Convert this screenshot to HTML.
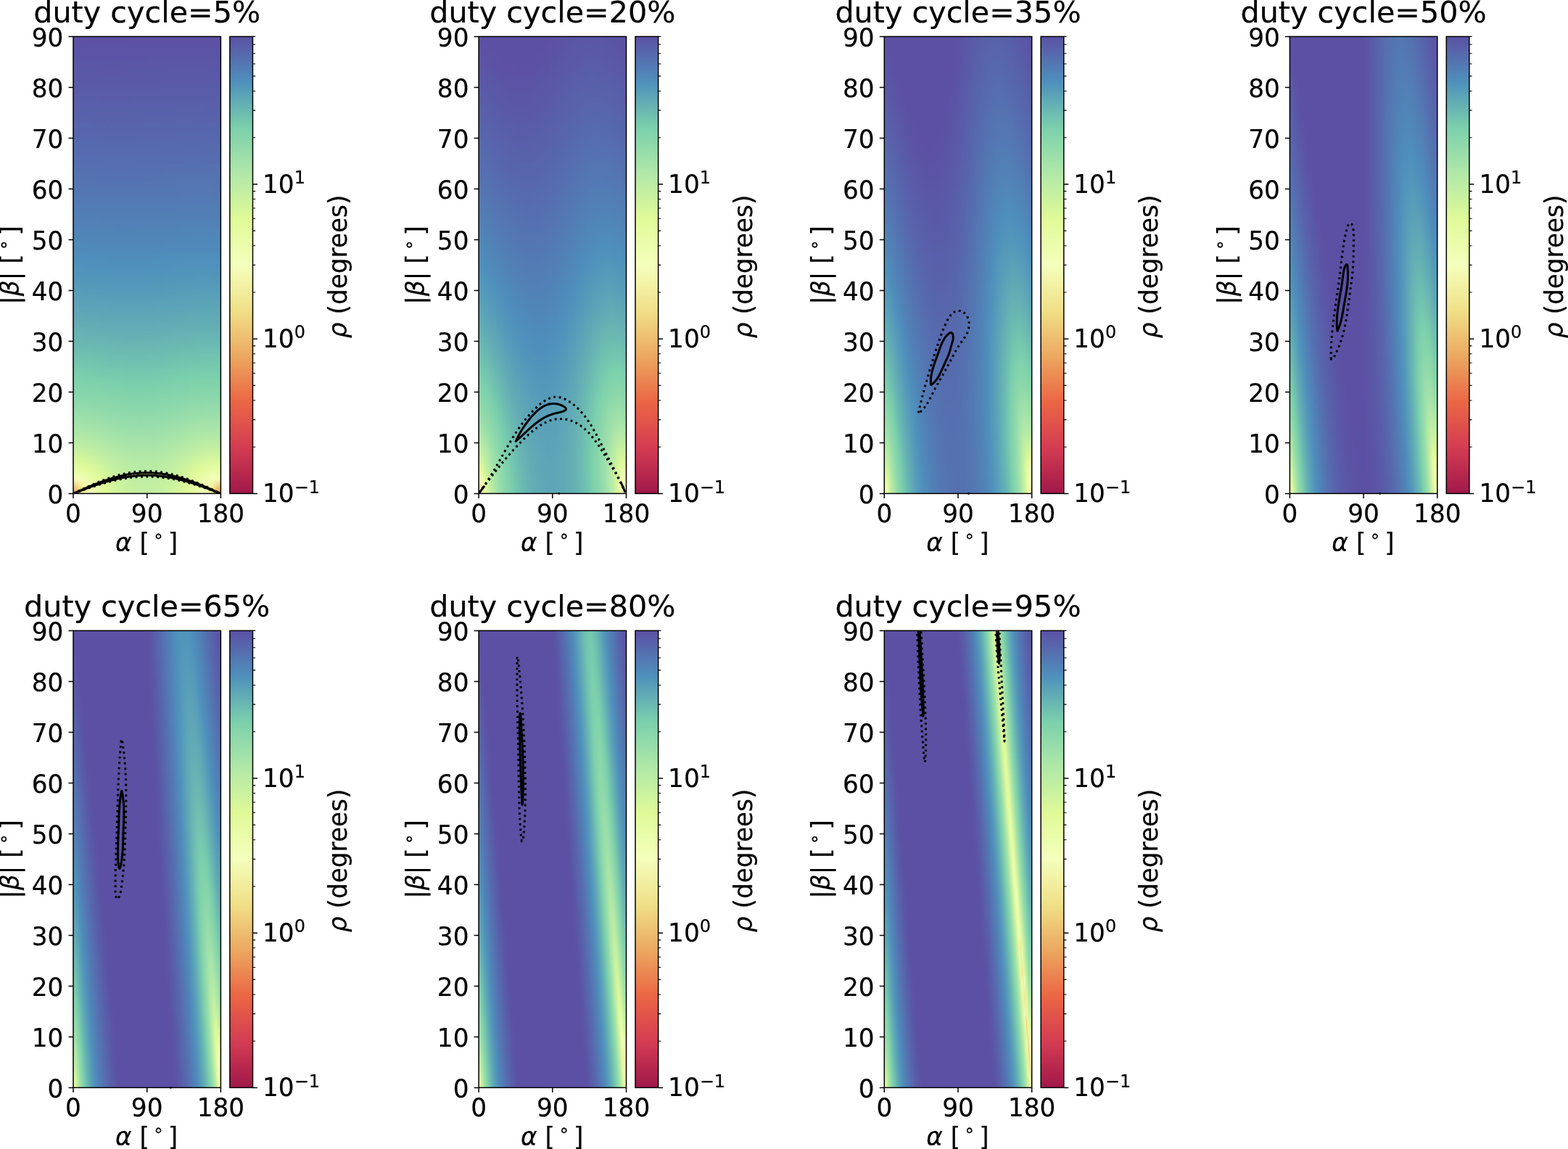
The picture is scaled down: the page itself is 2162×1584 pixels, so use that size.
<!DOCTYPE html>
<html lang="en"><head><meta charset="utf-8"><title>duty cycle</title>
<style>
html,body{margin:0;padding:0;background:#fff}
#fig{position:relative;width:2162px;height:1584px;overflow:hidden;background:#fff}
.hm{position:absolute;width:203.4px;height:630.0px;overflow:hidden}
.hb{position:absolute;left:-6px;top:-8px;width:216px;height:646.0px;display:flex;filter:blur(1.4px)}
.hb i{flex:0 0 3px;height:100%}
.cb{position:absolute;width:31.6px;height:630.0px}
svg{position:absolute;left:0;top:0}
text{font-family:"DejaVu Sans","Liberation Sans",sans-serif;fill:#000;stroke:#000;stroke-width:.2px}
.t{font-size:34.3px}
.ti{font-size:41.3px}
.su{font-size:24.0px}
.it{font-style:italic}
.deg{font-size:24.0px}
.sp{fill:none;stroke:#000;stroke-width:1.50}
.tk{fill:none;stroke:#000;stroke-width:1.50}
.mt{fill:none;stroke:#000;stroke-width:1.10}
.cs{fill:none;stroke:#000;stroke-width:3;stroke-linejoin:round}
.cd{fill:none;stroke:#000;stroke-width:3;stroke-dasharray:2.9 4.5;stroke-linejoin:round}
</style></head><body>
<div id="fig">
<div class="hm" style="left:101.0px;top:50.4px"><div class="hb"><i style="background:linear-gradient(#5c50a4,#5c51a4,#5b53a5,#5b55a6,#5a57a7,#5a59a8,#5a5ba8,#595ea9,#5860aa,#5863ab,#5765ac,#5768ad,#566bae,#566daf,#5571b0,#5473b1,#5476b2,#5379b3,#527cb5,#5180b6,#5183b7,#5087b9,#4f8bba,#4e8fbb,#5093bb,#5397ba,#569cb9,#5aa1b8,#5da6b7,#61abb5,#65b0b4,#69b6b3,#6dbcb1,#72c3af,#77cbad,#7dd1ac,#84d4ab,#8cd8ab,#95dcaa,#9ee0a9,#aae5a8,#b6eaa6,#c5f0a1,#d7f69b,#e6fca3,#f4fcb8,#edb86b,#ec9e5c)"></i><i style="background:linear-gradient(#5c50a4,#5c51a4,#5b53a5,#5b55a6,#5a57a7,#5a59a8,#5a5ba8,#595ea9,#5860aa,#5863ab,#5765ac,#5768ad,#566bae,#566daf,#5571b0,#5473b1,#5476b2,#5379b3,#527cb5,#5180b6,#5183b7,#5087b9,#4f8bba,#4e8fbb,#5093bb,#5397ba,#569cb9,#5aa1b8,#5da6b7,#61abb5,#65b0b4,#69b6b3,#6dbcb1,#72c3af,#77cbad,#7dd1ac,#84d4ab,#8cd8ab,#95dcaa,#9ee0a9,#aae5a8,#b6eaa6,#c5f0a1,#d7f69b,#e6fca3,#f4fcb8,#edb86b,#ec9e5c)"></i><i style="background:linear-gradient(#5c50a4,#5c51a4,#5b53a5,#5b55a6,#5a57a7,#5a59a8,#5a5ba8,#595ea9,#5860aa,#5863ab,#5765ac,#5768ad,#566bae,#566daf,#5571b0,#5473b1,#5476b2,#5379b3,#527cb5,#5180b6,#5183b7,#5087b9,#4f8bba,#4e8fbb,#5093bb,#5397ba,#569cb9,#5aa1b8,#5da6b7,#61abb5,#65b0b4,#69b6b3,#6dbcb1,#72c3af,#77cbad,#7dd1ac,#84d4ab,#8cd8ab,#95dcaa,#9ee0a9,#aae5a8,#b6eaa6,#c5f0a1,#d7f69b,#e6fca3,#f4fcb8,#edb86b,#ec9e5c)"></i><i style="background:linear-gradient(#5c50a4,#5c51a4,#5b53a5,#5b55a6,#5a57a7,#5a59a8,#5a5ba8,#595ea9,#5860aa,#5863ab,#5765ac,#5768ad,#566bae,#566daf,#5571b0,#5473b1,#5476b2,#5379b3,#527cb5,#5180b6,#5183b7,#5087b9,#4f8bba,#4e8fbb,#5093bb,#5397ba,#569cb9,#5aa1b8,#5da6b7,#61abb5,#65b0b4,#69b6b3,#6dbcb1,#72c3af,#77cbad,#7dd1ac,#84d4ab,#8cd8ab,#95dcaa,#9ee0a9,#aae5a8,#b6eaa6,#c4f0a1,#d7f69b,#e6fca3,#f4fdb9,#eec373,#ecae64)"></i><i style="background:linear-gradient(#5c50a4,#5c51a4,#5b53a5,#5b55a6,#5a57a7,#5a59a8,#5a5ba8,#595ea9,#5860aa,#5863ab,#5765ac,#5768ad,#566aae,#566daf,#5570b0,#5473b1,#5476b2,#5379b3,#527cb5,#5180b6,#5183b7,#5087b9,#4f8bba,#4e8fbb,#5093bb,#5397ba,#569cb9,#59a0b8,#5da5b7,#61abb5,#65b0b4,#69b6b3,#6dbcb1,#72c3af,#77caae,#7dd1ac,#84d4ab,#8cd8ab,#95dcaa,#9ee0a9,#a9e5a9,#b6eaa6,#c4efa1,#d6f69b,#e5fba1,#f4ffbb,#efd882,#efcc79)"></i><i style="background:linear-gradient(#5c50a4,#5c51a4,#5b53a5,#5b54a6,#5a57a7,#5a59a8,#5a5ba8,#595ea9,#5860aa,#5863ab,#5765ac,#5768ad,#566aae,#566daf,#5570b0,#5473b1,#5476b2,#5379b3,#527cb5,#5180b6,#5183b7,#5087b9,#4f8bba,#4e8fbb,#5093bb,#5397ba,#569cb9,#59a0b8,#5da5b7,#61abb5,#64b0b4,#69b6b3,#6dbcb1,#72c3af,#77caae,#7dd1ac,#83d4ab,#8bd7ab,#94dbaa,#9ee0a9,#a9e5a9,#b5eaa6,#c3efa2,#d4f69c,#e4fba0,#f2feb8,#f1e692,#f0e18a)"></i><i style="background:linear-gradient(#5c50a4,#5c51a4,#5b53a5,#5b54a6,#5a57a7,#5a59a7,#5a5ba8,#595ea9,#5860aa,#5863ab,#5765ac,#5768ad,#566aae,#566daf,#5570b0,#5473b1,#5476b2,#5379b3,#527cb5,#5280b6,#5183b7,#5087b9,#4f8bba,#4e8fbb,#5093bb,#5397ba,#569cb9,#59a0b8,#5da5b7,#60aab5,#64b0b4,#69b6b3,#6dbcb1,#71c2af,#77caae,#7cd1ac,#83d4ab,#8bd7ab,#94dbaa,#9de0a9,#a8e5a9,#b5eaa6,#c2efa2,#d3f59c,#e4fb9f,#f0feb4,#f2eea0,#f2ec9c)"></i><i style="background:linear-gradient(#5c50a4,#5c51a4,#5b53a5,#5b54a6,#5a57a7,#5a59a7,#5a5ba8,#595ea9,#5860aa,#5863ab,#5765ac,#5768ad,#566aae,#566daf,#5570b0,#5473b1,#5476b2,#5379b3,#527cb5,#5280b6,#5183b7,#5087b9,#4f8bba,#4e8fbb,#5092bb,#5397ba,#569bb9,#59a0b8,#5da5b7,#60aab5,#64b0b4,#68b5b3,#6dbcb1,#71c2af,#76c9ae,#7cd1ac,#83d4ab,#8bd7ab,#94dbaa,#9ddfa9,#a8e4a9,#b4e9a7,#c1efa2,#d2f59d,#e3fb9d,#eefdb1,#f3f6ad,#f3f4a9)"></i><i style="background:linear-gradient(#5c50a4,#5c51a4,#5b53a5,#5b54a6,#5a57a7,#5a59a7,#5a5ba8,#595ea9,#5860aa,#5863ab,#5765ac,#5768ad,#566aae,#566daf,#5570b0,#5473b1,#5476b2,#5379b3,#527cb5,#5280b6,#5183b7,#5087b9,#4f8aba,#4e8fbb,#5092bb,#5397ba,#569bb9,#59a0b8,#5da5b7,#60aab5,#64b0b4,#68b5b3,#6dbcb1,#71c2af,#76c9ae,#7cd0ac,#83d4ab,#8bd7ab,#93dbaa,#9cdfa9,#a7e4a9,#b3e9a7,#c0eea3,#d0f49d,#e2fa9b,#ebfdad,#f4fdb8,#f3fbb5)"></i><i style="background:linear-gradient(#5c50a4,#5c50a4,#5b53a5,#5b54a6,#5a57a7,#5a59a7,#5a5ba8,#595ea9,#5860aa,#5863ab,#5765ac,#5768ad,#566aae,#566daf,#5570b0,#5473b1,#5476b2,#5379b3,#527cb5,#5280b6,#5183b7,#5086b8,#4f8aba,#4e8fbb,#5092bb,#5397ba,#569bb9,#599fb8,#5ca4b7,#60aab5,#64afb4,#68b5b3,#6dbcb1,#71c2b0,#76c9ae,#7cd0ac,#82d3ab,#8ad7ab,#93dbaa,#9cdfaa,#a7e4a9,#b2e9a7,#bfeea3,#cff39e,#e0fa99,#eafca9,#f2feb8,#f3ffba)"></i><i style="background:linear-gradient(#5c50a4,#5c50a4,#5b53a5,#5b54a6,#5a57a7,#5a59a7,#5a5ba8,#595ea9,#5860aa,#5862ab,#5765ac,#5768ad,#566aae,#566daf,#5570b0,#5473b1,#5476b2,#5379b3,#527cb5,#5280b6,#5183b7,#5086b8,#4f8aba,#4e8ebb,#5092bb,#5397ba,#569bb9,#599fb8,#5ca4b7,#60a9b6,#64afb4,#68b5b3,#6cbbb1,#71c2b0,#76c9ae,#7bd0ac,#82d3ab,#8ad7ab,#92daaa,#9bdfaa,#a6e3a9,#b1e9a8,#beeda3,#cdf39e,#def999,#e8fca6,#effeb2,#effeb3)"></i><i style="background:linear-gradient(#5c50a4,#5c50a4,#5b53a5,#5b54a6,#5a57a7,#5a59a7,#5a5ba8,#595ea9,#5960aa,#5862ab,#5765ac,#5768ad,#566aae,#566daf,#5570b0,#5473b1,#5476b2,#5379b3,#527cb4,#5280b6,#5183b7,#5086b8,#4f8aba,#4e8ebb,#5092bb,#5397ba,#569bb9,#599fb8,#5ca4b7,#60a9b6,#64afb4,#68b5b3,#6cbbb1,#71c1b0,#76c9ae,#7bd0ac,#82d3ab,#8ad7ab,#91daaa,#9bdeaa,#a5e3a9,#b1e8a8,#bdeda4,#cbf29f,#dcf899,#e6fba2,#ecfdad,#ecfdae)"></i><i style="background:linear-gradient(#5c50a4,#5c50a4,#5b53a5,#5b54a6,#5a57a7,#5a59a7,#5a5ba8,#595ea9,#5960aa,#5862ab,#5765ac,#5768ad,#566aae,#566daf,#5570b0,#5472b1,#5476b2,#5379b3,#527cb4,#5280b6,#5183b7,#5086b8,#4f8aba,#4e8ebb,#5092bb,#5296ba,#559ab9,#599fb8,#5ca4b7,#60a9b6,#64afb4,#68b5b3,#6cbbb1,#71c1b0,#75c8ae,#7bd0ac,#82d3ab,#89d6ab,#91daaa,#9adeaa,#a5e3a9,#b0e8a8,#bceca4,#c9f2a0,#d9f79a,#e4fb9f,#e9fca8,#eafca9)"></i><i style="background:linear-gradient(#5c50a4,#5c50a4,#5b53a5,#5b54a6,#5a57a7,#5a59a7,#5a5ba8,#595ea9,#5960aa,#5862ab,#5765ac,#5768ad,#566aae,#566daf,#5570b0,#5472b1,#5476b2,#5379b3,#527cb4,#5280b6,#5183b7,#5086b8,#4f8aba,#4e8ebb,#4f92bc,#5296ba,#559ab9,#599fb8,#5ca4b7,#60a9b6,#63aeb4,#67b4b3,#6cbab1,#71c1b0,#75c8ae,#7bd0ac,#81d3ac,#89d6ab,#91daaa,#9adeaa,#a4e2a9,#afe8a8,#baeca5,#c8f1a0,#d6f69b,#e2fb9c,#e7fca4,#e7fca5)"></i><i style="background:linear-gradient(#5c50a4,#5c50a4,#5b53a5,#5b54a6,#5a57a7,#5a59a7,#5a5ba8,#595da9,#5960aa,#5862ab,#5765ac,#5767ad,#566aae,#566daf,#5570b0,#5472b1,#5476b2,#5379b3,#527cb4,#5280b6,#5183b7,#5086b8,#4f8aba,#4e8ebb,#4f92bc,#5296ba,#559ab9,#589fb8,#5ca4b7,#5fa9b6,#63aeb4,#67b4b3,#6cbab1,#70c1b0,#75c7ae,#7acfac,#81d3ac,#88d6ab,#90daaa,#99deaa,#a3e2a9,#aee7a8,#b9eca5,#c6f0a1,#d4f59c,#e1fa99,#e5fba0,#e5fba1)"></i><i style="background:linear-gradient(#5c50a4,#5c50a4,#5b53a5,#5b54a6,#5a57a7,#5a59a7,#5a5ba8,#595da9,#5960aa,#5862ab,#5765ac,#5767ad,#566aae,#566daf,#5570b0,#5472b1,#5476b2,#5379b3,#527cb4,#527fb6,#5183b7,#5086b8,#4f8aba,#4e8ebb,#4f92bc,#5296ba,#559ab9,#589fb8,#5ca4b7,#5fa9b6,#63aeb4,#67b4b3,#6cbab1,#70c1b0,#75c7ae,#7acfac,#81d3ac,#88d6ab,#90d9aa,#9da,#a2e2a9,#ade7a8,#b8eba5,#c4f0a1,#d1f49d,#def999,#e3fb9d,#e3fb9e)"></i><i style="background:linear-gradient(#5c50a4,#5c50a4,#5b53a5,#5b54a6,#5b56a6,#5a59a7,#5a5ba8,#595da9,#5960aa,#5862ab,#5765ac,#5767ad,#566aae,#566daf,#5570b0,#5472b1,#5476b2,#5379b3,#527cb4,#527fb6,#5183b7,#5086b8,#4f8aba,#4e8ebb,#4f92bc,#5296ba,#559ab9,#589fb8,#5ca4b7,#5fa9b6,#63aeb4,#67b4b3,#6bbab2,#70c0b0,#75c7ae,#7aceac,#80d2ac,#88d6ab,#8fd9aa,#98ddaa,#a2e1a9,#ace6a8,#b7eba6,#c2efa2,#cff39e,#daf89a,#e1fa9a,#e1fa9a)"></i><i style="background:linear-gradient(#5c50a4,#5c50a4,#5b53a5,#5b54a6,#5b56a6,#5a59a7,#5a5ba8,#595da9,#5960aa,#5862ab,#5765ac,#5767ad,#566aae,#566daf,#556fb0,#5472b1,#5476b2,#5379b3,#527cb4,#527fb6,#5183b7,#5086b8,#4f8aba,#4e8ebb,#4f92bc,#5296ba,#559ab9,#589fb8,#5ca4b7,#5fa9b6,#63aeb5,#67b3b3,#6bbab2,#70c0b0,#75c7ae,#7aceac,#80d2ac,#87d5ab,#8fd9aa,#97ddaa,#a1e1a9,#abe6a8,#b6eaa6,#c1eea2,#cdf39e,#d7f79b,#dffa98,#dffa98)"></i><i style="background:linear-gradient(#5c50a4,#5c50a4,#5b53a5,#5b54a6,#5b56a6,#5a59a7,#5a5ba8,#595da9,#5960aa,#5862ab,#5765ac,#5767ad,#566aae,#566daf,#556fb0,#5472b1,#5476b2,#5379b3,#527cb4,#527fb6,#5183b7,#5086b8,#4f8aba,#4f8dbb,#4f92bc,#5295bb,#559aba,#589fb8,#5ca3b7,#5fa8b6,#63aeb5,#67b3b3,#6bbab2,#70c0b0,#75c7ae,#79cead,#80d2ac,#87d5ab,#8ed9ab,#97ddaa,#a0e1a9,#aae5a8,#b5eaa6,#c0eea3,#caf29f,#d5f69c,#dbf89a,#dcf899)"></i><i style="background:linear-gradient(#5c50a4,#5c50a4,#5b53a5,#5b54a6,#5b56a6,#5a59a7,#5a5ba8,#595da9,#5960aa,#5862ab,#5765ac,#5767ad,#566aae,#566daf,#556fb0,#5472b1,#5476b2,#5379b3,#527cb4,#527fb6,#5183b7,#5086b8,#4f8aba,#4f8dbb,#4f92bc,#5295bb,#559aba,#589fb8,#5ca3b7,#5fa8b6,#63aeb5,#67b3b3,#6bb9b2,#6fbfb0,#74c6ae,#79cead,#7fd2ac,#87d5ab,#8ed9ab,#96dcaa,#9fe1a9,#a9e5a9,#b3e9a7,#beeda3,#c8f1a0,#d2f59d,#d8f79b,#d9f79a)"></i><i style="background:linear-gradient(#5c50a4,#5c50a4,#5b53a5,#5b54a6,#5b56a6,#5a59a7,#5a5ba8,#595da9,#5960aa,#5862ab,#5765ac,#5767ad,#566aae,#566daf,#556fb0,#5472b1,#5476b2,#5379b3,#527cb4,#527fb6,#5183b7,#5086b8,#4f8aba,#4f8dbb,#4f92bc,#5295bb,#559aba,#589eb8,#5ca3b7,#5fa8b6,#63aeb5,#67b3b3,#6bb9b2,#6fbfb0,#74c6ae,#79cdad,#7fd2ac,#86d5ab,#8dd8ab,#96dcaa,#9ee0a9,#a8e5a9,#b2e9a7,#bdeda4,#c7f0a0,#cff49e,#d5f69c,#d6f69b)"></i><i style="background:linear-gradient(#5c50a4,#5c50a4,#5b53a5,#5b54a6,#5b56a6,#5a59a7,#5a5ba8,#595da9,#5960aa,#5862ab,#5765ac,#5767ad,#566aae,#566daf,#556fb0,#5472b1,#5476b2,#5379b3,#527cb4,#527fb6,#5182b7,#5086b8,#4f8aba,#4f8dbb,#4f91bc,#5295bb,#559aba,#589eb8,#5ca3b7,#5fa8b6,#63adb5,#67b3b3,#6bb9b2,#6fbfb0,#74c6af,#79cdad,#7fd2ac,#86d5ab,#8dd8ab,#95dcaa,#9ee0a9,#a7e4a9,#b1e9a8,#bbeca4,#c5f0a1,#cdf39e,#d3f59c,#d3f59c)"></i><i style="background:linear-gradient(#5c50a4,#5c50a4,#5b53a5,#5b54a6,#5b56a6,#5a59a7,#5a5ba8,#595da9,#5960aa,#5862ab,#5765ac,#5767ad,#566aae,#566daf,#556fb0,#5472b1,#5476b2,#5379b3,#527cb4,#527fb6,#5182b7,#5086b8,#4f8aba,#4f8dbb,#4f91bc,#5295bb,#559aba,#589eb8,#5ca3b7,#5fa8b6,#63adb5,#67b3b3,#6ab8b2,#6fbfb0,#74c6af,#79ccad,#7fd2ac,#86d5ab,#8dd8ab,#95dcaa,#9de0a9,#a7e4a9,#b1e8a8,#baeca5,#c3efa2,#cbf29f,#d0f49d,#d0f49d)"></i><i style="background:linear-gradient(#5c50a4,#5c50a4,#5b53a5,#5b54a6,#5b56a6,#5a59a7,#5a5ba8,#595da9,#5960aa,#5862ab,#5765ac,#5767ad,#566aae,#566daf,#556fb0,#5472b1,#5476b2,#5379b3,#527cb4,#527fb6,#5182b7,#5086b8,#4f8aba,#4f8dbb,#4f91bc,#5295bb,#559aba,#589eb8,#5ca3b7,#5fa8b6,#63adb5,#67b3b3,#6ab8b2,#6fbfb0,#74c6af,#79ccad,#7ed2ac,#85d5ab,#8cd8ab,#94dbaa,#9ddfa9,#a6e4a9,#b0e8a8,#b9eba5,#c2efa2,#c9f2a0,#cef39e,#cff39e)"></i><i style="background:linear-gradient(#5c50a4,#5c50a4,#5b53a5,#5b54a6,#5a57a7,#5a59a7,#5a5ba8,#595da9,#5960aa,#5862ab,#5765ac,#5767ad,#566aae,#566daf,#556fb0,#5472b1,#5476b2,#5379b3,#527cb4,#527fb6,#5182b7,#5086b8,#4f8aba,#4f8dbb,#4f91bc,#5295bb,#559aba,#589eb8,#5ca3b7,#5fa8b6,#63adb5,#67b3b3,#6ab8b2,#6fbfb0,#74c6af,#79ccad,#7ed2ac,#85d5ab,#8cd8ab,#94dbaa,#9cdfa9,#a5e3a9,#afe8a8,#b8eba5,#c0eea3,#c8f1a0,#ccf39f,#cdf39e)"></i><i style="background:linear-gradient(#5c50a4,#5c50a4,#5b53a5,#5b54a6,#5a57a7,#5a59a7,#5a5ba8,#595da9,#5960aa,#5862ab,#5765ac,#5767ad,#566aae,#566daf,#556fb0,#5472b1,#5476b2,#5379b3,#527cb4,#527fb6,#5182b7,#5086b8,#4f8aba,#4f8dbb,#4f91bc,#5295bb,#559aba,#589eb8,#5ca3b7,#5fa8b6,#63adb5,#67b3b3,#6ab8b2,#6fbfb0,#73c5af,#78ccad,#7ed1ac,#85d4ab,#8cd8ab,#94dbaa,#9cdfaa,#a5e3a9,#aee7a8,#b7eba6,#bfeea3,#c6f0a1,#caf29f,#cbf29f)"></i><i style="background:linear-gradient(#5c50a4,#5c50a4,#5b53a5,#5b54a6,#5a57a7,#5a59a7,#5a5ba8,#595da9,#5960aa,#5862ab,#5765ac,#5767ad,#566aae,#566daf,#556fb0,#5472b1,#5476b2,#5379b3,#527cb4,#527fb6,#5182b7,#5086b8,#4f8aba,#4f8dbb,#4f91bc,#5295bb,#559aba,#589eb8,#5ba3b7,#5fa8b6,#63adb5,#66b2b3,#6ab8b2,#6fbfb0,#73c5af,#78ccad,#7ed1ac,#85d4ab,#8cd8ab,#93dbaa,#9bdfaa,#a4e3a9,#ade7a8,#b6eaa6,#beeda3,#c5f0a1,#c9f1a0,#c9f1a0)"></i><i style="background:linear-gradient(#5c50a4,#5c50a4,#5b53a5,#5b54a6,#5a57a7,#5a59a7,#5a5ba8,#595da9,#5960aa,#5862ab,#5765ac,#5767ad,#566aae,#566daf,#556fb0,#5472b1,#5476b2,#5379b3,#527cb4,#527fb6,#5182b7,#5086b8,#4f8aba,#4f8dbb,#4f91bc,#5295bb,#559aba,#589eb8,#5ba3b7,#5fa8b6,#63adb5,#66b2b3,#6ab8b2,#6ebeb0,#73c5af,#78ccad,#7ed1ac,#85d4ab,#8bd7ab,#93dbaa,#9bdfaa,#a4e2a9,#ade7a8,#b5eaa6,#bdeda4,#c4efa1,#c8f1a0,#c8f1a0)"></i><i style="background:linear-gradient(#5c50a4,#5c50a4,#5b53a5,#5b54a6,#5a57a7,#5a59a7,#5a5ba8,#595ea9,#5960aa,#5862ab,#5765ac,#5767ad,#566aae,#566daf,#556fb0,#5472b1,#5476b2,#5379b3,#527cb4,#527fb6,#5182b7,#5086b8,#4f8aba,#4f8dbb,#4f91bc,#5295bb,#559aba,#589eb8,#5ba3b7,#5fa8b6,#63adb5,#66b2b3,#6ab8b2,#6ebeb0,#73c5af,#78ccad,#7ed1ac,#84d4ab,#8bd7ab,#93dbaa,#9bdeaa,#a3e2a9,#ace6a8,#b5eaa6,#bceda4,#c2efa2,#c6f0a1,#c7f0a0)"></i><i style="background:linear-gradient(#5c50a4,#5c51a4,#5b53a5,#5b54a6,#5a57a7,#5a59a7,#5a5ba8,#595ea9,#5960aa,#5862ab,#5765ac,#5767ad,#566aae,#566daf,#556fb0,#5472b1,#5476b2,#5379b3,#527cb4,#527fb6,#5182b7,#5086b8,#4f8aba,#4f8dbb,#4f91bc,#5295bb,#559aba,#589eb8,#5ba3b7,#5fa8b6,#63adb5,#66b2b3,#6ab8b2,#6ebeb0,#73c5af,#78ccad,#7ed1ac,#84d4ab,#8bd7ab,#93dbaa,#9adeaa,#a3e2a9,#ace6a8,#b4eaa7,#bceca4,#c1efa2,#c5f0a1,#c5f0a1)"></i><i style="background:linear-gradient(#5c50a4,#5c51a4,#5b53a5,#5b54a6,#5a57a7,#5a59a7,#5a5ba8,#595ea9,#5960aa,#5862ab,#5765ac,#5767ad,#566aae,#566daf,#556fb0,#5472b1,#5476b2,#5379b3,#527cb4,#527fb6,#5182b7,#5086b8,#4f8aba,#4f8dbb,#4f91bc,#5295bb,#559aba,#589eb8,#5ba3b7,#5fa8b6,#63adb5,#66b2b3,#6ab8b2,#6ebeb0,#73c5af,#78ccad,#7dd1ac,#84d4ab,#8bd7ab,#93dbaa,#9adeaa,#a3e2a9,#abe6a8,#b4e9a7,#bbeca4,#c1eea2,#c4f0a1,#c4f0a1)"></i><i style="background:linear-gradient(#5c50a4,#5c51a4,#5b53a5,#5b54a6,#5a57a7,#5a59a7,#5a5ba8,#595ea9,#5960aa,#5862ab,#5765ac,#5767ad,#566aae,#566daf,#5570b0,#5472b1,#5476b2,#5379b3,#527cb4,#527fb6,#5183b7,#5086b8,#4f8aba,#4f8dbb,#4f91bc,#5295bb,#559aba,#589eb8,#5ba3b7,#5fa8b6,#63adb5,#66b2b3,#6ab8b2,#6ebeb0,#73c5af,#78ccad,#7dd1ac,#84d4ab,#8bd7ab,#93dbaa,#9adeaa,#a3e2a9,#abe6a8,#b3e9a7,#baeca5,#c0eea3,#c3efa2,#c4efa1)"></i><i style="background:linear-gradient(#5c50a4,#5c51a4,#5b53a5,#5b54a6,#5a57a7,#5a59a7,#5a5ba8,#595ea9,#5860aa,#5862ab,#5765ac,#5768ad,#566aae,#566daf,#5570b0,#5472b1,#5476b2,#5379b3,#527cb4,#527fb6,#5183b7,#5086b8,#4f8aba,#4f8dbb,#4f91bc,#5295bb,#559aba,#589eb8,#5ba3b7,#5fa8b6,#63adb5,#66b2b3,#6ab8b2,#6ebeb0,#73c5af,#78ccad,#7dd1ac,#84d4ab,#8bd7ab,#92daaa,#9adeaa,#a3e2a9,#abe6a8,#b3e9a7,#baeca5,#c0eea3,#c3efa2,#c3efa2)"></i><i style="background:linear-gradient(#5c50a4,#5c51a4,#5b53a5,#5b54a6,#5a57a7,#5a59a7,#5a5ba8,#595ea9,#5860aa,#5862ab,#5765ac,#5768ad,#566aae,#566daf,#5570b0,#5472b1,#5476b2,#5379b3,#527cb4,#527fb6,#5183b7,#5086b8,#4f8aba,#4f8dbb,#4f91bc,#5295bb,#559aba,#589eb8,#5ca3b7,#5fa8b6,#63adb5,#66b2b3,#6ab8b2,#6ebeb0,#73c5af,#78ccad,#7dd1ac,#84d4ab,#8bd7ab,#92daaa,#9adeaa,#a2e2a9,#abe6a8,#b3e9a7,#baeca5,#c0eea3,#c2efa2,#c3efa2)"></i><i style="background:linear-gradient(#5c50a4,#5c51a4,#5b53a5,#5b54a6,#5a57a7,#5a59a7,#5a5ba8,#595ea9,#5860aa,#5863ab,#5765ac,#5768ad,#566aae,#566daf,#5570b0,#5472b1,#5476b2,#5379b3,#527cb4,#527fb6,#5183b7,#5086b8,#4f8aba,#4f8dbb,#4f92bc,#5295bb,#559aba,#589eb8,#5ca3b7,#5fa8b6,#63adb5,#67b3b3,#6ab8b2,#6ebeb0,#73c5af,#78ccad,#7dd1ac,#84d4ab,#8bd7ab,#93dbaa,#9adeaa,#a2e2a9,#abe6a8,#b3e9a7,#baeca5,#bfeea3,#c2efa2,#c2efa2)"></i><i style="background:linear-gradient(#5c50a4,#5c51a4,#5b53a5,#5b55a6,#5a57a7,#5a59a8,#5a5ba8,#595ea9,#5860aa,#5863ab,#5765ac,#5768ad,#566aae,#566daf,#5570b0,#5472b1,#5476b2,#5379b3,#527cb4,#527fb6,#5183b7,#5086b8,#4f8aba,#4f8dbb,#4f92bc,#5295bb,#559aba,#589eb8,#5ca3b7,#5fa8b6,#63adb5,#67b3b3,#6ab8b2,#6fbfb0,#73c5af,#78ccad,#7ed1ac,#84d4ab,#8bd7ab,#93dbaa,#9adeaa,#a3e2a9,#abe6a8,#b3e9a7,#baeca5,#bfeea3,#c2efa2,#c2efa2)"></i><i style="background:linear-gradient(#5c50a4,#5c51a4,#5b53a5,#5b55a6,#5a57a7,#5a59a8,#5a5ba8,#595ea9,#5860aa,#5863ab,#5765ac,#5768ad,#566aae,#566daf,#5570b0,#5472b1,#5476b2,#5379b3,#527cb4,#527fb6,#5183b7,#5086b8,#4f8aba,#4f8dbb,#4f92bc,#5295bb,#559aba,#589eb8,#5ca3b7,#5fa8b6,#63adb5,#67b3b3,#6ab8b2,#6fbfb0,#73c5af,#78ccad,#7ed1ac,#84d4ab,#8bd7ab,#93dbaa,#9adeaa,#a3e2a9,#abe6a8,#b3e9a7,#baeca5,#bfeea3,#c2efa2,#c2efa2)"></i><i style="background:linear-gradient(#5c50a4,#5c51a4,#5b53a5,#5b55a6,#5a57a7,#5a59a8,#5a5ba8,#595ea9,#5860aa,#5863ab,#5765ac,#5768ad,#566aae,#566daf,#5570b0,#5473b1,#5476b2,#5379b3,#527cb4,#5280b6,#5183b7,#5086b8,#4f8aba,#4e8ebb,#4f92bc,#5295bb,#559aba,#589fb8,#5ca3b7,#5fa8b6,#63adb5,#67b3b3,#6ab8b2,#6fbfb0,#73c5af,#78ccad,#7ed1ac,#85d4ab,#8bd7ab,#93dbaa,#9adeaa,#a3e2a9,#abe6a8,#b3e9a7,#baeca5,#c0eea3,#c2efa2,#c2efa2)"></i><i style="background:linear-gradient(#5c50a4,#5c51a4,#5b53a5,#5b55a6,#5a57a7,#5a59a8,#5a5ba8,#595ea9,#5860aa,#5863ab,#5765ac,#5768ad,#566aae,#566daf,#5570b0,#5473b1,#5476b2,#5379b3,#527cb4,#5280b6,#5183b7,#5086b8,#4f8aba,#4e8ebb,#4f92bc,#5296ba,#559aba,#589fb8,#5ca3b7,#5fa8b6,#63adb5,#67b3b3,#6ab8b2,#6fbfb0,#74c6af,#79ccad,#7ed1ac,#85d4ab,#8bd7ab,#93dbaa,#9bdeaa,#a3e2a9,#abe6a8,#b3e9a7,#baeca5,#c0eea3,#c3efa2,#c3efa2)"></i><i style="background:linear-gradient(#5c50a4,#5c51a4,#5b53a5,#5b55a6,#5a57a7,#5a59a8,#5a5ba8,#595ea9,#5860aa,#5863ab,#5765ac,#5768ad,#566aae,#566daf,#5570b0,#5473b1,#5476b2,#5379b3,#527cb5,#5280b6,#5183b7,#5086b8,#4f8aba,#4e8ebb,#4f92bc,#5296ba,#559ab9,#589fb8,#5ca3b7,#5fa8b6,#63aeb5,#67b3b3,#6bb9b2,#6fbfb0,#74c6af,#79ccad,#7ed2ac,#85d4ab,#8cd8ab,#93dbaa,#9bdeaa,#a4e2a9,#ace6a8,#b4e9a7,#bbeca4,#c0eea3,#c3efa2,#c3efa2)"></i><i style="background:linear-gradient(#5c50a4,#5c51a4,#5b53a5,#5b55a6,#5a57a7,#5a59a8,#5a5ba8,#595ea9,#5860aa,#5863ab,#5765ac,#5768ad,#566aae,#566daf,#5570b0,#5473b1,#5476b2,#5379b3,#527cb5,#5280b6,#5183b7,#5086b8,#4f8aba,#4e8ebb,#4f92bc,#5296ba,#559ab9,#589fb8,#5ca4b7,#5fa9b6,#63aeb5,#67b3b3,#6bb9b2,#6fbfb0,#74c6af,#79ccad,#7ed2ac,#85d5ab,#8cd8ab,#94dbaa,#9bdfaa,#a4e2a9,#ace6a8,#b4eaa7,#bceca4,#c1eea2,#c4efa1,#c4efa1)"></i><i style="background:linear-gradient(#5c50a4,#5c51a4,#5b53a5,#5b55a6,#5a57a7,#5a59a8,#595ca8,#595ea9,#5860aa,#5863ab,#5765ac,#5768ad,#566aae,#566daf,#5570b0,#5473b1,#5476b2,#5379b3,#527cb5,#5280b6,#5183b7,#5086b8,#4f8aba,#4e8ebb,#4f92bc,#5296ba,#559ab9,#589fb8,#5ca4b7,#5fa9b6,#63aeb5,#67b3b3,#6bb9b2,#6fbfb0,#74c6ae,#79cdad,#7fd2ac,#85d5ab,#8cd8ab,#94dbaa,#9cdfaa,#a4e3a9,#ade7a8,#b5eaa6,#bceda4,#c2efa2,#c5f0a1,#c5f0a1)"></i><i style="background:linear-gradient(#5c50a4,#5c51a4,#5b53a5,#5b55a6,#5a57a7,#5a59a8,#595ca8,#595ea9,#5860aa,#5863ab,#5765ac,#5768ad,#566aae,#566daf,#5570b0,#5473b1,#5476b2,#5379b3,#527cb5,#5280b6,#5183b7,#5086b8,#4f8aba,#4e8ebb,#5092bb,#5296ba,#559ab9,#589fb8,#5ca4b7,#5fa9b6,#63aeb5,#67b3b3,#6bbab2,#6fbfb0,#74c6ae,#79cdad,#7fd2ac,#86d5ab,#8dd8ab,#94dbaa,#9cdfa9,#a5e3a9,#ade7a8,#b6eaa6,#bdeda4,#c3efa2,#c6f0a1,#c6f0a1)"></i><i style="background:linear-gradient(#5c50a4,#5c51a4,#5b53a5,#5b55a6,#5a57a7,#5a59a8,#595ca8,#595ea9,#5860aa,#5863ab,#5765ac,#5768ad,#566bae,#566daf,#5570b0,#5473b1,#5476b2,#5379b3,#527cb5,#5280b6,#5183b7,#5086b8,#4f8aba,#4e8ebb,#5092bb,#5296ba,#559ab9,#599fb8,#5ca4b7,#5fa9b6,#63aeb4,#67b3b3,#6bbab2,#70c0b0,#74c6ae,#79cead,#7fd2ac,#86d5ab,#8dd8ab,#95dcaa,#9ddfa9,#a6e3a9,#aee7a8,#b7eaa6,#beeda3,#c4efa1,#c7f0a0,#c7f1a0)"></i><i style="background:linear-gradient(#5c50a4,#5c51a4,#5b53a5,#5b55a6,#5a57a7,#5a59a8,#595ca8,#595ea9,#5860aa,#5863ab,#5765ac,#5768ad,#566bae,#566daf,#5571b0,#5473b1,#5476b2,#5379b3,#527cb5,#5280b6,#5183b7,#5087b9,#4f8aba,#4e8fbb,#5092bb,#5397ba,#569bb9,#599fb8,#5ca4b7,#5fa9b6,#63aeb4,#67b4b3,#6bbab2,#70c0b0,#75c7ae,#79cead,#7fd2ac,#86d5ab,#8dd8ab,#95dcaa,#9de0a9,#a6e4a9,#afe8a8,#b8eba5,#bfeea3,#c5f0a1,#c8f1a0,#c8f1a0)"></i><i style="background:linear-gradient(#5c50a4,#5c51a4,#5b53a5,#5b55a6,#5a58a7,#5a59a8,#595ca8,#595ea9,#5860aa,#5863ab,#5765ac,#5768ad,#566bae,#566daf,#5571b0,#5473b1,#5476b2,#5379b3,#527cb5,#5280b6,#5183b7,#5087b9,#4f8bba,#4e8fbb,#5092bb,#5397ba,#569bb9,#599fb8,#5ca4b7,#60a9b6,#63aeb4,#67b4b3,#6cbab1,#70c1b0,#75c7ae,#7aceac,#80d2ac,#87d5ab,#8ed9ab,#96dcaa,#9ee0a9,#a7e4a9,#b0e8a8,#b8eba5,#c0eea3,#c7f0a0,#c9f2a0,#caf29f)"></i><i style="background:linear-gradient(#5c50a4,#5c51a4,#5b53a5,#5b55a6,#5a58a7,#5a59a8,#595ca8,#595ea9,#5860aa,#5863ab,#5765ac,#5768ad,#566bae,#566daf,#5571b0,#5473b1,#5476b2,#5379b3,#527cb5,#5180b6,#5183b7,#5087b9,#4f8bba,#4e8fbb,#5092bb,#5397ba,#569bb9,#599fb8,#5ca4b7,#60a9b6,#63aeb4,#67b4b3,#6cbab1,#70c1b0,#75c7ae,#7aceac,#80d2ac,#87d5ab,#8ed9ab,#96dcaa,#9ee0a9,#a8e4a9,#b1e8a8,#b9eca5,#c2efa2,#c8f1a0,#cbf29f,#cbf29f)"></i><i style="background:linear-gradient(#5c50a4,#5c51a4,#5b53a5,#5b55a6,#5a58a7,#5a59a8,#595ca8,#595ea9,#5860aa,#5863ab,#5765ac,#5768ad,#566bae,#566daf,#5571b0,#5473b1,#5476b2,#5379b3,#527cb5,#5180b6,#5183b7,#5087b9,#4f8bba,#4e8fbb,#5092bb,#5397ba,#569bb9,#599fb8,#5ca4b7,#60a9b6,#64afb4,#68b5b3,#6cbab1,#70c1b0,#75c7ae,#7acfac,#80d2ac,#87d5ab,#8ed9ab,#97ddaa,#9fe1a9,#a8e5a9,#b2e9a7,#bbeca4,#c3efa2,#caf29f,#cdf39e,#cdf39e)"></i><i style="background:linear-gradient(#5c50a4,#5c51a4,#5b53a5,#5b55a6,#5a58a7,#5a59a8,#595ca8,#595ea9,#5860aa,#5863ab,#5765ac,#5768ad,#566bae,#566daf,#5571b0,#5474b1,#5476b2,#5379b3,#527cb5,#5180b6,#5183b7,#5087b9,#4f8bba,#4e8fbb,#5093bb,#5397ba,#569bb9,#59a0b8,#5ca4b7,#60a9b6,#64afb4,#68b5b3,#6cbbb1,#71c1b0,#75c8ae,#7acfac,#81d3ac,#88d6ab,#8fd9aa,#97ddaa,#a0e1a9,#a9e5a9,#b3e9a7,#bceda4,#c5f0a1,#ccf29f,#cff49e,#cff49e)"></i><i style="background:linear-gradient(#5c50a4,#5c51a4,#5b53a5,#5b55a6,#5a58a7,#5a59a8,#595ca8,#595ea9,#5861aa,#5863ab,#5766ac,#5768ad,#566bae,#566daf,#5571b0,#5474b1,#5476b2,#5379b3,#527db5,#5180b6,#5183b7,#5087b9,#4f8bba,#4e8fbb,#5093bb,#5397ba,#569bb9,#59a0b8,#5da5b7,#60aab5,#64afb4,#68b5b3,#6cbbb1,#71c1b0,#75c8ae,#7bd0ac,#81d3ac,#88d6ab,#8fd9aa,#98ddaa,#a1e1a9,#aae5a8,#b4e9a7,#beeda3,#c7f0a0,#cef39e,#d1f59d,#d1f59d)"></i><i style="background:linear-gradient(#5c50a4,#5c51a4,#5b53a5,#5b55a6,#5a58a7,#5a59a8,#595ca8,#595ea9,#5861aa,#5863ab,#5766ac,#5768ad,#566bae,#566daf,#5571b0,#5474b1,#5476b2,#5379b3,#527db5,#5180b6,#5183b7,#5087b9,#4f8bba,#4e8fbb,#5093bb,#5397ba,#569cb9,#59a0b8,#5da5b7,#60aab5,#64b0b4,#68b5b3,#6cbbb1,#71c2b0,#75c8ae,#7bd0ac,#81d3ac,#88d6ab,#90d9aa,#98ddaa,#a2e1a9,#abe6a8,#b5eaa6,#bfeea3,#c8f1a0,#d0f49d,#d4f59c,#d4f69c)"></i><i style="background:linear-gradient(#5c50a4,#5c51a4,#5b53a5,#5b55a6,#5a58a7,#5a59a8,#595ca8,#595ea9,#5861aa,#5863ab,#5766ac,#5768ad,#566bae,#566daf,#5571b0,#5474b1,#5477b3,#537ab4,#527db5,#5180b6,#5184b7,#5087b9,#4f8bba,#4e8fbb,#5093bb,#5397ba,#569cb9,#59a0b8,#5da5b7,#60aab5,#64b0b4,#68b5b3,#6dbcb1,#71c2b0,#76c9ae,#7bd0ac,#81d3ac,#89d6ab,#90daaa,#9da,#a2e2a9,#ace6a8,#b6eaa6,#c0eea3,#caf29f,#d3f59c,#d7f69b,#d7f79b)"></i><i style="background:linear-gradient(#5c50a4,#5c51a4,#5b53a5,#5b55a6,#5a58a7,#5a59a8,#595ca8,#595ea9,#5861aa,#5863ab,#5766ac,#5768ad,#566bae,#566daf,#5571b0,#5474b1,#5477b3,#537ab4,#527db5,#5180b6,#5184b7,#5087b9,#4f8bba,#4e8fbc,#5093bb,#5397ba,#569cb9,#59a0b8,#5da5b7,#60aab5,#64b0b4,#68b5b3,#6dbcb1,#71c2b0,#76c9ae,#7bd0ac,#82d3ab,#89d6ab,#91daaa,#9adeaa,#a3e2a9,#ade7a8,#b8eba5,#c2efa2,#cdf39e,#d5f69c,#daf89a,#daf89a)"></i><i style="background:linear-gradient(#5c50a4,#5c51a4,#5b53a5,#5b55a6,#5a58a7,#5a59a8,#595ca8,#595ea9,#5861aa,#5863ab,#5766ac,#5768ad,#566bae,#556eaf,#5571b0,#5474b1,#5477b3,#537ab4,#527db5,#5180b6,#5184b7,#5087b9,#4f8bba,#4e8fbc,#5093bb,#5397ba,#569cb9,#5aa1b8,#5da5b7,#61abb5,#64b0b4,#68b5b3,#6dbcb1,#71c2af,#76c9ae,#7cd0ac,#82d3ab,#8ad7ab,#91daaa,#9adeaa,#a4e2a9,#aee7a8,#b8eba5,#c4efa1,#cff39e,#d8f79b,#ddf999,#ddf999)"></i><i style="background:linear-gradient(#5c50a4,#5c51a4,#5b53a5,#5b55a6,#5a58a7,#5a59a8,#595ca8,#595ea9,#5861aa,#5863ab,#5766ac,#5768ad,#566bae,#556eaf,#5571b0,#5474b1,#5477b3,#537ab4,#527db5,#5180b6,#5184b7,#5088b9,#4f8bba,#4e8fbc,#5093bb,#5397ba,#569cb9,#5aa1b8,#5da5b7,#61abb5,#64b0b4,#69b6b3,#6dbcb1,#71c2af,#76c9ae,#7cd0ac,#82d3ab,#8ad7ab,#92daaa,#9bdeaa,#a4e3a9,#afe8a8,#baeca5,#c5f0a1,#d1f49d,#dbf89a,#e0fa99,#e0fa99)"></i><i style="background:linear-gradient(#5c50a4,#5c51a4,#5b53a5,#5b55a6,#5a58a7,#5a59a8,#595ca8,#595ea9,#5861aa,#5863ab,#5766ac,#5768ad,#566bae,#556eaf,#5571b0,#5474b1,#5477b3,#537ab4,#527db5,#5180b6,#5184b7,#5088b9,#4f8bba,#4e8fbc,#5093bb,#5397ba,#569cb9,#5aa1b8,#5da6b7,#61abb5,#65b0b4,#69b6b3,#6dbcb1,#71c2af,#77caae,#7cd1ac,#83d4ab,#8ad7ab,#93dbaa,#9bdfaa,#a5e3a9,#b0e8a8,#bbeca4,#c7f1a0,#d4f59c,#def999,#e2fa9b,#e2fb9c)"></i><i style="background:linear-gradient(#5c50a4,#5c51a4,#5b53a5,#5b55a6,#5a58a7,#5a59a8,#595ca8,#595ea9,#5861aa,#5863ab,#5766ac,#5768ad,#566bae,#556eaf,#5571b0,#5474b1,#5477b3,#537ab4,#527db5,#5180b6,#5184b7,#5088b9,#4f8bba,#4e8fbc,#5093bb,#5397ba,#569cb9,#5aa1b8,#5da6b7,#61abb5,#65b0b4,#69b6b3,#6dbcb1,#72c3af,#77caae,#7cd1ac,#83d4ab,#8bd7ab,#93dbaa,#9cdfaa,#a6e3a9,#b1e8a8,#bceda4,#c9f1a0,#d6f69b,#e1fa9a,#e4fb9f,#e4fb9f)"></i><i style="background:linear-gradient(#5c50a4,#5c51a4,#5b53a5,#5b55a6,#5a58a7,#5a59a8,#595ca8,#595ea9,#5861aa,#5863ab,#5766ac,#5768ad,#566bae,#556eaf,#5571b0,#5474b1,#5477b3,#537ab4,#527db5,#5180b6,#5184b7,#5088b9,#4f8bba,#4e8fbc,#5194bb,#5397ba,#579cb9,#5aa1b8,#5da6b7,#61abb5,#65b0b4,#69b6b3,#6dbcb1,#72c3af,#77caae,#7dd1ac,#83d4ab,#8bd7ab,#93dbaa,#9cdfa9,#a7e4a9,#b2e9a7,#beeda3,#cbf29f,#d9f79a,#e3fb9d,#e6fba2,#e6fba2)"></i><i style="background:linear-gradient(#5c50a4,#5c51a4,#5b53a5,#5b55a6,#5a58a7,#5a59a8,#595ca8,#595ea9,#5861aa,#5863ab,#5766ac,#5768ad,#566bae,#556eaf,#5571b0,#5474b1,#5477b3,#537ab4,#527db5,#5180b6,#5184b7,#5088b9,#4f8bba,#4e8fbc,#5194bb,#5397ba,#579cb9,#5aa1b8,#5da6b7,#61abb5,#65b0b4,#69b7b2,#6dbcb1,#72c3af,#77cbad,#7dd1ac,#83d4ab,#8bd7ab,#94dbaa,#9ddfa9,#a7e4a9,#b2e9a7,#bfeda3,#ccf39f,#dcf899,#e4fba0,#e8fca6,#e8fca7)"></i><i style="background:linear-gradient(#5c50a4,#5c51a4,#5b53a5,#5b55a6,#5a58a7,#5a59a8,#595ca8,#595ea9,#5861aa,#5863ab,#5766ac,#5768ad,#566bae,#556eaf,#5571b0,#5474b1,#5477b3,#537ab4,#527db5,#5180b6,#5184b7,#5088b9,#4f8bba,#4e8fbc,#5194bb,#5397ba,#579cb9,#5aa1b8,#5da6b7,#61abb5,#65b0b4,#69b7b2,#6ebdb1,#72c3af,#77cbad,#7dd1ac,#84d4ab,#8bd7ab,#94dbaa,#9de0a9,#a8e4a9,#b3e9a7,#c0eea3,#cef39e,#def999,#e6fca3,#eafdab,#ebfdab)"></i><i style="background:linear-gradient(#5c50a4,#5c51a4,#5b53a5,#5b55a6,#5a58a7,#5a59a8,#595ca8,#595ea9,#5861aa,#5863ab,#5766ac,#5768ad,#566bae,#556eaf,#5571b0,#5474b1,#5477b3,#537ab4,#527db5,#5180b6,#5184b7,#5088b9,#4f8bba,#4e8fbc,#5194bb,#5498ba,#579cb9,#5aa1b8,#5da6b7,#61abb5,#65b0b4,#69b7b2,#6ebdb1,#72c4af,#77cbad,#7dd1ac,#84d4ab,#8cd8ab,#94dbaa,#9ee0a9,#a8e5a9,#b4eaa7,#c1eea2,#d0f49d,#e0fa99,#e8fca6,#edfdb0,#edfdb0)"></i><i style="background:linear-gradient(#5c50a4,#5c51a4,#5b53a5,#5b55a6,#5a58a7,#5a59a8,#595ca8,#595ea9,#5861aa,#5863ab,#5766ac,#5768ad,#566bae,#556eaf,#5571b0,#5474b1,#5477b3,#537ab4,#527db5,#5180b6,#5184b7,#5088b9,#4f8bba,#4e8fbc,#5194bb,#5498ba,#579cb9,#5aa1b8,#5da6b7,#61abb5,#65b0b4,#69b7b2,#6ebdb1,#72c4af,#77cbad,#7dd1ac,#84d4ab,#8cd8ab,#95dcaa,#9ee0a9,#a9e5a9,#b5eaa6,#c2efa2,#d1f59d,#e2fa9b,#eafcaa,#f0feb5,#f1feb6)"></i><i style="background:linear-gradient(#5c50a4,#5c51a4,#5b53a5,#5b55a6,#5a58a7,#5a59a8,#595ca8,#595ea9,#5860aa,#5863ab,#5766ac,#5768ad,#566bae,#566daf,#5571b0,#5474b1,#5477b3,#537ab4,#527db5,#5180b6,#5184b7,#5088b9,#4f8bba,#4e8fbc,#5194bb,#5498ba,#579cb9,#5aa1b8,#5da6b7,#61abb5,#65b1b4,#69b7b2,#6ebdb1,#72c4af,#77cbad,#7dd1ac,#85d4ab,#8cd8ab,#95dcaa,#9ee0a9,#a9e5a9,#b5eaa6,#c3efa2,#d3f59c,#e3fb9d,#ecfdae,#f4ffbb,#f4ffbc)"></i><i style="background:linear-gradient(#5c50a4,#5c51a4,#5b53a5,#5b55a6,#5a58a7,#5a59a8,#595ca8,#595ea9,#5860aa,#5863ab,#5765ac,#5768ad,#566bae,#566daf,#5571b0,#5474b1,#5477b3,#537ab4,#527db5,#5180b6,#5184b7,#5088b9,#4f8bba,#4e8fbc,#5194bb,#5397ba,#579cb9,#5aa1b8,#5da6b7,#61abb5,#65b1b4,#69b7b2,#6ebdb1,#72c4af,#77cbad,#7dd1ac,#85d4ab,#8cd8ab,#95dcaa,#9ee0a9,#aae5a8,#b6eaa6,#c3efa2,#d4f69c,#e4fb9f,#eefeb2,#f3f9b3,#f3f8b1)"></i><i style="background:linear-gradient(#5c50a4,#5c51a4,#5b53a5,#5b55a6,#5a57a7,#5a59a8,#595ca8,#595ea9,#5860aa,#5863ab,#5765ac,#5768ad,#566bae,#566daf,#5571b0,#5474b1,#5477b3,#537ab4,#527db5,#5180b6,#5184b7,#5088b9,#4f8bba,#4e8fbc,#5194bb,#5397ba,#579cb9,#5aa1b8,#5da6b7,#61abb5,#65b1b4,#69b7b2,#6ebdb1,#72c4af,#78cbad,#7dd1ac,#85d4ab,#8cd8ab,#95dcaa,#9fe0a9,#aae5a8,#b6eaa6,#c4f0a1,#d5f69c,#e4fba0,#f0feb5,#f2f2a7,#f2f1a4)"></i><i style="background:linear-gradient(#5c50a4,#5c51a4,#5b53a5,#5b55a6,#5a57a7,#5a59a8,#595ca8,#595ea9,#5860aa,#5863ab,#5765ac,#5768ad,#566bae,#566daf,#5571b0,#5474b1,#5477b3,#537ab4,#527db5,#5180b6,#5184b7,#5088b9,#4f8bba,#4e8fbc,#5194bb,#5397ba,#579cb9,#5aa1b8,#5da6b7,#61abb5,#65b0b4,#69b7b2,#6ebdb1,#72c4af,#78cbad,#7dd1ac,#85d4ab,#8cd8ab,#95dcaa,#9fe0a9,#aae5a8,#b7eaa6,#c5f0a1,#d6f69b,#e5fba1,#f2ffb9,#f1ea99,#f1e896)"></i><i style="background:linear-gradient(#5c50a4,#5c51a4,#5b53a5,#5b55a6,#5a57a7,#5a59a8,#595ca8,#595ea9,#5860aa,#5863ab,#5765ac,#5768ad,#566bae,#566daf,#5571b0,#5474b1,#5476b2,#537ab4,#527db5,#5180b6,#5184b7,#5088b9,#4f8bba,#4e8fbc,#5093bb,#5397ba,#579cb9,#5aa1b8,#5da6b7,#61abb5,#65b0b4,#69b7b2,#6ebdb1,#72c4af,#78cbad,#7dd1ac,#85d4ab,#8cd8ab,#95dcaa,#9fe0a9,#aae5a8,#b7eaa6,#c5f0a1,#d7f79b,#e6fca3,#f4ffbc,#f0e189,#f0da84)"></i><i style="background:linear-gradient(#5c50a4,#5c51a4,#5b53a5,#5b55a6,#5a57a7,#5a59a8,#595ca8,#595ea9,#5860aa,#5863ab,#5765ac,#5768ad,#566bae,#566daf,#5571b0,#5474b1,#5476b2,#5379b3,#527db5,#5180b6,#5184b7,#5087b9,#4f8bba,#4e8fbc,#5093bb,#5397ba,#569cb9,#5aa1b8,#5da6b7,#61abb5,#65b0b4,#69b7b2,#6ebdb1,#72c4af,#77cbad,#7dd1ac,#85d4ab,#8cd8ab,#95dcaa,#9fe0a9,#aae5a8,#b7eaa6,#c5f0a1,#d7f79b,#e6fca4,#f4fdb9,#efcd7b,#eec172)"></i><i style="background:linear-gradient(#5c50a4,#5c51a4,#5b53a5,#5b55a6,#5a57a7,#5a59a8,#595ca8,#595ea9,#5860aa,#5863ab,#5765ac,#5768ad,#566bae,#566daf,#5571b0,#5473b1,#5476b2,#5379b3,#527db5,#5180b6,#5184b7,#5087b9,#4f8bba,#4e8fbc,#5093bb,#5397ba,#569cb9,#5aa1b8,#5da6b7,#61abb5,#65b0b4,#69b7b2,#6ebdb1,#72c4af,#77cbad,#7dd1ac,#85d4ab,#8cd8ab,#95dcaa,#9fe0a9,#aae5a8,#b7eaa6,#c5f0a1,#d7f79b,#e7fca4,#f4fcb7,#edb96c,#eca05c)"></i><i style="background:linear-gradient(#5c50a4,#5c51a4,#5b53a5,#5b55a6,#5a57a7,#5a59a8,#5a5ba8,#595ea9,#5860aa,#5863ab,#5765ac,#5768ad,#566bae,#566daf,#5571b0,#5473b1,#5476b2,#5379b3,#527db5,#5180b6,#5184b7,#5087b9,#4f8bba,#4e8fbc,#5093bb,#5397ba,#569cb9,#5aa1b8,#5da6b7,#61abb5,#65b0b4,#69b7b2,#6ebdb1,#72c4af,#77cbad,#7dd1ac,#85d4ab,#8cd8ab,#95dcaa,#9fe0a9,#aae5a8,#b7eaa6,#c5f0a1,#d7f79b,#e7fca4,#f4fcb6,#edb368,#ec9e5c)"></i><i style="background:linear-gradient(#5c50a4,#5c51a4,#5b53a5,#5b55a6,#5a57a7,#5a59a8,#5a5ba8,#595ea9,#5860aa,#5863ab,#5765ac,#5768ad,#566bae,#566daf,#5571b0,#5473b1,#5476b2,#5379b3,#527db5,#5180b6,#5184b7,#5087b9,#4f8bba,#4e8fbc,#5093bb,#5397ba,#569cb9,#5aa1b8,#5da6b7,#61abb5,#65b0b4,#69b7b2,#6ebdb1,#72c4af,#77cbad,#7dd1ac,#85d4ab,#8cd8ab,#95dcaa,#9fe0a9,#aae5a8,#b7eaa6,#c5f0a1,#d7f79b,#e7fca4,#f4fcb6,#edb368,#ec9e5c)"></i><i style="background:linear-gradient(#5c50a4,#5c51a4,#5b53a5,#5b55a6,#5a57a7,#5a59a8,#5a5ba8,#595ea9,#5860aa,#5863ab,#5765ac,#5768ad,#566bae,#566daf,#5571b0,#5473b1,#5476b2,#5379b3,#527db5,#5180b6,#5184b7,#5087b9,#4f8bba,#4e8fbc,#5093bb,#5397ba,#569cb9,#5aa1b8,#5da6b7,#61abb5,#65b0b4,#69b7b2,#6ebdb1,#72c4af,#77cbad,#7dd1ac,#85d4ab,#8cd8ab,#95dcaa,#9fe0a9,#aae5a8,#b7eaa6,#c5f0a1,#d7f79b,#e7fca4,#f4fcb6,#edb368,#ec9e5c)"></i></div></div>
<div class="cb" style="left:316.9px;top:50.4px;background:linear-gradient(#5c50a4,#4e90bc,#7bd0ac,#b0e8a8,#e0fa98,#f4ffbc,#f0e088,#eca860,#eb6644,#d43c52,#a1184a)"></div>
<div class="hm" style="left:660.1px;top:50.4px"><div class="hb"><i style="background:linear-gradient(#5c50a4,#5c50a4,#5c52a5,#5b54a6,#5b56a6,#5a59a7,#5a5ba8,#595da9,#5960aa,#5862ab,#5765ac,#5767ad,#566aae,#566daf,#556fb0,#5472b1,#5476b2,#5379b3,#527cb4,#527fb6,#5183b7,#5086b8,#4f8aba,#4e8ebb,#4f92bc,#5296ba,#559ab9,#599fb8,#5ca4b7,#60a9b6,#64afb4,#68b5b3,#6cbbb1,#71c2b0,#76c9ae,#7bd0ac,#82d3ab,#8ad7ab,#93dbaa,#9cdfaa,#a7e4a9,#b3e9a7,#c0eea3,#d1f49d,#e3fb9d,#effeb3,#f2f1a4,#f2f1a4)"></i><i style="background:linear-gradient(#5c50a4,#5c50a4,#5c52a5,#5b54a6,#5b56a6,#5a59a7,#5a5ba8,#595da9,#5960aa,#5862ab,#5765ac,#5767ad,#566aae,#566daf,#556fb0,#5472b1,#5476b2,#5379b3,#527cb4,#527fb6,#5183b7,#5086b8,#4f8aba,#4e8ebb,#4f92bc,#5296ba,#559ab9,#599fb8,#5ca4b7,#60a9b6,#64afb4,#68b5b3,#6cbbb1,#71c2b0,#76c9ae,#7bd0ac,#82d3ab,#8ad7ab,#93dbaa,#9cdfaa,#a7e4a9,#b3e9a7,#c0eea3,#d1f49d,#e3fb9d,#effeb3,#f2f1a4,#f2f1a4)"></i><i style="background:linear-gradient(#5c50a4,#5c50a4,#5c52a5,#5b54a6,#5b56a6,#5a59a7,#5a5ba8,#595da9,#5960aa,#5862ab,#5765ac,#5767ad,#566aae,#566daf,#556fb0,#5472b1,#5476b2,#5379b3,#527cb4,#527fb6,#5183b7,#5086b8,#4f8aba,#4e8ebb,#4f92bc,#5296ba,#559ab9,#599fb8,#5ca4b7,#60a9b6,#64afb4,#68b5b3,#6cbbb1,#71c2b0,#76c9ae,#7bd0ac,#82d3ab,#8ad7ab,#93dbaa,#9cdfaa,#a7e4a9,#b3e9a7,#c0eea3,#d1f49d,#e3fb9d,#effeb3,#f2f1a4,#f2f1a4)"></i><i style="background:linear-gradient(#5c50a4,#5c50a4,#5c52a5,#5b54a5,#5b56a6,#5a58a7,#5a5ba8,#595da9,#5960aa,#5862ab,#5765ac,#5767ad,#566aae,#566caf,#556fb0,#5572b1,#5475b2,#5378b3,#537bb4,#527fb6,#5182b7,#5086b8,#4f8aba,#4f8dbb,#4f91bc,#5295bb,#559aba,#589fb8,#5ca3b7,#5fa9b6,#63aeb5,#67b3b3,#6bbab2,#70c1b0,#75c7ae,#7acfac,#81d3ac,#89d6ab,#91daaa,#9adeaa,#a4e3a9,#b1e8a8,#bdeda4,#ccf39f,#dffa98,#eafcaa,#f4fcb7,#f3f9b3)"></i><i style="background:linear-gradient(#5c50a4,#5c50a4,#5c51a4,#5b53a5,#5b56a6,#5a58a7,#5a5aa8,#595da9,#595faa,#5861aa,#5863ab,#5767ac,#5769ad,#566cae,#556faf,#5571b0,#5474b2,#5377b3,#537bb4,#527eb5,#5181b7,#5185b8,#5088b9,#4f8cbb,#4e90bc,#5194bb,#5499ba,#579db9,#5ba2b8,#5ea7b6,#62acb5,#66b2b4,#6ab8b2,#6ebeb0,#73c5af,#79ccad,#7ed2ac,#86d5ab,#8dd8ab,#96dcaa,#9fe1a9,#abe6a8,#b7eaa6,#c3efa2,#d3f59c,#e2fa9b,#e9fca7,#eafca9)"></i><i style="background:linear-gradient(#5c50a4,#5c50a4,#5c51a4,#5b53a5,#5b55a6,#5a57a7,#5a59a8,#595ca8,#595ea9,#5860aa,#5863ab,#5765ac,#5768ad,#566bae,#566daf,#5571b0,#5474b1,#5476b2,#5379b3,#527db5,#5180b6,#5183b7,#5087b9,#4f8bba,#4e8fbb,#5093bb,#5397ba,#569cb9,#59a0b8,#5da5b7,#60aab5,#64b0b4,#68b5b3,#6dbcb1,#71c2af,#76c9ae,#7cd0ac,#82d3ab,#8ad7ab,#92daaa,#9bdeaa,#a5e3a9,#b0e8a8,#baeca5,#c7f0a0,#d3f59c,#dffa98,#e0fa98)"></i><i style="background:linear-gradient(#5c50a4,#5c50a4,#5c50a4,#5b53a5,#5b54a6,#5a57a7,#5a59a7,#5a5ba8,#595ea9,#5960aa,#5862ab,#5765ac,#5767ad,#566aae,#566daf,#5570b0,#5472b1,#5476b2,#5379b3,#527cb4,#527fb6,#5183b7,#5086b8,#4f8aba,#4f8dbb,#4f92bc,#5295bb,#559aba,#589fb8,#5ca3b7,#5fa8b6,#63aeb5,#67b3b3,#6bb9b2,#6fbfb0,#74c6ae,#79cdad,#7fd2ac,#86d5ab,#8dd8ab,#96dcaa,#9ee0a9,#a8e5a9,#b2e9a7,#bceca4,#c6f0a1,#cef39e,#cff49e)"></i><i style="background:linear-gradient(#5c50a4,#5c50a4,#5c50a4,#5c52a5,#5b54a5,#5b56a6,#5a58a7,#5a5ba8,#595da9,#595faa,#5862ab,#5864ac,#5767ac,#5769ad,#566caf,#556faf,#5572b1,#5474b2,#5377b3,#537bb4,#527eb5,#5181b7,#5085b8,#5088b9,#4f8cbb,#4e90bc,#5194bb,#5499ba,#579db9,#5aa1b8,#5ea6b6,#61abb5,#65b1b4,#69b7b2,#6ebdb1,#72c3af,#77caae,#7cd0ac,#82d3ab,#89d6ab,#90daaa,#9da,#a1e1a9,#aae5a8,#b2e9a7,#baeca5,#c1eea2,#c1efa2)"></i><i style="background:linear-gradient(#5c50a4,#5c50a4,#5c50a4,#5c51a4,#5b53a5,#5b56a6,#5a58a7,#5a5aa8,#595da9,#595ea9,#5861aa,#5863ab,#5766ac,#5768ad,#566cae,#556eaf,#5571b0,#5474b1,#5477b3,#537ab4,#527db5,#5180b6,#5184b7,#5087b9,#4f8bba,#4e8fbb,#5093bb,#5397ba,#569bb9,#599fb8,#5ca4b7,#60a9b6,#63aeb4,#67b4b3,#6bbab2,#70c0b0,#74c6ae,#79cdad,#7fd2ac,#85d5ab,#8cd8ab,#93dbaa,#9adeaa,#a2e1a9,#a9e5a9,#b0e8a8,#b6eaa6,#b6eaa6)"></i><i style="background:linear-gradient(#5c50a4,#5c50a4,#5c50a4,#5c51a4,#5b53a5,#5b55a6,#5a58a7,#5a59a8,#595ca8,#595ea9,#5860aa,#5863ab,#5765ac,#5768ad,#566aae,#566daf,#5570b0,#5473b1,#5476b2,#5379b3,#527cb4,#527fb6,#5183b7,#5086b8,#4f8aba,#4f8dbb,#4f91bc,#5295bb,#5499ba,#589eb9,#5ba3b7,#5ea7b6,#62acb5,#66b2b4,#6ab7b2,#6ebdb1,#71c2af,#76c9ae,#7bd0ac,#81d3ac,#87d5ab,#8dd8ab,#94dbaa,#9adeaa,#a1e1a9,#a7e4a9,#ace6a8,#ace6a8)"></i><i style="background:linear-gradient(#5c50a4,#5c50a4,#5c50a4,#5c51a4,#5b53a5,#5b54a6,#5a57a7,#5a59a7,#5a5ba8,#595da9,#5960aa,#5862ab,#5765ac,#5767ad,#566aae,#566caf,#556fb0,#5572b1,#5475b2,#5378b3,#537bb4,#527eb5,#5181b7,#5185b8,#5088b9,#4f8cbb,#4e90bc,#5194bb,#5498ba,#569cb9,#5aa1b8,#5da5b7,#60aab5,#64afb4,#67b4b3,#6bbab2,#6fbfb0,#74c6af,#78ccad,#7dd1ac,#82d3ab,#88d6ab,#8ed9ab,#94dbaa,#99deaa,#9ee0a9,#a3e2a9,#a3e2a9)"></i><i style="background:linear-gradient(#5c50a4,#5c50a4,#5c50a4,#5c50a4,#5c52a5,#5b54a6,#5b56a6,#5a58a7,#5a5ba8,#595da9,#595faa,#5862ab,#5864ac,#5767ac,#5769ad,#566cae,#556faf,#5571b0,#5474b2,#5477b3,#537ab4,#527db5,#5180b6,#5184b7,#5087b9,#4f8bba,#4e8fbb,#5092bb,#5296ba,#559ab9,#589eb8,#5ca3b7,#5fa8b6,#62adb5,#66b2b4,#69b7b2,#6dbcb1,#71c2b0,#75c7ae,#79cdad,#7ed1ac,#83d4ab,#88d6ab,#8dd8ab,#93dbaa,#97ddaa,#9adeaa,#9bdeaa)"></i><i style="background:linear-gradient(#5c50a4,#5c50a4,#5c50a4,#5c50a4,#5c52a5,#5b54a5,#5b56a6,#5a58a7,#5a5aa8,#595da9,#595ea9,#5861aa,#5863ab,#5766ac,#5768ad,#566bae,#566daf,#5571b0,#5473b1,#5476b2,#5379b3,#527cb4,#5280b6,#5183b7,#5086b8,#4f8aba,#4f8dbb,#4e90bc,#5194bb,#5499ba,#579cb9,#5aa1b8,#5da5b7,#60aab5,#63aeb4,#67b3b3,#6ab8b2,#6ebeb0,#72c3af,#76c9ae,#7aceac,#7fd2ac,#83d4ab,#88d6ab,#8cd8ab,#90d9aa,#94dbaa,#94dbaa)"></i><i style="background:linear-gradient(#5c50a4,#5c50a4,#5c50a4,#5c50a4,#5c51a4,#5b53a5,#5b56a6,#5a58a7,#5a5aa8,#595ca8,#595ea9,#5860aa,#5863ab,#5765ac,#5768ad,#566aae,#566daf,#5570b0,#5472b1,#5475b2,#5378b3,#537bb4,#527eb5,#5181b7,#5185b8,#5088b9,#4f8bba,#4e8fbc,#5093bb,#5397ba,#559ab9,#589fb8,#5ca3b7,#5fa8b6,#62acb5,#65b1b4,#68b5b3,#6cbab1,#6fbfb0,#73c5af,#77caae,#7acfac,#7fd2ac,#83d4ab,#87d5ab,#8ad7ab,#8dd8ab,#8dd8ab)"></i><i style="background:linear-gradient(#5c50a4,#5c50a4,#5c50a4,#5c50a4,#5c51a4,#5b53a5,#5b55a6,#5a58a7,#5a59a8,#5a5ba8,#595ea9,#5860aa,#5862ab,#5765ac,#5767ad,#566aae,#566caf,#556faf,#5572b1,#5474b2,#5377b3,#537ab4,#527db5,#5180b6,#5183b7,#5087b9,#4f8aba,#4e8ebb,#4f91bc,#5195bb,#5499ba,#579db9,#5aa1b8,#5da5b7,#60a9b6,#63aeb5,#67b3b3,#6ab7b2,#6dbcb1,#70c1b0,#74c6af,#77cbad,#7acfac,#7ed1ac,#81d3ac,#85d4ab,#87d5ab,#88d6ab)"></i><i style="background:linear-gradient(#5c50a4,#5c50a4,#5c50a4,#5c50a4,#5c51a4,#5b53a5,#5b55a6,#5a57a7,#5a59a7,#5a5ba8,#595da9,#5960aa,#5862ab,#5864ac,#5767ac,#5769ad,#566cae,#556eaf,#5571b0,#5474b1,#5476b2,#5379b3,#527cb5,#5280b6,#5183b7,#5086b8,#5089b9,#4f8dbb,#4e90bc,#5194bb,#5397ba,#569bb9,#589fb8,#5ca3b7,#5ea7b6,#61abb5,#64b0b4,#67b4b3,#6ab8b2,#6ebdb1,#71c2b0,#74c6ae,#77cbad,#7aceac,#7dd1ac,#80d2ac,#82d3ab,#82d3ab)"></i><i style="background:linear-gradient(#5c50a4,#5c50a4,#5c50a4,#5c50a4,#5c51a4,#5b53a5,#5b54a6,#5a57a7,#5a59a7,#5a5ba8,#595da9,#595faa,#5862ab,#5864ac,#5766ac,#5768ad,#566bae,#566daf,#5571b0,#5473b1,#5476b2,#5379b3,#537bb4,#527eb5,#5181b7,#5185b8,#5088b9,#4f8bba,#4e8fbb,#5092bb,#5295bb,#5499ba,#579db9,#5aa1b8,#5da5b7,#5fa9b6,#63adb5,#65b1b4,#68b5b3,#6bbab2,#6ebeb0,#71c2b0,#74c6af,#76c9ae,#79cdad,#7bd0ac,#7dd1ac,#7dd1ac)"></i><i style="background:linear-gradient(#5c50a4,#5c50a4,#5c50a4,#5c50a4,#5c51a4,#5b53a5,#5b54a6,#5b56a6,#5a59a7,#5a5ba8,#595da9,#595faa,#5861aa,#5863ab,#5766ac,#5768ad,#566bae,#566daf,#5570b0,#5472b1,#5475b2,#5378b3,#537bb4,#527eb5,#5181b6,#5184b7,#5087b9,#4f8aba,#4f8dbb,#4e90bc,#5194bb,#5498ba,#569bb9,#589fb8,#5ba3b7,#5ea7b6,#61abb5,#63aeb4,#66b2b3,#69b7b2,#6cbab1,#6ebeb0,#71c2b0,#73c5af,#75c8ae,#78cbad,#79cead,#79cead)"></i><i style="background:linear-gradient(#5c50a4,#5c50a4,#5c50a4,#5c50a4,#5c51a4,#5b53a5,#5b54a6,#5b56a6,#5a58a7,#5a5ba8,#595da9,#595ea9,#5861aa,#5863ab,#5765ac,#5768ad,#566aae,#566daf,#556fb0,#5572b1,#5474b2,#5377b3,#537ab4,#527db5,#5280b6,#5183b7,#5086b8,#5089b9,#4f8cbb,#4e8fbc,#5093bb,#5296ba,#559aba,#589eb9,#5aa1b8,#5ca4b7,#5fa8b6,#62acb5,#64b0b4,#67b3b3,#6ab7b2,#6cbab1,#6ebeb0,#71c1b0,#72c4af,#74c6ae,#76c9ae,#76c9ae)"></i><i style="background:linear-gradient(#5c50a4,#5c50a4,#5c50a4,#5c50a4,#5c51a4,#5b53a5,#5b54a6,#5b56a6,#5a58a7,#5a5aa8,#595da9,#595ea9,#5860aa,#5863ab,#5765ac,#5767ad,#566aae,#566caf,#556faf,#5571b0,#5474b1,#5477b3,#5379b3,#527cb4,#527fb6,#5182b7,#5185b8,#5088b9,#4f8bba,#4e8ebb,#4f92bc,#5195bb,#5498ba,#569cb9,#589fb8,#5ba3b7,#5ea6b6,#60a9b6,#63adb5,#65b1b4,#67b4b3,#6ab7b2,#6cbab1,#6ebdb1,#70c0b0,#71c2af,#73c4af,#73c4af)"></i><i style="background:linear-gradient(#5c50a4,#5c50a4,#5c50a4,#5c50a4,#5c50a4,#5c52a5,#5b54a6,#5b56a6,#5a58a7,#5a5aa8,#595ca8,#595ea9,#5860aa,#5863ab,#5765ac,#5767ad,#566aae,#566caf,#556eaf,#5571b0,#5474b1,#5476b2,#5379b3,#537bb4,#527eb5,#5181b6,#5184b7,#5087b9,#4f8aba,#4f8dbb,#4e90bc,#5194bb,#5397ba,#559aba,#589eb9,#5aa1b8,#5ca4b7,#5fa8b6,#61abb5,#63aeb5,#66b2b4,#67b4b3,#6ab7b2,#6bbab2,#6dbcb1,#6fbfb0,#70c1b0,#70c1b0)"></i><i style="background:linear-gradient(#5c50a4,#5c50a4,#5c50a4,#5c50a4,#5c51a4,#5b53a5,#5b54a6,#5b56a6,#5a58a7,#5a5aa8,#595ca8,#595ea9,#5860aa,#5862ab,#5765ac,#5767ad,#5769ad,#566cae,#556eaf,#5571b0,#5473b1,#5476b2,#5378b3,#537bb4,#527eb5,#5180b6,#5183b7,#5086b8,#5089b9,#4f8cbb,#4e8fbc,#5092bb,#5295bb,#5499ba,#569cb9,#589fb8,#5ba3b7,#5da6b7,#5fa9b6,#62acb5,#63aeb4,#66b2b4,#67b4b3,#69b7b2,#6bb9b2,#6cbbb1,#6ebdb1,#6ebdb1)"></i><i style="background:linear-gradient(#5c50a4,#5c50a4,#5c50a4,#5c50a4,#5c51a4,#5b53a5,#5b54a6,#5b56a6,#5a58a7,#5a5aa8,#595ca8,#595ea9,#5860aa,#5862ab,#5765ac,#5767ac,#5769ad,#566cae,#556eaf,#5570b0,#5472b1,#5475b2,#5378b3,#537bb4,#527db5,#5280b6,#5183b7,#5085b8,#5088b9,#4f8bba,#4e8fbb,#4f91bc,#5194bb,#5397ba,#559ab9,#589eb9,#5aa1b8,#5ca4b7,#5ea7b6,#60a9b6,#62adb5,#64afb4,#66b2b4,#67b4b3,#69b6b3,#6ab8b2,#6bbab2,#6bbab2)"></i><i style="background:linear-gradient(#5c50a4,#5c50a4,#5c50a4,#5c50a4,#5c51a4,#5b53a5,#5b54a6,#5b56a6,#5a58a7,#5a5aa8,#595ca8,#595ea9,#5860aa,#5862ab,#5765ac,#5767ac,#5769ad,#566cae,#566daf,#5570b0,#5472b1,#5475b2,#5377b3,#537ab4,#527cb5,#5280b6,#5182b7,#5185b8,#5088b9,#4f8bba,#4f8dbb,#4e90bc,#5194bb,#5296ba,#5499ba,#579cb9,#599fb8,#5ba2b8,#5da5b7,#5fa8b6,#60aab5,#63adb5,#64afb4,#66b2b4,#67b3b3,#68b5b3,#69b7b2,#69b7b2)"></i><i style="background:linear-gradient(#5c50a4,#5c50a4,#5c50a4,#5c50a4,#5c51a4,#5b53a5,#5b54a6,#5b56a6,#5a58a7,#5a5aa8,#595ca8,#595ea9,#5860aa,#5862ab,#5765ac,#5767ac,#5769ad,#566bae,#566daf,#5570b0,#5472b1,#5475b2,#5377b3,#537ab4,#527cb5,#527fb6,#5181b7,#5185b8,#5087b9,#4f8aba,#4f8dbb,#4e90bc,#5092bb,#5295bb,#5498ba,#569bb9,#589eb9,#5aa1b8,#5ca3b7,#5da6b7,#5fa8b6,#61abb5,#63adb5,#64afb4,#65b1b4,#66b2b3,#67b3b3,#67b4b3)"></i><i style="background:linear-gradient(#5c50a4,#5c50a4,#5c50a4,#5c50a4,#5c51a4,#5b53a5,#5b54a6,#5b56a6,#5a58a7,#5a5aa8,#595da9,#595ea9,#5860aa,#5862ab,#5765ac,#5767ac,#5769ad,#566bae,#566daf,#5570b0,#5472b1,#5474b2,#5477b3,#5379b3,#527cb4,#527fb6,#5181b7,#5184b7,#5086b8,#4f8aba,#4f8cbb,#4e8fbc,#4f92bc,#5194bb,#5397ba,#559aba,#579db9,#599fb8,#5ba2b8,#5ca4b7,#5ea7b6,#5fa9b6,#61abb5,#63adb5,#63aeb4,#65b0b4,#66b2b4,#66b2b4)"></i><i style="background:linear-gradient(#5c50a4,#5c50a4,#5c50a4,#5c50a4,#5c51a4,#5b53a5,#5b55a6,#5a57a7,#5a59a7,#5a5ba8,#595da9,#595ea9,#5860aa,#5863ab,#5765ac,#5767ac,#5769ad,#566cae,#566daf,#5570b0,#5472b1,#5474b2,#5477b3,#5379b3,#527cb4,#527eb5,#5181b6,#5184b7,#5086b8,#5089b9,#4f8bba,#4e8fbb,#4f91bc,#5194bb,#5397ba,#5499ba,#569cb9,#589eb8,#5aa1b8,#5ca3b7,#5da6b7,#5fa8b6,#60a9b6,#61abb5,#62adb5,#63aeb5,#64afb4,#64afb4)"></i><i style="background:linear-gradient(#5c50a4,#5c50a4,#5c50a4,#5c50a4,#5c52a5,#5b53a5,#5b55a6,#5a57a7,#5a59a7,#5a5ba8,#595da9,#595faa,#5861aa,#5863ab,#5765ac,#5767ad,#5769ad,#566cae,#566daf,#5570b0,#5472b1,#5474b2,#5477b3,#5379b3,#527cb4,#527eb5,#5181b6,#5183b7,#5086b8,#5089b9,#4f8bba,#4e8ebb,#4e90bc,#5093bb,#5296ba,#5499ba,#569bb9,#589eb9,#599fb8,#5ba2b8,#5ca4b7,#5ea6b6,#5fa8b6,#60a9b6,#61abb5,#62adb5,#63adb5,#63adb5)"></i><i style="background:linear-gradient(#5c50a4,#5c50a4,#5c50a4,#5c50a4,#5c52a5,#5b54a5,#5b56a6,#5a58a7,#5a59a8,#5a5ba8,#595da9,#595faa,#5861aa,#5863ab,#5765ac,#5767ad,#566aae,#566cae,#556eaf,#5570b0,#5472b1,#5475b2,#5477b3,#5379b3,#527cb4,#527eb5,#5181b6,#5183b7,#5086b8,#5088b9,#4f8bba,#4e8ebb,#4e90bc,#5093bb,#5295bb,#5498ba,#559ab9,#579cb9,#589fb8,#5aa1b8,#5ca3b7,#5da5b7,#5ea7b6,#5fa8b6,#60a9b6,#61abb5,#61abb5,#61abb5)"></i><i style="background:linear-gradient(#5c50a4,#5c50a4,#5c50a4,#5c51a4,#5b53a5,#5b54a6,#5b56a6,#5a58a7,#5a59a8,#5a5ba8,#595da9,#5960aa,#5862ab,#5863ab,#5765ac,#5768ad,#566aae,#566caf,#556eaf,#5571b0,#5472b1,#5475b2,#5377b3,#537ab4,#527cb4,#527eb5,#5181b6,#5183b7,#5086b8,#5088b9,#4f8bba,#4f8dbb,#4e90bc,#5092bb,#5195bb,#5397ba,#559aba,#569cb9,#589eb8,#59a0b8,#5ba2b8,#5ca4b7,#5da6b7,#5ea7b6,#5fa8b6,#60a9b6,#60aab5,#60aab5)"></i><i style="background:linear-gradient(#5c50a4,#5c50a4,#5c50a4,#5c51a4,#5b53a5,#5b54a6,#5b56a6,#5a58a7,#5a5aa8,#595ca8,#595ea9,#5960aa,#5862ab,#5864ac,#5766ac,#5768ad,#566aae,#566caf,#556faf,#5571b0,#5473b1,#5475b2,#5377b3,#537ab4,#527cb5,#527fb6,#5181b7,#5183b7,#5086b8,#5088b9,#4f8bba,#4f8dbb,#4e90bc,#5092bb,#5195bb,#5397ba,#5499ba,#569cb9,#589eb9,#599fb8,#5aa1b8,#5ca3b7,#5da5b7,#5ea6b6,#5fa8b6,#5fa8b6,#5fa9b6,#5fa9b6)"></i><i style="background:linear-gradient(#5c50a4,#5c50a4,#5c50a4,#5c51a4,#5b53a5,#5b55a6,#5a57a7,#5a59a7,#5a5ba8,#595da9,#595ea9,#5860aa,#5862ab,#5864ac,#5767ac,#5768ad,#566aae,#566daf,#556faf,#5571b0,#5473b1,#5476b2,#5378b3,#537ab4,#527cb5,#527fb6,#5181b7,#5184b7,#5086b8,#5089b9,#4f8bba,#4f8dbb,#4e90bc,#5092bb,#5195bb,#5397ba,#5499ba,#569bb9,#589eb9,#599fb8,#5aa1b8,#5ba3b7,#5ca4b7,#5da6b7,#5ea6b6,#5fa8b6,#5fa8b6,#5fa8b6)"></i><i style="background:linear-gradient(#5c50a4,#5c50a4,#5c50a4,#5c52a5,#5b54a5,#5b56a6,#5a58a7,#5a59a8,#5a5ba8,#595da9,#595faa,#5861aa,#5863ab,#5765ac,#5767ac,#5769ad,#566bae,#566daf,#556fb0,#5572b1,#5474b1,#5476b2,#5378b3,#537bb4,#527db5,#5280b6,#5182b7,#5184b7,#5086b8,#5089b9,#4f8bba,#4e8ebb,#4e90bc,#5092bb,#5195bb,#5397ba,#5499ba,#569bb9,#579db9,#589fb8,#5aa1b8,#5ba3b7,#5ca4b7,#5da5b7,#5da6b7,#5ea6b6,#5ea7b6,#5ea7b6)"></i><i style="background:linear-gradient(#5c50a4,#5c50a4,#5c51a4,#5b53a5,#5b54a6,#5b56a6,#5a58a7,#5a59a8,#5a5ba8,#595da9,#595faa,#5862ab,#5863ab,#5765ac,#5767ad,#566aae,#566cae,#566daf,#5570b0,#5572b1,#5474b2,#5477b3,#5379b3,#537bb4,#527eb5,#5180b6,#5182b7,#5185b8,#5087b9,#4f8aba,#4f8cbb,#4e8ebb,#4e90bc,#5093bb,#5195bb,#5397ba,#5499ba,#569bb9,#589eb9,#589fb8,#5aa1b8,#5ba2b8,#5ca3b7,#5ca4b7,#5da6b7,#5ea6b6,#5ea6b6,#5ea6b6)"></i><i style="background:linear-gradient(#5c50a4,#5c50a4,#5c51a4,#5b53a5,#5b55a6,#5b56a6,#5a58a7,#5a5aa8,#595ca8,#595ea9,#5960aa,#5862ab,#5864ac,#5766ac,#5768ad,#566aae,#566caf,#556eaf,#5571b0,#5472b1,#5475b2,#5377b3,#5379b3,#527cb4,#527eb5,#5180b6,#5183b7,#5085b8,#5088b9,#4f8aba,#4f8cbb,#4e8fbb,#4f91bc,#5093bb,#5295bb,#5397ba,#559aba,#569cb9,#589eb9,#599fb8,#5aa1b8,#5ba2b8,#5ca3b7,#5ca4b7,#5da5b7,#5da6b7,#5ea6b6,#5ea6b6)"></i><i style="background:linear-gradient(#5c50a4,#5c50a4,#5c52a5,#5b54a5,#5b56a6,#5a57a7,#5a59a7,#5a5ba8,#595da9,#595ea9,#5860aa,#5862ab,#5765ac,#5767ac,#5768ad,#566bae,#566daf,#556faf,#5571b0,#5473b1,#5476b2,#5378b3,#537ab4,#527cb5,#527fb6,#5181b7,#5183b7,#5086b8,#5088b9,#4f8bba,#4f8dbb,#4e8fbc,#4f92bc,#5194bb,#5296ba,#5498ba,#559ab9,#579cb9,#589eb8,#599fb8,#5aa1b8,#5ba3b7,#5ca4b7,#5ca4b7,#5da5b7,#5da6b7,#5da6b7,#5da6b7)"></i><i style="background:linear-gradient(#5c50a4,#5c51a4,#5b53a5,#5b54a6,#5b56a6,#5a58a7,#5a59a8,#5a5ba8,#595da9,#595faa,#5861aa,#5863ab,#5765ac,#5767ad,#5769ad,#566cae,#566daf,#556fb0,#5572b1,#5474b2,#5476b2,#5379b3,#537bb4,#527db5,#5280b6,#5182b7,#5185b8,#5086b8,#5089b9,#4f8bba,#4e8ebb,#4e90bc,#5092bb,#5195bb,#5397ba,#5499ba,#569bb9,#579db9,#589eb8,#59a0b8,#5aa1b8,#5ba3b7,#5ca4b7,#5da5b7,#5da6b7,#5da6b7,#5da6b7,#5ea6b6)"></i><i style="background:linear-gradient(#5c51a4,#5c51a4,#5b53a5,#5b54a6,#5b56a6,#5a58a7,#5a5aa8,#595ca8,#595ea9,#5960aa,#5862ab,#5864ac,#5766ac,#5768ad,#566aae,#566caf,#556eaf,#5571b0,#5472b1,#5475b2,#5477b3,#5379b3,#527cb4,#527eb5,#5180b6,#5183b7,#5085b8,#5088b9,#4f8aba,#4f8cbb,#4e8fbb,#4f91bc,#5093bb,#5295bb,#5397ba,#559aba,#569cb9,#589eb9,#599fb8,#5aa1b8,#5ba2b8,#5ca3b7,#5ca4b7,#5da5b7,#5da6b7,#5ea6b6,#5ea6b6,#5ea6b6)"></i><i style="background:linear-gradient(#5c51a4,#5c52a5,#5b54a5,#5b55a6,#5a57a7,#5a59a7,#5a5ba8,#595da9,#595ea9,#5860aa,#5862ab,#5765ac,#5767ac,#5768ad,#566bae,#566daf,#556faf,#5571b0,#5473b1,#5476b2,#5378b3,#537ab4,#527cb5,#527fb6,#5181b7,#5184b7,#5086b8,#5088b9,#4f8bba,#4f8dbb,#4e90bc,#4f92bc,#5194bb,#5397ba,#5499ba,#559ab9,#579cb9,#589eb8,#59a0b8,#5ba2b8,#5ca3b7,#5ca4b7,#5da5b7,#5da6b7,#5ea6b6,#5ea7b6,#5ea7b6,#5ea7b6)"></i><i style="background:linear-gradient(#5c52a5,#5b53a5,#5b54a5,#5b56a6,#5a58a7,#5a59a8,#5a5ba8,#595da9,#595faa,#5861aa,#5863ab,#5765ac,#5767ad,#5769ad,#566cae,#566daf,#5570b0,#5572b1,#5474b2,#5476b2,#5379b3,#537bb4,#527eb5,#5180b6,#5182b7,#5185b8,#5087b9,#4f8aba,#4f8cbb,#4e8fbb,#4e90bc,#5093bb,#5295bb,#5397ba,#559aba,#569cb9,#589eb9,#599fb8,#5aa1b8,#5ba3b7,#5ca4b7,#5da5b7,#5ea6b6,#5ea7b6,#5fa8b6,#5fa8b6,#5fa8b6,#5fa8b6)"></i><i style="background:linear-gradient(#5c52a5,#5b53a5,#5b54a6,#5b56a6,#5a58a7,#5a5aa8,#595ca8,#595ea9,#5960aa,#5862ab,#5864ac,#5766ac,#5768ad,#566aae,#566caf,#556eaf,#5571b0,#5473b1,#5475b2,#5377b3,#537ab4,#527cb4,#527eb5,#5181b6,#5183b7,#5086b8,#5088b9,#4f8bba,#4f8dbb,#4e90bc,#4f92bc,#5194bb,#5397ba,#5499ba,#569bb9,#579db9,#589fb8,#5aa1b8,#5ba3b7,#5ca4b7,#5da5b7,#5ea6b6,#5fa8b6,#5fa8b6,#5fa8b6,#5fa8b6,#5fa8b6,#5fa8b6)"></i><i style="background:linear-gradient(#5b53a5,#5b53a5,#5b55a6,#5a57a7,#5a59a7,#5a5ba8,#595da9,#595ea9,#5860aa,#5862ab,#5765ac,#5767ac,#5768ad,#566bae,#566daf,#556fb0,#5571b0,#5474b1,#5476b2,#5378b3,#537bb4,#527db5,#5280b6,#5182b7,#5185b8,#5087b9,#4f8aba,#4f8cbb,#4e8fbb,#4f91bc,#5093bb,#5295bb,#5498ba,#559ab9,#579cb9,#589fb8,#5aa1b8,#5ba3b7,#5ca4b7,#5da6b7,#5ea7b6,#5fa8b6,#5fa9b6,#60a9b6,#60a9b6,#60a9b6,#60a9b6,#60a9b6)"></i><i style="background:linear-gradient(#5b53a5,#5b54a5,#5b56a6,#5a58a7,#5a59a8,#5a5ba8,#595da9,#595faa,#5861aa,#5863ab,#5765ac,#5767ad,#566aae,#566cae,#556eaf,#5570b0,#5472b1,#5474b2,#5477b3,#5379b3,#527cb4,#527eb5,#5181b6,#5183b7,#5086b8,#5088b9,#4f8bba,#4f8dbb,#4e90bc,#5092bb,#5195bb,#5397ba,#5499ba,#569cb9,#589eb8,#59a0b8,#5ba2b8,#5ca4b7,#5da6b7,#5ea7b6,#5fa8b6,#60a9b6,#60aab5,#61abb5,#61abb5,#61abb5,#61abb5,#61abb5)"></i><i style="background:linear-gradient(#5b54a5,#5b54a6,#5b56a6,#5a58a7,#5a5aa8,#595ca8,#595ea9,#5960aa,#5862ab,#5863ab,#5766ac,#5768ad,#566aae,#566caf,#556faf,#5571b0,#5473b1,#5476b2,#5378b3,#537bb4,#527cb5,#527fb6,#5181b7,#5185b8,#5087b9,#4f8aba,#4f8cbb,#4e8fbb,#4f91bc,#5194bb,#5296ba,#5499ba,#569bb9,#589eb9,#599fb8,#5ba2b8,#5ca4b7,#5da6b7,#5fa8b6,#5fa9b6,#60aab5,#61abb5,#62acb5,#62adb5,#62adb5,#62adb5,#62adb5,#62adb5)"></i><i style="background:linear-gradient(#5b54a5,#5b54a6,#5b56a6,#5a58a7,#5a5aa8,#595ca8,#595ea9,#5860aa,#5862ab,#5864ac,#5767ac,#5768ad,#566bae,#566daf,#556fb0,#5572b1,#5474b1,#5476b2,#5379b3,#537bb4,#527eb5,#5180b6,#5183b7,#5085b8,#5088b9,#4f8bba,#4f8dbb,#4e90bc,#5092bb,#5295bb,#5498ba,#559ab9,#579db9,#599fb8,#5aa1b8,#5ca4b7,#5da6b7,#5fa8b6,#60a9b6,#61abb5,#62adb5,#63adb5,#63aeb5,#63aeb4,#63aeb4,#63aeb4,#63aeb4,#63aeb5)"></i><i style="background:linear-gradient(#5b54a6,#5b55a6,#5a57a7,#5a59a7,#5a5ba8,#595da9,#595ea9,#5861aa,#5863ab,#5765ac,#5767ad,#5769ad,#566cae,#556eaf,#5570b0,#5472b1,#5475b2,#5377b3,#537ab4,#527cb5,#527fb6,#5181b7,#5184b7,#5086b8,#4f8aba,#4f8cbb,#4e8fbb,#4f92bc,#5194bb,#5397ba,#559aba,#579cb9,#589fb8,#5aa1b8,#5ca4b7,#5da6b7,#5fa8b6,#60aab5,#62acb5,#63adb5,#63aeb4,#64b0b4,#65b0b4,#65b1b4,#65b1b4,#65b1b4,#65b0b4,#65b0b4)"></i><i style="background:linear-gradient(#5b54a6,#5b56a6,#5a58a7,#5a59a8,#5a5ba8,#595da9,#595faa,#5861aa,#5863ab,#5765ac,#5768ad,#566aae,#566caf,#556faf,#5571b0,#5473b1,#5476b2,#5378b3,#537bb4,#527db5,#5280b6,#5183b7,#5085b8,#5088b9,#4f8bba,#4f8dbb,#4e90bc,#5093bb,#5296ba,#5499ba,#569bb9,#589eb8,#5aa1b8,#5ca3b7,#5da6b7,#5fa8b6,#60aab5,#62adb5,#63aeb4,#64b0b4,#65b1b4,#66b2b3,#67b3b3,#67b3b3,#67b3b3,#67b3b3,#66b2b3,#66b2b3)"></i><i style="background:linear-gradient(#5b55a6,#5b56a6,#5a58a7,#5a59a8,#5a5ba8,#595ea9,#5960aa,#5862ab,#5864ac,#5766ac,#5768ad,#566aae,#566daf,#556fb0,#5572b1,#5474b1,#5476b2,#5379b3,#527cb4,#527eb5,#5181b6,#5183b7,#5086b8,#5089b9,#4f8cbb,#4e8fbb,#4f92bc,#5195bb,#5397ba,#559ab9,#579db9,#59a0b8,#5ba3b7,#5da6b7,#5fa8b6,#61abb5,#62adb5,#64afb4,#65b1b4,#67b3b3,#67b4b3,#68b5b3,#69b6b3,#69b6b3,#69b6b3,#69b6b3,#68b5b3,#68b5b3)"></i><i style="background:linear-gradient(#5b55a6,#5b56a6,#5a58a7,#5a5aa8,#595ca8,#595ea9,#5960aa,#5862ab,#5864ac,#5767ac,#5768ad,#566bae,#566daf,#5570b0,#5472b1,#5475b2,#5377b3,#537ab4,#527cb5,#527fb6,#5182b7,#5185b8,#5088b9,#4f8aba,#4f8dbb,#4e90bc,#5093bb,#5296ba,#5499ba,#579cb9,#589fb8,#5ba2b8,#5da5b7,#5fa8b6,#61abb5,#63adb5,#64b0b4,#66b2b4,#67b3b3,#68b5b3,#69b7b2,#6ab8b2,#6ab8b2,#6bb9b2,#6bb9b2,#6ab8b2,#6ab8b2,#6ab8b2)"></i><i style="background:linear-gradient(#5b55a6,#5b56a6,#5a58a7,#5a5aa8,#595ca8,#595ea9,#5860aa,#5862ab,#5765ac,#5767ad,#5769ad,#566cae,#556eaf,#5571b0,#5473b1,#5476b2,#5378b3,#537bb4,#527db5,#5180b6,#5183b7,#5086b8,#5089b9,#4f8bba,#4e8fbb,#4f92bc,#5195bb,#5498ba,#569bb9,#589eb8,#5aa1b8,#5ca4b7,#5ea7b6,#60aab5,#63adb5,#64b0b4,#66b2b3,#68b5b3,#69b7b2,#6ab8b2,#6cbab1,#6dbcb1,#6dbcb1,#6dbcb1,#6dbcb1,#6dbcb1,#6cbbb1,#6cbbb1)"></i><i style="background:linear-gradient(#5b56a6,#5b56a6,#5a58a7,#5a5aa8,#595da9,#595ea9,#5860aa,#5863ab,#5765ac,#5767ad,#566aae,#566caf,#556faf,#5571b0,#5474b1,#5476b2,#5379b3,#537bb4,#527eb5,#5181b6,#5184b7,#5086b8,#4f8aba,#4f8dbb,#4e90bc,#5093bb,#5296ba,#5499ba,#579cb9,#59a0b8,#5ca3b7,#5ea6b6,#60a9b6,#62adb5,#64b0b4,#67b3b3,#68b5b3,#6ab8b2,#6cbab1,#6dbcb1,#6ebdb1,#6fbfb0,#70c0b0,#70c0b0,#70c0b0,#6fbfb0,#6fbfb0,#6ebeb0)"></i><i style="background:linear-gradient(#5b56a6,#5b56a6,#5a58a7,#5a5ba8,#595da9,#595ea9,#5861aa,#5863ab,#5765ac,#5768ad,#566aae,#566caf,#556faf,#5571b0,#5474b1,#5477b3,#5379b3,#527cb4,#527fb6,#5181b7,#5185b8,#5088b9,#4f8bba,#4e8ebb,#4f91bc,#5194bb,#5397ba,#569bb9,#589eb8,#5ba2b8,#5da5b7,#5fa8b6,#62acb5,#64afb4,#66b2b3,#68b5b3,#6ab8b2,#6cbbb1,#6ebdb1,#6fbfb0,#71c1b0,#71c2af,#72c4af,#72c4af,#72c4af,#72c3af,#71c2af,#71c2b0)"></i><i style="background:linear-gradient(#5b56a6,#5b56a6,#5a59a7,#5a5ba8,#595da9,#595faa,#5861aa,#5863ab,#5765ac,#5768ad,#566aae,#566daf,#556fb0,#5572b1,#5474b2,#5477b3,#537ab4,#527cb5,#5280b6,#5183b7,#5086b8,#5088b9,#4f8bba,#4e8fbc,#5092bb,#5295bb,#5499ba,#579cb9,#59a0b8,#5ca4b7,#5ea7b6,#61abb5,#63aeb4,#66b2b4,#68b5b3,#6ab8b2,#6dbcb1,#6fbfb0,#71c1b0,#72c4af,#74c6af,#75c7ae,#75c8ae,#75c8ae,#75c8ae,#75c7ae,#74c6ae,#74c6ae)"></i><i style="background:linear-gradient(#5b56a6,#5b56a6,#5a59a7,#5a5ba8,#595da9,#595faa,#5861aa,#5863ab,#5766ac,#5768ad,#566aae,#566daf,#556fb0,#5472b1,#5475b2,#5377b3,#537bb4,#527db5,#5180b6,#5183b7,#5086b8,#4f8aba,#4f8dbb,#4e90bc,#5194bb,#5397ba,#559ab9,#589eb8,#5aa1b8,#5da5b7,#5fa9b6,#62adb5,#65b0b4,#67b4b3,#6ab8b2,#6dbcb1,#6fbfb0,#71c2af,#73c5af,#75c7ae,#77caae,#78cbad,#79ccad,#79cdad,#79cdad,#79ccad,#78cbad,#77cbad)"></i><i style="background:linear-gradient(#5b56a6,#5b56a6,#5a58a7,#5a5ba8,#595da9,#595faa,#5861aa,#5863ab,#5766ac,#5768ad,#566bae,#566daf,#5570b0,#5472b1,#5475b2,#5378b3,#537bb4,#527eb5,#5181b6,#5184b7,#5087b9,#4f8aba,#4f8dbb,#4f91bc,#5194bb,#5498ba,#569cb9,#599fb8,#5ca3b7,#5ea7b6,#61abb5,#64afb4,#67b3b3,#6ab7b2,#6cbbb1,#6fbfb0,#71c2af,#74c6ae,#76c9ae,#78ccad,#7aceac,#7bd0ac,#7cd1ac,#7dd1ac,#7dd1ac,#7cd1ac,#7bd0ac,#7bd0ac)"></i><i style="background:linear-gradient(#5b56a6,#5b56a6,#5a58a7,#5a5ba8,#595da9,#595faa,#5861aa,#5863ab,#5766ac,#5768ad,#566bae,#566daf,#5570b0,#5472b1,#5476b2,#5378b3,#537bb4,#527eb5,#5181b6,#5184b7,#5088b9,#4f8bba,#4e8ebb,#4f92bc,#5295bb,#5499ba,#579db9,#5aa1b8,#5ca4b7,#5fa9b6,#62adb5,#65b1b4,#68b5b3,#6bbab2,#6ebdb1,#71c2b0,#74c6ae,#77caae,#79cdad,#7cd0ac,#7ed1ac,#7fd2ac,#81d3ac,#81d3ac,#81d3ac,#81d3ac,#7fd2ac,#7fd2ac)"></i><i style="background:linear-gradient(#5b55a6,#5b56a6,#5a58a7,#5a5ba8,#595da9,#595faa,#5861aa,#5863ab,#5766ac,#5768ad,#566bae,#566daf,#5570b0,#5472b1,#5476b2,#5378b3,#537bb4,#527eb5,#5181b7,#5185b8,#5088b9,#4f8bba,#4e8fbb,#5092bb,#5296ba,#559aba,#589eb9,#5ba2b8,#5da6b7,#60aab5,#63aeb4,#67b3b3,#6ab7b2,#6dbcb1,#70c1b0,#73c5af,#76c9ae,#79cead,#7cd1ac,#7fd2ac,#82d3ab,#84d4ab,#86d5ab,#87d5ab,#87d5ab,#86d5ab,#85d4ab,#85d4ab)"></i><i style="background:linear-gradient(#5b55a6,#5b56a6,#5a58a7,#5a5aa8,#595da9,#595ea9,#5861aa,#5863ab,#5766ac,#5768ad,#566bae,#566daf,#5570b0,#5473b1,#5476b2,#5379b3,#537bb4,#527eb5,#5181b7,#5085b8,#5088b9,#4f8bba,#4e8fbc,#5093bb,#5397ba,#559ab9,#589fb8,#5ba3b7,#5ea7b6,#61abb5,#65b0b4,#68b5b3,#6bbab2,#6ebeb0,#72c3af,#75c8ae,#79cdad,#7cd1ac,#80d2ac,#83d4ab,#87d5ab,#89d6ab,#8bd7ab,#8cd8ab,#8cd8ab,#8bd7ab,#8ad7ab,#8ad7ab)"></i><i style="background:linear-gradient(#5b55a6,#5b56a6,#5a58a7,#5a5aa8,#595ca8,#595ea9,#5861aa,#5863ab,#5765ac,#5768ad,#566aae,#566daf,#5570b0,#5472b1,#5476b2,#5379b3,#527cb4,#527eb5,#5182b7,#5085b8,#5088b9,#4f8cbb,#4e90bc,#5194bb,#5397ba,#569bb9,#599fb8,#5ca4b7,#5fa8b6,#62adb5,#66b2b4,#69b7b2,#6dbcb1,#70c1b0,#74c6af,#78cbad,#7bd0ac,#80d2ac,#84d4ab,#88d6ab,#8bd7ab,#8ed9ab,#90daaa,#92daaa,#93dbaa,#91daaa,#90d9aa,#90d9aa)"></i><i style="background:linear-gradient(#5b54a6,#5b56a6,#5a58a7,#5a59a8,#595ca8,#595ea9,#5860aa,#5863ab,#5765ac,#5768ad,#566aae,#566daf,#5570b0,#5472b1,#5476b2,#5379b3,#537bb4,#527eb5,#5182b7,#5085b8,#5089b9,#4f8cbb,#4e90bc,#5194bb,#5498ba,#569cb9,#59a0b8,#5ca4b7,#5fa9b6,#63aeb5,#67b3b3,#6ab8b2,#6ebdb1,#71c2af,#75c8ae,#79cead,#7ed2ac,#83d4ab,#88d6ab,#8cd8ab,#90daaa,#94dbaa,#97ddaa,#98ddaa,#99deaa,#9da,#97ddaa,#97ddaa)"></i><i style="background:linear-gradient(#5b54a6,#5b55a6,#5a57a7,#5a59a8,#5a5ba8,#595ea9,#5860aa,#5863ab,#5765ac,#5768ad,#566aae,#566daf,#556fb0,#5472b1,#5476b2,#5378b3,#537bb4,#527eb5,#5182b7,#5085b8,#5089b9,#4f8cbb,#4e90bc,#5194bb,#5498ba,#579cb9,#5aa1b8,#5da5b7,#60a9b6,#63aeb4,#67b3b3,#6bb9b2,#6fbfb0,#73c4af,#77cbad,#7cd0ac,#81d3ac,#86d5ab,#8bd7ab,#90daaa,#96dcaa,#9adeaa,#9de0a9,#9fe1a9,#a1e1a9,#a1e1a9,#9ee0a9,#9ee0a9)"></i><i style="background:linear-gradient(#5b54a5,#5b54a6,#5a57a7,#5a59a7,#5a5ba8,#595ea9,#5960aa,#5862ab,#5765ac,#5767ad,#566aae,#566daf,#556fb0,#5572b1,#5475b2,#5378b3,#537bb4,#527eb5,#5181b7,#5085b8,#5088b9,#4f8cbb,#4e90bc,#5194bb,#5498ba,#579cb9,#5aa1b8,#5da5b7,#60aab5,#64afb4,#68b5b3,#6cbab1,#70c0b0,#74c6ae,#79ccad,#7dd1ac,#83d4ab,#89d6ab,#8fd9aa,#95dcaa,#9adeaa,#a0e1a9,#a4e3a9,#a7e4a9,#a9e5a9,#a9e5a9,#a7e4a9,#a7e4a9)"></i><i style="background:linear-gradient(#5b53a5,#5b54a6,#5b56a6,#5a59a7,#5a5ba8,#595da9,#5960aa,#5862ab,#5864ac,#5767ad,#566aae,#566caf,#556faf,#5572b1,#5475b2,#5377b3,#537bb4,#527eb5,#5181b7,#5185b8,#5088b9,#4f8cbb,#4e90bc,#5194bb,#5498ba,#579cb9,#5aa1b8,#5da6b7,#61abb5,#64b0b4,#68b5b3,#6cbbb1,#70c1b0,#75c7ae,#79cead,#7fd2ac,#85d5ab,#8bd7ab,#92daaa,#9da,#9fe1a9,#a6e3a9,#abe6a8,#b0e8a8,#b2e9a7,#b2e9a7,#b1e8a8,#b0e8a8)"></i><i style="background:linear-gradient(#5b53a5,#5b54a5,#5b56a6,#5a58a7,#5a5ba8,#595da9,#595faa,#5862ab,#5864ac,#5767ac,#5769ad,#566cae,#556faf,#5571b0,#5474b2,#5377b3,#537bb4,#527eb5,#5181b6,#5185b8,#5088b9,#4f8bba,#4e8fbc,#5194bb,#5498ba,#579cb9,#5aa1b8,#5da5b7,#61abb5,#64b0b4,#68b5b3,#6cbbb1,#71c1b0,#75c8ae,#7acfac,#80d2ac,#87d5ab,#8dd8ab,#95dcaa,#9cdfa9,#a4e3a9,#ace6a8,#b3e9a7,#b8eba5,#bceca4,#bdeda4,#bbeca4,#baeca5)"></i><i style="background:linear-gradient(#5b53a5,#5b53a5,#5b56a6,#5a58a7,#5a5aa8,#595ca8,#595ea9,#5861aa,#5863ab,#5766ac,#5768ad,#566cae,#556eaf,#5571b0,#5474b1,#5477b3,#537ab4,#527db5,#5180b6,#5184b7,#5088b9,#4f8bba,#4e8fbc,#5093bb,#5397ba,#569cb9,#59a0b8,#5da5b7,#60aab5,#64b0b4,#68b5b3,#6cbbb1,#71c1b0,#75c8ae,#7bd0ac,#81d3ac,#88d6ab,#8fd9aa,#97ddaa,#9fe1a9,#a8e5a9,#b1e9a8,#b9eca5,#c1eea2,#c7f0a0,#c9f1a0,#c7f1a0,#c7f0a0)"></i><i style="background:linear-gradient(#5c52a5,#5b53a5,#5b55a6,#5a57a7,#5a59a8,#595ca8,#595ea9,#5860aa,#5863ab,#5765ac,#5768ad,#566bae,#566daf,#5571b0,#5473b1,#5476b2,#5379b3,#527cb5,#5180b6,#5183b7,#5087b9,#4f8bba,#4e8fbb,#5092bb,#5397ba,#569bb9,#59a0b8,#5ca4b7,#60a9b6,#64afb4,#68b5b3,#6cbbb1,#71c1b0,#75c8ae,#7bd0ac,#81d3ac,#88d6ab,#90d9aa,#98ddaa,#a2e1a9,#abe6a8,#b6eaa6,#c0eea3,#caf29f,#d2f59d,#d7f79b,#d6f69b,#d6f69b)"></i><i style="background:linear-gradient(#5c51a4,#5b53a5,#5b54a6,#5a57a7,#5a59a7,#5a5ba8,#595ea9,#5960aa,#5862ab,#5765ac,#5767ad,#566aae,#566daf,#5570b0,#5472b1,#5476b2,#5379b3,#527cb4,#5280b6,#5183b7,#5086b8,#4f8aba,#4e8ebb,#4f92bc,#5296ba,#559ab9,#589fb8,#5ca4b7,#5fa9b6,#63aeb4,#67b4b3,#6cbab1,#70c1b0,#75c7ae,#7acfac,#81d3ac,#88d6ab,#90d9aa,#9da,#a3e2a9,#ade7a8,#b8eba5,#c5f0a1,#d2f59d,#dffa98,#e3fb9e,#e4fb9f,#e3fb9e)"></i><i style="background:linear-gradient(#5c51a4,#5c52a5,#5b54a5,#5b56a6,#5a58a7,#5a5ba8,#595da9,#595faa,#5862ab,#5864ac,#5767ac,#566aae,#566caf,#556fb0,#5572b1,#5475b2,#5378b3,#537bb4,#527eb5,#5182b7,#5086b8,#5089b9,#4f8dbb,#4f91bc,#5295bb,#559aba,#589eb8,#5ca3b7,#5fa8b6,#63aeb5,#67b3b3,#6bb9b2,#70c0b0,#75c7ae,#7aceac,#80d2ac,#88d6ab,#8fd9aa,#9da,#a3e2a9,#aee7a8,#baeca5,#c8f1a0,#d8f79b,#e5fba0,#ecfdae,#effeb2,#eefeb2)"></i><i style="background:linear-gradient(#5c51a4,#5c51a4,#5b53a5,#5b56a6,#5a58a7,#5a5aa8,#595da9,#595ea9,#5861aa,#5863ab,#5766ac,#5769ad,#566cae,#556faf,#5571b0,#5474b2,#5377b3,#537bb4,#527eb5,#5181b7,#5185b8,#5088b9,#4f8cbb,#4e90bc,#5194bb,#5499ba,#589eb9,#5ba2b8,#5ea7b6,#62adb5,#66b2b3,#6ab8b2,#6fbfb0,#74c6af,#79cdad,#7fd2ac,#87d5ab,#8ed9ab,#98ddaa,#a2e1a9,#ade7a8,#baeca5,#c8f1a0,#dbf89a,#e8fca6,#f4feba,#f2f1a4,#f2f1a4)"></i><i style="background:linear-gradient(#5c50a4,#5c51a4,#5b53a5,#5b55a6,#5a58a7,#5a5aa8,#595ca8,#595ea9,#5861aa,#5863ab,#5766ac,#5768ad,#566cae,#556eaf,#5571b0,#5474b1,#5477b3,#537ab4,#527eb5,#5181b6,#5185b8,#5088b9,#4f8cbb,#4e90bc,#5194bb,#5499ba,#579db9,#5ba2b8,#5ea7b6,#62acb5,#66b2b4,#6ab8b2,#6ebeb0,#73c5af,#79ccad,#7fd2ac,#86d5ab,#8ed9ab,#97ddaa,#a1e1a9,#ace6a8,#b9eba5,#c8f1a0,#daf89a,#e8fca6,#f3fbb5,#f2f1a4,#f2f1a4)"></i><i style="background:linear-gradient(#5c50a4,#5c51a4,#5b53a5,#5b55a6,#5a58a7,#5a5aa8,#595ca8,#595ea9,#5861aa,#5863ab,#5766ac,#5768ad,#566cae,#556eaf,#5571b0,#5474b1,#5477b3,#537ab4,#527eb5,#5181b6,#5185b8,#5088b9,#4f8cbb,#4e90bc,#5194bb,#5499ba,#579db9,#5ba2b8,#5ea7b6,#62acb5,#66b2b4,#6ab8b2,#6ebeb0,#73c5af,#79ccad,#7fd2ac,#86d5ab,#8ed9ab,#97ddaa,#a1e1a9,#ace6a8,#b9eba5,#c8f1a0,#daf89a,#e8fca6,#f3fbb5,#f2f1a4,#f2f1a4)"></i><i style="background:linear-gradient(#5c50a4,#5c51a4,#5b53a5,#5b55a6,#5a58a7,#5a5aa8,#595ca8,#595ea9,#5861aa,#5863ab,#5766ac,#5768ad,#566cae,#556eaf,#5571b0,#5474b1,#5477b3,#537ab4,#527eb5,#5181b6,#5185b8,#5088b9,#4f8cbb,#4e90bc,#5194bb,#5499ba,#579db9,#5ba2b8,#5ea7b6,#62acb5,#66b2b4,#6ab8b2,#6ebeb0,#73c5af,#79ccad,#7fd2ac,#86d5ab,#8ed9ab,#97ddaa,#a1e1a9,#ace6a8,#b9eba5,#c8f1a0,#daf89a,#e8fca6,#f3fbb5,#f2f1a4,#f2f1a4)"></i></div></div>
<div class="cb" style="left:876.0px;top:50.4px;background:linear-gradient(#5c50a4,#4e90bc,#7bd0ac,#b0e8a8,#e0fa98,#f4ffbc,#f0e088,#eca860,#eb6644,#d43c52,#a1184a)"></div>
<div class="hm" style="left:1219.3px;top:50.4px"><div class="hb"><i style="background:linear-gradient(#5c50a4,#5c50a4,#5c51a4,#5b53a5,#5b56a6,#5a58a7,#5a5aa8,#595da9,#595ea9,#5861aa,#5863ab,#5766ac,#5769ad,#566cae,#556eaf,#5571b0,#5474b2,#5377b3,#537bb4,#527eb5,#5181b6,#5185b8,#5088b9,#4f8cbb,#4e90bc,#5194bb,#5499ba,#579db9,#5ba2b8,#5ea7b6,#62adb5,#66b2b3,#6ab8b2,#6ebeb0,#73c5af,#79ccad,#7fd2ac,#86d5ab,#8ed9ab,#97ddaa,#a1e1a9,#ace6a8,#b9eba5,#c8f1a0,#d9f89a,#e7fca4,#f3ffba,#f4feba)"></i><i style="background:linear-gradient(#5c50a4,#5c50a4,#5c51a4,#5b53a5,#5b56a6,#5a58a7,#5a5aa8,#595da9,#595ea9,#5861aa,#5863ab,#5766ac,#5769ad,#566cae,#556eaf,#5571b0,#5474b2,#5377b3,#537bb4,#527eb5,#5181b6,#5185b8,#5088b9,#4f8cbb,#4e90bc,#5194bb,#5499ba,#579db9,#5ba2b8,#5ea7b6,#62adb5,#66b2b3,#6ab8b2,#6ebeb0,#73c5af,#79ccad,#7fd2ac,#86d5ab,#8ed9ab,#97ddaa,#a1e1a9,#ace6a8,#b9eba5,#c8f1a0,#d9f89a,#e7fca4,#f3ffba,#f4feba)"></i><i style="background:linear-gradient(#5c50a4,#5c50a4,#5c51a4,#5b53a5,#5b56a6,#5a58a7,#5a5aa8,#595da9,#595ea9,#5861aa,#5863ab,#5766ac,#5769ad,#566cae,#556eaf,#5571b0,#5474b2,#5377b3,#537bb4,#527eb5,#5181b6,#5185b8,#5088b9,#4f8cbb,#4e90bc,#5194bb,#5499ba,#579db9,#5ba2b8,#5ea7b6,#62adb5,#66b2b3,#6ab8b2,#6ebeb0,#73c5af,#79ccad,#7fd2ac,#86d5ab,#8ed9ab,#97ddaa,#a1e1a9,#ace6a8,#b9eba5,#c8f1a0,#d9f89a,#e7fca4,#f3ffba,#f4feba)"></i><i style="background:linear-gradient(#5c50a4,#5c50a4,#5c51a4,#5b53a5,#5b54a6,#5a57a7,#5a59a7,#5a5ba8,#595ea9,#5860aa,#5863ab,#5765ac,#5768ad,#566aae,#566daf,#5570b0,#5473b1,#5476b2,#5379b3,#527cb5,#5280b6,#5183b7,#5086b8,#4f8aba,#4e8fbb,#5092bb,#5397ba,#569bb9,#599fb8,#5ca4b7,#60aab5,#64afb4,#68b5b3,#6cbbb1,#71c2b0,#76c9ae,#7cd0ac,#82d3ab,#8ad7ab,#93dbaa,#9bdfaa,#a6e4a9,#b1e9a8,#beeda3,#cdf39e,#def999,#e7fca5,#e8fca7)"></i><i style="background:linear-gradient(#5c50a4,#5c50a4,#5c50a4,#5c51a4,#5b53a5,#5b55a6,#5a58a7,#5a59a8,#595ca8,#595ea9,#5861aa,#5863ab,#5766ac,#5768ad,#566bae,#566daf,#5571b0,#5474b1,#5477b3,#537ab4,#527db5,#5180b6,#5184b7,#5087b9,#4f8bba,#4e8fbc,#5093bb,#5397ba,#569cb9,#59a0b8,#5da5b7,#61abb5,#64b0b4,#68b5b3,#6dbcb1,#71c2af,#76c9ae,#7cd0ac,#82d3ab,#8ad7ab,#91daaa,#9adeaa,#a4e3a9,#aee7a8,#b9eca5,#c5f0a1,#d0f49d,#d2f59d)"></i><i style="background:linear-gradient(#5c50a4,#5c50a4,#5c50a4,#5c50a4,#5c51a4,#5b54a5,#5b56a6,#5a58a7,#5a5aa8,#595da9,#595faa,#5861aa,#5863ab,#5766ac,#5769ad,#566cae,#556eaf,#5571b0,#5474b2,#5477b3,#537ab4,#527eb5,#5181b6,#5185b8,#5088b9,#4f8bba,#4e8fbc,#5194bb,#5498ba,#579cb9,#5aa1b8,#5da6b7,#61abb5,#65b0b4,#69b6b3,#6dbcb1,#71c2b0,#76c9ae,#7bd0ac,#81d3ac,#88d6ab,#8fd9aa,#98ddaa,#a0e1a9,#a9e5a9,#b2e9a7,#baeca5,#bbeca4)"></i><i style="background:linear-gradient(#5c50a4,#5c50a4,#5c50a4,#5c50a4,#5c50a4,#5c52a5,#5b54a6,#5b56a6,#5a58a7,#5a5ba8,#595da9,#595faa,#5862ab,#5864ac,#5767ac,#5769ad,#566caf,#556faf,#5572b1,#5474b2,#5377b3,#537bb4,#527eb5,#5181b7,#5185b8,#5088b9,#4f8cbb,#4e90bc,#5194bb,#5498ba,#579cb9,#5aa1b8,#5da6b7,#61abb5,#64b0b4,#68b5b3,#6cbbb1,#71c1b0,#75c7ae,#7aceac,#7fd2ac,#86d5ab,#8cd8ab,#94dbaa,#9adeaa,#a2e1a9,#a8e5a9,#a9e5a9)"></i><i style="background:linear-gradient(#5c50a4,#5c50a4,#5c50a4,#5c50a4,#5c50a4,#5c51a4,#5b53a5,#5b54a6,#5a57a7,#5a59a7,#5a5ba8,#595ea9,#5960aa,#5862ab,#5765ac,#5767ad,#566aae,#566daf,#556fb0,#5572b1,#5475b2,#5378b3,#537bb4,#527eb5,#5181b7,#5085b8,#5088b9,#4f8cbb,#4e90bc,#5194bb,#5498ba,#579cb9,#5aa1b8,#5da5b7,#60aab5,#64afb4,#67b4b3,#6bbab2,#6fbfb0,#74c6af,#78ccad,#7dd1ac,#82d3ab,#88d6ab,#8ed9ab,#94dbaa,#9adeaa,#9adeaa)"></i><i style="background:linear-gradient(#5c50a4,#5c50a4,#5c50a4,#5c50a4,#5c50a4,#5c50a4,#5c51a4,#5b53a5,#5b55a6,#5a58a7,#5a59a8,#595ca8,#595ea9,#5860aa,#5863ab,#5765ac,#5768ad,#566aae,#566daf,#5570b0,#5472b1,#5476b2,#5378b3,#537bb4,#527eb5,#5181b7,#5085b8,#5088b9,#4f8cbb,#4e90bc,#5194bb,#5498ba,#569cb9,#59a0b8,#5ca4b7,#5fa9b6,#63aeb5,#67b3b3,#6ab8b2,#6ebdb1,#72c3af,#76c9ae,#7aceac,#7fd2ac,#83d4ab,#89d6ab,#8dd8ab,#8ed9ab)"></i><i style="background:linear-gradient(#5c50a4,#5c50a4,#5c50a4,#5c50a4,#5c50a4,#5c50a4,#5c50a4,#5c52a5,#5b54a5,#5b56a6,#5a58a7,#5a5aa8,#595da9,#595ea9,#5861aa,#5863ab,#5766ac,#5768ad,#566bae,#566daf,#5570b0,#5473b1,#5476b2,#5379b3,#527cb4,#527fb6,#5182b7,#5085b8,#5088b9,#4f8cbb,#4e90bc,#5194bb,#5397ba,#569bb9,#599fb8,#5ca4b7,#5fa8b6,#62adb5,#65b1b4,#69b6b3,#6cbbb1,#70c0b0,#73c5af,#77caae,#7acfac,#7ed2ac,#82d3ab,#83d4ab)"></i><i style="background:linear-gradient(#5c50a4,#5c50a4,#5c50a4,#5c50a4,#5c50a4,#5c50a4,#5c50a4,#5c51a4,#5b53a5,#5b54a6,#5b56a6,#5a59a7,#5a5ba8,#595da9,#595faa,#5862ab,#5864ac,#5766ac,#5768ad,#566bae,#566daf,#5571b0,#5473b1,#5476b2,#5379b3,#527cb4,#527fb6,#5182b7,#5085b8,#5088b9,#4f8bba,#4e8fbc,#5093bb,#5397ba,#559ab9,#589eb8,#5ba3b7,#5ea6b6,#61abb5,#64afb4,#67b3b3,#6ab8b2,#6dbcb1,#71c1b0,#74c6af,#77caae,#79cead,#7aceac)"></i><i style="background:linear-gradient(#5c50a4,#5c50a4,#5c50a4,#5c50a4,#5c50a4,#5c50a4,#5c50a4,#5c50a4,#5c51a4,#5b53a5,#5b55a6,#5a57a7,#5a59a8,#5a5ba8,#595da9,#5960aa,#5862ab,#5864ac,#5767ac,#5769ad,#566cae,#556eaf,#5571b0,#5473b1,#5476b2,#5379b3,#527cb4,#527fb6,#5181b7,#5185b8,#5088b9,#4f8bba,#4e8fbb,#5092bb,#5295bb,#5499ba,#579db9,#5aa1b8,#5ca4b7,#5fa9b6,#62adb5,#65b0b4,#68b5b3,#6ab8b2,#6ebdb1,#70c1b0,#73c4af,#73c5af)"></i><i style="background:linear-gradient(#5c50a4,#5c50a4,#5c50a4,#5c50a4,#5c50a4,#5c50a4,#5c50a4,#5c50a4,#5c50a4,#5c52a5,#5b54a5,#5b56a6,#5a58a7,#5a5aa8,#595ca8,#595ea9,#5860aa,#5862ab,#5765ac,#5767ad,#566aae,#566cae,#556eaf,#5571b0,#5474b1,#5476b2,#5379b3,#527cb4,#527eb5,#5181b7,#5185b8,#5088b9,#4f8bba,#4e8ebb,#4f91bc,#5195bb,#5498ba,#569cb9,#589fb8,#5ba3b7,#5ea6b6,#60aab5,#63aeb5,#65b1b4,#68b5b3,#6ab8b2,#6dbcb1,#6dbcb1)"></i><i style="background:linear-gradient(#5c50a4,#5c50a4,#5c50a4,#5c50a4,#5c50a4,#5c50a4,#5c50a4,#5c50a4,#5c50a4,#5c51a4,#5b53a5,#5b54a6,#5b56a6,#5a58a7,#5a5ba8,#595da9,#595ea9,#5861aa,#5863ab,#5765ac,#5767ad,#566aae,#566caf,#556faf,#5571b0,#5474b1,#5476b2,#5379b3,#527cb4,#527eb5,#5181b7,#5184b7,#5087b9,#4f8aba,#4f8dbb,#4e90bc,#5194bb,#5397ba,#559aba,#579db9,#5aa1b8,#5ca4b7,#5ea7b6,#60aab5,#63adb5,#65b0b4,#67b3b3,#67b4b3)"></i><i style="background:linear-gradient(#5c50a4,#5c50a4,#5c50a4,#5c50a4,#5c50a4,#5c50a4,#5c50a4,#5c50a4,#5c50a4,#5c50a4,#5c51a4,#5b53a5,#5b55a6,#5a57a7,#5a59a7,#5a5ba8,#595da9,#595faa,#5861aa,#5863ab,#5765ac,#5768ad,#566aae,#566caf,#556faf,#5571b0,#5474b1,#5476b2,#5379b3,#537bb4,#527eb5,#5181b6,#5184b7,#5086b8,#4f8aba,#4f8cbb,#4e8fbc,#5092bb,#5195bb,#5498ba,#569bb9,#589eb8,#5aa1b8,#5ca4b7,#5ea7b6,#60a9b6,#62adb5,#62adb5)"></i><i style="background:linear-gradient(#5c50a4,#5c50a4,#5c50a4,#5c50a4,#5c50a4,#5c50a4,#5c50a4,#5c50a4,#5c50a4,#5c50a4,#5c51a4,#5b53a5,#5b54a5,#5b56a6,#5a58a7,#5a59a8,#595ca8,#595ea9,#5960aa,#5862ab,#5864ac,#5766ac,#5768ad,#566aae,#566daf,#556fb0,#5571b0,#5474b1,#5476b2,#5379b3,#537bb4,#527eb5,#5180b6,#5183b7,#5086b8,#5088b9,#4f8bba,#4e8ebb,#4e90bc,#5194bb,#5296ba,#5499ba,#569cb9,#589eb8,#5aa1b8,#5ca4b7,#5da6b7,#5ea6b6)"></i><i style="background:linear-gradient(#5c50a4,#5c50a4,#5c50a4,#5c50a4,#5c50a4,#5c50a4,#5c50a4,#5c50a4,#5c50a4,#5c50a4,#5c50a4,#5c51a4,#5b53a5,#5b55a6,#5a57a7,#5a59a7,#5a5ba8,#595da9,#595ea9,#5860aa,#5862ab,#5864ac,#5767ac,#5768ad,#566bae,#566daf,#556fb0,#5572b1,#5474b1,#5476b2,#5379b3,#537bb4,#527eb5,#5180b6,#5183b7,#5085b8,#5088b9,#4f8aba,#4f8dbb,#4e8fbc,#4f92bc,#5194bb,#5397ba,#5499ba,#569cb9,#589eb9,#59a0b8,#5aa1b8)"></i><i style="background:linear-gradient(#5c50a4,#5c50a4,#5c50a4,#5c50a4,#5c50a4,#5c50a4,#5c50a4,#5c50a4,#5c50a4,#5c50a4,#5c50a4,#5c51a4,#5c52a5,#5b54a5,#5b56a6,#5a58a7,#5a59a8,#5a5ba8,#595da9,#595faa,#5861aa,#5863ab,#5765ac,#5767ad,#5769ad,#566bae,#566daf,#556fb0,#5572b1,#5474b1,#5476b2,#5378b3,#537bb4,#527db5,#5280b6,#5181b7,#5184b7,#5086b8,#5089b9,#4f8bba,#4f8dbb,#4e90bc,#5092bb,#5194bb,#5397ba,#5499ba,#559ab9,#569bb9)"></i><i style="background:linear-gradient(#5c50a4,#5c50a4,#5c50a4,#5c50a4,#5c50a4,#5c50a4,#5c50a4,#5c50a4,#5c50a4,#5c50a4,#5c50a4,#5c50a4,#5c51a4,#5b53a5,#5b55a6,#5b56a6,#5a58a7,#5a5aa8,#595ca8,#595ea9,#5960aa,#5862ab,#5863ab,#5765ac,#5767ad,#5769ad,#566cae,#566daf,#556fb0,#5572b1,#5474b1,#5476b2,#5378b3,#537bb4,#527cb5,#527fb6,#5181b6,#5183b7,#5085b8,#5088b9,#4f8aba,#4f8cbb,#4e8ebb,#4e90bc,#5092bb,#5194bb,#5296ba,#5296ba)"></i><i style="background:linear-gradient(#5c50a4,#5c50a4,#5c50a4,#5c50a4,#5c50a4,#5c50a4,#5c50a4,#5c50a4,#5c50a4,#5c50a4,#5c50a4,#5c50a4,#5c51a4,#5b53a5,#5b54a6,#5b56a6,#5a58a7,#5a59a8,#5a5ba8,#595da9,#595ea9,#5860aa,#5862ab,#5864ac,#5766ac,#5768ad,#566aae,#566cae,#566daf,#5570b0,#5572b1,#5474b1,#5476b2,#5378b3,#537ab4,#527cb4,#527eb5,#5180b6,#5182b7,#5184b7,#5086b8,#5088b9,#4f8aba,#4f8cbb,#4e8ebb,#4e90bc,#4f91bc,#4f92bc)"></i><i style="background:linear-gradient(#5c50a4,#5c50a4,#5c50a4,#5c50a4,#5c50a4,#5c50a4,#5c50a4,#5c50a4,#5c50a4,#5c50a4,#5c50a4,#5c50a4,#5c51a4,#5c52a5,#5b54a5,#5b55a6,#5a57a7,#5a58a7,#5a5aa8,#595ca8,#595ea9,#595faa,#5861aa,#5863ab,#5765ac,#5767ac,#5768ad,#566aae,#566caf,#556eaf,#5570b0,#5572b1,#5474b1,#5476b2,#5377b3,#5379b3,#537bb4,#527db5,#527fb6,#5181b6,#5183b7,#5185b8,#5086b8,#5088b9,#4f8aba,#4f8bba,#4f8dbb,#4f8dbb)"></i><i style="background:linear-gradient(#5c50a4,#5c50a4,#5c50a4,#5c50a4,#5c50a4,#5c50a4,#5c50a4,#5c50a4,#5c50a4,#5c50a4,#5c50a4,#5c50a4,#5c50a4,#5c52a5,#5b53a5,#5b54a6,#5b56a6,#5a58a7,#5a59a8,#5a5ba8,#595da9,#595ea9,#5860aa,#5862ab,#5863ab,#5765ac,#5767ad,#5768ad,#566aae,#566caf,#556eaf,#5570b0,#5572b1,#5474b1,#5476b2,#5377b3,#5379b3,#537bb4,#527cb5,#527eb5,#5180b6,#5181b7,#5183b7,#5085b8,#5086b8,#5088b9,#4f8aba,#4f8aba)"></i><i style="background:linear-gradient(#5c50a4,#5c50a4,#5c50a4,#5c50a4,#5c50a4,#5c50a4,#5c50a4,#5c50a4,#5c50a4,#5c50a4,#5c50a4,#5c50a4,#5c50a4,#5c51a4,#5b53a5,#5b54a6,#5b56a6,#5a58a7,#5a59a7,#5a5ba8,#595ca8,#595ea9,#595faa,#5861aa,#5862ab,#5864ac,#5766ac,#5767ad,#5769ad,#566bae,#566daf,#556eaf,#5570b0,#5572b1,#5474b1,#5475b2,#5477b3,#5379b3,#537ab4,#527cb4,#527db5,#527fb6,#5180b6,#5182b7,#5183b7,#5185b8,#5086b8,#5086b8)"></i><i style="background:linear-gradient(#5c50a4,#5c50a4,#5c50a4,#5c50a4,#5c50a4,#5c50a4,#5c50a4,#5c50a4,#5c50a4,#5c50a4,#5c50a4,#5c50a4,#5c50a4,#5c51a4,#5b53a5,#5b54a6,#5b56a6,#5a57a7,#5a59a7,#5a5aa8,#5a5ba8,#595da9,#595ea9,#5860aa,#5862ab,#5863ab,#5765ac,#5767ac,#5768ad,#566aae,#566bae,#566daf,#556faf,#5570b0,#5572b1,#5473b1,#5475b2,#5476b2,#5378b3,#5379b3,#537bb4,#527cb5,#527eb5,#527fb6,#5180b6,#5181b7,#5183b7,#5183b7)"></i><i style="background:linear-gradient(#5c50a4,#5c50a4,#5c50a4,#5c50a4,#5c50a4,#5c50a4,#5c50a4,#5c50a4,#5c50a4,#5c50a4,#5c50a4,#5c50a4,#5c50a4,#5c51a4,#5b53a5,#5b54a6,#5b56a6,#5a57a7,#5a58a7,#5a5aa8,#5a5ba8,#595da9,#595ea9,#5960aa,#5861aa,#5863ab,#5864ac,#5765ac,#5767ad,#5768ad,#566aae,#566cae,#566daf,#556faf,#5570b0,#5572b1,#5473b1,#5474b2,#5476b2,#5377b3,#5379b3,#537ab4,#537bb4,#527cb5,#527eb5,#527fb6,#5180b6,#5180b6)"></i><i style="background:linear-gradient(#5c50a4,#5c50a4,#5c50a4,#5c50a4,#5c50a4,#5c50a4,#5c50a4,#5c50a4,#5c50a4,#5c50a4,#5c50a4,#5c50a4,#5c51a4,#5c52a5,#5b53a5,#5b54a6,#5b56a6,#5a57a7,#5a58a7,#5a59a8,#5a5ba8,#595da9,#595ea9,#595faa,#5860aa,#5862ab,#5863ab,#5765ac,#5767ac,#5768ad,#5769ad,#566aae,#566caf,#566daf,#556faf,#5570b0,#5572b1,#5473b1,#5474b2,#5476b2,#5477b3,#5378b3,#5379b3,#537bb4,#537bb4,#527cb5,#527eb5,#527eb5)"></i><i style="background:linear-gradient(#5c50a4,#5c50a4,#5c50a4,#5c50a4,#5c50a4,#5c50a4,#5c50a4,#5c50a4,#5c50a4,#5c50a4,#5c50a4,#5c50a4,#5c51a4,#5c52a5,#5b53a5,#5b54a6,#5b56a6,#5a57a7,#5a58a7,#5a59a8,#5a5ba8,#595da9,#595ea9,#595faa,#5860aa,#5862ab,#5863ab,#5765ac,#5766ac,#5767ad,#5768ad,#566aae,#566bae,#566caf,#566daf,#556fb0,#5571b0,#5572b1,#5473b1,#5474b1,#5475b2,#5476b2,#5377b3,#5378b3,#5379b3,#537ab4,#537bb4,#537bb4)"></i><i style="background:linear-gradient(#5c50a4,#5c50a4,#5c50a4,#5c50a4,#5c50a4,#5c50a4,#5c50a4,#5c50a4,#5c50a4,#5c50a4,#5c50a4,#5c50a4,#5c51a4,#5b53a5,#5b54a5,#5b55a6,#5b56a6,#5a58a7,#5a59a7,#5a5aa8,#5a5ba8,#595da9,#595ea9,#595faa,#5860aa,#5862ab,#5863ab,#5864ac,#5765ac,#5767ac,#5768ad,#5769ad,#566aae,#566cae,#566daf,#556eaf,#556fb0,#5571b0,#5572b1,#5472b1,#5474b1,#5475b2,#5476b2,#5477b3,#5377b3,#5378b3,#5379b3,#5379b3)"></i><i style="background:linear-gradient(#5c50a4,#5c50a4,#5c50a4,#5c50a4,#5c50a4,#5c50a4,#5c50a4,#5c50a4,#5c50a4,#5c50a4,#5c50a4,#5c51a4,#5c52a5,#5b53a5,#5b54a6,#5b56a6,#5a57a7,#5a58a7,#5a59a7,#5a5aa8,#5a5ba8,#595da9,#595ea9,#595faa,#5860aa,#5862ab,#5863ab,#5864ac,#5765ac,#5767ac,#5768ad,#5768ad,#566aae,#566bae,#566caf,#566daf,#556faf,#556fb0,#5571b0,#5571b0,#5472b1,#5473b1,#5474b2,#5475b2,#5476b2,#5477b3,#5377b3,#5377b3)"></i><i style="background:linear-gradient(#5c50a4,#5c50a4,#5c50a4,#5c50a4,#5c50a4,#5c50a4,#5c50a4,#5c50a4,#5c50a4,#5c50a4,#5c51a4,#5c52a5,#5b53a5,#5b54a5,#5b55a6,#5b56a6,#5a58a7,#5a58a7,#5a59a8,#5a5ba8,#595ca8,#595da9,#595ea9,#5960aa,#5860aa,#5862ab,#5863ab,#5864ac,#5765ac,#5767ac,#5767ad,#5768ad,#566aae,#566bae,#566cae,#566daf,#566daf,#556faf,#5570b0,#5571b0,#5571b0,#5472b1,#5473b1,#5474b1,#5474b2,#5475b2,#5476b2,#5476b2)"></i><i style="background:linear-gradient(#5c50a4,#5c50a4,#5c50a4,#5c50a4,#5c50a4,#5c50a4,#5c50a4,#5c50a4,#5c50a4,#5c51a4,#5c51a4,#5b53a5,#5b54a5,#5b55a6,#5b56a6,#5a57a7,#5a58a7,#5a59a8,#5a5aa8,#5a5ba8,#595da9,#595ea9,#595ea9,#5960aa,#5861aa,#5862ab,#5863ab,#5864ac,#5765ac,#5767ac,#5767ad,#5768ad,#566aae,#566aae,#566cae,#566caf,#566daf,#556eaf,#556fb0,#5570b0,#5571b0,#5571b0,#5572b1,#5472b1,#5473b1,#5474b1,#5474b2,#5474b2)"></i><i style="background:linear-gradient(#5c50a4,#5c50a4,#5c50a4,#5c50a4,#5c50a4,#5c50a4,#5c50a4,#5c50a4,#5c51a4,#5c52a5,#5b53a5,#5b54a5,#5b55a6,#5b56a6,#5a57a7,#5a58a7,#5a59a7,#5a5aa8,#5a5ba8,#595ca8,#595da9,#595ea9,#5960aa,#5860aa,#5862ab,#5863ab,#5863ab,#5765ac,#5766ac,#5767ac,#5768ad,#5768ad,#566aae,#566aae,#566cae,#566caf,#566daf,#556eaf,#556faf,#556fb0,#5570b0,#5571b0,#5571b0,#5572b1,#5472b1,#5473b1,#5473b1,#5474b1)"></i><i style="background:linear-gradient(#5c50a4,#5c50a4,#5c50a4,#5c50a4,#5c50a4,#5c50a4,#5c50a4,#5c51a4,#5c52a5,#5b53a5,#5b54a5,#5b55a6,#5b56a6,#5a57a7,#5a58a7,#5a59a7,#5a5aa8,#5a5ba8,#595ca8,#595da9,#595ea9,#595faa,#5860aa,#5862ab,#5862ab,#5863ab,#5864ac,#5765ac,#5766ac,#5767ad,#5768ad,#5769ad,#566aae,#566bae,#566cae,#566caf,#566daf,#556eaf,#556faf,#556fb0,#5570b0,#5571b0,#5571b0,#5571b0,#5572b1,#5472b1,#5472b1,#5472b1)"></i><i style="background:linear-gradient(#5c50a4,#5c50a4,#5c50a4,#5c50a4,#5c50a4,#5c50a4,#5c51a4,#5b53a5,#5b53a5,#5b54a6,#5b55a6,#5b56a6,#5a57a7,#5a58a7,#5a59a8,#5a5aa8,#5a5ba8,#595da9,#595da9,#595ea9,#595faa,#5860aa,#5862ab,#5862ab,#5863ab,#5864ac,#5765ac,#5766ac,#5767ad,#5768ad,#5768ad,#566aae,#566aae,#566bae,#566cae,#566daf,#566daf,#556eaf,#556faf,#556fb0,#5570b0,#5570b0,#5571b0,#5571b0,#5571b0,#5572b1,#5572b1,#5572b1)"></i><i style="background:linear-gradient(#5c50a4,#5c50a4,#5c50a4,#5c50a4,#5c51a4,#5c52a5,#5b53a5,#5b54a5,#5b54a6,#5b56a6,#5a57a7,#5a58a7,#5a59a7,#5a59a8,#5a5ba8,#595ca8,#595da9,#595ea9,#595ea9,#5960aa,#5860aa,#5862ab,#5862ab,#5863ab,#5864ac,#5765ac,#5766ac,#5767ad,#5768ad,#5768ad,#566aae,#566aae,#566bae,#566cae,#566caf,#566daf,#566daf,#556eaf,#556faf,#556fb0,#5570b0,#5570b0,#5571b0,#5571b0,#5571b0,#5571b0,#5571b0,#5571b0)"></i><i style="background:linear-gradient(#5c50a4,#5c50a4,#5c51a4,#5c51a4,#5b53a5,#5b53a5,#5b54a6,#5b55a6,#5b56a6,#5a57a7,#5a58a7,#5a59a8,#5a5aa8,#5a5ba8,#595ca8,#595da9,#595ea9,#595faa,#5860aa,#5861aa,#5862ab,#5863ab,#5864ac,#5765ac,#5765ac,#5767ac,#5767ad,#5768ad,#5769ad,#566aae,#566aae,#566bae,#566caf,#566daf,#566daf,#556eaf,#556eaf,#556faf,#556fb0,#5570b0,#5570b0,#5571b0,#5571b0,#5571b0,#5571b0,#5571b0,#5571b0,#5571b0)"></i><i style="background:linear-gradient(#5c51a4,#5c51a4,#5c52a5,#5b53a5,#5b54a5,#5b55a6,#5b56a6,#5a57a7,#5a58a7,#5a59a7,#5a5aa8,#5a5ba8,#595ca8,#595da9,#595ea9,#595ea9,#5960aa,#5861aa,#5862ab,#5863ab,#5863ab,#5864ac,#5765ac,#5766ac,#5767ad,#5768ad,#5768ad,#566aae,#566aae,#566bae,#566cae,#566caf,#566daf,#566daf,#556eaf,#556faf,#556fb0,#556fb0,#5570b0,#5571b0,#5571b0,#5571b0,#5571b0,#5571b0,#5571b0,#5571b0,#5571b0,#5571b0)"></i><i style="background:linear-gradient(#5c52a5,#5b53a5,#5b54a5,#5b54a6,#5b56a6,#5b56a6,#5a58a7,#5a59a7,#5a59a8,#5a5ba8,#5a5ba8,#595da9,#595da9,#595ea9,#5960aa,#5860aa,#5862ab,#5862ab,#5863ab,#5864ac,#5765ac,#5766ac,#5767ad,#5768ad,#5768ad,#566aae,#566aae,#566bae,#566cae,#566caf,#566daf,#566daf,#556eaf,#556faf,#556fb0,#5570b0,#5570b0,#5571b0,#5571b0,#5571b0,#5571b0,#5572b1,#5572b1,#5572b1,#5572b1,#5572b1,#5572b1,#5572b1)"></i><i style="background:linear-gradient(#5b54a5,#5b54a6,#5b55a6,#5b56a6,#5a57a7,#5a58a7,#5a59a8,#5a5aa8,#5a5ba8,#595ca8,#595da9,#595ea9,#595faa,#5860aa,#5861aa,#5862ab,#5863ab,#5864ac,#5765ac,#5766ac,#5767ad,#5768ad,#5768ad,#566aae,#566aae,#566bae,#566caf,#566daf,#566daf,#556eaf,#556faf,#556fb0,#5570b0,#5570b0,#5571b0,#5571b0,#5571b0,#5572b1,#5572b1,#5472b1,#5472b1,#5472b1,#5472b1,#5472b1,#5472b1,#5472b1,#5472b1,#5572b1)"></i><i style="background:linear-gradient(#5b55a6,#5b56a6,#5a57a7,#5a58a7,#5a59a7,#5a5aa8,#5a5ba8,#595ca8,#595da9,#595ea9,#595faa,#5860aa,#5861aa,#5862ab,#5863ab,#5864ac,#5765ac,#5766ac,#5767ad,#5768ad,#5769ad,#566aae,#566bae,#566cae,#566caf,#566daf,#556eaf,#556faf,#556fb0,#5570b0,#5571b0,#5571b0,#5571b0,#5572b1,#5472b1,#5472b1,#5473b1,#5473b1,#5473b1,#5474b1,#5474b1,#5474b1,#5474b1,#5474b1,#5473b1,#5473b1,#5473b1,#5473b1)"></i><i style="background:linear-gradient(#5a57a7,#5a57a7,#5a58a7,#5a59a8,#5a5ba8,#5a5ba8,#595da9,#595ea9,#595faa,#5960aa,#5861aa,#5862ab,#5863ab,#5864ac,#5765ac,#5766ac,#5767ad,#5768ad,#5769ad,#566aae,#566bae,#566cae,#566daf,#566daf,#556eaf,#556fb0,#5570b0,#5571b0,#5571b0,#5572b1,#5472b1,#5473b1,#5473b1,#5474b1,#5474b2,#5474b2,#5475b2,#5475b2,#5475b2,#5475b2,#5475b2,#5475b2,#5475b2,#5475b2,#5474b2,#5474b2,#5474b1,#5474b1)"></i><i style="background:linear-gradient(#5a58a7,#5a59a7,#5a5aa8,#5a5ba8,#595ca8,#595da9,#595ea9,#5960aa,#5860aa,#5862ab,#5863ab,#5864ac,#5765ac,#5766ac,#5767ad,#5768ad,#5769ad,#566aae,#566bae,#566caf,#566daf,#556eaf,#556faf,#5570b0,#5571b0,#5571b0,#5572b1,#5473b1,#5474b1,#5474b1,#5474b2,#5475b2,#5476b2,#5476b2,#5476b2,#5476b2,#5477b3,#5477b3,#5477b3,#5477b3,#5477b3,#5477b3,#5476b2,#5476b2,#5476b2,#5476b2,#5475b2,#5475b2)"></i><i style="background:linear-gradient(#5a59a8,#5a5aa8,#5a5ba8,#595da9,#595ea9,#595faa,#5860aa,#5861aa,#5862ab,#5863ab,#5765ac,#5766ac,#5767ad,#5768ad,#5769ad,#566aae,#566cae,#566caf,#566daf,#556faf,#556fb0,#5571b0,#5571b0,#5472b1,#5473b1,#5474b1,#5474b2,#5475b2,#5476b2,#5476b2,#5477b3,#5377b3,#5378b3,#5378b3,#5378b3,#5379b3,#5379b3,#5379b3,#5379b3,#5379b3,#5379b3,#5379b3,#5378b3,#5378b3,#5377b3,#5477b3,#5476b2,#5476b2)"></i><i style="background:linear-gradient(#5a5ba8,#5a5ba8,#595da9,#595ea9,#595faa,#5860aa,#5862ab,#5863ab,#5864ac,#5765ac,#5767ac,#5768ad,#5769ad,#566aae,#566cae,#566caf,#566daf,#556faf,#5570b0,#5571b0,#5572b1,#5473b1,#5474b1,#5475b2,#5476b2,#5476b2,#5477b3,#5377b3,#5378b3,#5379b3,#5379b3,#537ab4,#537bb4,#537bb4,#537bb4,#537bb4,#537bb4,#537bb4,#537bb4,#537bb4,#537bb4,#537bb4,#537ab4,#537ab4,#5379b3,#5379b3,#5378b3,#5378b3)"></i><i style="background:linear-gradient(#595da9,#595da9,#595ea9,#5960aa,#5861aa,#5862ab,#5863ab,#5765ac,#5766ac,#5767ad,#5768ad,#566aae,#566bae,#566caf,#566daf,#556faf,#5570b0,#5571b0,#5472b1,#5473b1,#5474b2,#5476b2,#5476b2,#5377b3,#5378b3,#5379b3,#537ab4,#537bb4,#537bb4,#527cb4,#527cb5,#527cb5,#527db5,#527db5,#527eb5,#527eb5,#527eb5,#527eb5,#527eb5,#527eb5,#527db5,#527db5,#527cb5,#527cb4,#537bb4,#537bb4,#537ab4,#537ab4)"></i><i style="background:linear-gradient(#595ea9,#595ea9,#5960aa,#5861aa,#5862ab,#5863ab,#5765ac,#5767ac,#5768ad,#5769ad,#566aae,#566cae,#566daf,#556eaf,#5570b0,#5571b0,#5472b1,#5474b1,#5474b2,#5476b2,#5477b3,#5378b3,#5379b3,#537ab4,#537bb4,#527cb4,#527cb5,#527db5,#527eb5,#527fb6,#527fb6,#5280b6,#5180b6,#5180b6,#5180b6,#5181b6,#5181b6,#5181b6,#5180b6,#5180b6,#5280b6,#5280b6,#527fb6,#527eb5,#527eb5,#527db5,#527cb5,#527cb5)"></i><i style="background:linear-gradient(#595ea9,#595faa,#5860aa,#5862ab,#5863ab,#5765ac,#5767ac,#5768ad,#5769ad,#566bae,#566caf,#566daf,#556faf,#5571b0,#5572b1,#5473b1,#5474b2,#5476b2,#5477b3,#5378b3,#5379b3,#537bb4,#527cb4,#527db5,#527eb5,#527fb6,#5280b6,#5180b6,#5181b7,#5182b7,#5182b7,#5183b7,#5183b7,#5183b7,#5184b7,#5184b7,#5184b7,#5184b7,#5183b7,#5183b7,#5183b7,#5182b7,#5181b7,#5181b6,#5180b6,#5280b6,#527fb6,#527eb5)"></i><i style="background:linear-gradient(#5960aa,#5860aa,#5862ab,#5863ab,#5765ac,#5766ac,#5768ad,#5769ad,#566bae,#566caf,#556eaf,#556fb0,#5571b0,#5472b1,#5474b1,#5476b2,#5477b3,#5378b3,#5379b3,#537bb4,#527cb5,#527eb5,#527fb6,#5280b6,#5181b6,#5182b7,#5183b7,#5184b7,#5185b8,#5085b8,#5086b8,#5086b8,#5086b8,#5087b9,#5087b9,#5087b9,#5087b9,#5087b9,#5087b9,#5086b8,#5086b8,#5085b8,#5185b8,#5184b7,#5183b7,#5182b7,#5181b7,#5181b7)"></i><i style="background:linear-gradient(#5860aa,#5861aa,#5863ab,#5864ac,#5766ac,#5767ad,#5769ad,#566aae,#566caf,#556eaf,#556fb0,#5571b0,#5472b1,#5474b2,#5476b2,#5377b3,#5379b3,#537bb4,#527cb4,#527eb5,#527fb6,#5180b6,#5181b7,#5183b7,#5184b7,#5085b8,#5086b8,#5087b9,#5088b9,#5089b9,#4f8aba,#4f8aba,#4f8aba,#4f8bba,#4f8bba,#4f8bba,#4f8bba,#4f8bba,#4f8aba,#4f8aba,#4f8aba,#5089b9,#5088b9,#5087b9,#5086b8,#5085b8,#5185b8,#5184b7)"></i><i style="background:linear-gradient(#5861aa,#5862ab,#5863ab,#5765ac,#5767ac,#5768ad,#566aae,#566cae,#566daf,#556fb0,#5571b0,#5472b1,#5474b2,#5476b2,#5378b3,#5379b3,#537bb4,#527db5,#527eb5,#5180b6,#5181b7,#5183b7,#5185b8,#5086b8,#5087b9,#5088b9,#4f8aba,#4f8bba,#4f8bba,#4f8cbb,#4f8dbb,#4e8ebb,#4e8ebb,#4e8fbb,#4e8fbb,#4e8fbb,#4e8fbb,#4e8fbb,#4e8fbb,#4e8ebb,#4f8dbb,#4f8dbb,#4f8cbb,#4f8bba,#4f8aba,#5089b9,#5088b9,#5088b9)"></i><i style="background:linear-gradient(#5862ab,#5862ab,#5864ac,#5766ac,#5767ad,#5769ad,#566bae,#566daf,#556faf,#5571b0,#5472b1,#5474b2,#5476b2,#5378b3,#537ab4,#537bb4,#527db5,#527fb6,#5181b6,#5183b7,#5184b7,#5086b8,#5088b9,#5089b9,#4f8aba,#4f8bba,#4f8dbb,#4e8ebb,#4e8fbc,#4e90bc,#4f91bc,#4f92bc,#5092bb,#5093bb,#5093bb,#5093bb,#5093bb,#5093bb,#5092bb,#5092bb,#4f92bc,#4e90bc,#4e90bc,#4e8fbc,#4e8ebb,#4f8dbb,#4f8bba,#4f8bba)"></i><i style="background:linear-gradient(#5862ab,#5863ab,#5864ac,#5766ac,#5768ad,#566aae,#566cae,#566daf,#5570b0,#5572b1,#5474b1,#5476b2,#5377b3,#5379b3,#537bb4,#527db5,#5280b6,#5181b7,#5183b7,#5085b8,#5087b9,#5088b9,#4f8aba,#4f8cbb,#4f8dbb,#4e8fbc,#4e90bc,#4f92bc,#5093bb,#5194bb,#5195bb,#5296ba,#5397ba,#5397ba,#5397ba,#5397ba,#5397ba,#5397ba,#5397ba,#5397ba,#5296ba,#5295bb,#5194bb,#5093bb,#4f92bc,#4e90bc,#4e8fbc,#4e8fbc)"></i><i style="background:linear-gradient(#5862ab,#5863ab,#5765ac,#5767ac,#5768ad,#566aae,#566caf,#556faf,#5571b0,#5472b1,#5474b2,#5477b3,#5379b3,#537bb4,#527db5,#527fb6,#5181b6,#5183b7,#5085b8,#5087b9,#5089b9,#4f8bba,#4f8dbb,#4e8fbc,#4f91bc,#5092bb,#5194bb,#5295bb,#5397ba,#5499ba,#5499ba,#559ab9,#569bb9,#569cb9,#579cb9,#579cb9,#579cb9,#579cb9,#579cb9,#569cb9,#569bb9,#559aba,#5499ba,#5498ba,#5397ba,#5195bb,#5194bb,#5194bb)"></i><i style="background:linear-gradient(#5862ab,#5863ab,#5765ac,#5767ac,#5768ad,#566bae,#566daf,#556faf,#5571b0,#5473b1,#5476b2,#5377b3,#537ab4,#527cb4,#527eb5,#5180b6,#5183b7,#5085b8,#5087b9,#4f8aba,#4f8bba,#4e8ebb,#4e90bc,#4f92bc,#5194bb,#5296ba,#5498ba,#5499ba,#569bb9,#579cb9,#589eb9,#589fb8,#59a0b8,#5aa1b8,#5aa1b8,#5aa1b8,#5ba2b8,#5ba2b8,#5aa1b8,#5aa1b8,#59a0b8,#599fb8,#589eb8,#579db9,#569cb9,#559aba,#5499ba,#5498ba)"></i><i style="background:linear-gradient(#5862ab,#5863ab,#5765ac,#5767ac,#5768ad,#566bae,#566daf,#556fb0,#5571b0,#5474b1,#5476b2,#5378b3,#537bb4,#527db5,#527fb6,#5181b7,#5184b7,#5086b8,#5089b9,#4f8bba,#4e8ebb,#4e90bc,#5092bb,#5195bb,#5397ba,#5499ba,#569bb9,#579db9,#589fb8,#5aa1b8,#5ba3b7,#5ca4b7,#5da5b7,#5da6b7,#5ea6b6,#5ea7b6,#5fa8b6,#5fa8b6,#5ea7b6,#5ea7b6,#5da6b7,#5da5b7,#5ca4b7,#5ba3b7,#5aa1b8,#599fb8,#589eb9,#579db9)"></i><i style="background:linear-gradient(#5862ab,#5862ab,#5864ac,#5767ac,#5768ad,#566bae,#566daf,#556fb0,#5571b0,#5474b1,#5476b2,#5379b3,#537bb4,#527eb5,#5180b6,#5183b7,#5085b8,#5088b9,#4f8aba,#4f8dbb,#4e8fbc,#5092bb,#5195bb,#5397ba,#559aba,#579cb9,#589fb8,#5aa1b8,#5ca3b7,#5da5b7,#5ea7b6,#5fa8b6,#60aab5,#61abb5,#62acb5,#63adb5,#63adb5,#63adb5,#63adb5,#63adb5,#62acb5,#61abb5,#60aab5,#5fa9b6,#5ea7b6,#5da5b7,#5ca3b7,#5ba3b7)"></i><i style="background:linear-gradient(#5861aa,#5862ab,#5864ac,#5766ac,#5768ad,#566aae,#566daf,#556fb0,#5571b0,#5474b1,#5476b2,#5379b3,#537bb4,#527eb5,#5181b6,#5183b7,#5086b8,#5089b9,#4f8bba,#4e8ebb,#4f91bc,#5194bb,#5397ba,#5499ba,#579cb9,#589fb8,#5ba2b8,#5ca4b7,#5ea7b6,#5fa9b6,#61abb5,#63adb5,#64afb4,#65b1b4,#66b2b3,#67b3b3,#67b3b3,#67b4b3,#67b4b3,#67b3b3,#67b3b3,#66b2b3,#65b1b4,#64afb4,#63adb5,#61abb5,#60a9b6,#5fa9b6)"></i><i style="background:linear-gradient(#5860aa,#5861aa,#5863ab,#5765ac,#5768ad,#566aae,#566caf,#556faf,#5571b0,#5474b1,#5476b2,#5379b3,#537bb4,#527eb5,#5181b6,#5183b7,#5086b8,#4f8aba,#4f8cbb,#4e8fbc,#5092bb,#5295bb,#5499ba,#569bb9,#589eb8,#5aa1b8,#5ca4b7,#5fa8b6,#60aab5,#63adb5,#64b0b4,#66b2b3,#67b4b3,#69b7b2,#6ab8b2,#6bb9b2,#6cbab1,#6cbbb1,#6cbbb1,#6cbbb1,#6cbab1,#6bbab2,#6ab8b2,#69b7b2,#68b5b3,#66b2b3,#64b0b4,#64b0b4)"></i><i style="background:linear-gradient(#595faa,#5860aa,#5862ab,#5765ac,#5767ad,#5769ad,#566cae,#556eaf,#5571b0,#5473b1,#5476b2,#5378b3,#537bb4,#527eb5,#5181b6,#5183b7,#5086b8,#4f8aba,#4f8dbb,#4e90bc,#5093bb,#5296ba,#559aba,#579db9,#59a0b8,#5ca4b7,#5ea7b6,#60aab5,#63aeb5,#65b1b4,#67b4b3,#69b7b2,#6bbab2,#6dbcb1,#6ebeb0,#70c0b0,#71c1b0,#71c2af,#72c3af,#72c3af,#71c2af,#71c2b0,#70c1b0,#6fbfb0,#6dbcb1,#6cbab1,#6ab7b2,#6ab7b2)"></i><i style="background:linear-gradient(#595ea9,#595faa,#5862ab,#5863ab,#5766ac,#5768ad,#566bae,#566daf,#5570b0,#5472b1,#5475b2,#5378b3,#537bb4,#527eb5,#5180b6,#5183b7,#5086b8,#4f8aba,#4f8dbb,#4e90bc,#5194bb,#5397ba,#559ab9,#589eb8,#5aa1b8,#5da5b7,#5fa9b6,#62adb5,#65b0b4,#67b4b3,#6ab8b2,#6cbbb1,#6ebeb0,#71c1b0,#73c4af,#75c7ae,#76c9ae,#77caae,#78cbad,#78cbad,#78cbad,#77cbad,#76c9ae,#75c7ae,#73c5af,#71c2af,#70c0b0,#6fbfb0)"></i><i style="background:linear-gradient(#595da9,#595ea9,#5860aa,#5863ab,#5765ac,#5767ad,#566aae,#566caf,#556faf,#5572b1,#5474b2,#5477b3,#537ab4,#527cb5,#5280b6,#5183b7,#5086b8,#5089b9,#4f8dbb,#4e90bc,#5194bb,#5397ba,#569bb9,#589fb8,#5ba3b7,#5ea6b6,#60aab5,#63aeb4,#67b3b3,#69b7b2,#6cbbb1,#6fbfb0,#71c2af,#74c6ae,#77caae,#79cdad,#7bd0ac,#7dd1ac,#7ed2ac,#7fd2ac,#7fd2ac,#7fd2ac,#7ed1ac,#7cd1ac,#7acfac,#79ccad,#76c9ae,#75c8ae)"></i><i style="background:linear-gradient(#595ca8,#595da9,#595faa,#5862ab,#5864ac,#5766ac,#5768ad,#566bae,#556eaf,#5571b0,#5473b1,#5476b2,#5379b3,#527cb4,#527fb6,#5182b7,#5085b8,#5088b9,#4f8cbb,#4e8fbc,#5093bb,#5397ba,#559ab9,#589fb8,#5ba3b7,#5ea7b6,#61abb5,#64b0b4,#67b4b3,#6ab8b2,#6ebdb1,#71c2b0,#75c7ae,#78cbad,#7bd0ac,#7ed1ac,#81d3ac,#83d4ab,#86d5ab,#87d5ab,#88d6ab,#88d6ab,#87d5ab,#86d5ab,#83d4ab,#81d3ac,#7ed1ac,#7dd1ac)"></i><i style="background:linear-gradient(#5a5ba8,#5a5ba8,#595ea9,#5860aa,#5862ab,#5765ac,#5767ad,#566aae,#566caf,#556fb0,#5572b1,#5475b2,#5377b3,#537bb4,#527eb5,#5181b6,#5184b7,#5088b9,#4f8bba,#4e8fbb,#5092bb,#5296ba,#559aba,#589eb8,#5ba3b7,#5ea7b6,#61abb5,#65b0b4,#68b5b3,#6bbab2,#6fbfb0,#73c4af,#76c9ae,#7acfac,#7ed2ac,#82d3ab,#87d5ab,#8ad7ab,#8dd8ab,#8fd9aa,#91daaa,#92daaa,#91daaa,#90daaa,#8ed9ab,#8bd7ab,#88d6ab,#87d5ab)"></i><i style="background:linear-gradient(#5a59a8,#5a5aa8,#595da9,#595ea9,#5861aa,#5863ab,#5766ac,#5768ad,#566bae,#556eaf,#5571b0,#5473b1,#5476b2,#5379b3,#527cb5,#5280b6,#5183b7,#5086b8,#4f8aba,#4f8dbb,#4f91bc,#5195bb,#5499ba,#579db9,#5aa1b8,#5ea6b6,#61abb5,#64b0b4,#68b5b3,#6cbab1,#70c0b0,#74c6af,#78cbad,#7cd1ac,#81d3ac,#86d5ab,#8bd7ab,#90d9aa,#95dcaa,#98ddaa,#9bdeaa,#9ddfa9,#9de0a9,#9cdfa9,#9adeaa,#97ddaa,#93dbaa,#93dbaa)"></i><i style="background:linear-gradient(#5a58a7,#5a59a7,#5a5ba8,#595da9,#5960aa,#5862ab,#5765ac,#5767ad,#566aae,#566caf,#556faf,#5572b1,#5475b2,#5377b3,#537bb4,#527eb5,#5181b7,#5185b8,#5088b9,#4f8cbb,#4e90bc,#5194bb,#5397ba,#569cb9,#59a0b8,#5da5b7,#60a9b6,#64afb4,#67b4b3,#6bbab2,#6fbfb0,#74c6af,#78ccad,#7dd1ac,#83d4ab,#89d6ab,#8fd9aa,#95dcaa,#9bdeaa,#a0e1a9,#a5e3a9,#a8e5a9,#aae5a8,#aae5a8,#a9e5a9,#a5e3a9,#a1e1a9,#a0e1a9)"></i><i style="background:linear-gradient(#5b56a6,#5a57a7,#5a59a8,#595ca8,#595ea9,#5860aa,#5863ab,#5765ac,#5768ad,#566aae,#566daf,#5570b0,#5473b1,#5476b2,#5379b3,#527cb5,#5280b6,#5183b7,#5086b8,#4f8aba,#4e8ebb,#4f92bc,#5296ba,#559aba,#589eb8,#5ca3b7,#5fa8b6,#63adb5,#66b2b3,#6ab8b2,#6ebeb0,#73c4af,#78cbad,#7dd1ac,#83d4ab,#8ad7ab,#90daaa,#98ddaa,#9fe1a9,#a7e4a9,#aee7a8,#b4e9a7,#b8eba5,#baeca5,#b9eba5,#b6eaa6,#b1e9a8,#b1e8a8)"></i><i style="background:linear-gradient(#5b55a6,#5b56a6,#5a58a7,#5a5aa8,#595da9,#595faa,#5861aa,#5863ab,#5766ac,#5769ad,#566cae,#556eaf,#5571b0,#5474b2,#5377b3,#537bb4,#527eb5,#5181b6,#5185b8,#5088b9,#4f8bba,#4e90bc,#5194bb,#5498ba,#579cb9,#5aa1b8,#5da6b7,#61abb5,#65b0b4,#69b6b3,#6dbcb1,#71c2af,#76c9ae,#7cd0ac,#82d3ab,#89d6ab,#90daaa,#9da,#a2e1a9,#abe6a8,#b4e9a7,#bdeda4,#c5f0a1,#caf29f,#cdf39e,#caf29f,#c5f0a1,#c3efa2)"></i><i style="background:linear-gradient(#5b53a5,#5b54a6,#5b56a6,#5a59a7,#5a5ba8,#595da9,#5960aa,#5862ab,#5765ac,#5767ad,#566aae,#566caf,#556fb0,#5472b1,#5475b2,#5378b3,#537bb4,#527fb6,#5182b7,#5086b8,#4f8aba,#4f8dbb,#4f91bc,#5295bb,#559aba,#589eb8,#5ca3b7,#5fa8b6,#63adb5,#67b3b3,#6bb9b2,#6fbfb0,#74c6ae,#79cead,#80d2ac,#87d5ab,#8ed9ab,#97ddaa,#a1e1a9,#abe6a8,#b6eaa6,#c1efa2,#cef39e,#daf89a,#e2fa9b,#e2fb9c,#dffa98,#def999)"></i><i style="background:linear-gradient(#5c52a5,#5b53a5,#5b55a6,#5a57a7,#5a59a8,#5a5ba8,#595ea9,#5860aa,#5863ab,#5765ac,#5768ad,#566aae,#566daf,#5570b0,#5473b1,#5476b2,#5379b3,#527cb5,#5280b6,#5183b7,#5087b9,#4f8bba,#4e8fbb,#5093bb,#5397ba,#569cb9,#59a0b8,#5da5b7,#60aab5,#64b0b4,#68b5b3,#6dbcb1,#71c2af,#76c9ae,#7cd1ac,#83d4ab,#8bd7ab,#93dbaa,#9ddfa9,#a7e4a9,#b3e9a7,#c0eea3,#d0f49d,#e1fa9a,#eafdaa,#f2ffb9,#f2feb8,#f1feb6)"></i><i style="background:linear-gradient(#5c51a4,#5c52a5,#5b54a6,#5b56a6,#5a59a7,#5a5ba8,#595da9,#5960aa,#5862ab,#5765ac,#5767ad,#566aae,#566daf,#556fb0,#5472b1,#5476b2,#5379b3,#527cb4,#527fb6,#5183b7,#5086b8,#4f8aba,#4e8ebb,#4f92bc,#5296ba,#559ab9,#589fb8,#5ca4b7,#5fa9b6,#63aeb4,#67b4b3,#6cbab1,#71c1b0,#75c8ae,#7bd0ac,#81d3ac,#89d6ab,#91daaa,#9bdeaa,#a5e3a9,#b1e9a8,#beeda3,#cef39e,#e1fa99,#ebfdac,#f3f9b2,#f2f3a7,#f3f5aa)"></i><i style="background:linear-gradient(#5c51a4,#5c52a5,#5b54a6,#5b56a6,#5a59a7,#5a5ba8,#595da9,#5960aa,#5862ab,#5765ac,#5767ad,#566aae,#566daf,#556fb0,#5472b1,#5476b2,#5379b3,#527cb4,#527fb6,#5183b7,#5086b8,#4f8aba,#4e8ebb,#4f92bc,#5296ba,#559ab9,#589fb8,#5ca4b7,#5fa9b6,#63aeb4,#67b4b3,#6cbab1,#71c1b0,#75c8ae,#7bd0ac,#81d3ac,#89d6ab,#91daaa,#9bdeaa,#a5e3a9,#b1e9a8,#beeda3,#cef39e,#e1fa99,#ebfdac,#f3f9b2,#f2f3a7,#f3f5aa)"></i><i style="background:linear-gradient(#5c51a4,#5c52a5,#5b54a6,#5b56a6,#5a59a7,#5a5ba8,#595da9,#5960aa,#5862ab,#5765ac,#5767ad,#566aae,#566daf,#556fb0,#5472b1,#5476b2,#5379b3,#527cb4,#527fb6,#5183b7,#5086b8,#4f8aba,#4e8ebb,#4f92bc,#5296ba,#559ab9,#589fb8,#5ca4b7,#5fa9b6,#63aeb4,#67b4b3,#6cbab1,#71c1b0,#75c8ae,#7bd0ac,#81d3ac,#89d6ab,#91daaa,#9bdeaa,#a5e3a9,#b1e9a8,#beeda3,#cef39e,#e1fa99,#ebfdac,#f3f9b2,#f2f3a7,#f3f5aa)"></i></div></div>
<div class="cb" style="left:1435.2px;top:50.4px;background:linear-gradient(#5c50a4,#4e90bc,#7bd0ac,#b0e8a8,#e0fa98,#f4ffbc,#f0e088,#eca860,#eb6644,#d43c52,#a1184a)"></div>
<div class="hm" style="left:1778.4px;top:50.4px"><div class="hb"><i style="background:linear-gradient(#5c50a4,#5c50a4,#5c50a4,#5c52a5,#5b54a6,#5b56a6,#5a59a7,#5a5ba8,#595da9,#5960aa,#5862ab,#5765ac,#5767ad,#566aae,#566daf,#556fb0,#5472b1,#5476b2,#5379b3,#527cb4,#527fb6,#5183b7,#5086b8,#4f8aba,#4e8ebb,#4f92bc,#5296ba,#559ab9,#589fb8,#5ca4b7,#5fa9b6,#63aeb4,#67b4b3,#6cbab1,#71c1b0,#75c8ae,#7bd0ac,#82d3ab,#89d6ab,#91daaa,#9bdeaa,#a6e3a9,#b1e9a8,#beeda3,#cef39e,#e0fa99,#eafdab,#ecfdae)"></i><i style="background:linear-gradient(#5c50a4,#5c50a4,#5c50a4,#5c52a5,#5b54a6,#5b56a6,#5a59a7,#5a5ba8,#595da9,#5960aa,#5862ab,#5765ac,#5767ad,#566aae,#566daf,#556fb0,#5472b1,#5476b2,#5379b3,#527cb4,#527fb6,#5183b7,#5086b8,#4f8aba,#4e8ebb,#4f92bc,#5296ba,#559ab9,#589fb8,#5ca4b7,#5fa9b6,#63aeb4,#67b4b3,#6cbab1,#71c1b0,#75c8ae,#7bd0ac,#82d3ab,#89d6ab,#91daaa,#9bdeaa,#a6e3a9,#b1e9a8,#beeda3,#cef39e,#e0fa99,#eafdab,#ecfdae)"></i><i style="background:linear-gradient(#5c50a4,#5c50a4,#5c50a4,#5c52a5,#5b54a6,#5b56a6,#5a59a7,#5a5ba8,#595da9,#5960aa,#5862ab,#5765ac,#5767ad,#566aae,#566daf,#556fb0,#5472b1,#5476b2,#5379b3,#527cb4,#527fb6,#5183b7,#5086b8,#4f8aba,#4e8ebb,#4f92bc,#5296ba,#559ab9,#589fb8,#5ca4b7,#5fa9b6,#63aeb4,#67b4b3,#6cbab1,#71c1b0,#75c8ae,#7bd0ac,#82d3ab,#89d6ab,#91daaa,#9bdeaa,#a6e3a9,#b1e9a8,#beeda3,#cef39e,#e0fa99,#eafdab,#ecfdae)"></i><i style="background:linear-gradient(#5c50a4,#5c50a4,#5c50a4,#5c51a4,#5b53a5,#5b55a6,#5a57a7,#5a59a8,#5a5ba8,#595ea9,#5860aa,#5863ab,#5765ac,#5768ad,#566aae,#566daf,#5570b0,#5473b1,#5476b2,#5379b3,#527cb5,#5280b6,#5183b7,#5087b9,#4f8bba,#4e8fbb,#5092bb,#5397ba,#569bb9,#59a0b8,#5da5b7,#60aab5,#64b0b4,#68b5b3,#6dbcb1,#71c2af,#76c9ae,#7cd0ac,#82d3ab,#8ad7ab,#93dbaa,#9cdfaa,#a6e4a9,#b1e9a8,#beeda3,#ccf39f,#dcf999,#dffa98)"></i><i style="background:linear-gradient(#5c50a4,#5c50a4,#5c50a4,#5c50a4,#5c50a4,#5c52a5,#5b54a5,#5b56a6,#5a58a7,#5a5ba8,#595da9,#595faa,#5862ab,#5864ac,#5767ac,#566aae,#566caf,#556faf,#5572b1,#5475b2,#5378b3,#537bb4,#527eb5,#5181b7,#5085b8,#5089b9,#4f8dbb,#4e90bc,#5195bb,#5499ba,#589eb9,#5ba3b7,#5fa8b6,#62adb5,#66b2b3,#6ab8b2,#6ebeb0,#73c5af,#78ccad,#7ed1ac,#85d5ab,#8cd8ab,#94dbaa,#9ddfa9,#a7e4a9,#b1e8a8,#bbeca4,#bdeda4)"></i><i style="background:linear-gradient(#5c50a4,#5c50a4,#5c50a4,#5c50a4,#5c50a4,#5c50a4,#5c51a4,#5b53a5,#5b55a6,#5a58a7,#5a5aa8,#595ca8,#595ea9,#5861aa,#5863ab,#5766ac,#5768ad,#566bae,#566daf,#5571b0,#5474b1,#5476b2,#5379b3,#527cb5,#5180b6,#5183b7,#5087b9,#4f8bba,#4e8fbb,#5092bb,#5397ba,#569bb9,#599fb8,#5ca4b7,#60a9b6,#63aeb4,#67b4b3,#6bbab2,#70c0b0,#74c6ae,#79cdad,#7fd2ac,#86d5ab,#8cd8ab,#94dbaa,#9bdfaa,#a4e2a9,#a5e3a9)"></i><i style="background:linear-gradient(#5c50a4,#5c50a4,#5c50a4,#5c50a4,#5c50a4,#5c50a4,#5c50a4,#5c51a4,#5b53a5,#5b54a6,#5a57a7,#5a59a7,#5a5ba8,#595da9,#5960aa,#5862ab,#5765ac,#5767ad,#566aae,#566caf,#556fb0,#5572b1,#5475b2,#5378b3,#537bb4,#527eb5,#5181b7,#5085b8,#5088b9,#4f8cbb,#4e90bc,#5194bb,#5498ba,#579cb9,#5aa1b8,#5da6b7,#61abb5,#64b0b4,#68b5b3,#6cbab1,#70c1b0,#75c7ae,#79cdad,#7ed2ac,#85d4ab,#8bd7ab,#91daaa,#92daaa)"></i><i style="background:linear-gradient(#5c50a4,#5c50a4,#5c50a4,#5c50a4,#5c50a4,#5c50a4,#5c50a4,#5c50a4,#5c50a4,#5c52a5,#5b54a5,#5b56a6,#5a58a7,#5a5aa8,#595da9,#595ea9,#5861aa,#5863ab,#5766ac,#5768ad,#566bae,#556eaf,#5571b0,#5474b1,#5476b2,#5379b3,#527cb5,#5280b6,#5183b7,#5086b8,#4f8aba,#4f8dbb,#4f91bc,#5295bb,#5499ba,#589eb9,#5ba2b8,#5ea6b6,#61abb5,#65b0b4,#68b5b3,#6cbab1,#70c0b0,#74c6ae,#78ccad,#7dd1ac,#82d3ab,#82d3ab)"></i><i style="background:linear-gradient(#5c50a4,#5c50a4,#5c50a4,#5c50a4,#5c50a4,#5c50a4,#5c50a4,#5c50a4,#5c50a4,#5c50a4,#5c51a4,#5b53a5,#5b55a6,#5a57a7,#5a59a8,#5a5ba8,#595ea9,#5860aa,#5862ab,#5765ac,#5767ad,#566aae,#566caf,#556fb0,#5572b1,#5474b2,#5377b3,#537bb4,#527eb5,#5181b6,#5184b7,#5087b9,#4f8bba,#4e8fbb,#5092bb,#5296ba,#559aba,#589eb8,#5ba2b8,#5ea6b6,#61abb5,#64b0b4,#68b5b3,#6bbab2,#6fbfb0,#72c4af,#76c9ae,#77caae)"></i><i style="background:linear-gradient(#5c50a4,#5c50a4,#5c50a4,#5c50a4,#5c50a4,#5c50a4,#5c50a4,#5c50a4,#5c50a4,#5c50a4,#5c50a4,#5c50a4,#5c52a5,#5b54a6,#5b56a6,#5a58a7,#5a5ba8,#595da9,#595faa,#5861aa,#5863ab,#5766ac,#5768ad,#566bae,#566daf,#5570b0,#5473b1,#5476b2,#5379b3,#537bb4,#527eb5,#5181b7,#5185b8,#5088b9,#4f8bba,#4e8fbc,#5092bb,#5296ba,#559aba,#589eb8,#5ba2b8,#5ea6b6,#60aab5,#63aeb4,#67b3b3,#6ab8b2,#6dbcb1,#6ebdb1)"></i><i style="background:linear-gradient(#5c50a4,#5c50a4,#5c50a4,#5c50a4,#5c50a4,#5c50a4,#5c50a4,#5c50a4,#5c50a4,#5c50a4,#5c50a4,#5c50a4,#5c50a4,#5c51a4,#5b53a5,#5b56a6,#5a58a7,#5a59a8,#595ca8,#595ea9,#5860aa,#5862ab,#5765ac,#5767ad,#566aae,#566caf,#556faf,#5571b0,#5474b1,#5477b3,#5379b3,#527cb5,#527fb6,#5182b7,#5085b8,#5088b9,#4f8cbb,#4e8fbc,#5092bb,#5296ba,#559aba,#589eb9,#5aa1b8,#5da5b7,#5fa9b6,#63adb5,#65b1b4,#66b2b4)"></i><i style="background:linear-gradient(#5c50a4,#5c50a4,#5c50a4,#5c50a4,#5c50a4,#5c50a4,#5c50a4,#5c50a4,#5c50a4,#5c50a4,#5c50a4,#5c50a4,#5c50a4,#5c50a4,#5c51a4,#5b53a5,#5b54a6,#5a57a7,#5a59a7,#5a5ba8,#595da9,#595faa,#5861aa,#5863ab,#5766ac,#5768ad,#566aae,#566daf,#556fb0,#5572b1,#5474b2,#5377b3,#537ab4,#527db5,#5280b6,#5183b7,#5086b8,#5089b9,#4f8cbb,#4e8fbc,#5092bb,#5295bb,#5499ba,#579cb9,#59a0b8,#5ca3b7,#5ea7b6,#5fa8b6)"></i><i style="background:linear-gradient(#5c50a4,#5c50a4,#5c50a4,#5c50a4,#5c50a4,#5c50a4,#5c50a4,#5c50a4,#5c50a4,#5c50a4,#5c50a4,#5c50a4,#5c50a4,#5c50a4,#5c50a4,#5c50a4,#5c52a5,#5b54a5,#5b56a6,#5a58a7,#5a59a8,#595ca8,#595ea9,#5960aa,#5862ab,#5864ac,#5767ac,#5769ad,#566bae,#566daf,#5570b0,#5472b1,#5475b2,#5377b3,#537bb4,#527db5,#5280b6,#5183b7,#5085b8,#5088b9,#4f8bba,#4e8fbb,#4f92bc,#5195bb,#5498ba,#569bb9,#589eb8,#589fb8)"></i><i style="background:linear-gradient(#5c50a4,#5c50a4,#5c50a4,#5c50a4,#5c50a4,#5c50a4,#5c50a4,#5c50a4,#5c50a4,#5c50a4,#5c50a4,#5c50a4,#5c50a4,#5c50a4,#5c50a4,#5c50a4,#5c50a4,#5c51a4,#5b53a5,#5b55a6,#5a57a7,#5a59a7,#5a5ba8,#595da9,#595faa,#5861aa,#5863ab,#5765ac,#5767ad,#566aae,#566cae,#556eaf,#5571b0,#5473b1,#5476b2,#5378b3,#537bb4,#527db5,#5280b6,#5182b7,#5085b8,#5088b9,#4f8bba,#4f8dbb,#4e90bc,#5093bb,#5296ba,#5397ba)"></i><i style="background:linear-gradient(#5c50a4,#5c50a4,#5c50a4,#5c50a4,#5c50a4,#5c50a4,#5c50a4,#5c50a4,#5c50a4,#5c50a4,#5c50a4,#5c50a4,#5c50a4,#5c50a4,#5c50a4,#5c50a4,#5c50a4,#5c50a4,#5c51a4,#5b53a5,#5b54a6,#5b56a6,#5a58a7,#5a59a8,#595ca8,#595ea9,#5960aa,#5862ab,#5863ab,#5766ac,#5768ad,#566aae,#566caf,#556faf,#5571b0,#5473b1,#5476b2,#5378b3,#537bb4,#527db5,#5280b6,#5182b7,#5185b8,#5087b9,#4f8aba,#4f8cbb,#4e8fbb,#4e8fbc)"></i><i style="background:linear-gradient(#5c50a4,#5c50a4,#5c50a4,#5c50a4,#5c50a4,#5c50a4,#5c50a4,#5c50a4,#5c50a4,#5c50a4,#5c50a4,#5c50a4,#5c50a4,#5c50a4,#5c50a4,#5c50a4,#5c50a4,#5c50a4,#5c50a4,#5c50a4,#5c52a5,#5b53a5,#5b55a6,#5a57a7,#5a59a7,#5a5ba8,#595da9,#595ea9,#5860aa,#5862ab,#5864ac,#5767ac,#5768ad,#566aae,#566daf,#556faf,#5571b0,#5473b1,#5476b2,#5377b3,#537ab4,#527cb5,#527eb5,#5181b6,#5183b7,#5086b8,#5088b9,#5088b9)"></i><i style="background:linear-gradient(#5c50a4,#5c50a4,#5c50a4,#5c50a4,#5c50a4,#5c50a4,#5c50a4,#5c50a4,#5c50a4,#5c50a4,#5c50a4,#5c50a4,#5c50a4,#5c50a4,#5c50a4,#5c50a4,#5c50a4,#5c50a4,#5c50a4,#5c50a4,#5c50a4,#5c51a4,#5b53a5,#5b54a6,#5b56a6,#5a58a7,#5a59a8,#5a5ba8,#595da9,#595faa,#5861aa,#5863ab,#5765ac,#5767ac,#5768ad,#566aae,#566daf,#556faf,#5571b0,#5473b1,#5475b2,#5377b3,#5379b3,#537bb4,#527eb5,#5280b6,#5182b7,#5183b7)"></i><i style="background:linear-gradient(#5c50a4,#5c50a4,#5c50a4,#5c50a4,#5c50a4,#5c50a4,#5c50a4,#5c50a4,#5c50a4,#5c50a4,#5c50a4,#5c50a4,#5c50a4,#5c50a4,#5c50a4,#5c50a4,#5c50a4,#5c50a4,#5c50a4,#5c50a4,#5c50a4,#5c50a4,#5c51a4,#5c52a5,#5b54a5,#5b55a6,#5a57a7,#5a59a7,#5a5aa8,#595ca8,#595ea9,#5960aa,#5862ab,#5863ab,#5765ac,#5767ac,#5768ad,#566bae,#566daf,#556faf,#5571b0,#5472b1,#5474b2,#5476b2,#5379b3,#537bb4,#527cb5,#527db5)"></i><i style="background:linear-gradient(#5c50a4,#5c50a4,#5c50a4,#5c50a4,#5c50a4,#5c50a4,#5c50a4,#5c50a4,#5c50a4,#5c50a4,#5c50a4,#5c50a4,#5c50a4,#5c50a4,#5c50a4,#5c50a4,#5c50a4,#5c50a4,#5c50a4,#5c50a4,#5c50a4,#5c50a4,#5c50a4,#5c50a4,#5c51a4,#5b53a5,#5b54a6,#5b56a6,#5a58a7,#5a59a8,#5a5ba8,#595da9,#595ea9,#5960aa,#5862ab,#5863ab,#5765ac,#5767ac,#5768ad,#566aae,#566caf,#556eaf,#5570b0,#5572b1,#5474b1,#5476b2,#5377b3,#5377b3)"></i><i style="background:linear-gradient(#5c50a4,#5c50a4,#5c50a4,#5c50a4,#5c50a4,#5c50a4,#5c50a4,#5c50a4,#5c50a4,#5c50a4,#5c50a4,#5c50a4,#5c50a4,#5c50a4,#5c50a4,#5c50a4,#5c50a4,#5c50a4,#5c50a4,#5c50a4,#5c50a4,#5c50a4,#5c50a4,#5c50a4,#5c50a4,#5c51a4,#5b53a5,#5b54a5,#5b55a6,#5a57a7,#5a58a7,#5a5aa8,#5a5ba8,#595da9,#595ea9,#5860aa,#5862ab,#5863ab,#5765ac,#5767ac,#5768ad,#566aae,#566cae,#566daf,#556fb0,#5571b0,#5472b1,#5473b1)"></i><i style="background:linear-gradient(#5c50a4,#5c50a4,#5c50a4,#5c50a4,#5c50a4,#5c50a4,#5c50a4,#5c50a4,#5c50a4,#5c50a4,#5c50a4,#5c50a4,#5c50a4,#5c50a4,#5c50a4,#5c50a4,#5c50a4,#5c50a4,#5c50a4,#5c50a4,#5c50a4,#5c50a4,#5c50a4,#5c50a4,#5c50a4,#5c50a4,#5c50a4,#5c52a5,#5b53a5,#5b54a6,#5b56a6,#5a58a7,#5a59a7,#5a5aa8,#595ca8,#595da9,#595ea9,#5860aa,#5862ab,#5863ab,#5765ac,#5767ac,#5768ad,#566aae,#566bae,#566daf,#556eaf,#556faf)"></i><i style="background:linear-gradient(#5c50a4,#5c50a4,#5c50a4,#5c50a4,#5c50a4,#5c50a4,#5c50a4,#5c50a4,#5c50a4,#5c50a4,#5c50a4,#5c50a4,#5c50a4,#5c50a4,#5c50a4,#5c50a4,#5c50a4,#5c50a4,#5c50a4,#5c50a4,#5c50a4,#5c50a4,#5c50a4,#5c50a4,#5c50a4,#5c50a4,#5c50a4,#5c50a4,#5c51a4,#5b53a5,#5b54a5,#5b55a6,#5b56a6,#5a58a7,#5a59a7,#5a5ba8,#595ca8,#595da9,#595ea9,#5860aa,#5862ab,#5863ab,#5765ac,#5766ac,#5767ad,#5769ad,#566aae,#566aae)"></i><i style="background:linear-gradient(#5c50a4,#5c50a4,#5c50a4,#5c50a4,#5c50a4,#5c50a4,#5c50a4,#5c50a4,#5c50a4,#5c50a4,#5c50a4,#5c50a4,#5c50a4,#5c50a4,#5c50a4,#5c50a4,#5c50a4,#5c50a4,#5c50a4,#5c50a4,#5c50a4,#5c50a4,#5c50a4,#5c50a4,#5c50a4,#5c50a4,#5c50a4,#5c50a4,#5c50a4,#5c51a4,#5c52a5,#5b53a5,#5b54a6,#5b56a6,#5a57a7,#5a58a7,#5a59a8,#5a5ba8,#595ca8,#595da9,#595ea9,#5960aa,#5861aa,#5863ab,#5864ac,#5765ac,#5767ac,#5767ac)"></i><i style="background:linear-gradient(#5c50a4,#5c50a4,#5c50a4,#5c50a4,#5c50a4,#5c50a4,#5c50a4,#5c50a4,#5c50a4,#5c50a4,#5c50a4,#5c50a4,#5c50a4,#5c50a4,#5c50a4,#5c50a4,#5c50a4,#5c50a4,#5c50a4,#5c50a4,#5c50a4,#5c50a4,#5c50a4,#5c50a4,#5c50a4,#5c50a4,#5c50a4,#5c50a4,#5c50a4,#5c50a4,#5c50a4,#5c51a4,#5b53a5,#5b54a5,#5b54a6,#5b56a6,#5a57a7,#5a58a7,#5a59a8,#5a5ba8,#595ca8,#595da9,#595ea9,#5960aa,#5861aa,#5862ab,#5863ab,#5863ab)"></i><i style="background:linear-gradient(#5c50a4,#5c50a4,#5c50a4,#5c50a4,#5c50a4,#5c50a4,#5c50a4,#5c50a4,#5c50a4,#5c50a4,#5c50a4,#5c50a4,#5c50a4,#5c50a4,#5c50a4,#5c50a4,#5c50a4,#5c50a4,#5c50a4,#5c50a4,#5c50a4,#5c50a4,#5c50a4,#5c50a4,#5c50a4,#5c50a4,#5c50a4,#5c50a4,#5c50a4,#5c50a4,#5c50a4,#5c50a4,#5c51a4,#5c52a5,#5b53a5,#5b54a5,#5b55a6,#5b56a6,#5a57a7,#5a58a7,#5a59a8,#5a5ba8,#595ca8,#595da9,#595ea9,#595faa,#5860aa,#5860aa)"></i><i style="background:linear-gradient(#5c50a4,#5c50a4,#5c50a4,#5c50a4,#5c50a4,#5c50a4,#5c50a4,#5c50a4,#5c50a4,#5c50a4,#5c50a4,#5c50a4,#5c50a4,#5c50a4,#5c50a4,#5c50a4,#5c50a4,#5c50a4,#5c50a4,#5c50a4,#5c50a4,#5c50a4,#5c50a4,#5c50a4,#5c50a4,#5c50a4,#5c50a4,#5c50a4,#5c50a4,#5c50a4,#5c50a4,#5c50a4,#5c50a4,#5c50a4,#5c51a4,#5b53a5,#5b53a5,#5b54a6,#5b55a6,#5b56a6,#5a57a7,#5a58a7,#5a59a8,#5a5aa8,#5a5ba8,#595da9,#595da9,#595da9)"></i><i style="background:linear-gradient(#5c50a4,#5c50a4,#5c50a4,#5c50a4,#5c50a4,#5c50a4,#5c50a4,#5c50a4,#5c50a4,#5c50a4,#5c50a4,#5c50a4,#5c50a4,#5c50a4,#5c50a4,#5c50a4,#5c50a4,#5c50a4,#5c50a4,#5c50a4,#5c50a4,#5c50a4,#5c50a4,#5c50a4,#5c50a4,#5c50a4,#5c50a4,#5c50a4,#5c50a4,#5c50a4,#5c50a4,#5c50a4,#5c50a4,#5c50a4,#5c50a4,#5c51a4,#5c52a5,#5b53a5,#5b54a5,#5b54a6,#5b55a6,#5b56a6,#5a57a7,#5a58a7,#5a59a7,#5a5aa8,#5a5ba8,#5a5ba8)"></i><i style="background:linear-gradient(#5c50a4,#5c50a4,#5c50a4,#5c50a4,#5c50a4,#5c50a4,#5c50a4,#5c50a4,#5c50a4,#5c50a4,#5c50a4,#5c50a4,#5c50a4,#5c50a4,#5c50a4,#5c50a4,#5c50a4,#5c50a4,#5c50a4,#5c50a4,#5c50a4,#5c50a4,#5c50a4,#5c50a4,#5c50a4,#5c50a4,#5c50a4,#5c50a4,#5c50a4,#5c50a4,#5c50a4,#5c50a4,#5c50a4,#5c50a4,#5c50a4,#5c50a4,#5c51a4,#5c51a4,#5c52a5,#5b53a5,#5b54a5,#5b54a6,#5b55a6,#5b56a6,#5a57a7,#5a58a7,#5a58a7,#5a59a7)"></i><i style="background:linear-gradient(#5c50a4,#5c50a4,#5c50a4,#5c50a4,#5c50a4,#5c50a4,#5c50a4,#5c50a4,#5c50a4,#5c50a4,#5c50a4,#5c50a4,#5c50a4,#5c50a4,#5c50a4,#5c50a4,#5c50a4,#5c50a4,#5c50a4,#5c50a4,#5c50a4,#5c50a4,#5c50a4,#5c50a4,#5c50a4,#5c50a4,#5c50a4,#5c50a4,#5c50a4,#5c50a4,#5c50a4,#5c50a4,#5c50a4,#5c50a4,#5c50a4,#5c50a4,#5c50a4,#5c50a4,#5c51a4,#5c51a4,#5b53a5,#5b53a5,#5b54a5,#5b54a6,#5b55a6,#5b56a6,#5b56a6,#5b56a6)"></i><i style="background:linear-gradient(#5c50a4,#5c50a4,#5c50a4,#5c50a4,#5c50a4,#5c50a4,#5c50a4,#5c50a4,#5c50a4,#5c50a4,#5c50a4,#5c50a4,#5c50a4,#5c50a4,#5c50a4,#5c50a4,#5c50a4,#5c50a4,#5c50a4,#5c50a4,#5c50a4,#5c50a4,#5c50a4,#5c50a4,#5c50a4,#5c50a4,#5c50a4,#5c50a4,#5c50a4,#5c50a4,#5c50a4,#5c50a4,#5c50a4,#5c50a4,#5c50a4,#5c50a4,#5c50a4,#5c50a4,#5c50a4,#5c51a4,#5c51a4,#5c52a5,#5b53a5,#5b53a5,#5b54a5,#5b54a6,#5b55a6,#5b55a6)"></i><i style="background:linear-gradient(#5c50a4,#5c50a4,#5c50a4,#5c50a4,#5c50a4,#5c50a4,#5c50a4,#5c50a4,#5c50a4,#5c50a4,#5c50a4,#5c50a4,#5c50a4,#5c50a4,#5c50a4,#5c50a4,#5c50a4,#5c50a4,#5c50a4,#5c50a4,#5c50a4,#5c50a4,#5c50a4,#5c50a4,#5c50a4,#5c50a4,#5c50a4,#5c50a4,#5c50a4,#5c50a4,#5c50a4,#5c50a4,#5c50a4,#5c50a4,#5c50a4,#5c50a4,#5c50a4,#5c50a4,#5c50a4,#5c50a4,#5c50a4,#5c51a4,#5c51a4,#5c52a5,#5b53a5,#5b53a5,#5b53a5,#5b53a5)"></i><i style="background:linear-gradient(#5c50a4,#5c50a4,#5c50a4,#5c50a4,#5c50a4,#5c50a4,#5c50a4,#5c50a4,#5c50a4,#5c50a4,#5c50a4,#5c50a4,#5c50a4,#5c50a4,#5c50a4,#5c50a4,#5c50a4,#5c50a4,#5c50a4,#5c50a4,#5c50a4,#5c50a4,#5c50a4,#5c50a4,#5c50a4,#5c50a4,#5c50a4,#5c50a4,#5c50a4,#5c50a4,#5c50a4,#5c50a4,#5c50a4,#5c50a4,#5c50a4,#5c50a4,#5c50a4,#5c50a4,#5c50a4,#5c50a4,#5c50a4,#5c50a4,#5c51a4,#5c51a4,#5c51a4,#5c52a5,#5c52a5,#5c52a5)"></i><i style="background:linear-gradient(#5c50a4,#5c50a4,#5c50a4,#5c50a4,#5c50a4,#5c50a4,#5c50a4,#5c50a4,#5c50a4,#5c50a4,#5c50a4,#5c50a4,#5c50a4,#5c50a4,#5c50a4,#5c50a4,#5c50a4,#5c50a4,#5c50a4,#5c50a4,#5c50a4,#5c50a4,#5c50a4,#5c50a4,#5c50a4,#5c50a4,#5c50a4,#5c50a4,#5c50a4,#5c50a4,#5c50a4,#5c50a4,#5c50a4,#5c50a4,#5c50a4,#5c50a4,#5c50a4,#5c50a4,#5c50a4,#5c50a4,#5c50a4,#5c50a4,#5c50a4,#5c50a4,#5c51a4,#5c51a4,#5c51a4,#5c51a4)"></i><i style="background:linear-gradient(#5c50a4,#5c50a4,#5c50a4,#5c50a4,#5c50a4,#5c50a4,#5c50a4,#5c50a4,#5c50a4,#5c50a4,#5c50a4,#5c50a4,#5c50a4,#5c50a4,#5c50a4,#5c50a4,#5c50a4,#5c50a4,#5c50a4,#5c50a4,#5c50a4,#5c50a4,#5c50a4,#5c50a4,#5c50a4,#5c50a4,#5c50a4,#5c50a4,#5c50a4,#5c50a4,#5c50a4,#5c50a4,#5c50a4,#5c50a4,#5c50a4,#5c50a4,#5c50a4,#5c50a4,#5c50a4,#5c50a4,#5c50a4,#5c50a4,#5c50a4,#5c50a4,#5c50a4,#5c50a4,#5c51a4,#5c51a4)"></i><i style="background:linear-gradient(#5c50a4,#5c50a4,#5c50a4,#5c50a4,#5c50a4,#5c50a4,#5c50a4,#5c50a4,#5c50a4,#5c50a4,#5c50a4,#5c50a4,#5c50a4,#5c50a4,#5c50a4,#5c50a4,#5c50a4,#5c50a4,#5c50a4,#5c50a4,#5c50a4,#5c50a4,#5c50a4,#5c50a4,#5c50a4,#5c50a4,#5c50a4,#5c50a4,#5c50a4,#5c50a4,#5c50a4,#5c50a4,#5c50a4,#5c50a4,#5c50a4,#5c50a4,#5c50a4,#5c50a4,#5c50a4,#5c50a4,#5c50a4,#5c50a4,#5c50a4,#5c50a4,#5c50a4,#5c50a4,#5c50a4,#5c50a4)"></i><i style="background:linear-gradient(#5c50a4,#5c50a4,#5c50a4,#5c50a4,#5c50a4,#5c50a4,#5c50a4,#5c50a4,#5c50a4,#5c50a4,#5c50a4,#5c50a4,#5c50a4,#5c50a4,#5c50a4,#5c50a4,#5c50a4,#5c50a4,#5c50a4,#5c50a4,#5c50a4,#5c50a4,#5c50a4,#5c50a4,#5c50a4,#5c50a4,#5c50a4,#5c50a4,#5c50a4,#5c50a4,#5c50a4,#5c50a4,#5c50a4,#5c50a4,#5c50a4,#5c50a4,#5c50a4,#5c50a4,#5c50a4,#5c50a4,#5c50a4,#5c50a4,#5c50a4,#5c50a4,#5c50a4,#5c50a4,#5c50a4,#5c50a4)"></i><i style="background:linear-gradient(#5c51a4,#5c51a4,#5c51a4,#5c51a4,#5c51a4,#5c51a4,#5c51a4,#5c51a4,#5c51a4,#5c51a4,#5c51a4,#5c51a4,#5c51a4,#5c51a4,#5c51a4,#5c51a4,#5c51a4,#5c51a4,#5c51a4,#5c51a4,#5c51a4,#5c51a4,#5c51a4,#5c51a4,#5c51a4,#5c51a4,#5c51a4,#5c51a4,#5c51a4,#5c51a4,#5c51a4,#5c51a4,#5c51a4,#5c51a4,#5c51a4,#5c51a4,#5c51a4,#5c50a4,#5c50a4,#5c50a4,#5c50a4,#5c50a4,#5c50a4,#5c50a4,#5c50a4,#5c50a4,#5c50a4,#5c50a4)"></i><i style="background:linear-gradient(#5b54a6,#5b54a6,#5b54a6,#5b54a6,#5b54a6,#5b54a6,#5b54a6,#5b54a6,#5b54a6,#5b54a6,#5b54a6,#5b54a5,#5b54a5,#5b54a5,#5b54a5,#5b54a5,#5b54a5,#5b54a5,#5b54a5,#5b54a5,#5b54a5,#5b53a5,#5b53a5,#5b53a5,#5b53a5,#5b53a5,#5b53a5,#5b53a5,#5b53a5,#5b53a5,#5b53a5,#5b53a5,#5c52a5,#5c52a5,#5c52a5,#5c52a5,#5c51a4,#5c51a4,#5c51a4,#5c51a4,#5c51a4,#5c51a4,#5c51a4,#5c51a4,#5c51a4,#5c50a4,#5c50a4,#5c50a4)"></i><i style="background:linear-gradient(#5a57a7,#5a57a7,#5a57a7,#5a58a7,#5a58a7,#5a58a7,#5a57a7,#5a57a7,#5a57a7,#5a57a7,#5a57a7,#5a57a7,#5a57a7,#5a57a7,#5a57a7,#5a57a7,#5b56a6,#5b56a6,#5b56a6,#5b56a6,#5b56a6,#5b56a6,#5b56a6,#5b56a6,#5b56a6,#5b55a6,#5b55a6,#5b55a6,#5b55a6,#5b54a6,#5b54a6,#5b54a6,#5b54a5,#5b54a5,#5b54a5,#5b53a5,#5b53a5,#5b53a5,#5b53a5,#5b53a5,#5c52a5,#5c52a5,#5c52a5,#5c51a4,#5c51a4,#5c51a4,#5c51a4,#5c51a4)"></i><i style="background:linear-gradient(#5a5aa8,#5a5aa8,#5a5aa8,#5a5aa8,#5a5aa8,#5a5aa8,#5a5aa8,#5a5aa8,#5a5aa8,#5a5aa8,#5a5aa8,#5a5aa8,#5a5aa8,#5a5aa8,#5a5aa8,#5a59a8,#5a59a8,#5a59a8,#5a59a8,#5a59a8,#5a59a7,#5a59a7,#5a59a7,#5a58a7,#5a58a7,#5a58a7,#5a58a7,#5a58a7,#5a57a7,#5a57a7,#5a57a7,#5b56a6,#5b56a6,#5b56a6,#5b56a6,#5b55a6,#5b55a6,#5b54a6,#5b54a6,#5b54a5,#5b54a5,#5b53a5,#5b53a5,#5b53a5,#5c52a5,#5c52a5,#5c51a4,#5c51a4)"></i><i style="background:linear-gradient(#595da9,#595da9,#595da9,#595da9,#595da9,#595da9,#595da9,#595da9,#595da9,#595da9,#595da9,#595da9,#595da9,#595da9,#595da9,#595da9,#595da9,#595da9,#595da9,#595ca8,#595ca8,#595ca8,#5a5ba8,#5a5ba8,#5a5ba8,#5a5ba8,#5a5ba8,#5a5aa8,#5a5aa8,#5a59a8,#5a59a7,#5a59a7,#5a58a7,#5a58a7,#5a58a7,#5a58a7,#5a57a7,#5b56a6,#5b56a6,#5b56a6,#5b55a6,#5b55a6,#5b54a6,#5b54a5,#5b54a5,#5b53a5,#5b53a5,#5b53a5)"></i><i style="background:linear-gradient(#5860aa,#5860aa,#5860aa,#5860aa,#5860aa,#5861aa,#5861aa,#5861aa,#5861aa,#5861aa,#5861aa,#5861aa,#5860aa,#5860aa,#5860aa,#5860aa,#5860aa,#5960aa,#5960aa,#5960aa,#595faa,#595faa,#595ea9,#595ea9,#595ea9,#595ea9,#595da9,#595da9,#595da9,#595ca8,#595ca8,#5a5ba8,#5a5ba8,#5a5ba8,#5a5aa8,#5a59a8,#5a59a7,#5a59a7,#5a58a7,#5a58a7,#5a57a7,#5a57a7,#5b56a6,#5b56a6,#5b55a6,#5b54a6,#5b54a5,#5b54a5)"></i><i style="background:linear-gradient(#5863ab,#5863ab,#5863ab,#5863ab,#5863ab,#5864ac,#5864ac,#5864ac,#5864ac,#5864ac,#5864ac,#5864ac,#5864ac,#5864ac,#5864ac,#5863ab,#5863ab,#5863ab,#5863ab,#5863ab,#5863ab,#5862ab,#5862ab,#5862ab,#5862ab,#5861aa,#5860aa,#5860aa,#5960aa,#595faa,#595faa,#595ea9,#595ea9,#595da9,#595da9,#595ca8,#595ca8,#5a5ba8,#5a5ba8,#5a5aa8,#5a59a8,#5a59a7,#5a58a7,#5a58a7,#5a57a7,#5b56a6,#5b56a6,#5b56a6)"></i><i style="background:linear-gradient(#5766ac,#5766ac,#5767ac,#5767ac,#5767ac,#5767ad,#5767ad,#5767ad,#5767ad,#5768ad,#5768ad,#5768ad,#5768ad,#5768ad,#5767ad,#5767ad,#5767ad,#5767ad,#5767ac,#5767ac,#5767ac,#5766ac,#5765ac,#5765ac,#5765ac,#5765ac,#5864ac,#5863ab,#5863ab,#5863ab,#5862ab,#5862ab,#5861aa,#5860aa,#5960aa,#595faa,#595ea9,#595ea9,#595da9,#595da9,#595ca8,#5a5ba8,#5a5aa8,#5a59a8,#5a59a7,#5a58a7,#5a58a7,#5a58a7)"></i><i style="background:linear-gradient(#5768ad,#5769ad,#5769ad,#566aae,#566aae,#566aae,#566aae,#566bae,#566bae,#566bae,#566bae,#566cae,#566cae,#566cae,#566bae,#566bae,#566bae,#566bae,#566aae,#566aae,#566aae,#566aae,#566aae,#5769ad,#5768ad,#5768ad,#5768ad,#5767ad,#5767ac,#5766ac,#5765ac,#5765ac,#5864ac,#5863ab,#5863ab,#5862ab,#5862ab,#5861aa,#5960aa,#595faa,#595ea9,#595ea9,#595da9,#595ca8,#5a5ba8,#5a5ba8,#5a59a8,#5a59a8)"></i><i style="background:linear-gradient(#566cae,#566cae,#566caf,#566daf,#566daf,#566daf,#556eaf,#556eaf,#556eaf,#556faf,#556faf,#556faf,#556fb0,#556fb0,#556fb0,#556fb0,#556faf,#556faf,#556faf,#556faf,#556eaf,#556eaf,#566daf,#566daf,#566daf,#566caf,#566cae,#566bae,#566aae,#566aae,#5769ad,#5768ad,#5768ad,#5767ad,#5767ac,#5765ac,#5765ac,#5864ac,#5863ab,#5862ab,#5862ab,#5860aa,#5960aa,#595ea9,#595ea9,#595da9,#595ca8,#595ca8)"></i><i style="background:linear-gradient(#556eaf,#556eaf,#556faf,#556fb0,#5570b0,#5571b0,#5571b0,#5571b0,#5572b1,#5572b1,#5472b1,#5472b1,#5473b1,#5473b1,#5473b1,#5473b1,#5473b1,#5473b1,#5473b1,#5472b1,#5472b1,#5572b1,#5572b1,#5571b0,#5571b0,#5571b0,#5570b0,#556fb0,#556faf,#556eaf,#566daf,#566caf,#566cae,#566bae,#566aae,#5769ad,#5768ad,#5767ad,#5767ac,#5765ac,#5765ac,#5863ab,#5863ab,#5862ab,#5861aa,#5960aa,#595ea9,#595ea9)"></i><i style="background:linear-gradient(#5570b0,#5571b0,#5571b0,#5572b1,#5472b1,#5473b1,#5474b1,#5474b2,#5475b2,#5476b2,#5476b2,#5476b2,#5477b3,#5477b3,#5477b3,#5477b3,#5377b3,#5377b3,#5477b3,#5477b3,#5477b3,#5476b2,#5476b2,#5476b2,#5476b2,#5475b2,#5474b2,#5474b1,#5473b1,#5472b1,#5572b1,#5571b0,#5570b0,#556fb0,#556eaf,#566daf,#566caf,#566cae,#566aae,#5769ad,#5768ad,#5767ad,#5766ac,#5765ac,#5864ac,#5863ab,#5862ab,#5862ab)"></i><i style="background:linear-gradient(#5572b1,#5472b1,#5473b1,#5474b2,#5475b2,#5476b2,#5477b3,#5377b3,#5378b3,#5379b3,#5379b3,#537ab4,#537bb4,#537bb4,#537bb4,#537bb4,#537bb4,#537bb4,#537bb4,#537bb4,#537bb4,#537bb4,#537bb4,#537bb4,#537ab4,#5379b3,#5379b3,#5378b3,#5377b3,#5477b3,#5476b2,#5476b2,#5474b2,#5474b1,#5472b1,#5572b1,#5571b0,#556fb0,#556eaf,#566daf,#566caf,#566bae,#566aae,#5768ad,#5767ad,#5766ac,#5765ac,#5765ac)"></i><i style="background:linear-gradient(#5474b1,#5474b1,#5475b2,#5476b2,#5377b3,#5378b3,#5379b3,#537ab4,#537bb4,#527cb4,#527cb5,#527db5,#527eb5,#527eb5,#527fb6,#5280b6,#5280b6,#5280b6,#5180b6,#5180b6,#5180b6,#5280b6,#5280b6,#5280b6,#527fb6,#527eb5,#527eb5,#527db5,#527cb5,#527cb4,#537bb4,#537ab4,#5379b3,#5378b3,#5377b3,#5476b2,#5475b2,#5474b1,#5472b1,#5571b0,#5570b0,#556faf,#566daf,#566caf,#566bae,#566aae,#5768ad,#5768ad)"></i><i style="background:linear-gradient(#5475b2,#5476b2,#5477b3,#5378b3,#5379b3,#537bb4,#527cb4,#527cb5,#527eb5,#527fb6,#5280b6,#5181b6,#5181b7,#5182b7,#5183b7,#5183b7,#5184b7,#5184b7,#5185b8,#5185b8,#5185b8,#5185b8,#5185b8,#5185b8,#5184b7,#5184b7,#5183b7,#5183b7,#5182b7,#5181b7,#5180b6,#5280b6,#527eb5,#527eb5,#527cb5,#537bb4,#537ab4,#5379b3,#5377b3,#5476b2,#5475b2,#5474b1,#5572b1,#5571b0,#556fb0,#566daf,#566caf,#566caf)"></i><i style="background:linear-gradient(#5476b2,#5476b2,#5377b3,#5379b3,#537bb4,#527cb4,#527eb5,#527fb6,#5180b6,#5181b7,#5183b7,#5184b7,#5185b8,#5086b8,#5086b8,#5087b9,#5088b9,#5088b9,#5089b9,#4f8aba,#4f8aba,#4f8aba,#4f8aba,#4f8aba,#4f8aba,#5089b9,#5089b9,#5088b9,#5088b9,#5087b9,#5086b8,#5085b8,#5184b7,#5183b7,#5182b7,#5181b6,#5280b6,#527eb5,#527cb5,#537bb4,#537ab4,#5378b3,#5477b3,#5475b2,#5474b1,#5572b1,#5571b0,#5570b0)"></i><i style="background:linear-gradient(#5476b2,#5477b3,#5378b3,#537ab4,#527cb4,#527db5,#527fb6,#5180b6,#5182b7,#5183b7,#5085b8,#5086b8,#5088b9,#5089b9,#4f8aba,#4f8bba,#4f8cbb,#4f8dbb,#4f8dbb,#4e8ebb,#4e8fbb,#4e8fbb,#4e8fbc,#4e8fbc,#4e8fbc,#4e8fbb,#4e8fbb,#4e8ebb,#4f8dbb,#4f8dbb,#4f8cbb,#4f8bba,#4f8aba,#5089b9,#5088b9,#5086b8,#5085b8,#5183b7,#5182b7,#5181b6,#527fb6,#527eb5,#527cb4,#537ab4,#5379b3,#5477b3,#5475b2,#5475b2)"></i><i style="background:linear-gradient(#5476b2,#5477b3,#5379b3,#537bb4,#527cb5,#527eb5,#5180b6,#5181b7,#5183b7,#5085b8,#5087b9,#5088b9,#4f8aba,#4f8bba,#4f8dbb,#4e8fbb,#4e8fbc,#4e90bc,#4f92bc,#5092bb,#5093bb,#5194bb,#5194bb,#5194bb,#5195bb,#5195bb,#5194bb,#5194bb,#5194bb,#5093bb,#5092bb,#4f91bc,#4e90bc,#4e8fbc,#4e8ebb,#4f8dbb,#4f8bba,#4f8aba,#5088b9,#5086b8,#5185b8,#5183b7,#5181b7,#5280b6,#527eb5,#527cb4,#537ab4,#5379b3)"></i><i style="background:linear-gradient(#5476b2,#5476b2,#5378b3,#537ab4,#527cb5,#527eb5,#5180b6,#5182b7,#5185b8,#5086b8,#5088b9,#4f8aba,#4f8cbb,#4e8ebb,#4e90bc,#4f91bc,#5093bb,#5194bb,#5295bb,#5397ba,#5498ba,#5499ba,#5499ba,#559aba,#559ab9,#559ab9,#559ab9,#559ab9,#559ab9,#559aba,#5499ba,#5498ba,#5397ba,#5296ba,#5195bb,#5194bb,#4f92bc,#4e90bc,#4e8fbb,#4f8dbb,#4f8bba,#5089b9,#5087b9,#5085b8,#5183b7,#5181b7,#527fb6,#527fb6)"></i><i style="background:linear-gradient(#5474b2,#5476b2,#5377b3,#5379b3,#527cb4,#527eb5,#5180b6,#5183b7,#5185b8,#5087b9,#5089b9,#4f8bba,#4f8dbb,#4e8fbc,#4f92bc,#5194bb,#5295bb,#5397ba,#5499ba,#559ab9,#569cb9,#579db9,#589eb8,#599fb8,#59a0b8,#5aa1b8,#5aa1b8,#5aa1b8,#5aa1b8,#5aa1b8,#59a0b8,#599fb8,#589eb8,#589eb9,#579cb9,#559ab9,#5499ba,#5397ba,#5295bb,#5194bb,#4f92bc,#4e90bc,#4e8ebb,#4f8bba,#4f8aba,#5087b9,#5085b8,#5185b8)"></i><i style="background:linear-gradient(#5473b1,#5474b1,#5476b2,#5379b3,#537bb4,#527db5,#5280b6,#5182b7,#5185b8,#5087b9,#4f8aba,#4f8bba,#4e8ebb,#4e90bc,#5093bb,#5295bb,#5397ba,#559aba,#569cb9,#589eb9,#599fb8,#5aa1b8,#5ba3b7,#5ca4b7,#5da5b7,#5ea6b6,#5ea7b6,#5fa8b6,#5fa8b6,#5fa8b6,#5fa8b6,#5ea7b6,#5ea6b6,#5da5b7,#5ca4b7,#5ba3b7,#5aa1b8,#599fb8,#589eb9,#569cb9,#5499ba,#5397ba,#5195bb,#5092bb,#4e90bc,#4e8ebb,#4f8bba,#4f8bba)"></i><i style="background:linear-gradient(#5571b0,#5472b1,#5475b2,#5477b3,#5379b3,#527cb4,#527eb5,#5181b6,#5184b7,#5086b8,#5089b9,#4f8bba,#4e8ebb,#4f91bc,#5194bb,#5296ba,#5499ba,#569bb9,#589eb9,#59a0b8,#5ba3b7,#5ca4b7,#5ea7b6,#5fa9b6,#60aab5,#62acb5,#63adb5,#63aeb5,#63aeb4,#64afb4,#64afb4,#64afb4,#63aeb4,#63aeb5,#62adb5,#61abb5,#60a9b6,#5fa8b6,#5da6b7,#5ca4b7,#5aa1b8,#599fb8,#579db9,#559ab9,#5397ba,#5195bb,#5092bb,#4f92bc)"></i><i style="background:linear-gradient(#556fb0,#5571b0,#5473b1,#5475b2,#5378b3,#537bb4,#527db5,#5280b6,#5182b7,#5085b8,#5088b9,#4f8bba,#4f8dbb,#4e90bc,#5194bb,#5296ba,#5499ba,#579cb9,#589fb8,#5ba2b8,#5ca4b7,#5fa8b6,#60aab5,#62adb5,#63aeb4,#65b1b4,#67b3b3,#67b4b3,#68b5b3,#69b7b2,#6ab7b2,#6ab7b2,#6ab7b2,#69b7b2,#69b6b3,#68b5b3,#67b3b3,#65b1b4,#64afb4,#63adb5,#61abb5,#5fa8b6,#5da6b7,#5ba3b7,#59a0b8,#579db9,#559aba,#559aba)"></i><i style="background:linear-gradient(#566daf,#556eaf,#5571b0,#5473b1,#5476b2,#5378b3,#537bb4,#527eb5,#5180b6,#5183b7,#5086b8,#5089b9,#4f8cbb,#4e8fbc,#5092bb,#5295bb,#5499ba,#579cb9,#599fb8,#5ba3b7,#5da6b7,#5fa9b6,#62acb5,#64afb4,#66b2b3,#68b5b3,#6ab7b2,#6bbab2,#6dbcb1,#6ebdb1,#6fbfb0,#6fbfb0,#70c0b0,#70c0b0,#6fbfb0,#6fbfb0,#6ebdb1,#6dbcb1,#6bbab2,#6ab7b2,#68b5b3,#66b2b3,#64afb4,#62acb5,#5fa9b6,#5da6b7,#5ba3b7,#5ba2b8)"></i><i style="background:linear-gradient(#566aae,#566cae,#556eaf,#5571b0,#5473b1,#5476b2,#5379b3,#537bb4,#527eb5,#5181b7,#5184b7,#5087b9,#4f8aba,#4f8dbb,#4f91bc,#5194bb,#5397ba,#569bb9,#589fb8,#5ba2b8,#5da6b7,#60a9b6,#63adb5,#65b0b4,#67b4b3,#6ab8b2,#6cbbb1,#6ebeb0,#70c1b0,#72c3af,#74c6af,#75c7ae,#76c9ae,#76c9ae,#76c9ae,#76c9ae,#75c8ae,#75c7ae,#73c5af,#71c2af,#70c0b0,#6ebdb1,#6bbab2,#69b7b2,#67b3b3,#64b0b4,#62acb5,#61abb5)"></i><i style="background:linear-gradient(#5768ad,#5769ad,#566cae,#556eaf,#5571b0,#5473b1,#5476b2,#5379b3,#527cb4,#527eb5,#5181b7,#5185b8,#5088b9,#4f8bba,#4e8fbb,#5092bb,#5295bb,#5499ba,#579db9,#5aa1b8,#5ca4b7,#5fa9b6,#62adb5,#65b1b4,#68b5b3,#6bb9b2,#6ebdb1,#70c1b0,#73c5af,#75c8ae,#78cbad,#7aceac,#7cd0ac,#7dd1ac,#7ed2ac,#7ed2ac,#7ed2ac,#7ed1ac,#7cd1ac,#7bd0ac,#79ccad,#76c9ae,#74c6ae,#71c2af,#6fbfb0,#6cbab1,#69b7b2,#69b6b3)"></i><i style="background:linear-gradient(#5765ac,#5766ac,#5768ad,#566bae,#566daf,#5571b0,#5473b1,#5476b2,#5379b3,#527cb4,#527fb6,#5182b7,#5085b8,#5088b9,#4f8cbb,#4e8fbc,#5093bb,#5397ba,#559ab9,#589fb8,#5ba3b7,#5ea7b6,#61abb5,#64b0b4,#67b4b3,#6ab8b2,#6ebdb1,#71c2b0,#75c7ae,#78cbad,#7bd0ac,#7ed2ac,#81d3ac,#84d4ab,#86d5ab,#88d6ab,#88d6ab,#89d6ab,#88d6ab,#86d5ab,#84d4ab,#81d3ac,#7ed2ac,#7bd0ac,#78ccad,#75c7ae,#71c2af,#71c2b0)"></i><i style="background:linear-gradient(#5862ab,#5863ab,#5765ac,#5768ad,#566bae,#566daf,#5570b0,#5473b1,#5476b2,#5379b3,#527cb4,#527fb6,#5182b7,#5085b8,#5089b9,#4f8cbb,#4e90bc,#5194bb,#5397ba,#569cb9,#59a0b8,#5ca4b7,#5fa9b6,#63adb5,#66b2b3,#6ab7b2,#6dbcb1,#71c1b0,#75c7ae,#78ccad,#7cd1ac,#81d3ac,#85d5ab,#89d6ab,#8dd8ab,#90d9aa,#92daaa,#94dbaa,#94dbaa,#94dbaa,#92daaa,#8fd9aa,#8cd8ab,#88d6ab,#84d4ab,#80d2ac,#7bd0ac,#7bd0ac)"></i><i style="background:linear-gradient(#595faa,#5860aa,#5863ab,#5765ac,#5768ad,#566aae,#566daf,#556fb0,#5472b1,#5476b2,#5378b3,#537bb4,#527eb5,#5181b7,#5085b8,#5089b9,#4f8cbb,#4e90bc,#5194bb,#5498ba,#579cb9,#5aa1b8,#5da5b7,#60aab5,#63aeb4,#67b4b3,#6bb9b2,#6fbfb0,#73c4af,#77cbad,#7cd0ac,#81d3ac,#87d5ab,#8cd8ab,#91daaa,#96dcaa,#9adeaa,#9ee0a9,#a1e1a9,#a2e1a9,#a1e1a9,#9fe1a9,#9cdfa9,#98ddaa,#94dbaa,#8ed9ab,#89d6ab,#88d6ab)"></i><i style="background:linear-gradient(#595ca8,#595da9,#5960aa,#5862ab,#5765ac,#5767ad,#566aae,#566caf,#556faf,#5572b1,#5475b2,#5378b3,#537bb4,#527eb5,#5181b7,#5185b8,#5088b9,#4f8cbb,#4e90bc,#5194bb,#5498ba,#579cb9,#5aa1b8,#5da6b7,#61abb5,#64b0b4,#68b5b3,#6cbbb1,#70c1b0,#75c7ae,#79cead,#7fd2ac,#85d5ab,#8bd7ab,#92daaa,#98ddaa,#9fe0a9,#a5e3a9,#abe6a8,#afe8a8,#b1e9a8,#b1e9a8,#b0e8a8,#ace6a8,#a6e4a9,#a1e1a9,#9adeaa,#9da)"></i><i style="background:linear-gradient(#5a59a8,#5a5aa8,#595da9,#595faa,#5862ab,#5863ab,#5767ac,#5769ad,#566cae,#556eaf,#5571b0,#5474b2,#5477b3,#537ab4,#527eb5,#5181b6,#5185b8,#5088b9,#4f8bba,#4e8fbc,#5194bb,#5498ba,#579cb9,#5aa1b8,#5da6b7,#61abb5,#64b0b4,#68b5b3,#6dbcb1,#71c2b0,#76c9ae,#7bd0ac,#81d3ac,#88d6ab,#8fd9aa,#97ddaa,#9fe0a9,#a7e4a9,#b0e8a8,#b8eba5,#beeda3,#c3efa2,#c4f0a1,#c2efa2,#beeda3,#b7eba6,#afe8a8,#aee7a8)"></i><i style="background:linear-gradient(#5b56a6,#5a57a7,#5a59a8,#595ca8,#595ea9,#5860aa,#5863ab,#5765ac,#5768ad,#566bae,#566daf,#5571b0,#5473b1,#5476b2,#5379b3,#527cb5,#5180b6,#5183b7,#5087b9,#4f8bba,#4e8fbb,#5093bb,#5397ba,#569cb9,#59a0b8,#5da5b7,#60aab5,#64b0b4,#68b5b3,#6dbcb1,#71c2b0,#76c9ae,#7bd0ac,#82d3ab,#89d6ab,#91daaa,#9adeaa,#a3e2a9,#ade7a8,#b8eba5,#c3efa2,#cff39e,#d8f79b,#def999,#dcf999,#d5f69c,#caf29f,#c8f1a0)"></i><i style="background:linear-gradient(#5b53a5,#5b54a6,#5b56a6,#5a59a7,#5a5ba8,#595da9,#5960aa,#5862ab,#5765ac,#5767ad,#566aae,#566daf,#556fb0,#5472b1,#5476b2,#5379b3,#527cb4,#527fb6,#5183b7,#5086b8,#4f8aba,#4e8ebb,#4f92bc,#5296ba,#559ab9,#589fb8,#5ca4b7,#5fa9b6,#63aeb4,#67b4b3,#6cbab1,#71c1b0,#75c8ae,#7bd0ac,#81d3ac,#89d6ab,#91daaa,#9adeaa,#a5e3a9,#b1e8a8,#bdeda4,#cbf29f,#dcf999,#e6fca4,#eefdb1,#effeb4,#e9fca8,#e8fca6)"></i><i style="background:linear-gradient(#5b53a5,#5b53a5,#5b56a6,#5a58a7,#5a5aa8,#595ca8,#595ea9,#5861aa,#5863ab,#5766ac,#5768ad,#566cae,#556eaf,#5571b0,#5474b2,#5377b3,#537bb4,#527eb5,#5181b6,#5185b8,#5088b9,#4f8cbb,#4e90bc,#5194bb,#5499ba,#579db9,#5ba2b8,#5ea7b6,#62acb5,#66b2b4,#6ab8b2,#6ebeb0,#73c5af,#79ccad,#7ed2ac,#86d5ab,#8ed9ab,#97ddaa,#a1e1a9,#ace6a8,#b8eba5,#c7f0a0,#d7f79b,#e6fba2,#f1feb6,#f3f7af,#f4ffbc,#f2ffb9)"></i><i style="background:linear-gradient(#5b53a5,#5b53a5,#5b56a6,#5a58a7,#5a5aa8,#595ca8,#595ea9,#5861aa,#5863ab,#5766ac,#5768ad,#566cae,#556eaf,#5571b0,#5474b2,#5377b3,#537bb4,#527eb5,#5181b6,#5185b8,#5088b9,#4f8cbb,#4e90bc,#5194bb,#5499ba,#579db9,#5ba2b8,#5ea7b6,#62acb5,#66b2b4,#6ab8b2,#6ebeb0,#73c5af,#79ccad,#7ed2ac,#86d5ab,#8ed9ab,#97ddaa,#a1e1a9,#ace6a8,#b8eba5,#c7f0a0,#d7f79b,#e6fba2,#f1feb6,#f3f7af,#f4ffbc,#f2ffb9)"></i><i style="background:linear-gradient(#5b53a5,#5b53a5,#5b56a6,#5a58a7,#5a5aa8,#595ca8,#595ea9,#5861aa,#5863ab,#5766ac,#5768ad,#566cae,#556eaf,#5571b0,#5474b2,#5377b3,#537bb4,#527eb5,#5181b6,#5185b8,#5088b9,#4f8cbb,#4e90bc,#5194bb,#5499ba,#579db9,#5ba2b8,#5ea7b6,#62acb5,#66b2b4,#6ab8b2,#6ebeb0,#73c5af,#79ccad,#7ed2ac,#86d5ab,#8ed9ab,#97ddaa,#a1e1a9,#ace6a8,#b8eba5,#c7f0a0,#d7f79b,#e6fba2,#f1feb6,#f3f7af,#f4ffbc,#f2ffb9)"></i></div></div>
<div class="cb" style="left:1994.3px;top:50.4px;background:linear-gradient(#5c50a4,#4e90bc,#7bd0ac,#b0e8a8,#e0fa98,#f4ffbc,#f0e088,#eca860,#eb6644,#d43c52,#a1184a)"></div>
<div class="hm" style="left:101.0px;top:869.4px"><div class="hb"><i style="background:linear-gradient(#5c50a4,#5c50a4,#5c50a4,#5c51a4,#5b53a5,#5b55a6,#5a58a7,#5a59a8,#595ca8,#595ea9,#5861aa,#5863ab,#5766ac,#5768ad,#566bae,#556eaf,#5571b0,#5474b1,#5477b3,#537ab4,#527db5,#5181b6,#5184b7,#5088b9,#4f8bba,#4e8fbc,#5194bb,#5498ba,#579cb9,#5aa1b8,#5ea6b6,#61abb5,#65b1b4,#6ab7b2,#6ebdb1,#73c4af,#78cbad,#7ed1ac,#85d5ab,#8dd8ab,#96dcaa,#9fe1a9,#abe6a8,#b7eba6,#c5f0a1,#d6f69b,#e5fba1,#e7fca4)"></i><i style="background:linear-gradient(#5c50a4,#5c50a4,#5c50a4,#5c51a4,#5b53a5,#5b55a6,#5a58a7,#5a59a8,#595ca8,#595ea9,#5861aa,#5863ab,#5766ac,#5768ad,#566bae,#556eaf,#5571b0,#5474b1,#5477b3,#537ab4,#527db5,#5181b6,#5184b7,#5088b9,#4f8bba,#4e8fbc,#5194bb,#5498ba,#579cb9,#5aa1b8,#5ea6b6,#61abb5,#65b1b4,#6ab7b2,#6ebdb1,#73c4af,#78cbad,#7ed1ac,#85d5ab,#8dd8ab,#96dcaa,#9fe1a9,#abe6a8,#b7eba6,#c5f0a1,#d6f69b,#e5fba1,#e7fca4)"></i><i style="background:linear-gradient(#5c50a4,#5c50a4,#5c50a4,#5c51a4,#5b53a5,#5b55a6,#5a58a7,#5a59a8,#595ca8,#595ea9,#5861aa,#5863ab,#5766ac,#5768ad,#566bae,#556eaf,#5571b0,#5474b1,#5477b3,#537ab4,#527db5,#5181b6,#5184b7,#5088b9,#4f8bba,#4e8fbc,#5194bb,#5498ba,#579cb9,#5aa1b8,#5ea6b6,#61abb5,#65b1b4,#6ab7b2,#6ebdb1,#73c4af,#78cbad,#7ed1ac,#85d5ab,#8dd8ab,#96dcaa,#9fe1a9,#abe6a8,#b7eba6,#c5f0a1,#d6f69b,#e5fba1,#e7fca4)"></i><i style="background:linear-gradient(#5c50a4,#5c50a4,#5c50a4,#5c50a4,#5c51a4,#5b53a5,#5b55a6,#5a57a7,#5a59a8,#595ca8,#595ea9,#5860aa,#5863ab,#5765ac,#5768ad,#566bae,#566daf,#5571b0,#5473b1,#5476b2,#5379b3,#527db5,#5180b6,#5183b7,#5087b9,#4f8bba,#4e8fbc,#5093bb,#5397ba,#569cb9,#5aa1b8,#5da6b7,#61abb5,#65b0b4,#69b6b3,#6dbcb1,#72c3af,#77caae,#7dd1ac,#83d4ab,#8bd7ab,#94dbaa,#9ddfa9,#a8e4a9,#b3e9a7,#c0eea3,#cff49e,#d2f59d)"></i><i style="background:linear-gradient(#5c50a4,#5c50a4,#5c50a4,#5c50a4,#5c50a4,#5c50a4,#5c51a4,#5b53a5,#5b55a6,#5a57a7,#5a59a8,#595ca8,#595ea9,#5860aa,#5863ab,#5765ac,#5768ad,#566bae,#566daf,#5571b0,#5473b1,#5476b2,#5379b3,#527cb5,#5180b6,#5183b7,#5087b9,#4f8bba,#4e8fbb,#5093bb,#5397ba,#569bb9,#59a0b8,#5da5b7,#60aab5,#64b0b4,#68b5b3,#6cbbb1,#71c2b0,#76c9ae,#7bd0ac,#82d3ab,#89d6ab,#91daaa,#9adeaa,#a3e2a9,#aee7a8,#b0e8a8)"></i><i style="background:linear-gradient(#5c50a4,#5c50a4,#5c50a4,#5c50a4,#5c50a4,#5c50a4,#5c50a4,#5c50a4,#5c51a4,#5b53a5,#5b55a6,#5a57a7,#5a59a8,#595ca8,#595ea9,#5860aa,#5863ab,#5765ac,#5768ad,#566bae,#566daf,#5570b0,#5473b1,#5476b2,#5379b3,#527cb5,#5280b6,#5183b7,#5086b8,#4f8aba,#4e8ebb,#5092bb,#5296ba,#559ab9,#599fb8,#5ca4b7,#5fa9b6,#63aeb4,#67b4b3,#6bbab2,#70c0b0,#75c7ae,#79cead,#7fd2ac,#86d5ab,#8dd8ab,#95dcaa,#96dcaa)"></i><i style="background:linear-gradient(#5c50a4,#5c50a4,#5c50a4,#5c50a4,#5c50a4,#5c50a4,#5c50a4,#5c50a4,#5c50a4,#5c50a4,#5c51a4,#5b53a5,#5b55a6,#5a57a7,#5a59a8,#595ca8,#595ea9,#5860aa,#5863ab,#5765ac,#5768ad,#566aae,#566daf,#5570b0,#5473b1,#5476b2,#5379b3,#527cb4,#5280b6,#5183b7,#5086b8,#4f8aba,#4f8dbb,#4f92bc,#5295bb,#559aba,#589eb8,#5ba3b7,#5fa8b6,#62adb5,#66b2b3,#6ab8b2,#6ebdb1,#72c4af,#77caae,#7cd1ac,#82d3ab,#83d4ab)"></i><i style="background:linear-gradient(#5c50a4,#5c50a4,#5c50a4,#5c50a4,#5c50a4,#5c50a4,#5c50a4,#5c50a4,#5c50a4,#5c50a4,#5c50a4,#5c50a4,#5c51a4,#5b53a5,#5b55a6,#5a57a7,#5a59a8,#5a5ba8,#595ea9,#5860aa,#5863ab,#5765ac,#5768ad,#566aae,#566daf,#5570b0,#5472b1,#5476b2,#5379b3,#537bb4,#527fb6,#5182b7,#5085b8,#5089b9,#4f8dbb,#4e90bc,#5194bb,#5499ba,#579db9,#5aa1b8,#5da6b7,#61abb5,#64b0b4,#68b5b3,#6cbab1,#70c1b0,#74c6ae,#75c7ae)"></i><i style="background:linear-gradient(#5c50a4,#5c50a4,#5c50a4,#5c50a4,#5c50a4,#5c50a4,#5c50a4,#5c50a4,#5c50a4,#5c50a4,#5c50a4,#5c50a4,#5c50a4,#5c50a4,#5c51a4,#5b53a5,#5b55a6,#5a57a7,#5a59a8,#5a5ba8,#595ea9,#5960aa,#5862ab,#5765ac,#5767ad,#566aae,#566caf,#556fb0,#5572b1,#5475b2,#5378b3,#537bb4,#527eb5,#5181b7,#5185b8,#5088b9,#4f8bba,#4e8fbc,#5093bb,#5397ba,#569bb9,#599fb8,#5ca4b7,#5fa8b6,#63adb5,#66b2b3,#6ab7b2,#6ab8b2)"></i><i style="background:linear-gradient(#5c50a4,#5c50a4,#5c50a4,#5c50a4,#5c50a4,#5c50a4,#5c50a4,#5c50a4,#5c50a4,#5c50a4,#5c50a4,#5c50a4,#5c50a4,#5c50a4,#5c50a4,#5c50a4,#5c51a4,#5b53a5,#5b55a6,#5a57a7,#5a59a7,#5a5ba8,#595da9,#5960aa,#5862ab,#5765ac,#5767ad,#566aae,#566caf,#556faf,#5571b0,#5474b2,#5477b3,#537ab4,#527db5,#5180b6,#5183b7,#5087b9,#4f8aba,#4e8ebb,#4f92bc,#5295bb,#5499ba,#579db9,#5aa1b8,#5da6b7,#60aab5,#61abb5)"></i><i style="background:linear-gradient(#5c50a4,#5c50a4,#5c50a4,#5c50a4,#5c50a4,#5c50a4,#5c50a4,#5c50a4,#5c50a4,#5c50a4,#5c50a4,#5c50a4,#5c50a4,#5c50a4,#5c50a4,#5c50a4,#5c50a4,#5c50a4,#5c51a4,#5b53a5,#5b54a6,#5a57a7,#5a59a7,#5a5ba8,#595da9,#5960aa,#5862ab,#5864ac,#5767ac,#5769ad,#566cae,#556eaf,#5571b0,#5474b1,#5476b2,#5379b3,#527cb4,#527fb6,#5182b7,#5085b8,#5089b9,#4f8cbb,#4e90bc,#5093bb,#5397ba,#569bb9,#589fb8,#599fb8)"></i><i style="background:linear-gradient(#5c50a4,#5c50a4,#5c50a4,#5c50a4,#5c50a4,#5c50a4,#5c50a4,#5c50a4,#5c50a4,#5c50a4,#5c50a4,#5c50a4,#5c50a4,#5c50a4,#5c50a4,#5c50a4,#5c50a4,#5c50a4,#5c50a4,#5c50a4,#5c51a4,#5b53a5,#5b54a6,#5b56a6,#5a59a7,#5a5ba8,#595da9,#595faa,#5861aa,#5863ab,#5766ac,#5768ad,#566bae,#566daf,#5570b0,#5472b1,#5475b2,#5378b3,#537bb4,#527eb5,#5181b6,#5184b7,#5087b9,#4f8aba,#4e8ebb,#4f91bc,#5195bb,#5295bb)"></i><i style="background:linear-gradient(#5c50a4,#5c50a4,#5c50a4,#5c50a4,#5c50a4,#5c50a4,#5c50a4,#5c50a4,#5c50a4,#5c50a4,#5c50a4,#5c50a4,#5c50a4,#5c50a4,#5c50a4,#5c50a4,#5c50a4,#5c50a4,#5c50a4,#5c50a4,#5c50a4,#5c50a4,#5c51a4,#5b53a5,#5b54a6,#5b56a6,#5a58a7,#5a5aa8,#595da9,#595ea9,#5861aa,#5863ab,#5765ac,#5768ad,#566aae,#566caf,#556faf,#5572b1,#5474b2,#5477b3,#5379b3,#527cb5,#5280b6,#5182b7,#5085b8,#5088b9,#4f8bba,#4f8cbb)"></i><i style="background:linear-gradient(#5c50a4,#5c50a4,#5c50a4,#5c50a4,#5c50a4,#5c50a4,#5c50a4,#5c50a4,#5c50a4,#5c50a4,#5c50a4,#5c50a4,#5c50a4,#5c50a4,#5c50a4,#5c50a4,#5c50a4,#5c50a4,#5c50a4,#5c50a4,#5c50a4,#5c50a4,#5c50a4,#5c50a4,#5c50a4,#5c52a5,#5b54a5,#5b56a6,#5a58a7,#5a5aa8,#595ca8,#595ea9,#5860aa,#5862ab,#5765ac,#5767ac,#5769ad,#566cae,#556eaf,#5571b0,#5473b1,#5476b2,#5378b3,#537bb4,#527eb5,#5180b6,#5183b7,#5184b7)"></i><i style="background:linear-gradient(#5c50a4,#5c50a4,#5c50a4,#5c50a4,#5c50a4,#5c50a4,#5c50a4,#5c50a4,#5c50a4,#5c50a4,#5c50a4,#5c50a4,#5c50a4,#5c50a4,#5c50a4,#5c50a4,#5c50a4,#5c50a4,#5c50a4,#5c50a4,#5c50a4,#5c50a4,#5c50a4,#5c50a4,#5c50a4,#5c50a4,#5c50a4,#5c52a5,#5b54a5,#5b56a6,#5a58a7,#5a59a8,#5a5ba8,#595da9,#5960aa,#5862ab,#5863ab,#5766ac,#5768ad,#566aae,#566daf,#556fb0,#5572b1,#5474b2,#5477b3,#5379b3,#527cb4,#527cb5)"></i><i style="background:linear-gradient(#5c50a4,#5c50a4,#5c50a4,#5c50a4,#5c50a4,#5c50a4,#5c50a4,#5c50a4,#5c50a4,#5c50a4,#5c50a4,#5c50a4,#5c50a4,#5c50a4,#5c50a4,#5c50a4,#5c50a4,#5c50a4,#5c50a4,#5c50a4,#5c50a4,#5c50a4,#5c50a4,#5c50a4,#5c50a4,#5c50a4,#5c50a4,#5c50a4,#5c50a4,#5c51a4,#5b53a5,#5b55a6,#5a57a7,#5a59a7,#5a5ba8,#595da9,#595ea9,#5861aa,#5863ab,#5765ac,#5767ad,#5769ad,#566cae,#556eaf,#5570b0,#5472b1,#5475b2,#5476b2)"></i><i style="background:linear-gradient(#5c50a4,#5c50a4,#5c50a4,#5c50a4,#5c50a4,#5c50a4,#5c50a4,#5c50a4,#5c50a4,#5c50a4,#5c50a4,#5c50a4,#5c50a4,#5c50a4,#5c50a4,#5c50a4,#5c50a4,#5c50a4,#5c50a4,#5c50a4,#5c50a4,#5c50a4,#5c50a4,#5c50a4,#5c50a4,#5c50a4,#5c50a4,#5c50a4,#5c50a4,#5c50a4,#5c50a4,#5c51a4,#5b53a5,#5b54a6,#5b56a6,#5a58a7,#5a5aa8,#595ca8,#595ea9,#5960aa,#5862ab,#5864ac,#5766ac,#5768ad,#566aae,#566caf,#556faf,#556fb0)"></i><i style="background:linear-gradient(#5c50a4,#5c50a4,#5c50a4,#5c50a4,#5c50a4,#5c50a4,#5c50a4,#5c50a4,#5c50a4,#5c50a4,#5c50a4,#5c50a4,#5c50a4,#5c50a4,#5c50a4,#5c50a4,#5c50a4,#5c50a4,#5c50a4,#5c50a4,#5c50a4,#5c50a4,#5c50a4,#5c50a4,#5c50a4,#5c50a4,#5c50a4,#5c50a4,#5c50a4,#5c50a4,#5c50a4,#5c50a4,#5c50a4,#5c51a4,#5c52a5,#5b54a5,#5b56a6,#5a58a7,#5a59a8,#5a5ba8,#595da9,#595faa,#5861aa,#5863ab,#5765ac,#5767ac,#5769ad,#5769ad)"></i><i style="background:linear-gradient(#5c50a4,#5c50a4,#5c50a4,#5c50a4,#5c50a4,#5c50a4,#5c50a4,#5c50a4,#5c50a4,#5c50a4,#5c50a4,#5c50a4,#5c50a4,#5c50a4,#5c50a4,#5c50a4,#5c50a4,#5c50a4,#5c50a4,#5c50a4,#5c50a4,#5c50a4,#5c50a4,#5c50a4,#5c50a4,#5c50a4,#5c50a4,#5c50a4,#5c50a4,#5c50a4,#5c50a4,#5c50a4,#5c50a4,#5c50a4,#5c50a4,#5c50a4,#5c51a4,#5b53a5,#5b55a6,#5a57a7,#5a58a7,#5a5aa8,#595ca8,#595ea9,#5960aa,#5862ab,#5863ab,#5864ac)"></i><i style="background:linear-gradient(#5c50a4,#5c50a4,#5c50a4,#5c50a4,#5c50a4,#5c50a4,#5c50a4,#5c50a4,#5c50a4,#5c50a4,#5c50a4,#5c50a4,#5c50a4,#5c50a4,#5c50a4,#5c50a4,#5c50a4,#5c50a4,#5c50a4,#5c50a4,#5c50a4,#5c50a4,#5c50a4,#5c50a4,#5c50a4,#5c50a4,#5c50a4,#5c50a4,#5c50a4,#5c50a4,#5c50a4,#5c50a4,#5c50a4,#5c50a4,#5c50a4,#5c50a4,#5c50a4,#5c50a4,#5c51a4,#5b53a5,#5b54a6,#5b56a6,#5a58a7,#5a59a8,#5a5ba8,#595da9,#595ea9,#595faa)"></i><i style="background:linear-gradient(#5c50a4,#5c50a4,#5c50a4,#5c50a4,#5c50a4,#5c50a4,#5c50a4,#5c50a4,#5c50a4,#5c50a4,#5c50a4,#5c50a4,#5c50a4,#5c50a4,#5c50a4,#5c50a4,#5c50a4,#5c50a4,#5c50a4,#5c50a4,#5c50a4,#5c50a4,#5c50a4,#5c50a4,#5c50a4,#5c50a4,#5c50a4,#5c50a4,#5c50a4,#5c50a4,#5c50a4,#5c50a4,#5c50a4,#5c50a4,#5c50a4,#5c50a4,#5c50a4,#5c50a4,#5c50a4,#5c50a4,#5c50a4,#5c52a5,#5b53a5,#5b55a6,#5b56a6,#5a58a7,#5a5aa8,#5a5aa8)"></i><i style="background:linear-gradient(#5c50a4,#5c50a4,#5c50a4,#5c50a4,#5c50a4,#5c50a4,#5c50a4,#5c50a4,#5c50a4,#5c50a4,#5c50a4,#5c50a4,#5c50a4,#5c50a4,#5c50a4,#5c50a4,#5c50a4,#5c50a4,#5c50a4,#5c50a4,#5c50a4,#5c50a4,#5c50a4,#5c50a4,#5c50a4,#5c50a4,#5c50a4,#5c50a4,#5c50a4,#5c50a4,#5c50a4,#5c50a4,#5c50a4,#5c50a4,#5c50a4,#5c50a4,#5c50a4,#5c50a4,#5c50a4,#5c50a4,#5c50a4,#5c50a4,#5c50a4,#5c51a4,#5b53a5,#5b54a5,#5b56a6,#5b56a6)"></i><i style="background:linear-gradient(#5c50a4,#5c50a4,#5c50a4,#5c50a4,#5c50a4,#5c50a4,#5c50a4,#5c50a4,#5c50a4,#5c50a4,#5c50a4,#5c50a4,#5c50a4,#5c50a4,#5c50a4,#5c50a4,#5c50a4,#5c50a4,#5c50a4,#5c50a4,#5c50a4,#5c50a4,#5c50a4,#5c50a4,#5c50a4,#5c50a4,#5c50a4,#5c50a4,#5c50a4,#5c50a4,#5c50a4,#5c50a4,#5c50a4,#5c50a4,#5c50a4,#5c50a4,#5c50a4,#5c50a4,#5c50a4,#5c50a4,#5c50a4,#5c50a4,#5c50a4,#5c50a4,#5c50a4,#5c50a4,#5c51a4,#5c52a5)"></i><i style="background:linear-gradient(#5c50a4,#5c50a4,#5c50a4,#5c50a4,#5c50a4,#5c50a4,#5c50a4,#5c50a4,#5c50a4,#5c50a4,#5c50a4,#5c50a4,#5c50a4,#5c50a4,#5c50a4,#5c50a4,#5c50a4,#5c50a4,#5c50a4,#5c50a4,#5c50a4,#5c50a4,#5c50a4,#5c50a4,#5c50a4,#5c50a4,#5c50a4,#5c50a4,#5c50a4,#5c50a4,#5c50a4,#5c50a4,#5c50a4,#5c50a4,#5c50a4,#5c50a4,#5c50a4,#5c50a4,#5c50a4,#5c50a4,#5c50a4,#5c50a4,#5c50a4,#5c50a4,#5c50a4,#5c50a4,#5c50a4,#5c50a4)"></i><i style="background:linear-gradient(#5c50a4,#5c50a4,#5c50a4,#5c50a4,#5c50a4,#5c50a4,#5c50a4,#5c50a4,#5c50a4,#5c50a4,#5c50a4,#5c50a4,#5c50a4,#5c50a4,#5c50a4,#5c50a4,#5c50a4,#5c50a4,#5c50a4,#5c50a4,#5c50a4,#5c50a4,#5c50a4,#5c50a4,#5c50a4,#5c50a4,#5c50a4,#5c50a4,#5c50a4,#5c50a4,#5c50a4,#5c50a4,#5c50a4,#5c50a4,#5c50a4,#5c50a4,#5c50a4,#5c50a4,#5c50a4,#5c50a4,#5c50a4,#5c50a4,#5c50a4,#5c50a4,#5c50a4,#5c50a4,#5c50a4,#5c50a4)"></i><i style="background:linear-gradient(#5c50a4,#5c50a4,#5c50a4,#5c50a4,#5c50a4,#5c50a4,#5c50a4,#5c50a4,#5c50a4,#5c50a4,#5c50a4,#5c50a4,#5c50a4,#5c50a4,#5c50a4,#5c50a4,#5c50a4,#5c50a4,#5c50a4,#5c50a4,#5c50a4,#5c50a4,#5c50a4,#5c50a4,#5c50a4,#5c50a4,#5c50a4,#5c50a4,#5c50a4,#5c50a4,#5c50a4,#5c50a4,#5c50a4,#5c50a4,#5c50a4,#5c50a4,#5c50a4,#5c50a4,#5c50a4,#5c50a4,#5c50a4,#5c50a4,#5c50a4,#5c50a4,#5c50a4,#5c50a4,#5c50a4,#5c50a4)"></i><i style="background:linear-gradient(#5c50a4,#5c50a4,#5c50a4,#5c50a4,#5c50a4,#5c50a4,#5c50a4,#5c50a4,#5c50a4,#5c50a4,#5c50a4,#5c50a4,#5c50a4,#5c50a4,#5c50a4,#5c50a4,#5c50a4,#5c50a4,#5c50a4,#5c50a4,#5c50a4,#5c50a4,#5c50a4,#5c50a4,#5c50a4,#5c50a4,#5c50a4,#5c50a4,#5c50a4,#5c50a4,#5c50a4,#5c50a4,#5c50a4,#5c50a4,#5c50a4,#5c50a4,#5c50a4,#5c50a4,#5c50a4,#5c50a4,#5c50a4,#5c50a4,#5c50a4,#5c50a4,#5c50a4,#5c50a4,#5c50a4,#5c50a4)"></i><i style="background:linear-gradient(#5c50a4,#5c50a4,#5c50a4,#5c50a4,#5c50a4,#5c50a4,#5c50a4,#5c50a4,#5c50a4,#5c50a4,#5c50a4,#5c50a4,#5c50a4,#5c50a4,#5c50a4,#5c50a4,#5c50a4,#5c50a4,#5c50a4,#5c50a4,#5c50a4,#5c50a4,#5c50a4,#5c50a4,#5c50a4,#5c50a4,#5c50a4,#5c50a4,#5c50a4,#5c50a4,#5c50a4,#5c50a4,#5c50a4,#5c50a4,#5c50a4,#5c50a4,#5c50a4,#5c50a4,#5c50a4,#5c50a4,#5c50a4,#5c50a4,#5c50a4,#5c50a4,#5c50a4,#5c50a4,#5c50a4,#5c50a4)"></i><i style="background:linear-gradient(#5c50a4,#5c50a4,#5c50a4,#5c50a4,#5c50a4,#5c50a4,#5c50a4,#5c50a4,#5c50a4,#5c50a4,#5c50a4,#5c50a4,#5c50a4,#5c50a4,#5c50a4,#5c50a4,#5c50a4,#5c50a4,#5c50a4,#5c50a4,#5c50a4,#5c50a4,#5c50a4,#5c50a4,#5c50a4,#5c50a4,#5c50a4,#5c50a4,#5c50a4,#5c50a4,#5c50a4,#5c50a4,#5c50a4,#5c50a4,#5c50a4,#5c50a4,#5c50a4,#5c50a4,#5c50a4,#5c50a4,#5c50a4,#5c50a4,#5c50a4,#5c50a4,#5c50a4,#5c50a4,#5c50a4,#5c50a4)"></i><i style="background:linear-gradient(#5c50a4,#5c50a4,#5c50a4,#5c50a4,#5c50a4,#5c50a4,#5c50a4,#5c50a4,#5c50a4,#5c50a4,#5c50a4,#5c50a4,#5c50a4,#5c50a4,#5c50a4,#5c50a4,#5c50a4,#5c50a4,#5c50a4,#5c50a4,#5c50a4,#5c50a4,#5c50a4,#5c50a4,#5c50a4,#5c50a4,#5c50a4,#5c50a4,#5c50a4,#5c50a4,#5c50a4,#5c50a4,#5c50a4,#5c50a4,#5c50a4,#5c50a4,#5c50a4,#5c50a4,#5c50a4,#5c50a4,#5c50a4,#5c50a4,#5c50a4,#5c50a4,#5c50a4,#5c50a4,#5c50a4,#5c50a4)"></i><i style="background:linear-gradient(#5c50a4,#5c50a4,#5c50a4,#5c50a4,#5c50a4,#5c50a4,#5c50a4,#5c50a4,#5c50a4,#5c50a4,#5c50a4,#5c50a4,#5c50a4,#5c50a4,#5c50a4,#5c50a4,#5c50a4,#5c50a4,#5c50a4,#5c50a4,#5c50a4,#5c50a4,#5c50a4,#5c50a4,#5c50a4,#5c50a4,#5c50a4,#5c50a4,#5c50a4,#5c50a4,#5c50a4,#5c50a4,#5c50a4,#5c50a4,#5c50a4,#5c50a4,#5c50a4,#5c50a4,#5c50a4,#5c50a4,#5c50a4,#5c50a4,#5c50a4,#5c50a4,#5c50a4,#5c50a4,#5c50a4,#5c50a4)"></i><i style="background:linear-gradient(#5c50a4,#5c50a4,#5c50a4,#5c50a4,#5c50a4,#5c50a4,#5c50a4,#5c50a4,#5c50a4,#5c50a4,#5c50a4,#5c50a4,#5c50a4,#5c50a4,#5c50a4,#5c50a4,#5c50a4,#5c50a4,#5c50a4,#5c50a4,#5c50a4,#5c50a4,#5c50a4,#5c50a4,#5c50a4,#5c50a4,#5c50a4,#5c50a4,#5c50a4,#5c50a4,#5c50a4,#5c50a4,#5c50a4,#5c50a4,#5c50a4,#5c50a4,#5c50a4,#5c50a4,#5c50a4,#5c50a4,#5c50a4,#5c50a4,#5c50a4,#5c50a4,#5c50a4,#5c50a4,#5c50a4,#5c50a4)"></i><i style="background:linear-gradient(#5c50a4,#5c50a4,#5c50a4,#5c50a4,#5c50a4,#5c50a4,#5c50a4,#5c50a4,#5c50a4,#5c50a4,#5c50a4,#5c50a4,#5c50a4,#5c50a4,#5c50a4,#5c50a4,#5c50a4,#5c50a4,#5c50a4,#5c50a4,#5c50a4,#5c50a4,#5c50a4,#5c50a4,#5c50a4,#5c50a4,#5c50a4,#5c50a4,#5c50a4,#5c50a4,#5c50a4,#5c50a4,#5c50a4,#5c50a4,#5c50a4,#5c50a4,#5c50a4,#5c50a4,#5c50a4,#5c50a4,#5c50a4,#5c50a4,#5c50a4,#5c50a4,#5c50a4,#5c50a4,#5c50a4,#5c50a4)"></i><i style="background:linear-gradient(#5c50a4,#5c50a4,#5c50a4,#5c50a4,#5c50a4,#5c50a4,#5c50a4,#5c50a4,#5c50a4,#5c50a4,#5c50a4,#5c50a4,#5c50a4,#5c50a4,#5c50a4,#5c50a4,#5c50a4,#5c50a4,#5c50a4,#5c50a4,#5c50a4,#5c50a4,#5c50a4,#5c50a4,#5c50a4,#5c50a4,#5c50a4,#5c50a4,#5c50a4,#5c50a4,#5c50a4,#5c50a4,#5c50a4,#5c50a4,#5c50a4,#5c50a4,#5c50a4,#5c50a4,#5c50a4,#5c50a4,#5c50a4,#5c50a4,#5c50a4,#5c50a4,#5c50a4,#5c50a4,#5c50a4,#5c50a4)"></i><i style="background:linear-gradient(#5c50a4,#5c50a4,#5c50a4,#5c50a4,#5c50a4,#5c50a4,#5c50a4,#5c50a4,#5c50a4,#5c50a4,#5c50a4,#5c50a4,#5c50a4,#5c50a4,#5c50a4,#5c50a4,#5c50a4,#5c50a4,#5c50a4,#5c50a4,#5c50a4,#5c50a4,#5c50a4,#5c50a4,#5c50a4,#5c50a4,#5c50a4,#5c50a4,#5c50a4,#5c50a4,#5c50a4,#5c50a4,#5c50a4,#5c50a4,#5c50a4,#5c50a4,#5c50a4,#5c50a4,#5c50a4,#5c50a4,#5c50a4,#5c50a4,#5c50a4,#5c50a4,#5c50a4,#5c50a4,#5c50a4,#5c50a4)"></i><i style="background:linear-gradient(#5c50a4,#5c50a4,#5c50a4,#5c50a4,#5c50a4,#5c50a4,#5c50a4,#5c50a4,#5c50a4,#5c50a4,#5c50a4,#5c50a4,#5c50a4,#5c50a4,#5c50a4,#5c50a4,#5c50a4,#5c50a4,#5c50a4,#5c50a4,#5c50a4,#5c50a4,#5c50a4,#5c50a4,#5c50a4,#5c50a4,#5c50a4,#5c50a4,#5c50a4,#5c50a4,#5c50a4,#5c50a4,#5c50a4,#5c50a4,#5c50a4,#5c50a4,#5c50a4,#5c50a4,#5c50a4,#5c50a4,#5c50a4,#5c50a4,#5c50a4,#5c50a4,#5c50a4,#5c50a4,#5c50a4,#5c50a4)"></i><i style="background:linear-gradient(#5c52a5,#5c52a5,#5c51a4,#5c50a4,#5c50a4,#5c50a4,#5c50a4,#5c50a4,#5c50a4,#5c50a4,#5c50a4,#5c50a4,#5c50a4,#5c50a4,#5c50a4,#5c50a4,#5c50a4,#5c50a4,#5c50a4,#5c50a4,#5c50a4,#5c50a4,#5c50a4,#5c50a4,#5c50a4,#5c50a4,#5c50a4,#5c50a4,#5c50a4,#5c50a4,#5c50a4,#5c50a4,#5c50a4,#5c50a4,#5c50a4,#5c50a4,#5c50a4,#5c50a4,#5c50a4,#5c50a4,#5c50a4,#5c50a4,#5c50a4,#5c50a4,#5c50a4,#5c50a4,#5c50a4,#5c50a4)"></i><i style="background:linear-gradient(#5b56a6,#5b56a6,#5b55a6,#5b54a5,#5b53a5,#5c52a5,#5c51a4,#5c50a4,#5c50a4,#5c50a4,#5c50a4,#5c50a4,#5c50a4,#5c50a4,#5c50a4,#5c50a4,#5c50a4,#5c50a4,#5c50a4,#5c50a4,#5c50a4,#5c50a4,#5c50a4,#5c50a4,#5c50a4,#5c50a4,#5c50a4,#5c50a4,#5c50a4,#5c50a4,#5c50a4,#5c50a4,#5c50a4,#5c50a4,#5c50a4,#5c50a4,#5c50a4,#5c50a4,#5c50a4,#5c50a4,#5c50a4,#5c50a4,#5c50a4,#5c50a4,#5c50a4,#5c50a4,#5c50a4,#5c50a4)"></i><i style="background:linear-gradient(#5a5ba8,#5a5ba8,#5a59a8,#5a58a7,#5a58a7,#5b56a6,#5b55a6,#5b54a6,#5b53a5,#5b53a5,#5c51a4,#5c51a4,#5c50a4,#5c50a4,#5c50a4,#5c50a4,#5c50a4,#5c50a4,#5c50a4,#5c50a4,#5c50a4,#5c50a4,#5c50a4,#5c50a4,#5c50a4,#5c50a4,#5c50a4,#5c50a4,#5c50a4,#5c50a4,#5c50a4,#5c50a4,#5c50a4,#5c50a4,#5c50a4,#5c50a4,#5c50a4,#5c50a4,#5c50a4,#5c50a4,#5c50a4,#5c50a4,#5c50a4,#5c50a4,#5c50a4,#5c50a4,#5c50a4,#5c50a4)"></i><i style="background:linear-gradient(#5960aa,#595faa,#595ea9,#595da9,#595ca8,#5a5ba8,#5a59a8,#5a59a7,#5a58a7,#5a57a7,#5b56a6,#5b54a6,#5b54a5,#5b53a5,#5c51a4,#5c51a4,#5c50a4,#5c50a4,#5c50a4,#5c50a4,#5c50a4,#5c50a4,#5c50a4,#5c50a4,#5c50a4,#5c50a4,#5c50a4,#5c50a4,#5c50a4,#5c50a4,#5c50a4,#5c50a4,#5c50a4,#5c50a4,#5c50a4,#5c50a4,#5c50a4,#5c50a4,#5c50a4,#5c50a4,#5c50a4,#5c50a4,#5c50a4,#5c50a4,#5c50a4,#5c50a4,#5c50a4,#5c50a4)"></i><i style="background:linear-gradient(#5864ac,#5863ab,#5863ab,#5862ab,#5860aa,#5960aa,#595ea9,#595da9,#595ca8,#5a5ba8,#5a5aa8,#5a59a7,#5a58a7,#5a57a7,#5b56a6,#5b54a6,#5b54a5,#5b53a5,#5c51a4,#5c51a4,#5c50a4,#5c50a4,#5c50a4,#5c50a4,#5c50a4,#5c50a4,#5c50a4,#5c50a4,#5c50a4,#5c50a4,#5c50a4,#5c50a4,#5c50a4,#5c50a4,#5c50a4,#5c50a4,#5c50a4,#5c50a4,#5c50a4,#5c50a4,#5c50a4,#5c50a4,#5c50a4,#5c50a4,#5c50a4,#5c50a4,#5c50a4,#5c50a4)"></i><i style="background:linear-gradient(#5769ad,#5768ad,#5767ad,#5767ac,#5765ac,#5864ac,#5863ab,#5862ab,#5861aa,#5960aa,#595ea9,#595ea9,#595da9,#5a5ba8,#5a5aa8,#5a59a7,#5a58a7,#5a57a7,#5b56a6,#5b54a6,#5b54a5,#5b53a5,#5c51a4,#5c50a4,#5c50a4,#5c50a4,#5c50a4,#5c50a4,#5c50a4,#5c50a4,#5c50a4,#5c50a4,#5c50a4,#5c50a4,#5c50a4,#5c50a4,#5c50a4,#5c50a4,#5c50a4,#5c50a4,#5c50a4,#5c50a4,#5c50a4,#5c50a4,#5c50a4,#5c50a4,#5c50a4,#5c50a4)"></i><i style="background:linear-gradient(#556eaf,#566daf,#566caf,#566cae,#566aae,#5769ad,#5768ad,#5767ad,#5766ac,#5765ac,#5863ab,#5862ab,#5861aa,#5860aa,#595faa,#595ea9,#595da9,#5a5ba8,#5a5aa8,#5a59a7,#5a58a7,#5a57a7,#5b56a6,#5b54a6,#5b53a5,#5c52a5,#5c51a4,#5c50a4,#5c50a4,#5c50a4,#5c50a4,#5c50a4,#5c50a4,#5c50a4,#5c50a4,#5c50a4,#5c50a4,#5c50a4,#5c50a4,#5c50a4,#5c50a4,#5c50a4,#5c50a4,#5c50a4,#5c50a4,#5c50a4,#5c50a4,#5c50a4)"></i><i style="background:linear-gradient(#5473b1,#5472b1,#5572b1,#5571b0,#556fb0,#556faf,#566daf,#566caf,#566bae,#566aae,#5768ad,#5767ad,#5767ac,#5765ac,#5864ac,#5863ab,#5862ab,#5860aa,#595faa,#595ea9,#595da9,#5a5ba8,#5a5aa8,#5a59a7,#5a58a7,#5b56a6,#5b55a6,#5b54a5,#5b53a5,#5c52a5,#5c51a4,#5c50a4,#5c50a4,#5c50a4,#5c50a4,#5c50a4,#5c50a4,#5c50a4,#5c50a4,#5c50a4,#5c50a4,#5c50a4,#5c50a4,#5c50a4,#5c50a4,#5c50a4,#5c50a4,#5c50a4)"></i><i style="background:linear-gradient(#5378b3,#5377b3,#5477b3,#5476b2,#5475b2,#5474b1,#5472b1,#5572b1,#5571b0,#556fb0,#556eaf,#566daf,#566cae,#566aae,#5769ad,#5768ad,#5767ac,#5765ac,#5864ac,#5863ab,#5862ab,#5960aa,#595ea9,#595da9,#595ca8,#5a5ba8,#5a59a8,#5a58a7,#5a57a7,#5b56a6,#5b54a6,#5b53a5,#5c52a5,#5c51a4,#5c50a4,#5c50a4,#5c50a4,#5c50a4,#5c50a4,#5c50a4,#5c50a4,#5c50a4,#5c50a4,#5c50a4,#5c50a4,#5c50a4,#5c50a4,#5c50a4)"></i><i style="background:linear-gradient(#527db5,#527cb5,#527cb4,#537bb4,#537ab4,#5379b3,#5378b3,#5477b3,#5476b2,#5475b2,#5474b1,#5472b1,#5571b0,#5570b0,#556faf,#566daf,#566cae,#566aae,#5769ad,#5768ad,#5767ac,#5765ac,#5863ab,#5862ab,#5861aa,#5960aa,#595ea9,#595da9,#5a5ba8,#5a5aa8,#5a59a7,#5a58a7,#5b56a6,#5b55a6,#5b54a5,#5b53a5,#5c51a4,#5c50a4,#5c50a4,#5c50a4,#5c50a4,#5c50a4,#5c50a4,#5c50a4,#5c50a4,#5c50a4,#5c50a4,#5c50a4)"></i><i style="background:linear-gradient(#5182b7,#5181b7,#5181b6,#5180b6,#5280b6,#527fb6,#527eb5,#527cb5,#527cb4,#537bb4,#5379b3,#5378b3,#5477b3,#5476b2,#5474b2,#5473b1,#5572b1,#5570b0,#556faf,#566daf,#566caf,#566aae,#5769ad,#5768ad,#5766ac,#5765ac,#5863ab,#5862ab,#5860aa,#595faa,#595ea9,#595ca8,#5a5ba8,#5a59a8,#5a58a7,#5b56a6,#5b55a6,#5b54a5,#5b53a5,#5c51a4,#5c50a4,#5c50a4,#5c50a4,#5c50a4,#5c50a4,#5c50a4,#5c50a4,#5c50a4)"></i><i style="background:linear-gradient(#5086b8,#5086b8,#5086b8,#5085b8,#5185b8,#5184b7,#5183b7,#5183b7,#5181b7,#5180b6,#5280b6,#527eb5,#527db5,#527cb4,#537bb4,#5379b3,#5377b3,#5476b2,#5475b2,#5473b1,#5572b1,#5570b0,#556faf,#566daf,#566cae,#566aae,#5768ad,#5767ad,#5765ac,#5864ac,#5862ab,#5861aa,#5960aa,#595ea9,#595da9,#5a5ba8,#5a59a8,#5a58a7,#5a57a7,#5b55a6,#5b54a5,#5b53a5,#5c51a4,#5c50a4,#5c50a4,#5c50a4,#5c50a4,#5c50a4)"></i><i style="background:linear-gradient(#4f8bba,#4f8bba,#4f8bba,#4f8aba,#4f8aba,#4f8aba,#5089b9,#5088b9,#5087b9,#5086b8,#5085b8,#5184b7,#5183b7,#5182b7,#5181b6,#527fb6,#527eb5,#527cb5,#537bb4,#5379b3,#5378b3,#5476b2,#5475b2,#5473b1,#5571b0,#5570b0,#556eaf,#566daf,#566bae,#5769ad,#5768ad,#5766ac,#5765ac,#5863ab,#5862ab,#5960aa,#595ea9,#595da9,#5a5ba8,#5a59a8,#5a58a7,#5a57a7,#5b55a6,#5b54a5,#5b53a5,#5c51a4,#5c50a4,#5c50a4)"></i><i style="background:linear-gradient(#4e8fbb,#4e8fbb,#4e8fbb,#4e8fbb,#4e8fbb,#4e8fbb,#4e8ebb,#4f8dbb,#4f8dbb,#4f8cbb,#4f8bba,#4f8aba,#4f8aba,#5088b9,#5087b9,#5086b8,#5185b8,#5183b7,#5181b7,#5180b6,#527eb5,#527db5,#537bb4,#5379b3,#5378b3,#5476b2,#5474b2,#5472b1,#5571b0,#556fb0,#566daf,#566cae,#566aae,#5768ad,#5767ac,#5765ac,#5863ab,#5862ab,#5960aa,#595ea9,#595da9,#5a5ba8,#5a59a8,#5a58a7,#5b56a6,#5b55a6,#5b53a5,#5b53a5)"></i><i style="background:linear-gradient(#4f92bc,#4f92bc,#5092bb,#5093bb,#5093bb,#5093bb,#5093bb,#5093bb,#5092bb,#5092bb,#4f92bc,#4e90bc,#4e90bc,#4e8fbb,#4e8ebb,#4f8dbb,#4f8bba,#4f8aba,#5088b9,#5087b9,#5085b8,#5184b7,#5182b7,#5180b6,#527eb5,#527cb5,#537bb4,#5379b3,#5377b3,#5476b2,#5474b1,#5572b1,#5570b0,#556eaf,#566caf,#566aae,#5768ad,#5767ac,#5765ac,#5863ab,#5862ab,#5960aa,#595ea9,#595da9,#5a5ba8,#5a59a8,#5a58a7,#5a58a7)"></i><i style="background:linear-gradient(#5194bb,#5194bb,#5195bb,#5295bb,#5397ba,#5397ba,#5397ba,#5397ba,#5397ba,#5397ba,#5397ba,#5397ba,#5296ba,#5295bb,#5194bb,#5194bb,#5092bb,#4f91bc,#4e90bc,#4e8ebb,#4f8dbb,#4f8bba,#5089b9,#5088b9,#5086b8,#5184b7,#5182b7,#5180b6,#527eb5,#527cb4,#537ab4,#5378b3,#5476b2,#5474b2,#5472b1,#5571b0,#556faf,#566caf,#566aae,#5768ad,#5767ac,#5765ac,#5863ab,#5862ab,#5960aa,#595ea9,#595ca8,#595ca8)"></i><i style="background:linear-gradient(#5194bb,#5195bb,#5397ba,#5498ba,#5499ba,#559aba,#569bb9,#569cb9,#579cb9,#579cb9,#579cb9,#579cb9,#579cb9,#569cb9,#569bb9,#559ab9,#5499ba,#5499ba,#5397ba,#5295bb,#5194bb,#5092bb,#4f91bc,#4e8fbc,#4f8dbb,#4f8bba,#4f8aba,#5087b9,#5085b8,#5183b7,#5181b7,#527fb6,#527db5,#537bb4,#5379b3,#5477b3,#5475b2,#5472b1,#5571b0,#556faf,#566daf,#566aae,#5768ad,#5767ac,#5765ac,#5863ab,#5861aa,#5861aa)"></i><i style="background:linear-gradient(#5194bb,#5195bb,#5397ba,#5499ba,#559ab9,#569cb9,#579db9,#589eb8,#599fb8,#59a0b8,#5aa1b8,#5aa1b8,#5ba2b8,#5ba2b8,#5aa1b8,#5aa1b8,#5aa1b8,#599fb8,#589fb8,#589eb9,#579cb9,#559ab9,#5499ba,#5397ba,#5295bb,#5194bb,#4f92bc,#4e8fbc,#4f8dbb,#4f8bba,#5089b9,#5086b8,#5185b8,#5182b7,#5280b6,#527eb5,#537bb4,#5379b3,#5477b3,#5475b2,#5472b1,#5571b0,#556eaf,#566caf,#566aae,#5768ad,#5766ac,#5766ac)"></i><i style="background:linear-gradient(#5093bb,#5194bb,#5296ba,#5499ba,#559ab9,#579cb9,#589eb8,#59a0b8,#5ba2b8,#5ca3b7,#5ca4b7,#5da6b7,#5ea6b6,#5ea7b6,#5fa8b6,#5fa8b6,#5ea7b6,#5ea7b6,#5ea6b6,#5da5b7,#5ca4b7,#5ca3b7,#5aa1b8,#59a0b8,#589eb8,#579cb9,#559aba,#5498ba,#5295bb,#5194bb,#4f91bc,#4e8fbb,#4f8cbb,#4f8aba,#5088b9,#5085b8,#5183b7,#5180b6,#527eb5,#527cb4,#5379b3,#5477b3,#5475b2,#5472b1,#5570b0,#556eaf,#566cae,#566cae)"></i><i style="background:linear-gradient(#4e90bc,#4f92bc,#5194bb,#5397ba,#5499ba,#569cb9,#589eb8,#5aa1b8,#5ba3b7,#5ca4b7,#5ea6b6,#5fa8b6,#60aab5,#61abb5,#62acb5,#62adb5,#63adb5,#63adb5,#63adb5,#63adb5,#62adb5,#61abb5,#60aab5,#5fa9b6,#5ea7b6,#5da5b7,#5ca3b7,#5aa1b8,#589fb8,#579cb9,#559aba,#5397ba,#5195bb,#5092bb,#4e90bc,#4f8dbb,#4f8bba,#5088b9,#5086b8,#5183b7,#5180b6,#527eb5,#537bb4,#5379b3,#5477b3,#5474b2,#5572b1,#5571b0)"></i><i style="background:linear-gradient(#4f8dbb,#4e8fbb,#4f92bc,#5194bb,#5397ba,#559aba,#579db9,#599fb8,#5ba2b8,#5ca4b7,#5ea7b6,#60a9b6,#62acb5,#63aeb5,#64b0b4,#65b1b4,#66b2b3,#67b3b3,#67b3b3,#67b4b3,#67b4b3,#67b3b3,#67b3b3,#66b2b4,#65b0b4,#64afb4,#63adb5,#61abb5,#5fa9b6,#5ea6b6,#5ca4b7,#5aa1b8,#589fb8,#569cb9,#5499ba,#5296ba,#5194bb,#4e90bc,#4e8ebb,#4f8bba,#5088b9,#5086b8,#5183b7,#5180b6,#527eb5,#537bb4,#5379b3,#5378b3)"></i><i style="background:linear-gradient(#4f8aba,#4f8bba,#4e8ebb,#4f91bc,#5194bb,#5397ba,#559aba,#579db9,#59a0b8,#5ca3b7,#5ea6b6,#5fa9b6,#62acb5,#63aeb4,#65b1b4,#67b3b3,#68b5b3,#6ab7b2,#6ab8b2,#6bbab2,#6cbbb1,#6cbbb1,#6cbbb1,#6cbbb1,#6bbab2,#6bb9b2,#6ab7b2,#68b5b3,#67b3b3,#65b1b4,#63aeb4,#62acb5,#5fa9b6,#5ea6b6,#5ca3b7,#59a0b8,#579db9,#559aba,#5397ba,#5194bb,#4f91bc,#4e8ebb,#4f8bba,#5088b9,#5085b8,#5182b7,#5280b6,#527fb6)"></i><i style="background:linear-gradient(#5085b8,#5086b8,#4f8aba,#4f8dbb,#4e90bc,#5093bb,#5296ba,#5499ba,#579db9,#59a0b8,#5ca3b7,#5ea7b6,#60aab5,#63adb5,#65b0b4,#67b3b3,#69b7b2,#6bb9b2,#6dbcb1,#6ebeb0,#70c0b0,#71c1b0,#71c2af,#72c3af,#72c3af,#71c2af,#71c2b0,#70c1b0,#6fbfb0,#6ebdb1,#6cbab1,#6ab7b2,#68b5b3,#66b2b4,#63aeb4,#61abb5,#5fa8b6,#5ca4b7,#5aa1b8,#589eb9,#559ab9,#5397ba,#5194bb,#4e90bc,#4f8dbb,#4f8aba,#5088b9,#5087b9)"></i><i style="background:linear-gradient(#5180b6,#5181b7,#5185b8,#5088b9,#4f8bba,#4e8fbb,#4f92bc,#5195bb,#5499ba,#579cb9,#599fb8,#5ca3b7,#5ea7b6,#61abb5,#63aeb4,#66b2b3,#68b5b3,#6bb9b2,#6ebdb1,#70c0b0,#71c2af,#74c6af,#75c7ae,#76c9ae,#77cbad,#78cbad,#78cbad,#78cbad,#77caae,#76c9ae,#75c7ae,#73c4af,#71c1b0,#6ebeb0,#6cbbb1,#6ab7b2,#67b4b3,#65b0b4,#62adb5,#5fa9b6,#5da5b7,#5aa1b8,#589eb8,#559ab9,#5397ba,#5194bb,#4e90bc,#4e90bc)"></i><i style="background:linear-gradient(#527cb4,#527db5,#5280b6,#5183b7,#5086b8,#5089b9,#4f8dbb,#4e90bc,#5194bb,#5397ba,#569bb9,#589fb8,#5ba3b7,#5ea6b6,#61abb5,#63aeb4,#67b3b3,#69b7b2,#6cbbb1,#6fbfb0,#72c3af,#74c6ae,#77caae,#79cdad,#7bd0ac,#7dd1ac,#7ed2ac,#7fd2ac,#7fd2ac,#7fd2ac,#7ed1ac,#7cd1ac,#7acfac,#79ccad,#76c9ae,#74c6af,#71c2b0,#6ebdb1,#6bbab2,#68b5b3,#66b2b4,#63adb5,#5fa9b6,#5da5b7,#5aa1b8,#589eb9,#559aba,#5499ba)"></i><i style="background:linear-gradient(#5476b2,#5377b3,#537bb4,#527eb5,#5181b6,#5184b7,#5087b9,#4f8bba,#4e8ebb,#4f92bc,#5295bb,#5499ba,#579db9,#5aa1b8,#5da5b7,#60a9b6,#63aeb5,#66b2b3,#69b7b2,#6dbcb1,#70c0b0,#73c5af,#76c9ae,#79cead,#7dd1ac,#80d2ac,#82d3ab,#85d5ab,#87d5ab,#88d6ab,#88d6ab,#88d6ab,#86d5ab,#85d4ab,#82d3ab,#7fd2ac,#7cd0ac,#79ccad,#75c8ae,#72c4af,#6fbfb0,#6cbab1,#69b6b3,#66b2b4,#63adb5,#5fa9b6,#5ca4b7,#5ca4b7)"></i><i style="background:linear-gradient(#5571b0,#5472b1,#5476b2,#5378b3,#537bb4,#527eb5,#5181b7,#5085b8,#5088b9,#4f8cbb,#4e8fbc,#5093bb,#5397ba,#569bb9,#599fb8,#5ca3b7,#5fa8b6,#62adb5,#65b1b4,#69b6b3,#6cbbb1,#70c0b0,#74c6af,#77cbad,#7bd0ac,#7fd2ac,#83d4ab,#87d5ab,#8bd7ab,#8ed9ab,#90d9aa,#91daaa,#92daaa,#91daaa,#90d9aa,#8dd8ab,#8ad7ab,#87d5ab,#83d4ab,#7fd2ac,#7acfac,#77caae,#73c5af,#6fbfb0,#6cbab1,#68b5b3,#65b0b4,#64b0b4)"></i><i style="background:linear-gradient(#566caf,#566daf,#5571b0,#5473b1,#5476b2,#5379b3,#527cb4,#527fb6,#5183b7,#5086b8,#4f8aba,#4f8dbb,#4f91bc,#5195bb,#5499ba,#579db9,#5aa1b8,#5da6b7,#61abb5,#64afb4,#68b5b3,#6bbab2,#6fbfb0,#73c5af,#77cbad,#7cd0ac,#81d3ac,#86d5ab,#8bd7ab,#8fd9aa,#94dbaa,#98ddaa,#9bdeaa,#9ddfa9,#9de0a9,#9cdfa9,#9adeaa,#98ddaa,#94dbaa,#8fd9aa,#8ad7ab,#85d5ab,#80d2ac,#7bd0ac,#77caae,#73c4af,#6fbfb0,#6ebdb1)"></i><i style="background:linear-gradient(#5767ad,#5768ad,#566bae,#556eaf,#5571b0,#5474b1,#5476b2,#5379b3,#527cb5,#5180b6,#5183b7,#5087b9,#4f8aba,#4e8ebb,#4f92bc,#5296ba,#559ab9,#589fb8,#5ca3b7,#5fa8b6,#62adb5,#66b2b3,#6ab7b2,#6ebdb1,#72c3af,#76c9ae,#7bd0ac,#80d2ac,#87d5ab,#8cd8ab,#93dbaa,#98ddaa,#9ee0a9,#a3e2a9,#a7e4a9,#aae5a8,#abe6a8,#aae5a8,#a7e4a9,#a3e2a9,#9de0a9,#98ddaa,#92daaa,#8cd8ab,#86d5ab,#80d2ac,#7acfac,#7aceac)"></i><i style="background:linear-gradient(#5863ab,#5863ab,#5766ac,#5769ad,#566cae,#556eaf,#5571b0,#5474b1,#5477b3,#537ab4,#527db5,#5181b6,#5184b7,#5088b9,#4f8bba,#4e8fbc,#5093bb,#5397ba,#569cb9,#59a0b8,#5ca4b7,#60a9b6,#64afb4,#67b4b3,#6cbab1,#70c0b0,#75c7ae,#79cead,#7fd2ac,#85d5ab,#8cd8ab,#93dbaa,#9adeaa,#a2e2a9,#a9e5a9,#b0e8a8,#b5eaa6,#b9eba5,#baeca5,#b8eba5,#b5eaa6,#afe8a8,#a8e5a9,#a1e1a9,#99deaa,#92daaa,#8bd7ab,#8ad7ab)"></i><i style="background:linear-gradient(#595ea9,#595faa,#5862ab,#5864ac,#5767ac,#5769ad,#566cae,#556faf,#5571b0,#5474b2,#5377b3,#537bb4,#527eb5,#5181b6,#5185b8,#5088b9,#4f8cbb,#4e90bc,#5194bb,#5498ba,#579cb9,#5aa1b8,#5ea6b6,#61abb5,#65b1b4,#69b7b2,#6dbcb1,#72c3af,#77caae,#7cd1ac,#82d3ab,#8ad7ab,#91daaa,#99deaa,#a2e2a9,#abe6a8,#b5eaa6,#bdeda4,#c5f0a1,#cbf29f,#cdf39e,#caf29f,#c4efa1,#bceca4,#b3e9a7,#aae5a8,#a1e1a9,#9fe0a9)"></i><i style="background:linear-gradient(#5a59a8,#5a5ba8,#595da9,#595faa,#5862ab,#5864ac,#5767ac,#5769ad,#566caf,#556faf,#5572b1,#5475b2,#5377b3,#537bb4,#527eb5,#5181b7,#5085b8,#5089b9,#4f8dbb,#4e90bc,#5195bb,#5499ba,#589eb9,#5ba3b7,#5fa8b6,#62adb5,#66b2b3,#6ab8b2,#6ebeb0,#73c5af,#79ccad,#7ed2ac,#86d5ab,#8dd8ab,#96dcaa,#9fe0a9,#a9e5a9,#b4eaa7,#c0eea3,#ccf39f,#d8f79b,#e1fa9a,#e3fb9d,#e0fa99,#d6f69b,#c9f2a0,#bdeda4,#bbeca4)"></i><i style="background:linear-gradient(#5b55a6,#5b56a6,#5a58a7,#5a5ba8,#595da9,#595faa,#5862ab,#5864ac,#5767ac,#566aae,#566caf,#556fb0,#5572b1,#5475b2,#5378b3,#537bb4,#527eb5,#5182b7,#5085b8,#5089b9,#4f8dbb,#4f91bc,#5295bb,#559aba,#589eb8,#5ca3b7,#5fa8b6,#63adb5,#67b3b3,#6bb9b2,#70c0b0,#75c7ae,#7aceac,#80d2ac,#88d6ab,#90d9aa,#9da,#a3e2a9,#aee7a8,#bbeca4,#c9f2a0,#daf89a,#e6fca4,#effeb4,#f3ffba,#edfdb0,#e4fb9f,#e2fb9c)"></i><i style="background:linear-gradient(#5b54a5,#5b54a6,#5a57a7,#5a59a7,#5a5ba8,#595ea9,#5960aa,#5862ab,#5765ac,#5768ad,#566aae,#566daf,#5570b0,#5473b1,#5476b2,#5379b3,#527cb5,#5280b6,#5183b7,#5086b8,#4f8aba,#4e8fbb,#5092bb,#5397ba,#569bb9,#599fb8,#5ca4b7,#60aab5,#64afb4,#68b5b3,#6dbcb1,#71c2b0,#76c9ae,#7cd0ac,#83d4ab,#8ad7ab,#93dbaa,#9cdfa9,#a7e4a9,#b3e9a7,#c0eea3,#d1f49d,#e2fb9c,#edfdb0,#f3f6ae,#f3f5aa,#effeb3,#edfdaf)"></i><i style="background:linear-gradient(#5b54a5,#5b54a6,#5a57a7,#5a59a7,#5a5ba8,#595ea9,#5960aa,#5862ab,#5765ac,#5768ad,#566aae,#566daf,#5570b0,#5473b1,#5476b2,#5379b3,#527cb5,#5280b6,#5183b7,#5086b8,#4f8aba,#4e8fbb,#5092bb,#5397ba,#569bb9,#599fb8,#5ca4b7,#60aab5,#64afb4,#68b5b3,#6dbcb1,#71c2b0,#76c9ae,#7cd0ac,#83d4ab,#8ad7ab,#93dbaa,#9cdfa9,#a7e4a9,#b3e9a7,#c0eea3,#d1f49d,#e2fb9c,#edfdb0,#f3f6ae,#f3f5aa,#effeb3,#edfdaf)"></i><i style="background:linear-gradient(#5b54a5,#5b54a6,#5a57a7,#5a59a7,#5a5ba8,#595ea9,#5960aa,#5862ab,#5765ac,#5768ad,#566aae,#566daf,#5570b0,#5473b1,#5476b2,#5379b3,#527cb5,#5280b6,#5183b7,#5086b8,#4f8aba,#4e8fbb,#5092bb,#5397ba,#569bb9,#599fb8,#5ca4b7,#60aab5,#64afb4,#68b5b3,#6dbcb1,#71c2b0,#76c9ae,#7cd0ac,#83d4ab,#8ad7ab,#93dbaa,#9cdfa9,#a7e4a9,#b3e9a7,#c0eea3,#d1f49d,#e2fb9c,#edfdb0,#f3f6ae,#f3f5aa,#effeb3,#edfdaf)"></i></div></div>
<div class="cb" style="left:316.9px;top:869.4px;background:linear-gradient(#5c50a4,#4e90bc,#7bd0ac,#b0e8a8,#e0fa98,#f4ffbc,#f0e088,#eca860,#eb6644,#d43c52,#a1184a)"></div>
<div class="hm" style="left:660.1px;top:869.4px"><div class="hb"><i style="background:linear-gradient(#5c50a4,#5c50a4,#5c50a4,#5c50a4,#5c52a5,#5b54a6,#5b56a6,#5a59a7,#5a5ba8,#595da9,#5960aa,#5862ab,#5765ac,#5767ad,#566aae,#566daf,#556fb0,#5472b1,#5476b2,#5379b3,#527cb4,#527fb6,#5183b7,#5086b8,#4f8aba,#4e8ebb,#4f92bc,#5296ba,#559ab9,#589fb8,#5ca4b7,#5fa9b6,#63aeb4,#67b4b3,#6cbab1,#71c1b0,#75c8ae,#7bd0ac,#82d3ab,#8ad7ab,#92daaa,#9bdfaa,#a6e4a9,#b2e9a7,#c0eea3,#d0f49d,#e2fa9b,#e4fb9f)"></i><i style="background:linear-gradient(#5c50a4,#5c50a4,#5c50a4,#5c50a4,#5c52a5,#5b54a6,#5b56a6,#5a59a7,#5a5ba8,#595da9,#5960aa,#5862ab,#5765ac,#5767ad,#566aae,#566daf,#556fb0,#5472b1,#5476b2,#5379b3,#527cb4,#527fb6,#5183b7,#5086b8,#4f8aba,#4e8ebb,#4f92bc,#5296ba,#559ab9,#589fb8,#5ca4b7,#5fa9b6,#63aeb4,#67b4b3,#6cbab1,#71c1b0,#75c8ae,#7bd0ac,#82d3ab,#8ad7ab,#92daaa,#9bdfaa,#a6e4a9,#b2e9a7,#c0eea3,#d0f49d,#e2fa9b,#e4fb9f)"></i><i style="background:linear-gradient(#5c50a4,#5c50a4,#5c50a4,#5c50a4,#5c52a5,#5b54a6,#5b56a6,#5a59a7,#5a5ba8,#595da9,#5960aa,#5862ab,#5765ac,#5767ad,#566aae,#566daf,#556fb0,#5472b1,#5476b2,#5379b3,#527cb4,#527fb6,#5183b7,#5086b8,#4f8aba,#4e8ebb,#4f92bc,#5296ba,#559ab9,#589fb8,#5ca4b7,#5fa9b6,#63aeb4,#67b4b3,#6cbab1,#71c1b0,#75c8ae,#7bd0ac,#82d3ab,#8ad7ab,#92daaa,#9bdfaa,#a6e4a9,#b2e9a7,#c0eea3,#d0f49d,#e2fa9b,#e4fb9f)"></i><i style="background:linear-gradient(#5c50a4,#5c50a4,#5c50a4,#5c50a4,#5c50a4,#5c51a4,#5b53a5,#5b56a6,#5a58a7,#5a5aa8,#595da9,#595ea9,#5861aa,#5863ab,#5766ac,#5769ad,#566cae,#556faf,#5571b0,#5474b2,#5377b3,#537bb4,#527eb5,#5181b7,#5185b8,#5088b9,#4f8cbb,#4e90bc,#5194bb,#5499ba,#579db9,#5ba2b8,#5ea7b6,#62adb5,#66b2b3,#6ab8b2,#6fbfb0,#74c6af,#79ccad,#7fd2ac,#86d5ab,#8ed9ab,#97ddaa,#a1e1a9,#ade7a8,#b9eba5,#c8f1a0,#caf29f)"></i><i style="background:linear-gradient(#5c50a4,#5c50a4,#5c50a4,#5c50a4,#5c50a4,#5c50a4,#5c50a4,#5c50a4,#5b53a5,#5b54a6,#5a57a7,#5a59a7,#5a5ba8,#595ea9,#5860aa,#5862ab,#5765ac,#5768ad,#566aae,#566daf,#5570b0,#5473b1,#5476b2,#5379b3,#527cb5,#5280b6,#5183b7,#5086b8,#4f8aba,#4e8ebb,#5092bb,#5397ba,#569bb9,#599fb8,#5ca4b7,#60a9b6,#64afb4,#68b5b3,#6cbbb1,#71c2b0,#76c9ae,#7bd0ac,#82d3ab,#8ad7ab,#92daaa,#9bdeaa,#a5e3a9,#a7e4a9)"></i><i style="background:linear-gradient(#5c50a4,#5c50a4,#5c50a4,#5c50a4,#5c50a4,#5c50a4,#5c50a4,#5c50a4,#5c50a4,#5c50a4,#5c51a4,#5b54a5,#5b56a6,#5a58a7,#5a5aa8,#595da9,#595faa,#5862ab,#5864ac,#5767ac,#5769ad,#566cae,#556faf,#5571b0,#5474b2,#5377b3,#537bb4,#527eb5,#5181b7,#5185b8,#5088b9,#4f8cbb,#4e90bc,#5194bb,#5499ba,#579db9,#5ba2b8,#5ea7b6,#62acb5,#66b2b4,#6ab7b2,#6ebdb1,#73c4af,#78ccad,#7ed1ac,#85d4ab,#8cd8ab,#8ed9ab)"></i><i style="background:linear-gradient(#5c50a4,#5c50a4,#5c50a4,#5c50a4,#5c50a4,#5c50a4,#5c50a4,#5c50a4,#5c50a4,#5c50a4,#5c50a4,#5c50a4,#5c51a4,#5b53a5,#5b54a6,#5a57a7,#5a59a8,#5a5ba8,#595ea9,#5860aa,#5863ab,#5765ac,#5768ad,#566aae,#566daf,#5570b0,#5473b1,#5476b2,#5379b3,#527cb5,#5280b6,#5183b7,#5086b8,#4f8aba,#4e8ebb,#4f92bc,#5296ba,#559ab9,#589fb8,#5ca4b7,#5fa9b6,#63aeb4,#67b4b3,#6bbab2,#70c0b0,#75c7ae,#7aceac,#7bd0ac)"></i><i style="background:linear-gradient(#5c50a4,#5c50a4,#5c50a4,#5c50a4,#5c50a4,#5c50a4,#5c50a4,#5c50a4,#5c50a4,#5c50a4,#5c50a4,#5c50a4,#5c50a4,#5c50a4,#5c50a4,#5c52a5,#5b54a5,#5b56a6,#5a58a7,#5a5aa8,#595da9,#595faa,#5862ab,#5864ac,#5767ac,#5769ad,#566cae,#556faf,#5571b0,#5474b2,#5377b3,#537bb4,#527eb5,#5181b6,#5185b8,#5088b9,#4f8cbb,#4e90bc,#5194bb,#5498ba,#579cb9,#5aa1b8,#5da6b7,#61abb5,#65b0b4,#69b6b3,#6dbcb1,#6ebdb1)"></i><i style="background:linear-gradient(#5c50a4,#5c50a4,#5c50a4,#5c50a4,#5c50a4,#5c50a4,#5c50a4,#5c50a4,#5c50a4,#5c50a4,#5c50a4,#5c50a4,#5c50a4,#5c50a4,#5c50a4,#5c50a4,#5c50a4,#5c51a4,#5b53a5,#5b55a6,#5a57a7,#5a59a8,#5a5ba8,#595ea9,#5860aa,#5863ab,#5765ac,#5768ad,#566aae,#566daf,#5570b0,#5472b1,#5476b2,#5379b3,#527cb4,#527fb6,#5183b7,#5086b8,#4f8aba,#4f8dbb,#4f91bc,#5295bb,#559aba,#589eb8,#5ba3b7,#5fa8b6,#62adb5,#63adb5)"></i><i style="background:linear-gradient(#5c50a4,#5c50a4,#5c50a4,#5c50a4,#5c50a4,#5c50a4,#5c50a4,#5c50a4,#5c50a4,#5c50a4,#5c50a4,#5c50a4,#5c50a4,#5c50a4,#5c50a4,#5c50a4,#5c50a4,#5c50a4,#5c50a4,#5c50a4,#5c52a5,#5b54a5,#5b56a6,#5a58a7,#5a5aa8,#595da9,#595faa,#5862ab,#5863ab,#5767ac,#5769ad,#566cae,#556eaf,#5571b0,#5474b1,#5477b3,#537ab4,#527db5,#5180b6,#5184b7,#5087b9,#4f8bba,#4e8fbb,#5093bb,#5397ba,#569bb9,#599fb8,#59a0b8)"></i><i style="background:linear-gradient(#5c50a4,#5c50a4,#5c50a4,#5c50a4,#5c50a4,#5c50a4,#5c50a4,#5c50a4,#5c50a4,#5c50a4,#5c50a4,#5c50a4,#5c50a4,#5c50a4,#5c50a4,#5c50a4,#5c50a4,#5c50a4,#5c50a4,#5c50a4,#5c50a4,#5c50a4,#5c51a4,#5b53a5,#5b55a6,#5a57a7,#5a59a7,#5a5ba8,#595ea9,#5960aa,#5862ab,#5765ac,#5767ad,#566aae,#566daf,#556fb0,#5472b1,#5475b2,#5378b3,#537bb4,#527eb5,#5181b7,#5085b8,#5088b9,#4f8cbb,#4e90bc,#5194bb,#5195bb)"></i><i style="background:linear-gradient(#5c50a4,#5c50a4,#5c50a4,#5c50a4,#5c50a4,#5c50a4,#5c50a4,#5c50a4,#5c50a4,#5c50a4,#5c50a4,#5c50a4,#5c50a4,#5c50a4,#5c50a4,#5c50a4,#5c50a4,#5c50a4,#5c50a4,#5c50a4,#5c50a4,#5c50a4,#5c50a4,#5c50a4,#5c50a4,#5c52a5,#5b54a5,#5b56a6,#5a58a7,#5a5aa8,#595da9,#595ea9,#5861aa,#5863ab,#5766ac,#5768ad,#566bae,#566daf,#5571b0,#5473b1,#5476b2,#5379b3,#527cb5,#5280b6,#5183b7,#5086b8,#4f8aba,#4f8aba)"></i><i style="background:linear-gradient(#5c50a4,#5c50a4,#5c50a4,#5c50a4,#5c50a4,#5c50a4,#5c50a4,#5c50a4,#5c50a4,#5c50a4,#5c50a4,#5c50a4,#5c50a4,#5c50a4,#5c50a4,#5c50a4,#5c50a4,#5c50a4,#5c50a4,#5c50a4,#5c50a4,#5c50a4,#5c50a4,#5c50a4,#5c50a4,#5c50a4,#5c50a4,#5c51a4,#5b53a5,#5b54a6,#5a57a7,#5a59a7,#5a5ba8,#595da9,#5960aa,#5862ab,#5765ac,#5767ad,#566aae,#566caf,#556faf,#5572b1,#5474b2,#5377b3,#537bb4,#527db5,#5181b6,#5181b6)"></i><i style="background:linear-gradient(#5c50a4,#5c50a4,#5c50a4,#5c50a4,#5c50a4,#5c50a4,#5c50a4,#5c50a4,#5c50a4,#5c50a4,#5c50a4,#5c50a4,#5c50a4,#5c50a4,#5c50a4,#5c50a4,#5c50a4,#5c50a4,#5c50a4,#5c50a4,#5c50a4,#5c50a4,#5c50a4,#5c50a4,#5c50a4,#5c50a4,#5c50a4,#5c50a4,#5c50a4,#5c50a4,#5c51a4,#5b54a5,#5b56a6,#5a58a7,#5a5aa8,#595ca8,#595ea9,#5860aa,#5863ab,#5765ac,#5768ad,#566aae,#566daf,#5570b0,#5472b1,#5476b2,#5378b3,#5379b3)"></i><i style="background:linear-gradient(#5c50a4,#5c50a4,#5c50a4,#5c50a4,#5c50a4,#5c50a4,#5c50a4,#5c50a4,#5c50a4,#5c50a4,#5c50a4,#5c50a4,#5c50a4,#5c50a4,#5c50a4,#5c50a4,#5c50a4,#5c50a4,#5c50a4,#5c50a4,#5c50a4,#5c50a4,#5c50a4,#5c50a4,#5c50a4,#5c50a4,#5c50a4,#5c50a4,#5c50a4,#5c50a4,#5c50a4,#5c50a4,#5c50a4,#5b53a5,#5b54a6,#5b56a6,#5a59a7,#5a5ba8,#595da9,#595faa,#5862ab,#5864ac,#5766ac,#5768ad,#566cae,#556eaf,#5571b0,#5571b0)"></i><i style="background:linear-gradient(#5c50a4,#5c50a4,#5c50a4,#5c50a4,#5c50a4,#5c50a4,#5c50a4,#5c50a4,#5c50a4,#5c50a4,#5c50a4,#5c50a4,#5c50a4,#5c50a4,#5c50a4,#5c50a4,#5c50a4,#5c50a4,#5c50a4,#5c50a4,#5c50a4,#5c50a4,#5c50a4,#5c50a4,#5c50a4,#5c50a4,#5c50a4,#5c50a4,#5c50a4,#5c50a4,#5c50a4,#5c50a4,#5c50a4,#5c50a4,#5c50a4,#5c51a4,#5b53a5,#5b55a6,#5a57a7,#5a59a8,#5a5ba8,#595ea9,#5960aa,#5862ab,#5765ac,#5767ad,#566aae,#566aae)"></i><i style="background:linear-gradient(#5c50a4,#5c50a4,#5c50a4,#5c50a4,#5c50a4,#5c50a4,#5c50a4,#5c50a4,#5c50a4,#5c50a4,#5c50a4,#5c50a4,#5c50a4,#5c50a4,#5c50a4,#5c50a4,#5c50a4,#5c50a4,#5c50a4,#5c50a4,#5c50a4,#5c50a4,#5c50a4,#5c50a4,#5c50a4,#5c50a4,#5c50a4,#5c50a4,#5c50a4,#5c50a4,#5c50a4,#5c50a4,#5c50a4,#5c50a4,#5c50a4,#5c50a4,#5c50a4,#5c50a4,#5c52a5,#5b54a5,#5b56a6,#5a58a7,#5a5aa8,#595ca8,#595ea9,#5861aa,#5863ab,#5863ab)"></i><i style="background:linear-gradient(#5c50a4,#5c50a4,#5c50a4,#5c50a4,#5c50a4,#5c50a4,#5c50a4,#5c50a4,#5c50a4,#5c50a4,#5c50a4,#5c50a4,#5c50a4,#5c50a4,#5c50a4,#5c50a4,#5c50a4,#5c50a4,#5c50a4,#5c50a4,#5c50a4,#5c50a4,#5c50a4,#5c50a4,#5c50a4,#5c50a4,#5c50a4,#5c50a4,#5c50a4,#5c50a4,#5c50a4,#5c50a4,#5c50a4,#5c50a4,#5c50a4,#5c50a4,#5c50a4,#5c50a4,#5c50a4,#5c50a4,#5c51a4,#5b53a5,#5b54a6,#5b56a6,#5a59a7,#5a5ba8,#595da9,#595da9)"></i><i style="background:linear-gradient(#5c50a4,#5c50a4,#5c50a4,#5c50a4,#5c50a4,#5c50a4,#5c50a4,#5c50a4,#5c50a4,#5c50a4,#5c50a4,#5c50a4,#5c50a4,#5c50a4,#5c50a4,#5c50a4,#5c50a4,#5c50a4,#5c50a4,#5c50a4,#5c50a4,#5c50a4,#5c50a4,#5c50a4,#5c50a4,#5c50a4,#5c50a4,#5c50a4,#5c50a4,#5c50a4,#5c50a4,#5c50a4,#5c50a4,#5c50a4,#5c50a4,#5c50a4,#5c50a4,#5c50a4,#5c50a4,#5c50a4,#5c50a4,#5c50a4,#5c50a4,#5c51a4,#5b53a5,#5b55a6,#5a58a7,#5a58a7)"></i><i style="background:linear-gradient(#5c50a4,#5c50a4,#5c50a4,#5c50a4,#5c50a4,#5c50a4,#5c50a4,#5c50a4,#5c50a4,#5c50a4,#5c50a4,#5c50a4,#5c50a4,#5c50a4,#5c50a4,#5c50a4,#5c50a4,#5c50a4,#5c50a4,#5c50a4,#5c50a4,#5c50a4,#5c50a4,#5c50a4,#5c50a4,#5c50a4,#5c50a4,#5c50a4,#5c50a4,#5c50a4,#5c50a4,#5c50a4,#5c50a4,#5c50a4,#5c50a4,#5c50a4,#5c50a4,#5c50a4,#5c50a4,#5c50a4,#5c50a4,#5c50a4,#5c50a4,#5c50a4,#5c50a4,#5c50a4,#5c52a5,#5b53a5)"></i><i style="background:linear-gradient(#5c50a4,#5c50a4,#5c50a4,#5c50a4,#5c50a4,#5c50a4,#5c50a4,#5c50a4,#5c50a4,#5c50a4,#5c50a4,#5c50a4,#5c50a4,#5c50a4,#5c50a4,#5c50a4,#5c50a4,#5c50a4,#5c50a4,#5c50a4,#5c50a4,#5c50a4,#5c50a4,#5c50a4,#5c50a4,#5c50a4,#5c50a4,#5c50a4,#5c50a4,#5c50a4,#5c50a4,#5c50a4,#5c50a4,#5c50a4,#5c50a4,#5c50a4,#5c50a4,#5c50a4,#5c50a4,#5c50a4,#5c50a4,#5c50a4,#5c50a4,#5c50a4,#5c50a4,#5c50a4,#5c50a4,#5c50a4)"></i><i style="background:linear-gradient(#5c50a4,#5c50a4,#5c50a4,#5c50a4,#5c50a4,#5c50a4,#5c50a4,#5c50a4,#5c50a4,#5c50a4,#5c50a4,#5c50a4,#5c50a4,#5c50a4,#5c50a4,#5c50a4,#5c50a4,#5c50a4,#5c50a4,#5c50a4,#5c50a4,#5c50a4,#5c50a4,#5c50a4,#5c50a4,#5c50a4,#5c50a4,#5c50a4,#5c50a4,#5c50a4,#5c50a4,#5c50a4,#5c50a4,#5c50a4,#5c50a4,#5c50a4,#5c50a4,#5c50a4,#5c50a4,#5c50a4,#5c50a4,#5c50a4,#5c50a4,#5c50a4,#5c50a4,#5c50a4,#5c50a4,#5c50a4)"></i><i style="background:linear-gradient(#5c50a4,#5c50a4,#5c50a4,#5c50a4,#5c50a4,#5c50a4,#5c50a4,#5c50a4,#5c50a4,#5c50a4,#5c50a4,#5c50a4,#5c50a4,#5c50a4,#5c50a4,#5c50a4,#5c50a4,#5c50a4,#5c50a4,#5c50a4,#5c50a4,#5c50a4,#5c50a4,#5c50a4,#5c50a4,#5c50a4,#5c50a4,#5c50a4,#5c50a4,#5c50a4,#5c50a4,#5c50a4,#5c50a4,#5c50a4,#5c50a4,#5c50a4,#5c50a4,#5c50a4,#5c50a4,#5c50a4,#5c50a4,#5c50a4,#5c50a4,#5c50a4,#5c50a4,#5c50a4,#5c50a4,#5c50a4)"></i><i style="background:linear-gradient(#5c50a4,#5c50a4,#5c50a4,#5c50a4,#5c50a4,#5c50a4,#5c50a4,#5c50a4,#5c50a4,#5c50a4,#5c50a4,#5c50a4,#5c50a4,#5c50a4,#5c50a4,#5c50a4,#5c50a4,#5c50a4,#5c50a4,#5c50a4,#5c50a4,#5c50a4,#5c50a4,#5c50a4,#5c50a4,#5c50a4,#5c50a4,#5c50a4,#5c50a4,#5c50a4,#5c50a4,#5c50a4,#5c50a4,#5c50a4,#5c50a4,#5c50a4,#5c50a4,#5c50a4,#5c50a4,#5c50a4,#5c50a4,#5c50a4,#5c50a4,#5c50a4,#5c50a4,#5c50a4,#5c50a4,#5c50a4)"></i><i style="background:linear-gradient(#5c50a4,#5c50a4,#5c50a4,#5c50a4,#5c50a4,#5c50a4,#5c50a4,#5c50a4,#5c50a4,#5c50a4,#5c50a4,#5c50a4,#5c50a4,#5c50a4,#5c50a4,#5c50a4,#5c50a4,#5c50a4,#5c50a4,#5c50a4,#5c50a4,#5c50a4,#5c50a4,#5c50a4,#5c50a4,#5c50a4,#5c50a4,#5c50a4,#5c50a4,#5c50a4,#5c50a4,#5c50a4,#5c50a4,#5c50a4,#5c50a4,#5c50a4,#5c50a4,#5c50a4,#5c50a4,#5c50a4,#5c50a4,#5c50a4,#5c50a4,#5c50a4,#5c50a4,#5c50a4,#5c50a4,#5c50a4)"></i><i style="background:linear-gradient(#5c50a4,#5c50a4,#5c50a4,#5c50a4,#5c50a4,#5c50a4,#5c50a4,#5c50a4,#5c50a4,#5c50a4,#5c50a4,#5c50a4,#5c50a4,#5c50a4,#5c50a4,#5c50a4,#5c50a4,#5c50a4,#5c50a4,#5c50a4,#5c50a4,#5c50a4,#5c50a4,#5c50a4,#5c50a4,#5c50a4,#5c50a4,#5c50a4,#5c50a4,#5c50a4,#5c50a4,#5c50a4,#5c50a4,#5c50a4,#5c50a4,#5c50a4,#5c50a4,#5c50a4,#5c50a4,#5c50a4,#5c50a4,#5c50a4,#5c50a4,#5c50a4,#5c50a4,#5c50a4,#5c50a4,#5c50a4)"></i><i style="background:linear-gradient(#5c50a4,#5c50a4,#5c50a4,#5c50a4,#5c50a4,#5c50a4,#5c50a4,#5c50a4,#5c50a4,#5c50a4,#5c50a4,#5c50a4,#5c50a4,#5c50a4,#5c50a4,#5c50a4,#5c50a4,#5c50a4,#5c50a4,#5c50a4,#5c50a4,#5c50a4,#5c50a4,#5c50a4,#5c50a4,#5c50a4,#5c50a4,#5c50a4,#5c50a4,#5c50a4,#5c50a4,#5c50a4,#5c50a4,#5c50a4,#5c50a4,#5c50a4,#5c50a4,#5c50a4,#5c50a4,#5c50a4,#5c50a4,#5c50a4,#5c50a4,#5c50a4,#5c50a4,#5c50a4,#5c50a4,#5c50a4)"></i><i style="background:linear-gradient(#5c50a4,#5c50a4,#5c50a4,#5c50a4,#5c50a4,#5c50a4,#5c50a4,#5c50a4,#5c50a4,#5c50a4,#5c50a4,#5c50a4,#5c50a4,#5c50a4,#5c50a4,#5c50a4,#5c50a4,#5c50a4,#5c50a4,#5c50a4,#5c50a4,#5c50a4,#5c50a4,#5c50a4,#5c50a4,#5c50a4,#5c50a4,#5c50a4,#5c50a4,#5c50a4,#5c50a4,#5c50a4,#5c50a4,#5c50a4,#5c50a4,#5c50a4,#5c50a4,#5c50a4,#5c50a4,#5c50a4,#5c50a4,#5c50a4,#5c50a4,#5c50a4,#5c50a4,#5c50a4,#5c50a4,#5c50a4)"></i><i style="background:linear-gradient(#5c50a4,#5c50a4,#5c50a4,#5c50a4,#5c50a4,#5c50a4,#5c50a4,#5c50a4,#5c50a4,#5c50a4,#5c50a4,#5c50a4,#5c50a4,#5c50a4,#5c50a4,#5c50a4,#5c50a4,#5c50a4,#5c50a4,#5c50a4,#5c50a4,#5c50a4,#5c50a4,#5c50a4,#5c50a4,#5c50a4,#5c50a4,#5c50a4,#5c50a4,#5c50a4,#5c50a4,#5c50a4,#5c50a4,#5c50a4,#5c50a4,#5c50a4,#5c50a4,#5c50a4,#5c50a4,#5c50a4,#5c50a4,#5c50a4,#5c50a4,#5c50a4,#5c50a4,#5c50a4,#5c50a4,#5c50a4)"></i><i style="background:linear-gradient(#5c50a4,#5c50a4,#5c50a4,#5c50a4,#5c50a4,#5c50a4,#5c50a4,#5c50a4,#5c50a4,#5c50a4,#5c50a4,#5c50a4,#5c50a4,#5c50a4,#5c50a4,#5c50a4,#5c50a4,#5c50a4,#5c50a4,#5c50a4,#5c50a4,#5c50a4,#5c50a4,#5c50a4,#5c50a4,#5c50a4,#5c50a4,#5c50a4,#5c50a4,#5c50a4,#5c50a4,#5c50a4,#5c50a4,#5c50a4,#5c50a4,#5c50a4,#5c50a4,#5c50a4,#5c50a4,#5c50a4,#5c50a4,#5c50a4,#5c50a4,#5c50a4,#5c50a4,#5c50a4,#5c50a4,#5c50a4)"></i><i style="background:linear-gradient(#5c50a4,#5c50a4,#5c50a4,#5c50a4,#5c50a4,#5c50a4,#5c50a4,#5c50a4,#5c50a4,#5c50a4,#5c50a4,#5c50a4,#5c50a4,#5c50a4,#5c50a4,#5c50a4,#5c50a4,#5c50a4,#5c50a4,#5c50a4,#5c50a4,#5c50a4,#5c50a4,#5c50a4,#5c50a4,#5c50a4,#5c50a4,#5c50a4,#5c50a4,#5c50a4,#5c50a4,#5c50a4,#5c50a4,#5c50a4,#5c50a4,#5c50a4,#5c50a4,#5c50a4,#5c50a4,#5c50a4,#5c50a4,#5c50a4,#5c50a4,#5c50a4,#5c50a4,#5c50a4,#5c50a4,#5c50a4)"></i><i style="background:linear-gradient(#5c50a4,#5c50a4,#5c50a4,#5c50a4,#5c50a4,#5c50a4,#5c50a4,#5c50a4,#5c50a4,#5c50a4,#5c50a4,#5c50a4,#5c50a4,#5c50a4,#5c50a4,#5c50a4,#5c50a4,#5c50a4,#5c50a4,#5c50a4,#5c50a4,#5c50a4,#5c50a4,#5c50a4,#5c50a4,#5c50a4,#5c50a4,#5c50a4,#5c50a4,#5c50a4,#5c50a4,#5c50a4,#5c50a4,#5c50a4,#5c50a4,#5c50a4,#5c50a4,#5c50a4,#5c50a4,#5c50a4,#5c50a4,#5c50a4,#5c50a4,#5c50a4,#5c50a4,#5c50a4,#5c50a4,#5c50a4)"></i><i style="background:linear-gradient(#5c50a4,#5c50a4,#5c50a4,#5c50a4,#5c50a4,#5c50a4,#5c50a4,#5c50a4,#5c50a4,#5c50a4,#5c50a4,#5c50a4,#5c50a4,#5c50a4,#5c50a4,#5c50a4,#5c50a4,#5c50a4,#5c50a4,#5c50a4,#5c50a4,#5c50a4,#5c50a4,#5c50a4,#5c50a4,#5c50a4,#5c50a4,#5c50a4,#5c50a4,#5c50a4,#5c50a4,#5c50a4,#5c50a4,#5c50a4,#5c50a4,#5c50a4,#5c50a4,#5c50a4,#5c50a4,#5c50a4,#5c50a4,#5c50a4,#5c50a4,#5c50a4,#5c50a4,#5c50a4,#5c50a4,#5c50a4)"></i><i style="background:linear-gradient(#5c50a4,#5c50a4,#5c50a4,#5c50a4,#5c50a4,#5c50a4,#5c50a4,#5c50a4,#5c50a4,#5c50a4,#5c50a4,#5c50a4,#5c50a4,#5c50a4,#5c50a4,#5c50a4,#5c50a4,#5c50a4,#5c50a4,#5c50a4,#5c50a4,#5c50a4,#5c50a4,#5c50a4,#5c50a4,#5c50a4,#5c50a4,#5c50a4,#5c50a4,#5c50a4,#5c50a4,#5c50a4,#5c50a4,#5c50a4,#5c50a4,#5c50a4,#5c50a4,#5c50a4,#5c50a4,#5c50a4,#5c50a4,#5c50a4,#5c50a4,#5c50a4,#5c50a4,#5c50a4,#5c50a4,#5c50a4)"></i><i style="background:linear-gradient(#5c50a4,#5c50a4,#5c50a4,#5c50a4,#5c50a4,#5c50a4,#5c50a4,#5c50a4,#5c50a4,#5c50a4,#5c50a4,#5c50a4,#5c50a4,#5c50a4,#5c50a4,#5c50a4,#5c50a4,#5c50a4,#5c50a4,#5c50a4,#5c50a4,#5c50a4,#5c50a4,#5c50a4,#5c50a4,#5c50a4,#5c50a4,#5c50a4,#5c50a4,#5c50a4,#5c50a4,#5c50a4,#5c50a4,#5c50a4,#5c50a4,#5c50a4,#5c50a4,#5c50a4,#5c50a4,#5c50a4,#5c50a4,#5c50a4,#5c50a4,#5c50a4,#5c50a4,#5c50a4,#5c50a4,#5c50a4)"></i><i style="background:linear-gradient(#5c50a4,#5c50a4,#5c50a4,#5c50a4,#5c50a4,#5c50a4,#5c50a4,#5c50a4,#5c50a4,#5c50a4,#5c50a4,#5c50a4,#5c50a4,#5c50a4,#5c50a4,#5c50a4,#5c50a4,#5c50a4,#5c50a4,#5c50a4,#5c50a4,#5c50a4,#5c50a4,#5c50a4,#5c50a4,#5c50a4,#5c50a4,#5c50a4,#5c50a4,#5c50a4,#5c50a4,#5c50a4,#5c50a4,#5c50a4,#5c50a4,#5c50a4,#5c50a4,#5c50a4,#5c50a4,#5c50a4,#5c50a4,#5c50a4,#5c50a4,#5c50a4,#5c50a4,#5c50a4,#5c50a4,#5c50a4)"></i><i style="background:linear-gradient(#5b53a5,#5c52a5,#5c51a4,#5c50a4,#5c50a4,#5c50a4,#5c50a4,#5c50a4,#5c50a4,#5c50a4,#5c50a4,#5c50a4,#5c50a4,#5c50a4,#5c50a4,#5c50a4,#5c50a4,#5c50a4,#5c50a4,#5c50a4,#5c50a4,#5c50a4,#5c50a4,#5c50a4,#5c50a4,#5c50a4,#5c50a4,#5c50a4,#5c50a4,#5c50a4,#5c50a4,#5c50a4,#5c50a4,#5c50a4,#5c50a4,#5c50a4,#5c50a4,#5c50a4,#5c50a4,#5c50a4,#5c50a4,#5c50a4,#5c50a4,#5c50a4,#5c50a4,#5c50a4,#5c50a4,#5c50a4)"></i><i style="background:linear-gradient(#5a58a7,#5a58a7,#5b56a6,#5b54a5,#5c52a5,#5c51a4,#5c50a4,#5c50a4,#5c50a4,#5c50a4,#5c50a4,#5c50a4,#5c50a4,#5c50a4,#5c50a4,#5c50a4,#5c50a4,#5c50a4,#5c50a4,#5c50a4,#5c50a4,#5c50a4,#5c50a4,#5c50a4,#5c50a4,#5c50a4,#5c50a4,#5c50a4,#5c50a4,#5c50a4,#5c50a4,#5c50a4,#5c50a4,#5c50a4,#5c50a4,#5c50a4,#5c50a4,#5c50a4,#5c50a4,#5c50a4,#5c50a4,#5c50a4,#5c50a4,#5c50a4,#5c50a4,#5c50a4,#5c50a4,#5c50a4)"></i><i style="background:linear-gradient(#595ea9,#595da9,#5a5ba8,#5a59a8,#5a58a7,#5b56a6,#5b54a5,#5c52a5,#5c51a4,#5c50a4,#5c50a4,#5c50a4,#5c50a4,#5c50a4,#5c50a4,#5c50a4,#5c50a4,#5c50a4,#5c50a4,#5c50a4,#5c50a4,#5c50a4,#5c50a4,#5c50a4,#5c50a4,#5c50a4,#5c50a4,#5c50a4,#5c50a4,#5c50a4,#5c50a4,#5c50a4,#5c50a4,#5c50a4,#5c50a4,#5c50a4,#5c50a4,#5c50a4,#5c50a4,#5c50a4,#5c50a4,#5c50a4,#5c50a4,#5c50a4,#5c50a4,#5c50a4,#5c50a4,#5c50a4)"></i><i style="background:linear-gradient(#5863ab,#5863ab,#5861aa,#595faa,#595da9,#5a5ba8,#5a59a8,#5a58a7,#5b56a6,#5b54a5,#5c52a5,#5c51a4,#5c50a4,#5c50a4,#5c50a4,#5c50a4,#5c50a4,#5c50a4,#5c50a4,#5c50a4,#5c50a4,#5c50a4,#5c50a4,#5c50a4,#5c50a4,#5c50a4,#5c50a4,#5c50a4,#5c50a4,#5c50a4,#5c50a4,#5c50a4,#5c50a4,#5c50a4,#5c50a4,#5c50a4,#5c50a4,#5c50a4,#5c50a4,#5c50a4,#5c50a4,#5c50a4,#5c50a4,#5c50a4,#5c50a4,#5c50a4,#5c50a4,#5c50a4)"></i><i style="background:linear-gradient(#566aae,#5769ad,#5767ad,#5765ac,#5863ab,#5861aa,#595faa,#595da9,#5a5ba8,#5a59a8,#5a58a7,#5b56a6,#5b54a5,#5c52a5,#5c51a4,#5c50a4,#5c50a4,#5c50a4,#5c50a4,#5c50a4,#5c50a4,#5c50a4,#5c50a4,#5c50a4,#5c50a4,#5c50a4,#5c50a4,#5c50a4,#5c50a4,#5c50a4,#5c50a4,#5c50a4,#5c50a4,#5c50a4,#5c50a4,#5c50a4,#5c50a4,#5c50a4,#5c50a4,#5c50a4,#5c50a4,#5c50a4,#5c50a4,#5c50a4,#5c50a4,#5c50a4,#5c50a4,#5c50a4)"></i><i style="background:linear-gradient(#5571b0,#5570b0,#566daf,#566cae,#5769ad,#5767ad,#5765ac,#5863ab,#5861aa,#595faa,#595da9,#5a5ba8,#5a59a8,#5a58a7,#5b56a6,#5b54a5,#5c52a5,#5c51a4,#5c50a4,#5c50a4,#5c50a4,#5c50a4,#5c50a4,#5c50a4,#5c50a4,#5c50a4,#5c50a4,#5c50a4,#5c50a4,#5c50a4,#5c50a4,#5c50a4,#5c50a4,#5c50a4,#5c50a4,#5c50a4,#5c50a4,#5c50a4,#5c50a4,#5c50a4,#5c50a4,#5c50a4,#5c50a4,#5c50a4,#5c50a4,#5c50a4,#5c50a4,#5c50a4)"></i><i style="background:linear-gradient(#5378b3,#5477b3,#5474b2,#5472b1,#5570b0,#556eaf,#566cae,#566aae,#5767ad,#5765ac,#5863ab,#5861aa,#595faa,#595da9,#5a5ba8,#5a59a8,#5a58a7,#5b56a6,#5b54a5,#5c52a5,#5c50a4,#5c50a4,#5c50a4,#5c50a4,#5c50a4,#5c50a4,#5c50a4,#5c50a4,#5c50a4,#5c50a4,#5c50a4,#5c50a4,#5c50a4,#5c50a4,#5c50a4,#5c50a4,#5c50a4,#5c50a4,#5c50a4,#5c50a4,#5c50a4,#5c50a4,#5c50a4,#5c50a4,#5c50a4,#5c50a4,#5c50a4,#5c50a4)"></i><i style="background:linear-gradient(#5280b6,#527eb5,#527cb4,#5379b3,#5377b3,#5475b2,#5472b1,#5570b0,#556eaf,#566cae,#566aae,#5767ad,#5765ac,#5863ab,#5861aa,#595faa,#595da9,#5a5ba8,#5a59a8,#5a58a7,#5b56a6,#5b54a5,#5c52a5,#5c50a4,#5c50a4,#5c50a4,#5c50a4,#5c50a4,#5c50a4,#5c50a4,#5c50a4,#5c50a4,#5c50a4,#5c50a4,#5c50a4,#5c50a4,#5c50a4,#5c50a4,#5c50a4,#5c50a4,#5c50a4,#5c50a4,#5c50a4,#5c50a4,#5c50a4,#5c50a4,#5c50a4,#5c50a4)"></i><i style="background:linear-gradient(#5088b9,#5086b8,#5184b7,#5181b7,#527fb6,#527cb5,#537ab4,#5377b3,#5475b2,#5472b1,#5571b0,#556eaf,#566cae,#566aae,#5767ad,#5765ac,#5863ab,#5861aa,#595faa,#595da9,#5a5ba8,#5a59a8,#5a58a7,#5b56a6,#5b54a5,#5c52a5,#5c50a4,#5c50a4,#5c50a4,#5c50a4,#5c50a4,#5c50a4,#5c50a4,#5c50a4,#5c50a4,#5c50a4,#5c50a4,#5c50a4,#5c50a4,#5c50a4,#5c50a4,#5c50a4,#5c50a4,#5c50a4,#5c50a4,#5c50a4,#5c50a4,#5c50a4)"></i><i style="background:linear-gradient(#4e90bc,#4e8fbc,#4f8dbb,#4f8aba,#5087b9,#5185b8,#5181b7,#527fb6,#527cb5,#537ab4,#5377b3,#5475b2,#5472b1,#5571b0,#556eaf,#566cae,#566aae,#5767ad,#5765ac,#5863ab,#5861aa,#595faa,#595da9,#5a5ba8,#5a59a7,#5a57a7,#5b55a6,#5b53a5,#5c52a5,#5c50a4,#5c50a4,#5c50a4,#5c50a4,#5c50a4,#5c50a4,#5c50a4,#5c50a4,#5c50a4,#5c50a4,#5c50a4,#5c50a4,#5c50a4,#5c50a4,#5c50a4,#5c50a4,#5c50a4,#5c50a4,#5c50a4)"></i><i style="background:linear-gradient(#5499ba,#5498ba,#5295bb,#5092bb,#4e90bc,#4f8dbb,#4f8aba,#5088b9,#5185b8,#5182b7,#5280b6,#527db5,#537bb4,#5377b3,#5476b2,#5473b1,#5571b0,#556eaf,#566cae,#566aae,#5767ad,#5765ac,#5863ab,#5861aa,#595faa,#595da9,#5a5ba8,#5a59a7,#5a57a7,#5b55a6,#5b53a5,#5c51a4,#5c50a4,#5c50a4,#5c50a4,#5c50a4,#5c50a4,#5c50a4,#5c50a4,#5c50a4,#5c50a4,#5c50a4,#5c50a4,#5c50a4,#5c50a4,#5c50a4,#5c50a4,#5c50a4)"></i><i style="background:linear-gradient(#5ba3b7,#5aa1b8,#589fb8,#569cb9,#5499ba,#5296ba,#5093bb,#4e90bc,#4f8dbb,#4f8bba,#5088b9,#5085b8,#5182b7,#5280b6,#527db5,#537bb4,#5378b3,#5476b2,#5473b1,#5571b0,#556eaf,#566cae,#566aae,#5767ad,#5765ac,#5863ab,#5861aa,#595ea9,#595da9,#5a5ba8,#5a59a7,#5a57a7,#5b55a6,#5b53a5,#5c51a4,#5c50a4,#5c50a4,#5c50a4,#5c50a4,#5c50a4,#5c50a4,#5c50a4,#5c50a4,#5c50a4,#5c50a4,#5c50a4,#5c50a4,#5c50a4)"></i><i style="background:linear-gradient(#62acb5,#61abb5,#5fa8b6,#5da6b7,#5ba3b7,#59a0b8,#579db9,#559aba,#5397ba,#5194bb,#4f91bc,#4e8ebb,#4f8bba,#5088b9,#5085b8,#5183b7,#5280b6,#527db5,#537bb4,#5378b3,#5476b2,#5473b1,#5571b0,#556eaf,#566cae,#5769ad,#5767ad,#5765ac,#5863ab,#5860aa,#595ea9,#595da9,#5a5aa8,#5a58a7,#5b56a6,#5b54a6,#5b53a5,#5c51a4,#5c50a4,#5c50a4,#5c50a4,#5c50a4,#5c50a4,#5c50a4,#5c50a4,#5c50a4,#5c50a4,#5c50a4)"></i><i style="background:linear-gradient(#68b5b3,#68b5b3,#66b2b3,#64b0b4,#62adb5,#60aab5,#5ea7b6,#5ca4b7,#5aa1b8,#589eb9,#559ab9,#5397ba,#5194bb,#4f92bc,#4e8fbb,#4f8bba,#5088b9,#5086b8,#5183b7,#5180b6,#527db5,#537bb4,#5378b3,#5475b2,#5472b1,#5570b0,#556eaf,#566cae,#5769ad,#5767ac,#5765ac,#5862ab,#5860aa,#595ea9,#595ca8,#5a5aa8,#5a58a7,#5b56a6,#5b54a6,#5b53a5,#5c51a4,#5c50a4,#5c50a4,#5c50a4,#5c50a4,#5c50a4,#5c50a4,#5c50a4)"></i><i style="background:linear-gradient(#6ebdb1,#6ebdb1,#6dbcb1,#6bb9b2,#6ab7b2,#67b4b3,#66b2b4,#63aeb4,#61abb5,#5fa8b6,#5da5b7,#5ba2b8,#589fb8,#569cb9,#5498ba,#5195bb,#4f92bc,#4e8fbb,#4f8bba,#5089b9,#5086b8,#5183b7,#5180b6,#527db5,#537bb4,#5377b3,#5475b2,#5472b1,#5570b0,#566daf,#566bae,#5769ad,#5767ac,#5864ac,#5862ab,#5960aa,#595ea9,#595ca8,#5a59a8,#5a58a7,#5b56a6,#5b54a5,#5c52a5,#5c50a4,#5c50a4,#5c50a4,#5c50a4,#5c50a4)"></i><i style="background:linear-gradient(#72c4af,#72c4af,#72c3af,#71c2b0,#70c1b0,#6ebeb0,#6dbcb1,#6bb9b2,#69b7b2,#67b3b3,#65b0b4,#63adb5,#60a9b6,#5ea6b6,#5ba3b7,#599fb8,#579cb9,#5499ba,#5295bb,#5092bb,#4e8fbc,#4f8cbb,#5089b9,#5086b8,#5183b7,#5280b6,#527db5,#537bb4,#5377b3,#5475b2,#5472b1,#5570b0,#566daf,#566bae,#5768ad,#5766ac,#5864ac,#5862ab,#5960aa,#595da9,#5a5ba8,#5a59a8,#5a57a7,#5b55a6,#5b53a5,#5c51a4,#5c50a4,#5c50a4)"></i><i style="background:linear-gradient(#75c7ae,#75c7ae,#75c8ae,#75c8ae,#75c8ae,#75c7ae,#74c6af,#72c4af,#71c1b0,#6fbfb0,#6dbcb1,#6ab8b2,#68b5b3,#66b2b3,#63aeb4,#61abb5,#5fa8b6,#5ca4b7,#59a0b8,#579db9,#5499ba,#5296ba,#5092bb,#4e8fbc,#4f8cbb,#5089b9,#5086b8,#5183b7,#5280b6,#527db5,#537ab4,#5377b3,#5474b2,#5572b1,#556fb0,#566daf,#566aae,#5768ad,#5766ac,#5863ab,#5861aa,#595faa,#595da9,#5a5ba8,#5a59a7,#5b56a6,#5b54a6,#5b54a6)"></i><i style="background:linear-gradient(#75c7ae,#75c7ae,#77caae,#78cbad,#79ccad,#79cdad,#79cdad,#79ccad,#78cbad,#76c9ae,#75c7ae,#73c4af,#71c1b0,#6ebeb0,#6cbbb1,#6ab7b2,#67b3b3,#64b0b4,#62acb5,#5fa8b6,#5ca4b7,#5aa1b8,#579db9,#5499ba,#5296ba,#5092bb,#4e8fbc,#4f8cbb,#5089b9,#5085b8,#5183b7,#5280b6,#527cb5,#537ab4,#5477b3,#5474b2,#5572b1,#556faf,#566caf,#566aae,#5768ad,#5765ac,#5863ab,#5860aa,#595ea9,#595ca8,#5a5aa8,#5a5aa8)"></i><i style="background:linear-gradient(#71c2af,#72c4af,#75c7ae,#77cbad,#79cdad,#7acfac,#7cd0ac,#7dd1ac,#7dd1ac,#7dd1ac,#7cd0ac,#7bd0ac,#79cdad,#77cbad,#75c7ae,#73c4af,#70c1b0,#6ebdb1,#6ab8b2,#68b5b3,#65b1b4,#62adb5,#5fa9b6,#5da5b7,#5aa1b8,#589eb9,#559aba,#5296ba,#5092bb,#4e8fbc,#4f8bba,#5088b9,#5085b8,#5182b7,#527fb6,#527cb4,#5379b3,#5476b2,#5474b1,#5571b0,#556eaf,#566cae,#5769ad,#5767ad,#5765ac,#5862ab,#5960aa,#5960aa)"></i><i style="background:linear-gradient(#6dbcb1,#6ebdb1,#71c1b0,#74c6af,#76c9ae,#79cdad,#7bd0ac,#7dd1ac,#7fd2ac,#80d2ac,#81d3ac,#81d3ac,#81d3ac,#80d2ac,#7ed2ac,#7cd0ac,#79cead,#77cbad,#75c7ae,#71c2af,#6fbfb0,#6cbab1,#69b6b3,#66b2b4,#63adb5,#60a9b6,#5da5b7,#5aa1b8,#589eb9,#559aba,#5296ba,#5092bb,#4e8fbb,#4f8bba,#5088b9,#5185b8,#5181b7,#527eb5,#527cb4,#5379b3,#5476b2,#5473b1,#5571b0,#566daf,#566bae,#5768ad,#5767ac,#5766ac)"></i><i style="background:linear-gradient(#67b3b3,#68b5b3,#6bb9b2,#6ebdb1,#71c2af,#75c7ae,#78cbad,#7acfac,#7ed1ac,#80d2ac,#83d4ab,#85d4ab,#86d5ab,#87d5ab,#87d5ab,#86d5ab,#84d4ab,#82d3ab,#7fd2ac,#7cd1ac,#79cdad,#76c9ae,#73c4af,#70c0b0,#6dbcb1,#69b7b2,#66b2b3,#63aeb5,#60a9b6,#5da6b7,#5aa1b8,#589eb9,#5499ba,#5295bb,#4f92bc,#4e8fbb,#4f8bba,#5088b9,#5184b7,#5181b6,#527eb5,#537bb4,#5378b3,#5475b2,#5472b1,#5570b0,#566daf,#566daf)"></i><i style="background:linear-gradient(#60a9b6,#61abb5,#64b0b4,#67b4b3,#6bb9b2,#6ebeb0,#72c3af,#75c7ae,#79ccad,#7cd1ac,#80d2ac,#83d4ab,#87d5ab,#89d6ab,#8bd7ab,#8cd8ab,#8cd8ab,#8cd8ab,#8ad7ab,#88d6ab,#86d5ab,#82d3ab,#7fd2ac,#7bd0ac,#78cbad,#74c6ae,#71c1b0,#6dbcb1,#6ab7b2,#67b3b3,#63aeb4,#60a9b6,#5da5b7,#5aa1b8,#579db9,#5499ba,#5195bb,#4f92bc,#4e8ebb,#4f8aba,#5087b9,#5183b7,#5180b6,#527db5,#537ab4,#5377b3,#5474b2,#5474b1)"></i><i style="background:linear-gradient(#59a0b8,#5aa1b8,#5da6b7,#61abb5,#64afb4,#67b4b3,#6bb9b2,#6ebeb0,#72c3af,#76c9ae,#79cead,#7ed1ac,#82d3ab,#86d5ab,#8ad7ab,#8dd8ab,#8fd9aa,#91daaa,#92daaa,#92daaa,#91daaa,#8fd9aa,#8cd8ab,#89d6ab,#85d5ab,#81d3ac,#7dd1ac,#79ccad,#75c7ae,#71c2b0,#6ebdb1,#6ab8b2,#67b3b3,#63aeb5,#60a9b6,#5da5b7,#5aa1b8,#579cb9,#5499ba,#5194bb,#4e90bc,#4f8dbb,#4f8aba,#5086b8,#5183b7,#5280b6,#527cb5,#527cb4)"></i><i style="background:linear-gradient(#5397ba,#5498ba,#579cb9,#5aa1b8,#5da5b7,#60a9b6,#63aeb4,#67b3b3,#6ab8b2,#6ebeb0,#72c3af,#76c9ae,#7acfac,#7fd2ac,#83d4ab,#88d6ab,#8dd8ab,#91daaa,#94dbaa,#97ddaa,#9da,#99deaa,#98ddaa,#97ddaa,#94dbaa,#90daaa,#8cd8ab,#88d6ab,#83d4ab,#7ed2ac,#79cead,#75c8ae,#71c2af,#6ebdb1,#6ab8b2,#67b3b3,#63aeb5,#5fa9b6,#5ca4b7,#59a0b8,#569cb9,#5397ba,#5194bb,#4e90bc,#4f8cbb,#5088b9,#5085b8,#5185b8)"></i><i style="background:linear-gradient(#4f8dbb,#4e8fbc,#5093bb,#5397ba,#569bb9,#599fb8,#5ca4b7,#5fa9b6,#63aeb5,#67b3b3,#6ab8b2,#6ebdb1,#72c3af,#76c9ae,#7acfac,#7fd2ac,#85d5ab,#8ad7ab,#8fd9aa,#95dcaa,#9da,#9cdfa9,#9fe0a9,#a1e1a9,#a1e1a9,#9fe0a9,#9cdfa9,#98ddaa,#94dbaa,#8fd9aa,#8ad7ab,#85d4ab,#7fd2ac,#7aceac,#76c9ae,#71c2af,#6ebdb1,#6ab7b2,#66b2b3,#63adb5,#5fa8b6,#5ca4b7,#589fb8,#569bb9,#5397ba,#5093bb,#4e8fbb,#4e8ebb)"></i><i style="background:linear-gradient(#5085b8,#5086b8,#4f8aba,#4e8ebb,#4f92bc,#5296ba,#559aba,#589eb8,#5ba3b7,#5fa8b6,#62adb5,#66b2b4,#6ab7b2,#6ebdb1,#71c2af,#76c9ae,#7bd0ac,#80d2ac,#86d5ab,#8cd8ab,#91daaa,#98ddaa,#9ddfa9,#a2e2a9,#a6e3a9,#a8e5a9,#a9e5a9,#a8e5a9,#a6e3a9,#a2e1a9,#9ddfa9,#97ddaa,#91daaa,#8bd7ab,#86d5ab,#7fd2ac,#7acfac,#75c8ae,#71c2af,#6dbcb1,#69b7b2,#65b1b4,#62acb5,#5ea7b6,#5ba3b7,#589eb8,#559aba,#5499ba)"></i><i style="background:linear-gradient(#527db5,#527eb5,#5182b7,#5085b8,#5089b9,#4f8dbb,#4e90bc,#5195bb,#5499ba,#579db9,#5aa1b8,#5ea6b6,#61abb5,#65b0b4,#69b6b3,#6dbcb1,#71c2b0,#75c8ae,#7acfac,#80d2ac,#86d5ab,#8dd8ab,#93dbaa,#9adeaa,#a1e1a9,#a7e4a9,#ace6a8,#b1e8a8,#b2e9a7,#b2e9a7,#b0e8a8,#ace6a8,#a6e4a9,#a0e1a9,#99deaa,#93dbaa,#8cd8ab,#86d5ab,#7fd2ac,#7aceac,#75c7ae,#71c1b0,#6cbbb1,#68b5b3,#65b0b4,#61abb5,#5da6b7,#5da5b7)"></i><i style="background:linear-gradient(#5476b2,#5477b3,#537ab4,#527db5,#5181b6,#5184b7,#5088b9,#4f8bba,#4e8fbc,#5093bb,#5397ba,#569cb9,#59a0b8,#5da5b7,#60aab5,#64afb4,#68b5b3,#6cbab1,#70c1b0,#75c7ae,#7aceac,#7fd2ac,#86d5ab,#8dd8ab,#94dbaa,#9cdfaa,#a4e2a9,#abe6a8,#b2e9a7,#b8eba5,#bceca4,#bdeda4,#bbeca4,#b7eba6,#b1e9a8,#aae5a8,#a3e2a9,#9bdeaa,#93dbaa,#8cd8ab,#85d5ab,#7fd2ac,#79cdad,#74c6ae,#70c0b0,#6bbab2,#67b4b3,#67b3b3)"></i><i style="background:linear-gradient(#556faf,#5570b0,#5473b1,#5476b2,#5379b3,#527cb4,#5280b6,#5183b7,#5086b8,#4f8aba,#4e8ebb,#4f92bc,#5296ba,#559ab9,#589fb8,#5ca3b7,#5fa8b6,#63aeb5,#67b3b3,#6bb9b2,#6fbfb0,#74c6ae,#79cdad,#7fd2ac,#86d5ab,#8cd8ab,#94dbaa,#9cdfa9,#a5e3a9,#aee7a8,#b7eba6,#bfeda3,#c5f0a1,#c8f1a0,#c8f1a0,#c4f0a1,#beeda3,#b6eaa6,#ade7a8,#a4e2a9,#9bdeaa,#93dbaa,#8bd7ab,#84d4ab,#7ed1ac,#78ccad,#73c5af,#72c4af)"></i><i style="background:linear-gradient(#5768ad,#5769ad,#566caf,#556faf,#5572b1,#5474b2,#5377b3,#537bb4,#527eb5,#5181b7,#5085b8,#5088b9,#4f8cbb,#4e90bc,#5194bb,#5499ba,#579db9,#5ba2b8,#5ea7b6,#62acb5,#66b2b4,#6ab7b2,#6ebdb1,#73c4af,#78cbad,#7dd1ac,#84d4ab,#8cd8ab,#94dbaa,#9cdfa9,#a6e3a9,#b0e8a8,#baeca5,#c4f0a1,#cef39e,#d5f69c,#d7f79b,#d4f59c,#ccf29f,#c2efa2,#b8eba5,#ade7a8,#a4e2a9,#9adeaa,#91daaa,#8ad7ab,#82d3ab,#81d3ac)"></i><i style="background:linear-gradient(#5862ab,#5863ab,#5765ac,#5768ad,#566bae,#566daf,#5571b0,#5473b1,#5476b2,#5379b3,#527cb5,#5180b6,#5183b7,#5087b9,#4f8bba,#4e8fbb,#5093bb,#5397ba,#569cb9,#59a0b8,#5da5b7,#60aab5,#64b0b4,#68b5b3,#6dbcb1,#71c2af,#76c9ae,#7cd0ac,#82d3ab,#8ad7ab,#92daaa,#9bdeaa,#a5e3a9,#b0e8a8,#bbeca4,#c8f1a0,#d5f69c,#e1fa99,#e4fb9f,#e3fb9e,#def999,#d1f49d,#c4efa1,#b8eba5,#ace6a8,#a2e1a9,#98ddaa,#97ddaa)"></i><i style="background:linear-gradient(#595ca8,#595da9,#5960aa,#5862ab,#5765ac,#5767ad,#566aae,#566caf,#556fb0,#5572b1,#5475b2,#5378b3,#537bb4,#527fb6,#5182b7,#5086b8,#4f8aba,#4f8dbb,#4f91bc,#5295bb,#559aba,#589eb8,#5ca3b7,#5fa8b6,#63aeb5,#67b3b3,#6bbab2,#70c0b0,#75c7ae,#7aceac,#80d2ac,#88d6ab,#90d9aa,#9da,#a3e2a9,#aee7a8,#baeca5,#c8f1a0,#d9f79a,#e5fba1,#ecfdae,#effeb2,#e9fca9,#e2fa9b,#d2f59d,#c2efa2,#b5eaa6,#b3e9a7)"></i><i style="background:linear-gradient(#5b56a6,#5a58a7,#5a59a8,#595ca8,#595ea9,#5861aa,#5863ab,#5766ac,#5768ad,#566bae,#556eaf,#5571b0,#5474b1,#5477b3,#537ab4,#527db5,#5181b6,#5184b7,#5088b9,#4f8bba,#4e90bc,#5194bb,#5498ba,#579cb9,#5aa1b8,#5ea6b6,#61abb5,#65b1b4,#6ab7b2,#6ebdb1,#73c4af,#78ccad,#7ed2ac,#85d5ab,#8dd8ab,#96dcaa,#a0e1a9,#abe6a8,#b8eba5,#c6f0a1,#d7f79b,#e6fca3,#f2ffb9,#f2f1a4,#f3f7af,#ebfdad,#e1fa99,#def999)"></i><i style="background:linear-gradient(#5b54a6,#5b56a6,#5a58a7,#5a5aa8,#595da9,#595ea9,#5861aa,#5863ab,#5766ac,#5769ad,#566cae,#556eaf,#5571b0,#5474b2,#5377b3,#537bb4,#527eb5,#5181b6,#5185b8,#5088b9,#4f8cbb,#4e90bc,#5194bb,#5499ba,#579db9,#5ba2b8,#5ea7b6,#62adb5,#66b2b3,#6ab8b2,#6fbfb0,#74c6af,#79cdad,#7fd2ac,#87d5ab,#8ed9ab,#98ddaa,#a2e1a9,#ade7a8,#baeca5,#c9f1a0,#dcf899,#e9fca8,#f3f9b2,#f2f1a4,#f2f2a7,#ecfdad,#eafca9)"></i><i style="background:linear-gradient(#5b54a6,#5b56a6,#5a58a7,#5a5aa8,#595da9,#595ea9,#5861aa,#5863ab,#5766ac,#5769ad,#566cae,#556eaf,#5571b0,#5474b2,#5377b3,#537bb4,#527eb5,#5181b6,#5185b8,#5088b9,#4f8cbb,#4e90bc,#5194bb,#5499ba,#579db9,#5ba2b8,#5ea7b6,#62adb5,#66b2b3,#6ab8b2,#6fbfb0,#74c6af,#79cdad,#7fd2ac,#87d5ab,#8ed9ab,#98ddaa,#a2e1a9,#ade7a8,#baeca5,#c9f1a0,#dcf899,#e9fca8,#f3f9b2,#f2f1a4,#f2f2a7,#ecfdad,#eafca9)"></i><i style="background:linear-gradient(#5b54a6,#5b56a6,#5a58a7,#5a5aa8,#595da9,#595ea9,#5861aa,#5863ab,#5766ac,#5769ad,#566cae,#556eaf,#5571b0,#5474b2,#5377b3,#537bb4,#527eb5,#5181b6,#5185b8,#5088b9,#4f8cbb,#4e90bc,#5194bb,#5499ba,#579db9,#5ba2b8,#5ea7b6,#62adb5,#66b2b3,#6ab8b2,#6fbfb0,#74c6af,#79cdad,#7fd2ac,#87d5ab,#8ed9ab,#98ddaa,#a2e1a9,#ade7a8,#baeca5,#c9f1a0,#dcf899,#e9fca8,#f3f9b2,#f2f1a4,#f2f2a7,#ecfdad,#eafca9)"></i></div></div>
<div class="cb" style="left:876.0px;top:869.4px;background:linear-gradient(#5c50a4,#4e90bc,#7bd0ac,#b0e8a8,#e0fa98,#f4ffbc,#f0e088,#eca860,#eb6644,#d43c52,#a1184a)"></div>
<div class="hm" style="left:1219.3px;top:869.4px"><div class="hb"><i style="background:linear-gradient(#5c50a4,#5c50a4,#5c50a4,#5c50a4,#5c51a4,#5b54a5,#5b56a6,#5a58a7,#5a5aa8,#595da9,#595faa,#5862ab,#5864ac,#5767ac,#5769ad,#566caf,#556faf,#5572b1,#5475b2,#5378b3,#537bb4,#527eb5,#5181b7,#5085b8,#5089b9,#4f8dbb,#4f91bc,#5195bb,#5499ba,#589eb8,#5ba3b7,#5fa8b6,#63adb5,#67b3b3,#6bb9b2,#70c0b0,#75c7ae,#7aceac,#80d2ac,#88d6ab,#90d9aa,#99deaa,#a4e2a9,#b0e8a8,#bdeda4,#cdf39e,#e1fa99,#e2fb9c)"></i><i style="background:linear-gradient(#5c50a4,#5c50a4,#5c50a4,#5c50a4,#5c51a4,#5b54a5,#5b56a6,#5a58a7,#5a5aa8,#595da9,#595faa,#5862ab,#5864ac,#5767ac,#5769ad,#566caf,#556faf,#5572b1,#5475b2,#5378b3,#537bb4,#527eb5,#5181b7,#5085b8,#5089b9,#4f8dbb,#4f91bc,#5195bb,#5499ba,#589eb8,#5ba3b7,#5fa8b6,#63adb5,#67b3b3,#6bb9b2,#70c0b0,#75c7ae,#7aceac,#80d2ac,#88d6ab,#90d9aa,#99deaa,#a4e2a9,#b0e8a8,#bdeda4,#cdf39e,#e1fa99,#e2fb9c)"></i><i style="background:linear-gradient(#5c50a4,#5c50a4,#5c50a4,#5c50a4,#5c51a4,#5b54a5,#5b56a6,#5a58a7,#5a5aa8,#595da9,#595faa,#5862ab,#5864ac,#5767ac,#5769ad,#566caf,#556faf,#5572b1,#5475b2,#5378b3,#537bb4,#527eb5,#5181b7,#5085b8,#5089b9,#4f8dbb,#4f91bc,#5195bb,#5499ba,#589eb8,#5ba3b7,#5fa8b6,#63adb5,#67b3b3,#6bb9b2,#70c0b0,#75c7ae,#7aceac,#80d2ac,#88d6ab,#90d9aa,#99deaa,#a4e2a9,#b0e8a8,#bdeda4,#cdf39e,#e1fa99,#e2fb9c)"></i><i style="background:linear-gradient(#5c50a4,#5c50a4,#5c50a4,#5c50a4,#5c50a4,#5c51a4,#5b53a5,#5b55a6,#5a57a7,#5a59a8,#5a5ba8,#595ea9,#5860aa,#5863ab,#5765ac,#5768ad,#566aae,#566daf,#5570b0,#5473b1,#5476b2,#5379b3,#527cb5,#5180b6,#5183b7,#5087b9,#4f8bba,#4e8fbb,#5093bb,#5397ba,#569cb9,#5aa1b8,#5da5b7,#61abb5,#65b0b4,#69b6b3,#6dbcb1,#72c3af,#77cbad,#7dd1ac,#84d4ab,#8cd8ab,#95dcaa,#9ee0a9,#aae5a8,#b6eaa6,#c4f0a1,#c7f1a0)"></i><i style="background:linear-gradient(#5c50a4,#5c50a4,#5c50a4,#5c50a4,#5c50a4,#5c50a4,#5c50a4,#5c50a4,#5c51a4,#5b53a5,#5b56a6,#5a58a7,#5a5aa8,#595ca8,#595ea9,#5861aa,#5863ab,#5766ac,#5769ad,#566cae,#556eaf,#5571b0,#5474b2,#5377b3,#537bb4,#527eb5,#5181b6,#5185b8,#5088b9,#4f8cbb,#4e90bc,#5194bb,#5499ba,#579db9,#5ba2b8,#5ea7b6,#62adb5,#66b2b3,#6ab8b2,#6ebeb0,#73c5af,#79ccad,#7fd2ac,#86d5ab,#8ed9ab,#97ddaa,#a2e1a9,#a4e2a9)"></i><i style="background:linear-gradient(#5c50a4,#5c50a4,#5c50a4,#5c50a4,#5c50a4,#5c50a4,#5c50a4,#5c50a4,#5c50a4,#5c50a4,#5c50a4,#5c52a5,#5b54a5,#5b56a6,#5a58a7,#5a5ba8,#595da9,#595faa,#5862ab,#5864ac,#5767ad,#566aae,#566caf,#556fb0,#5572b1,#5475b2,#5378b3,#537bb4,#527fb6,#5182b7,#5086b8,#4f8aba,#4f8dbb,#4f91bc,#5295bb,#559aba,#589fb8,#5ca3b7,#5fa9b6,#63aeb5,#67b3b3,#6bbab2,#70c1b0,#75c7ae,#7acfac,#81d3ac,#89d6ab,#8ad7ab)"></i><i style="background:linear-gradient(#5c50a4,#5c50a4,#5c50a4,#5c50a4,#5c50a4,#5c50a4,#5c50a4,#5c50a4,#5c50a4,#5c50a4,#5c50a4,#5c50a4,#5c50a4,#5c51a4,#5b53a5,#5b54a6,#5a57a7,#5a59a7,#5a5ba8,#595ea9,#5860aa,#5863ab,#5765ac,#5768ad,#566aae,#566daf,#5570b0,#5473b1,#5476b2,#5379b3,#527cb5,#5280b6,#5183b7,#5087b9,#4f8bba,#4e8fbb,#5092bb,#5397ba,#569bb9,#59a0b8,#5da5b7,#60aab5,#64b0b4,#68b5b3,#6dbcb1,#71c2af,#77caae,#77cbad)"></i><i style="background:linear-gradient(#5c50a4,#5c50a4,#5c50a4,#5c50a4,#5c50a4,#5c50a4,#5c50a4,#5c50a4,#5c50a4,#5c50a4,#5c50a4,#5c50a4,#5c50a4,#5c50a4,#5c50a4,#5c50a4,#5c51a4,#5b53a5,#5b55a6,#5a58a7,#5a5aa8,#595ca8,#595ea9,#5861aa,#5863ab,#5766ac,#5768ad,#566cae,#556eaf,#5571b0,#5474b1,#5477b3,#537ab4,#527eb5,#5181b6,#5185b8,#5088b9,#4f8bba,#4e90bc,#5194bb,#5498ba,#579db9,#5aa1b8,#5ea6b6,#62acb5,#66b2b4,#6ab7b2,#6ab8b2)"></i><i style="background:linear-gradient(#5c50a4,#5c50a4,#5c50a4,#5c50a4,#5c50a4,#5c50a4,#5c50a4,#5c50a4,#5c50a4,#5c50a4,#5c50a4,#5c50a4,#5c50a4,#5c50a4,#5c50a4,#5c50a4,#5c50a4,#5c50a4,#5c50a4,#5c52a5,#5b54a5,#5b56a6,#5a58a7,#5a5ba8,#595da9,#595faa,#5862ab,#5864ac,#5767ac,#566aae,#566caf,#556faf,#5572b1,#5475b2,#5378b3,#537bb4,#527eb5,#5182b7,#5085b8,#5089b9,#4f8dbb,#4f91bc,#5195bb,#559aba,#589eb8,#5ca3b7,#5fa8b6,#5fa9b6)"></i><i style="background:linear-gradient(#5c50a4,#5c50a4,#5c50a4,#5c50a4,#5c50a4,#5c50a4,#5c50a4,#5c50a4,#5c50a4,#5c50a4,#5c50a4,#5c50a4,#5c50a4,#5c50a4,#5c50a4,#5c50a4,#5c50a4,#5c50a4,#5c50a4,#5c50a4,#5c50a4,#5c50a4,#5b53a5,#5b54a6,#5a57a7,#5a59a7,#5a5ba8,#595ea9,#5960aa,#5862ab,#5765ac,#5768ad,#566aae,#566daf,#5570b0,#5472b1,#5476b2,#5379b3,#527cb4,#5280b6,#5183b7,#5086b8,#4f8aba,#4e8ebb,#5092bb,#5397ba,#569bb9,#569cb9)"></i><i style="background:linear-gradient(#5c50a4,#5c50a4,#5c50a4,#5c50a4,#5c50a4,#5c50a4,#5c50a4,#5c50a4,#5c50a4,#5c50a4,#5c50a4,#5c50a4,#5c50a4,#5c50a4,#5c50a4,#5c50a4,#5c50a4,#5c50a4,#5c50a4,#5c50a4,#5c50a4,#5c50a4,#5c50a4,#5c50a4,#5c51a4,#5b53a5,#5b55a6,#5a58a7,#5a59a8,#595ca8,#595ea9,#5861aa,#5863ab,#5766ac,#5768ad,#566bae,#556eaf,#5571b0,#5474b1,#5477b3,#537ab4,#527db5,#5180b6,#5184b7,#5088b9,#4f8bba,#4e8fbc,#4e90bc)"></i><i style="background:linear-gradient(#5c50a4,#5c50a4,#5c50a4,#5c50a4,#5c50a4,#5c50a4,#5c50a4,#5c50a4,#5c50a4,#5c50a4,#5c50a4,#5c50a4,#5c50a4,#5c50a4,#5c50a4,#5c50a4,#5c50a4,#5c50a4,#5c50a4,#5c50a4,#5c50a4,#5c50a4,#5c50a4,#5c50a4,#5c50a4,#5c50a4,#5c50a4,#5c51a4,#5b54a5,#5b56a6,#5a58a7,#5a5aa8,#595da9,#595faa,#5862ab,#5864ac,#5767ac,#5769ad,#566cae,#556faf,#5572b1,#5474b2,#5377b3,#537bb4,#527eb5,#5181b7,#5085b8,#5086b8)"></i><i style="background:linear-gradient(#5c50a4,#5c50a4,#5c50a4,#5c50a4,#5c50a4,#5c50a4,#5c50a4,#5c50a4,#5c50a4,#5c50a4,#5c50a4,#5c50a4,#5c50a4,#5c50a4,#5c50a4,#5c50a4,#5c50a4,#5c50a4,#5c50a4,#5c50a4,#5c50a4,#5c50a4,#5c50a4,#5c50a4,#5c50a4,#5c50a4,#5c50a4,#5c50a4,#5c50a4,#5c50a4,#5c52a5,#5b54a6,#5b56a6,#5a59a7,#5a5ba8,#595da9,#5960aa,#5862ab,#5765ac,#5767ad,#566aae,#566daf,#556fb0,#5472b1,#5476b2,#5379b3,#527cb4,#527cb5)"></i><i style="background:linear-gradient(#5c50a4,#5c50a4,#5c50a4,#5c50a4,#5c50a4,#5c50a4,#5c50a4,#5c50a4,#5c50a4,#5c50a4,#5c50a4,#5c50a4,#5c50a4,#5c50a4,#5c50a4,#5c50a4,#5c50a4,#5c50a4,#5c50a4,#5c50a4,#5c50a4,#5c50a4,#5c50a4,#5c50a4,#5c50a4,#5c50a4,#5c50a4,#5c50a4,#5c50a4,#5c50a4,#5c50a4,#5c50a4,#5c51a4,#5b53a5,#5b55a6,#5a57a7,#5a59a8,#595ca8,#595ea9,#5860aa,#5863ab,#5765ac,#5768ad,#566bae,#566daf,#5571b0,#5473b1,#5474b1)"></i><i style="background:linear-gradient(#5c50a4,#5c50a4,#5c50a4,#5c50a4,#5c50a4,#5c50a4,#5c50a4,#5c50a4,#5c50a4,#5c50a4,#5c50a4,#5c50a4,#5c50a4,#5c50a4,#5c50a4,#5c50a4,#5c50a4,#5c50a4,#5c50a4,#5c50a4,#5c50a4,#5c50a4,#5c50a4,#5c50a4,#5c50a4,#5c50a4,#5c50a4,#5c50a4,#5c50a4,#5c50a4,#5c50a4,#5c50a4,#5c50a4,#5c50a4,#5c50a4,#5c51a4,#5b53a5,#5b56a6,#5a58a7,#5a5aa8,#595da9,#595faa,#5861aa,#5863ab,#5766ac,#5769ad,#566cae,#566caf)"></i><i style="background:linear-gradient(#5c50a4,#5c50a4,#5c50a4,#5c50a4,#5c50a4,#5c50a4,#5c50a4,#5c50a4,#5c50a4,#5c50a4,#5c50a4,#5c50a4,#5c50a4,#5c50a4,#5c50a4,#5c50a4,#5c50a4,#5c50a4,#5c50a4,#5c50a4,#5c50a4,#5c50a4,#5c50a4,#5c50a4,#5c50a4,#5c50a4,#5c50a4,#5c50a4,#5c50a4,#5c50a4,#5c50a4,#5c50a4,#5c50a4,#5c50a4,#5c50a4,#5c50a4,#5c50a4,#5c50a4,#5c52a5,#5b54a5,#5b56a6,#5a58a7,#5a5ba8,#595da9,#5960aa,#5862ab,#5765ac,#5765ac)"></i><i style="background:linear-gradient(#5c50a4,#5c50a4,#5c50a4,#5c50a4,#5c50a4,#5c50a4,#5c50a4,#5c50a4,#5c50a4,#5c50a4,#5c50a4,#5c50a4,#5c50a4,#5c50a4,#5c50a4,#5c50a4,#5c50a4,#5c50a4,#5c50a4,#5c50a4,#5c50a4,#5c50a4,#5c50a4,#5c50a4,#5c50a4,#5c50a4,#5c50a4,#5c50a4,#5c50a4,#5c50a4,#5c50a4,#5c50a4,#5c50a4,#5c50a4,#5c50a4,#5c50a4,#5c50a4,#5c50a4,#5c50a4,#5c50a4,#5c51a4,#5b53a5,#5b54a6,#5a57a7,#5a59a8,#5a5ba8,#595ea9,#595ea9)"></i><i style="background:linear-gradient(#5c50a4,#5c50a4,#5c50a4,#5c50a4,#5c50a4,#5c50a4,#5c50a4,#5c50a4,#5c50a4,#5c50a4,#5c50a4,#5c50a4,#5c50a4,#5c50a4,#5c50a4,#5c50a4,#5c50a4,#5c50a4,#5c50a4,#5c50a4,#5c50a4,#5c50a4,#5c50a4,#5c50a4,#5c50a4,#5c50a4,#5c50a4,#5c50a4,#5c50a4,#5c50a4,#5c50a4,#5c50a4,#5c50a4,#5c50a4,#5c50a4,#5c50a4,#5c50a4,#5c50a4,#5c50a4,#5c50a4,#5c50a4,#5c50a4,#5c50a4,#5c51a4,#5b53a5,#5b56a6,#5a58a7,#5a58a7)"></i><i style="background:linear-gradient(#5c50a4,#5c50a4,#5c50a4,#5c50a4,#5c50a4,#5c50a4,#5c50a4,#5c50a4,#5c50a4,#5c50a4,#5c50a4,#5c50a4,#5c50a4,#5c50a4,#5c50a4,#5c50a4,#5c50a4,#5c50a4,#5c50a4,#5c50a4,#5c50a4,#5c50a4,#5c50a4,#5c50a4,#5c50a4,#5c50a4,#5c50a4,#5c50a4,#5c50a4,#5c50a4,#5c50a4,#5c50a4,#5c50a4,#5c50a4,#5c50a4,#5c50a4,#5c50a4,#5c50a4,#5c50a4,#5c50a4,#5c50a4,#5c50a4,#5c50a4,#5c50a4,#5c50a4,#5c50a4,#5c52a5,#5c52a5)"></i><i style="background:linear-gradient(#5c50a4,#5c50a4,#5c50a4,#5c50a4,#5c50a4,#5c50a4,#5c50a4,#5c50a4,#5c50a4,#5c50a4,#5c50a4,#5c50a4,#5c50a4,#5c50a4,#5c50a4,#5c50a4,#5c50a4,#5c50a4,#5c50a4,#5c50a4,#5c50a4,#5c50a4,#5c50a4,#5c50a4,#5c50a4,#5c50a4,#5c50a4,#5c50a4,#5c50a4,#5c50a4,#5c50a4,#5c50a4,#5c50a4,#5c50a4,#5c50a4,#5c50a4,#5c50a4,#5c50a4,#5c50a4,#5c50a4,#5c50a4,#5c50a4,#5c50a4,#5c50a4,#5c50a4,#5c50a4,#5c50a4,#5c50a4)"></i><i style="background:linear-gradient(#5c50a4,#5c50a4,#5c50a4,#5c50a4,#5c50a4,#5c50a4,#5c50a4,#5c50a4,#5c50a4,#5c50a4,#5c50a4,#5c50a4,#5c50a4,#5c50a4,#5c50a4,#5c50a4,#5c50a4,#5c50a4,#5c50a4,#5c50a4,#5c50a4,#5c50a4,#5c50a4,#5c50a4,#5c50a4,#5c50a4,#5c50a4,#5c50a4,#5c50a4,#5c50a4,#5c50a4,#5c50a4,#5c50a4,#5c50a4,#5c50a4,#5c50a4,#5c50a4,#5c50a4,#5c50a4,#5c50a4,#5c50a4,#5c50a4,#5c50a4,#5c50a4,#5c50a4,#5c50a4,#5c50a4,#5c50a4)"></i><i style="background:linear-gradient(#5c50a4,#5c50a4,#5c50a4,#5c50a4,#5c50a4,#5c50a4,#5c50a4,#5c50a4,#5c50a4,#5c50a4,#5c50a4,#5c50a4,#5c50a4,#5c50a4,#5c50a4,#5c50a4,#5c50a4,#5c50a4,#5c50a4,#5c50a4,#5c50a4,#5c50a4,#5c50a4,#5c50a4,#5c50a4,#5c50a4,#5c50a4,#5c50a4,#5c50a4,#5c50a4,#5c50a4,#5c50a4,#5c50a4,#5c50a4,#5c50a4,#5c50a4,#5c50a4,#5c50a4,#5c50a4,#5c50a4,#5c50a4,#5c50a4,#5c50a4,#5c50a4,#5c50a4,#5c50a4,#5c50a4,#5c50a4)"></i><i style="background:linear-gradient(#5c50a4,#5c50a4,#5c50a4,#5c50a4,#5c50a4,#5c50a4,#5c50a4,#5c50a4,#5c50a4,#5c50a4,#5c50a4,#5c50a4,#5c50a4,#5c50a4,#5c50a4,#5c50a4,#5c50a4,#5c50a4,#5c50a4,#5c50a4,#5c50a4,#5c50a4,#5c50a4,#5c50a4,#5c50a4,#5c50a4,#5c50a4,#5c50a4,#5c50a4,#5c50a4,#5c50a4,#5c50a4,#5c50a4,#5c50a4,#5c50a4,#5c50a4,#5c50a4,#5c50a4,#5c50a4,#5c50a4,#5c50a4,#5c50a4,#5c50a4,#5c50a4,#5c50a4,#5c50a4,#5c50a4,#5c50a4)"></i><i style="background:linear-gradient(#5c50a4,#5c50a4,#5c50a4,#5c50a4,#5c50a4,#5c50a4,#5c50a4,#5c50a4,#5c50a4,#5c50a4,#5c50a4,#5c50a4,#5c50a4,#5c50a4,#5c50a4,#5c50a4,#5c50a4,#5c50a4,#5c50a4,#5c50a4,#5c50a4,#5c50a4,#5c50a4,#5c50a4,#5c50a4,#5c50a4,#5c50a4,#5c50a4,#5c50a4,#5c50a4,#5c50a4,#5c50a4,#5c50a4,#5c50a4,#5c50a4,#5c50a4,#5c50a4,#5c50a4,#5c50a4,#5c50a4,#5c50a4,#5c50a4,#5c50a4,#5c50a4,#5c50a4,#5c50a4,#5c50a4,#5c50a4)"></i><i style="background:linear-gradient(#5c50a4,#5c50a4,#5c50a4,#5c50a4,#5c50a4,#5c50a4,#5c50a4,#5c50a4,#5c50a4,#5c50a4,#5c50a4,#5c50a4,#5c50a4,#5c50a4,#5c50a4,#5c50a4,#5c50a4,#5c50a4,#5c50a4,#5c50a4,#5c50a4,#5c50a4,#5c50a4,#5c50a4,#5c50a4,#5c50a4,#5c50a4,#5c50a4,#5c50a4,#5c50a4,#5c50a4,#5c50a4,#5c50a4,#5c50a4,#5c50a4,#5c50a4,#5c50a4,#5c50a4,#5c50a4,#5c50a4,#5c50a4,#5c50a4,#5c50a4,#5c50a4,#5c50a4,#5c50a4,#5c50a4,#5c50a4)"></i><i style="background:linear-gradient(#5c50a4,#5c50a4,#5c50a4,#5c50a4,#5c50a4,#5c50a4,#5c50a4,#5c50a4,#5c50a4,#5c50a4,#5c50a4,#5c50a4,#5c50a4,#5c50a4,#5c50a4,#5c50a4,#5c50a4,#5c50a4,#5c50a4,#5c50a4,#5c50a4,#5c50a4,#5c50a4,#5c50a4,#5c50a4,#5c50a4,#5c50a4,#5c50a4,#5c50a4,#5c50a4,#5c50a4,#5c50a4,#5c50a4,#5c50a4,#5c50a4,#5c50a4,#5c50a4,#5c50a4,#5c50a4,#5c50a4,#5c50a4,#5c50a4,#5c50a4,#5c50a4,#5c50a4,#5c50a4,#5c50a4,#5c50a4)"></i><i style="background:linear-gradient(#5c50a4,#5c50a4,#5c50a4,#5c50a4,#5c50a4,#5c50a4,#5c50a4,#5c50a4,#5c50a4,#5c50a4,#5c50a4,#5c50a4,#5c50a4,#5c50a4,#5c50a4,#5c50a4,#5c50a4,#5c50a4,#5c50a4,#5c50a4,#5c50a4,#5c50a4,#5c50a4,#5c50a4,#5c50a4,#5c50a4,#5c50a4,#5c50a4,#5c50a4,#5c50a4,#5c50a4,#5c50a4,#5c50a4,#5c50a4,#5c50a4,#5c50a4,#5c50a4,#5c50a4,#5c50a4,#5c50a4,#5c50a4,#5c50a4,#5c50a4,#5c50a4,#5c50a4,#5c50a4,#5c50a4,#5c50a4)"></i><i style="background:linear-gradient(#5c50a4,#5c50a4,#5c50a4,#5c50a4,#5c50a4,#5c50a4,#5c50a4,#5c50a4,#5c50a4,#5c50a4,#5c50a4,#5c50a4,#5c50a4,#5c50a4,#5c50a4,#5c50a4,#5c50a4,#5c50a4,#5c50a4,#5c50a4,#5c50a4,#5c50a4,#5c50a4,#5c50a4,#5c50a4,#5c50a4,#5c50a4,#5c50a4,#5c50a4,#5c50a4,#5c50a4,#5c50a4,#5c50a4,#5c50a4,#5c50a4,#5c50a4,#5c50a4,#5c50a4,#5c50a4,#5c50a4,#5c50a4,#5c50a4,#5c50a4,#5c50a4,#5c50a4,#5c50a4,#5c50a4,#5c50a4)"></i><i style="background:linear-gradient(#5c50a4,#5c50a4,#5c50a4,#5c50a4,#5c50a4,#5c50a4,#5c50a4,#5c50a4,#5c50a4,#5c50a4,#5c50a4,#5c50a4,#5c50a4,#5c50a4,#5c50a4,#5c50a4,#5c50a4,#5c50a4,#5c50a4,#5c50a4,#5c50a4,#5c50a4,#5c50a4,#5c50a4,#5c50a4,#5c50a4,#5c50a4,#5c50a4,#5c50a4,#5c50a4,#5c50a4,#5c50a4,#5c50a4,#5c50a4,#5c50a4,#5c50a4,#5c50a4,#5c50a4,#5c50a4,#5c50a4,#5c50a4,#5c50a4,#5c50a4,#5c50a4,#5c50a4,#5c50a4,#5c50a4,#5c50a4)"></i><i style="background:linear-gradient(#5c50a4,#5c50a4,#5c50a4,#5c50a4,#5c50a4,#5c50a4,#5c50a4,#5c50a4,#5c50a4,#5c50a4,#5c50a4,#5c50a4,#5c50a4,#5c50a4,#5c50a4,#5c50a4,#5c50a4,#5c50a4,#5c50a4,#5c50a4,#5c50a4,#5c50a4,#5c50a4,#5c50a4,#5c50a4,#5c50a4,#5c50a4,#5c50a4,#5c50a4,#5c50a4,#5c50a4,#5c50a4,#5c50a4,#5c50a4,#5c50a4,#5c50a4,#5c50a4,#5c50a4,#5c50a4,#5c50a4,#5c50a4,#5c50a4,#5c50a4,#5c50a4,#5c50a4,#5c50a4,#5c50a4,#5c50a4)"></i><i style="background:linear-gradient(#5c50a4,#5c50a4,#5c50a4,#5c50a4,#5c50a4,#5c50a4,#5c50a4,#5c50a4,#5c50a4,#5c50a4,#5c50a4,#5c50a4,#5c50a4,#5c50a4,#5c50a4,#5c50a4,#5c50a4,#5c50a4,#5c50a4,#5c50a4,#5c50a4,#5c50a4,#5c50a4,#5c50a4,#5c50a4,#5c50a4,#5c50a4,#5c50a4,#5c50a4,#5c50a4,#5c50a4,#5c50a4,#5c50a4,#5c50a4,#5c50a4,#5c50a4,#5c50a4,#5c50a4,#5c50a4,#5c50a4,#5c50a4,#5c50a4,#5c50a4,#5c50a4,#5c50a4,#5c50a4,#5c50a4,#5c50a4)"></i><i style="background:linear-gradient(#5c50a4,#5c50a4,#5c50a4,#5c50a4,#5c50a4,#5c50a4,#5c50a4,#5c50a4,#5c50a4,#5c50a4,#5c50a4,#5c50a4,#5c50a4,#5c50a4,#5c50a4,#5c50a4,#5c50a4,#5c50a4,#5c50a4,#5c50a4,#5c50a4,#5c50a4,#5c50a4,#5c50a4,#5c50a4,#5c50a4,#5c50a4,#5c50a4,#5c50a4,#5c50a4,#5c50a4,#5c50a4,#5c50a4,#5c50a4,#5c50a4,#5c50a4,#5c50a4,#5c50a4,#5c50a4,#5c50a4,#5c50a4,#5c50a4,#5c50a4,#5c50a4,#5c50a4,#5c50a4,#5c50a4,#5c50a4)"></i><i style="background:linear-gradient(#5c50a4,#5c50a4,#5c50a4,#5c50a4,#5c50a4,#5c50a4,#5c50a4,#5c50a4,#5c50a4,#5c50a4,#5c50a4,#5c50a4,#5c50a4,#5c50a4,#5c50a4,#5c50a4,#5c50a4,#5c50a4,#5c50a4,#5c50a4,#5c50a4,#5c50a4,#5c50a4,#5c50a4,#5c50a4,#5c50a4,#5c50a4,#5c50a4,#5c50a4,#5c50a4,#5c50a4,#5c50a4,#5c50a4,#5c50a4,#5c50a4,#5c50a4,#5c50a4,#5c50a4,#5c50a4,#5c50a4,#5c50a4,#5c50a4,#5c50a4,#5c50a4,#5c50a4,#5c50a4,#5c50a4,#5c50a4)"></i><i style="background:linear-gradient(#5c50a4,#5c50a4,#5c50a4,#5c50a4,#5c50a4,#5c50a4,#5c50a4,#5c50a4,#5c50a4,#5c50a4,#5c50a4,#5c50a4,#5c50a4,#5c50a4,#5c50a4,#5c50a4,#5c50a4,#5c50a4,#5c50a4,#5c50a4,#5c50a4,#5c50a4,#5c50a4,#5c50a4,#5c50a4,#5c50a4,#5c50a4,#5c50a4,#5c50a4,#5c50a4,#5c50a4,#5c50a4,#5c50a4,#5c50a4,#5c50a4,#5c50a4,#5c50a4,#5c50a4,#5c50a4,#5c50a4,#5c50a4,#5c50a4,#5c50a4,#5c50a4,#5c50a4,#5c50a4,#5c50a4,#5c50a4)"></i><i style="background:linear-gradient(#5c50a4,#5c50a4,#5c50a4,#5c50a4,#5c50a4,#5c50a4,#5c50a4,#5c50a4,#5c50a4,#5c50a4,#5c50a4,#5c50a4,#5c50a4,#5c50a4,#5c50a4,#5c50a4,#5c50a4,#5c50a4,#5c50a4,#5c50a4,#5c50a4,#5c50a4,#5c50a4,#5c50a4,#5c50a4,#5c50a4,#5c50a4,#5c50a4,#5c50a4,#5c50a4,#5c50a4,#5c50a4,#5c50a4,#5c50a4,#5c50a4,#5c50a4,#5c50a4,#5c50a4,#5c50a4,#5c50a4,#5c50a4,#5c50a4,#5c50a4,#5c50a4,#5c50a4,#5c50a4,#5c50a4,#5c50a4)"></i><i style="background:linear-gradient(#5c50a4,#5c50a4,#5c50a4,#5c50a4,#5c50a4,#5c50a4,#5c50a4,#5c50a4,#5c50a4,#5c50a4,#5c50a4,#5c50a4,#5c50a4,#5c50a4,#5c50a4,#5c50a4,#5c50a4,#5c50a4,#5c50a4,#5c50a4,#5c50a4,#5c50a4,#5c50a4,#5c50a4,#5c50a4,#5c50a4,#5c50a4,#5c50a4,#5c50a4,#5c50a4,#5c50a4,#5c50a4,#5c50a4,#5c50a4,#5c50a4,#5c50a4,#5c50a4,#5c50a4,#5c50a4,#5c50a4,#5c50a4,#5c50a4,#5c50a4,#5c50a4,#5c50a4,#5c50a4,#5c50a4,#5c50a4)"></i><i style="background:linear-gradient(#5b53a5,#5c52a5,#5c50a4,#5c50a4,#5c50a4,#5c50a4,#5c50a4,#5c50a4,#5c50a4,#5c50a4,#5c50a4,#5c50a4,#5c50a4,#5c50a4,#5c50a4,#5c50a4,#5c50a4,#5c50a4,#5c50a4,#5c50a4,#5c50a4,#5c50a4,#5c50a4,#5c50a4,#5c50a4,#5c50a4,#5c50a4,#5c50a4,#5c50a4,#5c50a4,#5c50a4,#5c50a4,#5c50a4,#5c50a4,#5c50a4,#5c50a4,#5c50a4,#5c50a4,#5c50a4,#5c50a4,#5c50a4,#5c50a4,#5c50a4,#5c50a4,#5c50a4,#5c50a4,#5c50a4,#5c50a4)"></i><i style="background:linear-gradient(#5a59a7,#5a58a7,#5b56a6,#5b54a5,#5c52a5,#5c50a4,#5c50a4,#5c50a4,#5c50a4,#5c50a4,#5c50a4,#5c50a4,#5c50a4,#5c50a4,#5c50a4,#5c50a4,#5c50a4,#5c50a4,#5c50a4,#5c50a4,#5c50a4,#5c50a4,#5c50a4,#5c50a4,#5c50a4,#5c50a4,#5c50a4,#5c50a4,#5c50a4,#5c50a4,#5c50a4,#5c50a4,#5c50a4,#5c50a4,#5c50a4,#5c50a4,#5c50a4,#5c50a4,#5c50a4,#5c50a4,#5c50a4,#5c50a4,#5c50a4,#5c50a4,#5c50a4,#5c50a4,#5c50a4,#5c50a4)"></i><i style="background:linear-gradient(#595faa,#595ea9,#595ca8,#5a59a8,#5a58a7,#5b55a6,#5b53a5,#5c51a4,#5c50a4,#5c50a4,#5c50a4,#5c50a4,#5c50a4,#5c50a4,#5c50a4,#5c50a4,#5c50a4,#5c50a4,#5c50a4,#5c50a4,#5c50a4,#5c50a4,#5c50a4,#5c50a4,#5c50a4,#5c50a4,#5c50a4,#5c50a4,#5c50a4,#5c50a4,#5c50a4,#5c50a4,#5c50a4,#5c50a4,#5c50a4,#5c50a4,#5c50a4,#5c50a4,#5c50a4,#5c50a4,#5c50a4,#5c50a4,#5c50a4,#5c50a4,#5c50a4,#5c50a4,#5c50a4,#5c50a4)"></i><i style="background:linear-gradient(#5766ac,#5765ac,#5862ab,#5860aa,#595ea9,#5a5ba8,#5a59a7,#5a57a7,#5b54a6,#5b53a5,#5c51a4,#5c50a4,#5c50a4,#5c50a4,#5c50a4,#5c50a4,#5c50a4,#5c50a4,#5c50a4,#5c50a4,#5c50a4,#5c50a4,#5c50a4,#5c50a4,#5c50a4,#5c50a4,#5c50a4,#5c50a4,#5c50a4,#5c50a4,#5c50a4,#5c50a4,#5c50a4,#5c50a4,#5c50a4,#5c50a4,#5c50a4,#5c50a4,#5c50a4,#5c50a4,#5c50a4,#5c50a4,#5c50a4,#5c50a4,#5c50a4,#5c50a4,#5c50a4,#5c50a4)"></i><i style="background:linear-gradient(#566daf,#566caf,#566aae,#5767ac,#5864ac,#5862ab,#595faa,#595da9,#5a5ba8,#5a58a7,#5b56a6,#5b54a5,#5c52a5,#5c50a4,#5c50a4,#5c50a4,#5c50a4,#5c50a4,#5c50a4,#5c50a4,#5c50a4,#5c50a4,#5c50a4,#5c50a4,#5c50a4,#5c50a4,#5c50a4,#5c50a4,#5c50a4,#5c50a4,#5c50a4,#5c50a4,#5c50a4,#5c50a4,#5c50a4,#5c50a4,#5c50a4,#5c50a4,#5c50a4,#5c50a4,#5c50a4,#5c50a4,#5c50a4,#5c50a4,#5c50a4,#5c50a4,#5c50a4,#5c50a4)"></i><i style="background:linear-gradient(#5475b2,#5474b1,#5571b0,#556eaf,#566cae,#5768ad,#5766ac,#5863ab,#5861aa,#595ea9,#595da9,#5a5aa8,#5a58a7,#5b56a6,#5b54a5,#5c51a4,#5c50a4,#5c50a4,#5c50a4,#5c50a4,#5c50a4,#5c50a4,#5c50a4,#5c50a4,#5c50a4,#5c50a4,#5c50a4,#5c50a4,#5c50a4,#5c50a4,#5c50a4,#5c50a4,#5c50a4,#5c50a4,#5c50a4,#5c50a4,#5c50a4,#5c50a4,#5c50a4,#5c50a4,#5c50a4,#5c50a4,#5c50a4,#5c50a4,#5c50a4,#5c50a4,#5c50a4,#5c50a4)"></i><i style="background:linear-gradient(#527eb5,#527cb5,#5379b3,#5476b2,#5473b1,#5570b0,#566daf,#566bae,#5768ad,#5765ac,#5863ab,#5860aa,#595ea9,#595ca8,#5a59a8,#5a57a7,#5b55a6,#5b53a5,#5c51a4,#5c50a4,#5c50a4,#5c50a4,#5c50a4,#5c50a4,#5c50a4,#5c50a4,#5c50a4,#5c50a4,#5c50a4,#5c50a4,#5c50a4,#5c50a4,#5c50a4,#5c50a4,#5c50a4,#5c50a4,#5c50a4,#5c50a4,#5c50a4,#5c50a4,#5c50a4,#5c50a4,#5c50a4,#5c50a4,#5c50a4,#5c50a4,#5c50a4,#5c50a4)"></i><i style="background:linear-gradient(#5087b9,#5086b8,#5182b7,#527fb6,#537bb4,#5378b3,#5476b2,#5472b1,#556fb0,#566daf,#566aae,#5767ad,#5765ac,#5862ab,#5960aa,#595da9,#5a5ba8,#5a59a7,#5b56a6,#5b54a6,#5b53a5,#5c50a4,#5c50a4,#5c50a4,#5c50a4,#5c50a4,#5c50a4,#5c50a4,#5c50a4,#5c50a4,#5c50a4,#5c50a4,#5c50a4,#5c50a4,#5c50a4,#5c50a4,#5c50a4,#5c50a4,#5c50a4,#5c50a4,#5c50a4,#5c50a4,#5c50a4,#5c50a4,#5c50a4,#5c50a4,#5c50a4,#5c50a4)"></i><i style="background:linear-gradient(#4f92bc,#4e90bc,#4f8cbb,#5088b9,#5185b8,#5181b7,#527eb5,#537bb4,#5377b3,#5474b2,#5571b0,#556faf,#566cae,#5769ad,#5767ac,#5864ac,#5862ab,#595faa,#595da9,#5a5ba8,#5a58a7,#5b56a6,#5b54a5,#5c52a5,#5c50a4,#5c50a4,#5c50a4,#5c50a4,#5c50a4,#5c50a4,#5c50a4,#5c50a4,#5c50a4,#5c50a4,#5c50a4,#5c50a4,#5c50a4,#5c50a4,#5c50a4,#5c50a4,#5c50a4,#5c50a4,#5c50a4,#5c50a4,#5c50a4,#5c50a4,#5c50a4,#5c50a4)"></i><i style="background:linear-gradient(#589eb9,#569cb9,#5397ba,#5093bb,#4e8fbb,#4f8bba,#5087b9,#5184b7,#5180b6,#527db5,#537ab4,#5477b3,#5474b1,#5571b0,#556eaf,#566bae,#5768ad,#5766ac,#5863ab,#5861aa,#595ea9,#595ca8,#5a5aa8,#5a58a7,#5b55a6,#5b53a5,#5c51a4,#5c50a4,#5c50a4,#5c50a4,#5c50a4,#5c50a4,#5c50a4,#5c50a4,#5c50a4,#5c50a4,#5c50a4,#5c50a4,#5c50a4,#5c50a4,#5c50a4,#5c50a4,#5c50a4,#5c50a4,#5c50a4,#5c50a4,#5c50a4,#5c50a4)"></i><i style="background:linear-gradient(#61abb5,#5fa9b6,#5ca4b7,#589fb8,#559ab9,#5296ba,#4f92bc,#4e8ebb,#4f8aba,#5086b8,#5183b7,#5280b6,#527cb4,#5379b3,#5476b2,#5473b1,#5570b0,#566daf,#566aae,#5768ad,#5765ac,#5863ab,#5860aa,#595ea9,#5a5ba8,#5a59a8,#5a57a7,#5b55a6,#5b53a5,#5c51a4,#5c50a4,#5c50a4,#5c50a4,#5c50a4,#5c50a4,#5c50a4,#5c50a4,#5c50a4,#5c50a4,#5c50a4,#5c50a4,#5c50a4,#5c50a4,#5c50a4,#5c50a4,#5c50a4,#5c50a4,#5c50a4)"></i><i style="background:linear-gradient(#6cbab1,#6ab8b2,#66b2b4,#62adb5,#5ea7b6,#5ba2b8,#589eb9,#5499ba,#5195bb,#4e90bc,#4f8dbb,#5089b9,#5085b8,#5182b7,#527eb5,#537bb4,#5378b3,#5475b2,#5572b1,#556fb0,#566caf,#566aae,#5767ad,#5765ac,#5862ab,#5960aa,#595da9,#5a5ba8,#5a59a7,#5b56a6,#5b54a6,#5c52a5,#5c50a4,#5c50a4,#5c50a4,#5c50a4,#5c50a4,#5c50a4,#5c50a4,#5c50a4,#5c50a4,#5c50a4,#5c50a4,#5c50a4,#5c50a4,#5c50a4,#5c50a4,#5c50a4)"></i><i style="background:linear-gradient(#79ccad,#76c9ae,#71c2af,#6dbcb1,#69b6b3,#65b0b4,#61abb5,#5da6b7,#5aa1b8,#579cb9,#5498ba,#5194bb,#4e90bc,#4f8bba,#5088b9,#5185b8,#5181b6,#527eb5,#537ab4,#5477b3,#5474b2,#5571b0,#556eaf,#566cae,#5769ad,#5766ac,#5863ab,#5861aa,#595faa,#595da9,#5a5aa8,#5a58a7,#5b56a6,#5b54a5,#5c51a4,#5c50a4,#5c50a4,#5c50a4,#5c50a4,#5c50a4,#5c50a4,#5c50a4,#5c50a4,#5c50a4,#5c50a4,#5c50a4,#5c50a4,#5c50a4)"></i><i style="background:linear-gradient(#8bd7ab,#88d6ab,#80d2ac,#7acfac,#75c7ae,#70c1b0,#6cbab1,#68b5b3,#64afb4,#60a9b6,#5ca4b7,#599fb8,#569bb9,#5397ba,#5092bb,#4e8fbb,#4f8bba,#5087b9,#5183b7,#5180b6,#527cb5,#5379b3,#5476b2,#5473b1,#5571b0,#566daf,#566bae,#5768ad,#5765ac,#5863ab,#5860aa,#595ea9,#595ca8,#5a59a8,#5a57a7,#5b55a6,#5b53a5,#5c51a4,#5c50a4,#5c50a4,#5c50a4,#5c50a4,#5c50a4,#5c50a4,#5c50a4,#5c50a4,#5c50a4,#5c50a4)"></i><i style="background:linear-gradient(#a2e2a9,#9ee0a9,#95dcaa,#8dd8ab,#86d5ab,#7fd2ac,#79cdad,#74c6af,#6fbfb0,#6bb9b2,#67b3b3,#63adb5,#5fa8b6,#5ca3b7,#589eb8,#559aba,#5295bb,#4f92bc,#4f8dbb,#4f8aba,#5086b8,#5182b7,#527fb6,#527cb4,#5379b3,#5476b2,#5472b1,#556fb0,#566daf,#566aae,#5767ad,#5765ac,#5862ab,#5960aa,#595da9,#5a5ba8,#5a59a7,#5b56a6,#5b54a6,#5b53a5,#5c50a4,#5c50a4,#5c50a4,#5c50a4,#5c50a4,#5c50a4,#5c50a4,#5c50a4)"></i><i style="background:linear-gradient(#beeda3,#baeca5,#b0e8a8,#a6e3a9,#9cdfaa,#94dbaa,#8bd7ab,#84d4ab,#7dd1ac,#78cbad,#73c4af,#6ebdb1,#6ab7b2,#66b2b4,#62acb5,#5ea7b6,#5ba2b8,#579db9,#5499ba,#5194bb,#4e90bc,#4f8cbb,#5088b9,#5085b8,#5181b7,#527eb5,#537bb4,#5377b3,#5474b2,#5572b1,#556faf,#566caf,#5769ad,#5767ac,#5864ac,#5862ab,#595faa,#595da9,#5a5ba8,#5a58a7,#5b56a6,#5b54a5,#5c52a5,#5c50a4,#5c50a4,#5c50a4,#5c50a4,#5c50a4)"></i><i style="background:linear-gradient(#d8f79b,#d6f69b,#cdf39e,#c3efa2,#b8eba5,#ade7a8,#a4e2a9,#9adeaa,#91daaa,#8ad7ab,#82d3ab,#7cd0ac,#76c9ae,#71c2af,#6dbcb1,#69b6b3,#64b0b4,#61abb5,#5da6b7,#5aa1b8,#569cb9,#5397ba,#5093bb,#4e8fbc,#4f8bba,#5088b9,#5184b7,#5180b6,#527db5,#537ab4,#5477b3,#5474b1,#5571b0,#556eaf,#566bae,#5768ad,#5766ac,#5863ab,#5861aa,#595ea9,#595ca8,#5a5aa8,#5a58a7,#5b55a6,#5b53a5,#5c51a4,#5c50a4,#5c50a4)"></i><i style="background:linear-gradient(#d2f59d,#d6f69b,#dcf999,#ddf999,#d6f69b,#ccf39f,#c1eea2,#b6eaa6,#abe6a8,#a1e1a9,#98ddaa,#8fd9aa,#88d6ab,#80d2ac,#7acfac,#75c7ae,#70c1b0,#6cbab1,#67b4b3,#63aeb4,#60a9b6,#5ca4b7,#599fb8,#559ab9,#5296ba,#5092bb,#4e8ebb,#4f8aba,#5086b8,#5183b7,#5280b6,#527cb5,#5379b3,#5476b2,#5473b1,#5570b0,#566daf,#566aae,#5768ad,#5765ac,#5863ab,#5860aa,#595ea9,#5a5ba8,#5a59a7,#5a57a7,#5b54a6,#5b54a6)"></i><i style="background:linear-gradient(#b6eaa6,#baeca5,#c6f0a1,#d1f59d,#dbf89a,#e0fa99,#def999,#d6f69b,#cbf29f,#bfeea3,#b4e9a7,#a9e5a9,#9fe0a9,#96dcaa,#8dd8ab,#86d5ab,#7fd2ac,#79cdad,#74c6af,#6fbfb0,#6ab8b2,#67b3b3,#63adb5,#5fa8b6,#5ba3b7,#589eb8,#5499ba,#5195bb,#4f91bc,#4f8dbb,#5089b9,#5085b8,#5182b7,#527eb5,#537bb4,#5378b3,#5475b2,#5572b1,#556fb0,#566caf,#566aae,#5767ad,#5864ac,#5862ab,#5960aa,#595da9,#5a5ba8,#5a5aa8)"></i><i style="background:linear-gradient(#9adeaa,#9ee0a9,#a8e5a9,#b3e9a7,#bfeda3,#cbf29f,#d7f79b,#e1fa99,#e2fb9c,#e0fa98,#d6f69b,#c9f2a0,#bdeda4,#b2e9a7,#a7e4a9,#9ddfa9,#94dbaa,#8cd8ab,#84d4ab,#7dd1ac,#78cbad,#72c4af,#6ebdb1,#6ab7b2,#65b1b4,#61abb5,#5ea6b6,#5aa1b8,#579db9,#5498ba,#5194bb,#4e90bc,#4f8cbb,#5088b9,#5185b8,#5181b6,#527eb5,#537bb4,#5377b3,#5474b2,#5571b0,#556eaf,#566cae,#5769ad,#5766ac,#5863ab,#5861aa,#5861aa)"></i><i style="background:linear-gradient(#85d4ab,#88d6ab,#8fd9aa,#98ddaa,#a2e2a9,#ade7a8,#b8eba5,#c4f0a1,#d1f59d,#def999,#e3fb9e,#e4fb9f,#e0fa99,#d4f69c,#c7f1a0,#bbeca4,#b0e8a8,#a5e3a9,#9bdeaa,#91daaa,#8ad7ab,#82d3ab,#7cd0ac,#76c9ae,#71c2b0,#6dbcb1,#68b5b3,#64b0b4,#60aab5,#5da5b7,#59a0b8,#569bb9,#5397ba,#5093bb,#4e8fbb,#4f8bba,#5087b9,#5183b7,#5180b6,#527cb5,#5379b3,#5476b2,#5473b1,#5571b0,#566daf,#566bae,#5768ad,#5768ad)"></i><i style="background:linear-gradient(#75c7ae,#76c9ae,#7cd1ac,#83d4ab,#8ad7ab,#93dbaa,#9cdfaa,#a6e3a9,#b1e8a8,#bdeda4,#caf29f,#d8f79b,#e2fb9c,#e6fba2,#e5fba1,#e0fa99,#d3f59c,#c5f0a1,#b8eba5,#ade7a8,#a2e2a9,#98ddaa,#8fd9aa,#88d6ab,#80d2ac,#7aceac,#75c7ae,#70c0b0,#6bbab2,#67b3b3,#63aeb5,#5fa9b6,#5ca4b7,#589fb8,#559aba,#5295bb,#4f92bc,#4f8dbb,#4f8aba,#5086b8,#5183b7,#527fb6,#527cb4,#5379b3,#5476b2,#5472b1,#556fb0,#556faf)"></i><i style="background:linear-gradient(#68b5b3,#6ab8b2,#6ebeb0,#73c5af,#79ccad,#7ed2ac,#86d5ab,#8dd8ab,#96dcaa,#9fe1a9,#aae5a8,#b5eaa6,#c2efa2,#d0f49d,#dffa98,#e5fba2,#e8fca7,#e6fba2,#e0fa98,#d0f49d,#c2efa2,#b6eaa6,#aae5a8,#9fe1a9,#96dcaa,#8dd8ab,#86d5ab,#7fd2ac,#79ccad,#73c5af,#6ebeb0,#6ab8b2,#66b2b3,#62adb5,#5ea7b6,#5ba2b8,#589eb9,#5499ba,#5194bb,#4e90bc,#4f8cbb,#5088b9,#5085b8,#5181b7,#527eb5,#537bb4,#5377b3,#5477b3)"></i><i style="background:linear-gradient(#5ea6b6,#5fa9b6,#63aeb5,#67b3b3,#6bbab2,#70c1b0,#75c7ae,#7acfac,#81d3ac,#88d6ab,#90d9aa,#99deaa,#a3e2a9,#aee7a8,#baeca5,#c8f1a0,#d7f79b,#e3fb9e,#e9fca8,#eafdab,#e6fca3,#def999,#cef39e,#c0eea3,#b3e9a7,#a8e4a9,#9ddfa9,#94dbaa,#8bd7ab,#83d4ab,#7dd1ac,#77cbad,#72c3af,#6dbcb1,#69b7b2,#65b0b4,#61abb5,#5da6b7,#5aa1b8,#579cb9,#5397ba,#5194bb,#4e8fbc,#4f8bba,#5088b9,#5184b7,#5180b6,#5280b6)"></i><i style="background:linear-gradient(#559aba,#569cb9,#59a0b8,#5da5b7,#60aab5,#64b0b4,#69b6b3,#6dbcb1,#71c2af,#77caae,#7cd1ac,#83d4ab,#8bd7ab,#93dbaa,#9cdfa9,#a7e4a9,#b3e9a7,#bfeea3,#cef39e,#def999,#e7fca5,#edfdaf,#ecfdae,#e6fba2,#dbf89a,#cbf29f,#bdeda4,#b1e8a8,#a5e3a9,#9bdeaa,#91daaa,#89d6ab,#82d3ab,#7bd0ac,#75c8ae,#71c1b0,#6cbbb1,#68b5b3,#64afb4,#60a9b6,#5ca4b7,#599fb8,#559ab9,#5296ba,#5092bb,#4e8ebb,#4f8aba,#4f8aba)"></i><i style="background:linear-gradient(#4e8fbb,#4e90bc,#5194bb,#5499ba,#579db9,#5ba2b8,#5ea7b6,#62acb5,#66b2b4,#6ab8b2,#6ebeb0,#73c5af,#79ccad,#7ed2ac,#86d5ab,#8dd8ab,#96dcaa,#a0e1a9,#abe6a8,#b7eba6,#c5f0a1,#d5f69c,#e3fb9e,#ebfdad,#f1feb6,#edfdb0,#e5fba1,#d8f79b,#c8f1a0,#b9eca5,#ade7a8,#a2e2a9,#98ddaa,#8fd9aa,#87d5ab,#80d2ac,#79cead,#74c6ae,#6fbfb0,#6bb9b2,#67b3b3,#63adb5,#5fa8b6,#5ba3b7,#589eb8,#5499ba,#5195bb,#5194bb)"></i><i style="background:linear-gradient(#5184b7,#5086b8,#4f8aba,#4f8dbb,#4f91bc,#5295bb,#559aba,#589fb8,#5ca3b7,#5fa8b6,#63aeb5,#67b3b3,#6bbab2,#70c0b0,#75c7ae,#7acfac,#81d3ac,#88d6ab,#90daaa,#9adeaa,#a4e2a9,#b0e8a8,#bceca4,#cbf29f,#dcf999,#e7fca5,#f1feb6,#f4ffbc,#edfdb0,#e3fb9e,#d5f69c,#c4f0a1,#b7eaa6,#aae5a8,#9fe1a9,#96dcaa,#8dd8ab,#85d5ab,#7ed1ac,#78ccad,#73c4af,#6ebdb1,#6ab7b2,#65b1b4,#61abb5,#5ea6b6,#5aa1b8,#5aa1b8)"></i><i style="background:linear-gradient(#537bb4,#527cb5,#5280b6,#5183b7,#5087b9,#4f8bba,#4e8fbb,#5093bb,#5397ba,#569cb9,#59a0b8,#5da5b7,#60aab5,#64b0b4,#68b5b3,#6dbcb1,#71c2af,#77caae,#7cd1ac,#83d4ab,#8bd7ab,#94dbaa,#9ddfa9,#a8e4a9,#b4e9a7,#c1eea2,#d1f59d,#e2fb9c,#ecfdae,#f3fbb5,#f4fcb6,#ecfdad,#e2fa9b,#d0f49d,#c0eea3,#b3e9a7,#a7e4a9,#9cdfa9,#93dbaa,#8bd7ab,#83d4ab,#7cd0ac,#76c9ae,#71c2af,#6dbcb1,#68b5b3,#64b0b4,#63aeb4)"></i><i style="background:linear-gradient(#5472b1,#5474b1,#5477b3,#537ab4,#527eb5,#5181b6,#5185b8,#5088b9,#4f8cbb,#4e90bc,#5194bb,#5499ba,#579db9,#5ba2b8,#5ea7b6,#62acb5,#66b2b4,#6ab8b2,#6ebeb0,#73c5af,#79ccad,#7ed2ac,#86d5ab,#8ed9ab,#97ddaa,#a1e1a9,#ace6a8,#b8eba5,#c7f0a0,#d8f79b,#e6fca3,#f2ffb9,#f2f1a4,#f3fbb5,#eafdaa,#dffa98,#ccf39f,#bdeda4,#b0e8a8,#a4e3a9,#9adeaa,#90daaa,#88d6ab,#81d3ac,#7acfac,#75c7ae,#70c0b0,#6fbfb0)"></i><i style="background:linear-gradient(#566bae,#566caf,#556fb0,#5572b1,#5475b2,#5378b3,#537bb4,#527eb5,#5182b7,#5086b8,#4f8aba,#4f8dbb,#4f91bc,#5295bb,#559aba,#589eb8,#5ca3b7,#5fa8b6,#63aeb5,#67b3b3,#6bbab2,#70c0b0,#75c7ae,#7acfac,#81d3ac,#88d6ab,#90daaa,#9adeaa,#a4e3a9,#b0e8a8,#bdeda4,#cdf39e,#e0fa98,#ebfdac,#f3f6ac,#f2f1a4,#f4fdb8,#e8fca6,#daf89a,#c8f1a0,#b9eca5,#ade7a8,#a1e1a9,#97ddaa,#8ed9ab,#86d5ab,#7fd2ac,#7ed1ac)"></i><i style="background:linear-gradient(#5864ac,#5765ac,#5768ad,#566aae,#566daf,#5570b0,#5473b1,#5476b2,#5379b3,#527cb5,#5280b6,#5183b7,#5086b8,#4f8aba,#4e8fbb,#5092bb,#5397ba,#569bb9,#59a0b8,#5da5b7,#60aab5,#64b0b4,#68b5b3,#6dbcb1,#71c2af,#76c9ae,#7cd1ac,#83d4ab,#8bd7ab,#94dbaa,#9ddfa9,#a8e5a9,#b4eaa7,#c2efa2,#d3f59c,#e4fb9f,#f1feb7,#f2f1a4,#f2f1a4,#f3ffb9,#e5fba1,#d5f69c,#c4efa1,#b6eaa6,#a9e5a9,#9ee0a9,#95dcaa,#93dbaa)"></i><i style="background:linear-gradient(#595da9,#595ea9,#5861aa,#5863ab,#5766ac,#5768ad,#566bae,#556eaf,#5571b0,#5474b1,#5477b3,#537ab4,#527db5,#5181b6,#5184b7,#5088b9,#4f8bba,#4e90bc,#5194bb,#5498ba,#579db9,#5aa1b8,#5ea6b6,#62acb5,#66b2b4,#6ab7b2,#6ebdb1,#73c4af,#78ccad,#7ed2ac,#86d5ab,#8dd8ab,#97ddaa,#a1e1a9,#ace6a8,#b8eba5,#c8f1a0,#daf89a,#e8fca7,#f3f8b1,#f2f1a4,#f2f1a4,#effeb2,#e2fb9c,#d0f49d,#c0eea3,#b2e9a7,#b0e8a8)"></i><i style="background:linear-gradient(#5a57a7,#5a58a7,#5a5ba8,#595da9,#595faa,#5862ab,#5864ac,#5767ac,#5769ad,#566caf,#556faf,#5572b1,#5475b2,#5378b3,#537bb4,#527eb5,#5182b7,#5085b8,#5089b9,#4f8dbb,#4f91bc,#5295bb,#559aba,#589eb8,#5ca3b7,#5fa8b6,#63adb5,#67b3b3,#6bb9b2,#70c0b0,#75c7ae,#7aceac,#80d2ac,#88d6ab,#90daaa,#9adeaa,#a4e3a9,#b0e8a8,#bdeda4,#cdf39e,#e1fa99,#edfdaf,#f2f1a4,#f2f1a4,#f2f1a4,#ebfdab,#def999,#dbf89a)"></i><i style="background:linear-gradient(#5b55a6,#5b56a6,#5a58a7,#5a5ba8,#595da9,#595faa,#5862ab,#5864ac,#5767ac,#566aae,#566caf,#556faf,#5572b1,#5475b2,#5378b3,#537bb4,#527eb5,#5182b7,#5086b8,#5089b9,#4f8dbb,#4f91bc,#5295bb,#559aba,#589eb8,#5ca3b7,#5fa8b6,#63aeb5,#67b3b3,#6bbab2,#70c0b0,#75c7ae,#7acfac,#81d3ac,#88d6ab,#90daaa,#9adeaa,#a5e3a9,#b1e8a8,#beeda3,#cef39e,#e1fa9a,#eefdb1,#f2f1a4,#f2f1a4,#f2f1a5,#eafdab,#e8fca7)"></i><i style="background:linear-gradient(#5b55a6,#5b56a6,#5a58a7,#5a5ba8,#595da9,#595faa,#5862ab,#5864ac,#5767ac,#566aae,#566caf,#556faf,#5572b1,#5475b2,#5378b3,#537bb4,#527eb5,#5182b7,#5086b8,#5089b9,#4f8dbb,#4f91bc,#5295bb,#559aba,#589eb8,#5ca3b7,#5fa8b6,#63aeb5,#67b3b3,#6bbab2,#70c0b0,#75c7ae,#7acfac,#81d3ac,#88d6ab,#90daaa,#9adeaa,#a5e3a9,#b1e8a8,#beeda3,#cef39e,#e1fa9a,#eefdb1,#f2f1a4,#f2f1a4,#f2f1a5,#eafdab,#e8fca7)"></i><i style="background:linear-gradient(#5b55a6,#5b56a6,#5a58a7,#5a5ba8,#595da9,#595faa,#5862ab,#5864ac,#5767ac,#566aae,#566caf,#556faf,#5572b1,#5475b2,#5378b3,#537bb4,#527eb5,#5182b7,#5086b8,#5089b9,#4f8dbb,#4f91bc,#5295bb,#559aba,#589eb8,#5ca3b7,#5fa8b6,#63aeb5,#67b3b3,#6bbab2,#70c0b0,#75c7ae,#7acfac,#81d3ac,#88d6ab,#90daaa,#9adeaa,#a5e3a9,#b1e8a8,#beeda3,#cef39e,#e1fa9a,#eefdb1,#f2f1a4,#f2f1a4,#f2f1a5,#eafdab,#e8fca7)"></i></div></div>
<div class="cb" style="left:1435.2px;top:869.4px;background:linear-gradient(#5c50a4,#4e90bc,#7bd0ac,#b0e8a8,#e0fa98,#f4ffbc,#f0e088,#eca860,#eb6644,#d43c52,#a1184a)"></div>
<svg width="2162" height="1584" viewBox="0 0 2162 1584"><defs><clipPath id="clip0"><rect x="101.00" y="50.40" width="203.40" height="630.00"/></clipPath><clipPath id="clip1"><rect x="660.10" y="50.40" width="203.40" height="630.00"/></clipPath><clipPath id="clip2"><rect x="1219.30" y="50.40" width="203.40" height="630.00"/></clipPath><clipPath id="clip3"><rect x="1778.40" y="50.40" width="203.40" height="630.00"/></clipPath><clipPath id="clip4"><rect x="101.00" y="869.40" width="203.40" height="630.00"/></clipPath><clipPath id="clip5"><rect x="660.10" y="869.40" width="203.40" height="630.00"/></clipPath><clipPath id="clip6"><rect x="1219.30" y="869.40" width="203.40" height="630.00"/></clipPath></defs>
<path class="cd" d="M101.0 680.4L103.3 679.3L105.5 678.2L107.8 677.2L110.0 676.1L112.3 675.0L114.6 674.0L116.8 672.9L119.1 671.9L121.3 670.8L123.6 669.8L125.9 668.8L128.1 667.8L130.4 666.8L132.6 665.9L134.9 664.9L137.2 664.0L139.4 663.1L141.7 662.2L143.9 661.4L146.2 660.5L148.5 659.7L150.7 658.9L153.0 658.1L155.2 657.4L157.5 656.7L159.8 656.0L162.0 655.4L164.3 654.8L166.5 654.2L168.8 653.6L171.1 653.1L173.3 652.6L175.6 652.1L177.8 651.7L180.1 651.3L182.4 651.0L184.6 650.7L186.9 650.4L189.1 650.1L191.4 649.9L193.7 649.8L195.9 649.6L198.2 649.5L200.4 649.5L202.7 649.5L205.0 649.5L207.2 649.5L209.5 649.6L211.7 649.8L214.0 649.9L216.3 650.1L218.5 650.4L220.8 650.7L223.0 651.0L225.3 651.3L227.6 651.7L229.8 652.1L232.1 652.6L234.3 653.1L236.6 653.6L238.9 654.2L241.1 654.8L243.4 655.4L245.6 656.0L247.9 656.7L250.2 657.4L252.4 658.1L254.7 658.9L256.9 659.7L259.2 660.5L261.5 661.4L263.7 662.2L266.0 663.1L268.2 664.0L270.5 664.9L272.8 665.9L275.0 666.8L277.3 667.8L279.5 668.8L281.8 669.8L284.1 670.8L286.3 671.9L288.6 672.9L290.8 674.0L293.1 675.0L295.4 676.1L297.6 677.2L299.9 678.2L302.1 679.3L304.4 680.4" clip-path="url(#clip0)"/>
<path class="cd" d="M101.0 680.4L103.3 679.6L105.5 678.8L107.8 678.0L110.0 677.2L112.3 676.4L114.6 675.5L116.8 674.8L119.1 674.0L121.3 673.2L123.6 672.4L125.9 671.7L128.1 670.9L130.4 670.2L132.6 669.5L134.9 668.7L137.2 668.0L139.4 667.4L141.7 666.7L143.9 666.0L146.2 665.4L148.5 664.8L150.7 664.2L153.0 663.6L155.2 663.1L157.5 662.5L159.8 662.0L162.0 661.5L164.3 661.1L166.5 660.6L168.8 660.2L171.1 659.8L173.3 659.5L175.6 659.1L177.8 658.8L180.1 658.5L182.4 658.2L184.6 658.0L186.9 657.8L189.1 657.6L191.4 657.4L193.7 657.3L195.9 657.2L198.2 657.1L200.4 657.1L202.7 657.1L205.0 657.1L207.2 657.1L209.5 657.2L211.7 657.3L214.0 657.4L216.3 657.6L218.5 657.8L220.8 658.0L223.0 658.2L225.3 658.5L227.6 658.8L229.8 659.1L232.1 659.5L234.3 659.8L236.6 660.2L238.9 660.6L241.1 661.1L243.4 661.5L245.6 662.0L247.9 662.5L250.2 663.1L252.4 663.6L254.7 664.2L256.9 664.8L259.2 665.4L261.5 666.0L263.7 666.7L266.0 667.4L268.2 668.0L270.5 668.7L272.8 669.5L275.0 670.2L277.3 670.9L279.5 671.7L281.8 672.4L284.1 673.2L286.3 674.0L288.6 674.8L290.8 675.5L293.1 676.4L295.4 677.2L297.6 678.0L299.9 678.8L302.1 679.6L304.4 680.4" clip-path="url(#clip0)"/>
<path class="cs" d="M103.3 679.4L105.5 678.4L107.7 677.5L109.9 676.5L112.1 675.5L114.3 674.6L116.5 673.6L118.7 672.7L120.9 671.7L123.2 670.8L125.4 669.9L127.6 669.0L129.8 668.1L132.0 667.2L134.2 666.4L136.4 665.5L138.6 664.7L140.8 663.9L143.0 663.1L145.2 662.3L147.5 661.6L149.7 660.9L151.9 660.1L154.1 659.5L156.3 658.8L158.5 658.2L160.7 657.6L162.9 657.0L165.1 656.5L167.3 655.9L169.6 655.4L171.8 655.0L174.0 654.5L176.2 654.1L178.4 653.8L180.6 653.4L182.8 653.1L185.0 652.8L187.2 652.6L189.4 652.4L191.7 652.2L193.9 652.0L196.1 651.9L198.3 651.8L200.5 651.8L202.7 651.8L204.9 651.8L207.1 651.8L209.3 651.9L211.5 652.0L213.8 652.2L216.0 652.4L218.2 652.6L220.4 652.8L222.6 653.1L224.8 653.4L227.0 653.8L229.2 654.1L231.4 654.5L233.6 655.0L235.8 655.4L238.1 655.9L240.3 656.5L242.5 657.0L244.7 657.6L246.9 658.2L249.1 658.8L251.3 659.5L253.5 660.1L255.7 660.9L257.9 661.6L260.1 662.3L262.4 663.1L264.6 663.9L266.8 664.7L269.0 665.5L271.2 666.4L273.4 667.2L275.6 668.1L277.8 669.0L280.0 669.9L282.2 670.8L284.5 671.7L286.7 672.7L288.9 673.6L291.1 674.6L293.3 675.5L295.5 676.5L297.7 677.5L299.9 678.4L302.1 679.4L302.1 679.5L299.9 678.7L297.7 677.8L295.5 677.0L293.3 676.1L291.1 675.3L288.9 674.4L286.7 673.6L284.5 672.8L282.2 672.0L280.0 671.2L277.8 670.4L275.6 669.6L273.4 668.8L271.2 668.1L269.0 667.3L266.8 666.6L264.6 665.9L262.4 665.2L260.1 664.5L257.9 663.9L255.7 663.2L253.5 662.6L251.3 662.0L249.1 661.5L246.9 660.9L244.7 660.4L242.5 659.9L240.3 659.4L238.1 658.9L235.8 658.5L233.6 658.1L231.4 657.7L229.2 657.4L227.0 657.0L224.8 656.7L222.6 656.5L220.4 656.2L218.2 656.0L216.0 655.8L213.8 655.6L211.5 655.5L209.3 655.4L207.1 655.3L204.9 655.3L202.7 655.3L200.5 655.3L198.3 655.3L196.1 655.4L193.9 655.5L191.7 655.6L189.4 655.8L187.2 656.0L185.0 656.2L182.8 656.5L180.6 656.7L178.4 657.0L176.2 657.4L174.0 657.7L171.8 658.1L169.6 658.5L167.3 658.9L165.1 659.4L162.9 659.9L160.7 660.4L158.5 660.9L156.3 661.5L154.1 662.0L151.9 662.6L149.7 663.2L147.5 663.9L145.2 664.5L143.0 665.2L140.8 665.9L138.6 666.6L136.4 667.3L134.2 668.1L132.0 668.8L129.8 669.6L127.6 670.4L125.4 671.2L123.2 672.0L120.9 672.8L118.7 673.6L116.5 674.4L114.3 675.3L112.1 676.1L109.9 677.0L107.7 677.8L105.5 678.7L103.3 679.5Z" clip-path="url(#clip0)"/>
<rect class="sp" x="101.00" y="50.40" width="203.40" height="630.00"/>
<rect class="sp" x="316.90" y="50.40" width="31.60" height="630.00"/>
<path class="tk" d="M101.00 680.40h-6.50M101.00 610.40h-6.50M101.00 540.40h-6.50M101.00 470.40h-6.50M101.00 400.40h-6.50M101.00 330.40h-6.50M101.00 260.40h-6.50M101.00 190.40h-6.50M101.00 120.40h-6.50M101.00 50.40h-6.50M101.00 680.40v6.50M202.70 680.40v6.50M304.40 680.40v6.50M348.50 680.40h6.50M348.50 467.15h6.50M348.50 253.89h6.50"/>
<path class="mt" d="M348.50 616.20h3.70M348.50 578.65h3.70M348.50 552.01h3.70M348.50 531.34h3.70M348.50 514.46h3.70M348.50 500.18h3.70M348.50 487.81h3.70M348.50 476.91h3.70M348.50 402.95h3.70M348.50 365.40h3.70M348.50 338.76h3.70M348.50 318.09h3.70M348.50 301.20h3.70M348.50 286.93h3.70M348.50 274.56h3.70M348.50 263.65h3.70M348.50 189.70h3.70M348.50 152.15h3.70M348.50 125.50h3.70M348.50 104.84h3.70M348.50 87.95h3.70M348.50 73.68h3.70M348.50 61.31h3.70M348.50 50.40h3.70"/>
<text class="t" text-anchor="end" transform="translate(87.4 693.9) scale(1 1.01)">0</text>
<text class="t" text-anchor="end" transform="translate(87.4 623.9) scale(1 1.01)">10</text>
<text class="t" text-anchor="end" transform="translate(87.4 553.9) scale(1 1.01)">20</text>
<text class="t" text-anchor="end" transform="translate(87.4 483.8) scale(1 1.01)">30</text>
<text class="t" text-anchor="end" transform="translate(87.4 413.8) scale(1 1.01)">40</text>
<text class="t" text-anchor="end" transform="translate(87.4 343.8) scale(1 1.01)">50</text>
<text class="t" text-anchor="end" transform="translate(87.4 273.8) scale(1 1.01)">60</text>
<text class="t" text-anchor="end" transform="translate(87.4 203.8) scale(1 1.01)">70</text>
<text class="t" text-anchor="end" transform="translate(87.4 133.8) scale(1 1.01)">80</text>
<text class="t" text-anchor="end" transform="translate(87.4 63.8) scale(1 1.01)">90</text>
<text class="t" text-anchor="middle" transform="translate(101.0 719.9) scale(1 1.01)">0</text>
<text class="t" text-anchor="middle" transform="translate(202.7 719.9) scale(1 1.01)">90</text>
<text class="t" text-anchor="middle" transform="translate(304.4 719.9) scale(1 1.01)">180</text>
<text class="t" transform="translate(362.0 692.4) scale(1 1.01)">10<tspan class="su" dy="-12.7">−1</tspan></text>
<text class="t" transform="translate(362.0 479.1) scale(1 1.01)">10<tspan class="su" dy="-12.7">0</tspan></text>
<text class="t" transform="translate(362.0 265.9) scale(1 1.01)">10<tspan class="su" dy="-12.7">1</tspan></text>
<text class="ti" text-anchor="middle" transform="translate(202.7 31.2) scale(1 1.01)">duty cycle=5%</text>
<text class="t" text-anchor="middle" transform="translate(202.1 760.1) scale(1 1.01)"><tspan class="it">α</tspan> [<tspan class="deg" dx="5.2" dy="-13.2">∘</tspan><tspan dx="5.8" dy="13.2">]</tspan></text>
<text class="t" text-anchor="middle" transform="translate(26.1 365.4) rotate(-90) scale(1 1.01)">|<tspan class="it">β</tspan>| [<tspan class="deg" dx="5.2" dy="-13.2">∘</tspan><tspan dx="5.8" dy="13.2">]</tspan></text>
<text class="t" text-anchor="middle" transform="translate(477.7 367.4) rotate(-90) scale(1 1.01)"><tspan class="it">ρ</tspan> (degrees)</text>
<path class="cd" d="M660.3 679.3L662.5 676.6L664.5 673.8L666.6 671.0L668.5 668.2L670.5 665.3L672.4 662.5L674.3 659.6L676.1 656.6L677.9 653.7L679.7 650.8L681.5 647.8L683.2 644.8L684.9 641.8L686.6 638.8L688.4 635.8L690.0 632.8L691.8 629.8L693.4 626.8L695.1 623.8L696.8 620.7L698.5 617.7L700.3 614.7L702.0 611.7L703.8 608.8L705.6 605.8L707.4 602.8L709.2 599.9L711.1 597.0L713.0 594.1L714.9 591.2L716.9 588.4L718.9 585.5L721.0 582.8L723.1 580.0L725.3 577.2L727.5 574.6L729.9 571.9L732.2 569.3L734.6 566.7L737.1 564.2L739.7 561.7L742.4 559.2L745.1 556.9L747.9 554.8L750.7 552.8L753.6 551.0L756.5 549.6L759.5 548.5L762.5 547.7L765.6 547.3L768.7 547.4L771.8 547.8L774.9 548.7L778.0 549.8L781.1 551.3L784.1 553.0L787.0 554.9L789.9 557.0L792.7 559.3L795.3 561.7L797.9 564.1L800.3 566.7L802.6 569.3L804.9 571.9L807.0 574.7L809.1 577.5L811.1 580.3L813.0 583.2L814.9 586.2L816.7 589.1L818.4 592.2L820.1 595.2L821.8 598.3L823.4 601.3L825.0 604.4L826.6 607.5L828.2 610.6L829.8 613.7L831.3 616.8L832.9 619.9L834.5 622.9L836.0 626.0L837.6 629.0L839.2 632.1L840.8 635.1L842.3 638.2L843.9 641.2L845.4 644.3L847.0 647.3L848.5 650.4L850.1 653.5L851.6 656.5L853.2 659.6L854.7 662.7L856.2 665.9L857.7 669.0L859.2 672.1L860.7 675.3L862.2 678.5" clip-path="url(#clip1)"/>
<path class="cd" d="M660.5 679.8L662.4 677.2L664.2 674.7L666.1 672.2L668.0 669.7L669.8 667.3L671.6 664.8L673.5 662.4L675.3 660.0L677.1 657.6L678.9 655.3L680.8 652.9L682.6 650.6L684.4 648.2L686.2 645.9L688.1 643.6L689.9 641.3L691.8 639.0L693.6 636.8L695.5 634.5L697.4 632.3L699.3 630.0L701.3 627.8L703.2 625.5L705.2 623.3L707.2 621.1L709.2 618.9L711.2 616.7L713.3 614.5L715.4 612.3L717.6 610.1L719.7 607.9L721.9 605.7L724.2 603.5L726.4 601.3L728.7 599.2L731.1 597.1L733.5 595.0L735.9 593.1L738.3 591.1L740.8 589.3L743.3 587.6L745.8 585.9L748.4 584.4L751.0 583.0L753.6 581.7L756.2 580.6L758.9 579.6L761.6 578.8L764.4 578.2L767.1 577.7L770.0 577.5L772.8 577.4L775.6 577.5L778.5 577.8L781.3 578.3L784.1 579.0L786.9 579.8L789.6 580.8L792.3 582.0L795.0 583.3L797.5 584.8L800.0 586.4L802.5 588.2L804.8 590.1L807.1 592.1L809.3 594.2L811.5 596.4L813.6 598.7L815.6 601.1L817.5 603.5L819.4 605.9L821.3 608.4L823.1 610.9L824.8 613.4L826.5 615.9L828.2 618.4L829.8 621.0L831.5 623.5L833.0 626.1L834.6 628.7L836.2 631.2L837.7 633.8L839.3 636.3L840.8 638.9L842.4 641.4L843.9 644.0L845.4 646.5L846.9 649.1L848.4 651.6L849.8 654.2L851.3 656.8L852.7 659.4L854.1 662.1L855.5 664.7L856.9 667.4L858.3 670.1L859.6 672.8L860.9 675.6L862.2 678.4" clip-path="url(#clip1)"/>
<path class="cs" d="M711.1 608.3L711.8 606.9L712.4 605.5L713.1 604.1L713.8 602.7L714.5 601.4L715.3 600.0L716.0 598.7L716.7 597.4L717.5 596.1L718.3 594.8L719.0 593.5L719.8 592.2L720.6 590.9L721.5 589.7L722.3 588.4L723.1 587.2L724.0 586.0L724.9 584.7L725.7 583.5L726.6 582.3L727.6 581.1L728.5 579.9L729.4 578.7L730.4 577.5L731.4 576.3L732.4 575.1L733.4 574.0L734.4 572.8L735.5 571.6L736.6 570.5L737.7 569.4L738.8 568.3L739.9 567.2L741.0 566.2L742.2 565.2L743.4 564.2L744.6 563.3L745.9 562.4L747.1 561.6L748.4 560.8L749.7 560.0L751.0 559.4L752.4 558.8L753.7 558.2L755.1 557.7L756.6 557.3L758.0 557.0L759.5 556.8L761.0 556.6L762.5 556.5L764.0 556.5L765.5 556.6L767.0 556.7L768.6 557.0L770.1 557.4L771.7 557.8L773.2 558.4L774.8 559.0L776.3 559.8L777.8 560.6L779.0 561.5L780.0 562.5L780.4 563.5L780.4 564.5L779.7 565.3L778.5 566.1L777.1 566.8L775.6 567.3L774.0 567.8L772.5 568.2L770.9 568.6L769.4 569.0L767.9 569.3L766.4 569.6L765.0 570.0L763.5 570.4L762.1 570.8L760.6 571.3L759.2 571.8L757.8 572.3L756.4 572.9L755.0 573.5L753.6 574.1L752.3 574.8L750.9 575.5L749.6 576.2L748.3 577.0L747.0 577.8L745.8 578.6L744.5 579.4L743.2 580.3L742.0 581.2L740.8 582.1L739.6 583.0L738.4 583.9L737.2 584.9L736.0 585.8L734.8 586.8L733.7 587.8L732.5 588.8L731.4 589.8L730.2 590.9L729.1 591.9L728.0 592.9L726.8 594.0L725.7 595.0L724.6 596.1L723.5 597.1L722.4 598.2L721.2 599.2L720.1 600.2L719.0 601.3L717.9 602.3L716.8 603.4L715.7 604.4L714.5 605.4L713.4 606.4L712.3 607.4L711.2 608.3Z" clip-path="url(#clip1)"/>
<path class="cs" d="M660.6 679.5L668.1 669.9" clip-path="url(#clip1)"/>
<path class="cs" d="M856.5 665.9L862.0 678.5" clip-path="url(#clip1)"/>
<ellipse cx="770.8" cy="680.4" rx="1.6" ry="1.3"/>
<rect class="sp" x="660.10" y="50.40" width="203.40" height="630.00"/>
<rect class="sp" x="876.00" y="50.40" width="31.60" height="630.00"/>
<path class="tk" d="M660.10 680.40h-6.50M660.10 610.40h-6.50M660.10 540.40h-6.50M660.10 470.40h-6.50M660.10 400.40h-6.50M660.10 330.40h-6.50M660.10 260.40h-6.50M660.10 190.40h-6.50M660.10 120.40h-6.50M660.10 50.40h-6.50M660.10 680.40v6.50M761.80 680.40v6.50M863.50 680.40v6.50M907.60 680.40h6.50M907.60 467.15h6.50M907.60 253.89h6.50"/>
<path class="mt" d="M907.60 616.20h3.70M907.60 578.65h3.70M907.60 552.01h3.70M907.60 531.34h3.70M907.60 514.46h3.70M907.60 500.18h3.70M907.60 487.81h3.70M907.60 476.91h3.70M907.60 402.95h3.70M907.60 365.40h3.70M907.60 338.76h3.70M907.60 318.09h3.70M907.60 301.20h3.70M907.60 286.93h3.70M907.60 274.56h3.70M907.60 263.65h3.70M907.60 189.70h3.70M907.60 152.15h3.70M907.60 125.50h3.70M907.60 104.84h3.70M907.60 87.95h3.70M907.60 73.68h3.70M907.60 61.31h3.70M907.60 50.40h3.70"/>
<text class="t" text-anchor="end" transform="translate(646.5 693.9) scale(1 1.01)">0</text>
<text class="t" text-anchor="end" transform="translate(646.5 623.9) scale(1 1.01)">10</text>
<text class="t" text-anchor="end" transform="translate(646.5 553.9) scale(1 1.01)">20</text>
<text class="t" text-anchor="end" transform="translate(646.5 483.8) scale(1 1.01)">30</text>
<text class="t" text-anchor="end" transform="translate(646.5 413.8) scale(1 1.01)">40</text>
<text class="t" text-anchor="end" transform="translate(646.5 343.8) scale(1 1.01)">50</text>
<text class="t" text-anchor="end" transform="translate(646.5 273.8) scale(1 1.01)">60</text>
<text class="t" text-anchor="end" transform="translate(646.5 203.8) scale(1 1.01)">70</text>
<text class="t" text-anchor="end" transform="translate(646.5 133.8) scale(1 1.01)">80</text>
<text class="t" text-anchor="end" transform="translate(646.5 63.8) scale(1 1.01)">90</text>
<text class="t" text-anchor="middle" transform="translate(660.1 719.9) scale(1 1.01)">0</text>
<text class="t" text-anchor="middle" transform="translate(761.8 719.9) scale(1 1.01)">90</text>
<text class="t" text-anchor="middle" transform="translate(863.5 719.9) scale(1 1.01)">180</text>
<text class="t" transform="translate(921.1 692.4) scale(1 1.01)">10<tspan class="su" dy="-12.7">−1</tspan></text>
<text class="t" transform="translate(921.1 479.1) scale(1 1.01)">10<tspan class="su" dy="-12.7">0</tspan></text>
<text class="t" transform="translate(921.1 265.9) scale(1 1.01)">10<tspan class="su" dy="-12.7">1</tspan></text>
<text class="ti" text-anchor="middle" transform="translate(761.8 31.2) scale(1 1.01)">duty cycle=20%</text>
<text class="t" text-anchor="middle" transform="translate(761.2 760.1) scale(1 1.01)"><tspan class="it">α</tspan> [<tspan class="deg" dx="5.2" dy="-13.2">∘</tspan><tspan dx="5.8" dy="13.2">]</tspan></text>
<text class="t" text-anchor="middle" transform="translate(585.2 365.4) rotate(-90) scale(1 1.01)">|<tspan class="it">β</tspan>| [<tspan class="deg" dx="5.2" dy="-13.2">∘</tspan><tspan dx="5.8" dy="13.2">]</tspan></text>
<text class="t" text-anchor="middle" transform="translate(1036.8 367.4) rotate(-90) scale(1 1.01)"><tspan class="it">ρ</tspan> (degrees)</text>
<path class="cd" d="M1266.3 569.3L1266.9 566.7L1267.5 564.1L1268.1 561.5L1268.7 558.9L1269.3 556.2L1270.0 553.6L1270.6 551.0L1271.3 548.3L1272.0 545.7L1272.7 543.0L1273.4 540.4L1274.1 537.8L1274.8 535.1L1275.5 532.5L1276.2 529.8L1277.0 527.2L1277.8 524.6L1278.5 521.9L1279.3 519.3L1280.0 516.6L1280.8 514.0L1281.6 511.4L1282.4 508.8L1283.2 506.2L1284.0 503.6L1284.8 500.9L1285.6 498.3L1286.4 495.8L1287.2 493.2L1288.0 490.6L1288.8 488.0L1289.6 485.4L1290.4 482.9L1291.2 480.3L1292.0 477.8L1292.9 475.2L1293.7 472.7L1294.6 470.1L1295.5 467.6L1296.4 465.1L1297.3 462.5L1298.3 459.9L1299.3 457.4L1300.3 454.8L1301.4 452.2L1302.5 449.6L1303.7 447.0L1304.9 444.3L1306.2 441.7L1307.5 439.2L1309.0 436.9L1310.6 434.7L1312.3 432.7L1314.3 431.1L1316.4 429.8L1318.7 428.9L1321.2 428.4L1323.7 428.6L1326.2 429.3L1328.6 430.6L1330.6 432.3L1332.4 434.4L1333.8 436.7L1334.9 439.2L1335.6 441.9L1336.1 444.7L1336.2 447.5L1336.0 450.4L1335.6 453.1L1334.9 455.8L1334.0 458.3L1332.8 460.7L1331.5 463.1L1330.0 465.3L1328.5 467.6L1326.9 469.8L1325.3 472.0L1323.7 474.2L1322.2 476.5L1320.8 478.8L1319.3 481.1L1317.9 483.5L1316.6 485.8L1315.3 488.2L1314.0 490.6L1312.7 493.1L1311.4 495.5L1310.2 497.9L1308.9 500.3L1307.6 502.8L1306.4 505.2L1305.1 507.6L1303.8 509.9L1302.5 512.3L1301.1 514.7L1299.8 517.0L1298.5 519.4L1297.1 521.8L1295.8 524.1L1294.4 526.5L1293.1 528.9L1291.8 531.2L1290.5 533.6L1289.2 536.0L1287.9 538.5L1286.7 540.9L1285.4 543.4L1284.2 545.8L1282.9 548.3L1281.7 550.7L1280.3 553.1L1279.0 555.5L1277.5 557.8L1276.0 560.0L1274.5 562.1L1272.8 564.2L1270.9 566.2L1269.0 568.0L1266.9 569.7Z" clip-path="url(#clip2)"/>
<path class="cs" d="M1283.5 530.1L1283.4 528.1L1283.4 526.1L1283.4 524.0L1283.5 522.0L1283.7 520.0L1284.0 518.0L1284.3 516.1L1284.7 514.1L1285.2 512.1L1285.7 510.1L1286.2 508.2L1286.8 506.2L1287.4 504.3L1288.0 502.4L1288.7 500.4L1289.4 498.5L1290.1 496.6L1290.8 494.6L1291.5 492.7L1292.2 490.8L1292.9 488.8L1293.6 486.9L1294.3 485.0L1294.9 483.0L1295.6 481.1L1296.3 479.2L1297.0 477.3L1297.8 475.4L1298.5 473.5L1299.4 471.7L1300.3 469.9L1301.3 468.1L1302.4 466.4L1303.6 464.7L1305.0 463.1L1306.4 461.6L1308.0 460.1L1309.6 458.9L1311.2 458.5L1312.7 459.1L1313.7 460.7L1314.2 462.8L1314.4 465.1L1314.2 467.2L1313.8 469.3L1313.2 471.2L1312.6 473.1L1312.1 475.1L1311.5 477.1L1311.0 479.1L1310.5 481.0L1310.0 483.0L1309.3 485.0L1308.7 486.9L1308.0 488.8L1307.2 490.6L1306.5 492.5L1305.7 494.3L1304.8 496.2L1304.0 498.0L1303.2 499.9L1302.3 501.7L1301.5 503.6L1300.6 505.4L1299.8 507.3L1298.9 509.2L1298.1 511.1L1297.2 513.0L1296.3 514.9L1295.4 516.7L1294.4 518.5L1293.3 520.3L1292.3 522.0L1291.1 523.6L1289.9 525.1L1288.6 526.6L1287.2 528.0L1285.7 529.3L1284.1 530.5Z" clip-path="url(#clip2)"/>
<ellipse cx="1335.7" cy="680.4" rx="1.6" ry="1.3"/>
<rect class="sp" x="1219.30" y="50.40" width="203.40" height="630.00"/>
<rect class="sp" x="1435.20" y="50.40" width="31.60" height="630.00"/>
<path class="tk" d="M1219.30 680.40h-6.50M1219.30 610.40h-6.50M1219.30 540.40h-6.50M1219.30 470.40h-6.50M1219.30 400.40h-6.50M1219.30 330.40h-6.50M1219.30 260.40h-6.50M1219.30 190.40h-6.50M1219.30 120.40h-6.50M1219.30 50.40h-6.50M1219.30 680.40v6.50M1321.00 680.40v6.50M1422.70 680.40v6.50M1466.80 680.40h6.50M1466.80 467.15h6.50M1466.80 253.89h6.50"/>
<path class="mt" d="M1466.80 616.20h3.70M1466.80 578.65h3.70M1466.80 552.01h3.70M1466.80 531.34h3.70M1466.80 514.46h3.70M1466.80 500.18h3.70M1466.80 487.81h3.70M1466.80 476.91h3.70M1466.80 402.95h3.70M1466.80 365.40h3.70M1466.80 338.76h3.70M1466.80 318.09h3.70M1466.80 301.20h3.70M1466.80 286.93h3.70M1466.80 274.56h3.70M1466.80 263.65h3.70M1466.80 189.70h3.70M1466.80 152.15h3.70M1466.80 125.50h3.70M1466.80 104.84h3.70M1466.80 87.95h3.70M1466.80 73.68h3.70M1466.80 61.31h3.70M1466.80 50.40h3.70"/>
<text class="t" text-anchor="end" transform="translate(1205.7 693.9) scale(1 1.01)">0</text>
<text class="t" text-anchor="end" transform="translate(1205.7 623.9) scale(1 1.01)">10</text>
<text class="t" text-anchor="end" transform="translate(1205.7 553.9) scale(1 1.01)">20</text>
<text class="t" text-anchor="end" transform="translate(1205.7 483.8) scale(1 1.01)">30</text>
<text class="t" text-anchor="end" transform="translate(1205.7 413.8) scale(1 1.01)">40</text>
<text class="t" text-anchor="end" transform="translate(1205.7 343.8) scale(1 1.01)">50</text>
<text class="t" text-anchor="end" transform="translate(1205.7 273.8) scale(1 1.01)">60</text>
<text class="t" text-anchor="end" transform="translate(1205.7 203.8) scale(1 1.01)">70</text>
<text class="t" text-anchor="end" transform="translate(1205.7 133.8) scale(1 1.01)">80</text>
<text class="t" text-anchor="end" transform="translate(1205.7 63.8) scale(1 1.01)">90</text>
<text class="t" text-anchor="middle" transform="translate(1219.3 719.9) scale(1 1.01)">0</text>
<text class="t" text-anchor="middle" transform="translate(1321.0 719.9) scale(1 1.01)">90</text>
<text class="t" text-anchor="middle" transform="translate(1422.7 719.9) scale(1 1.01)">180</text>
<text class="t" transform="translate(1480.3 692.4) scale(1 1.01)">10<tspan class="su" dy="-12.7">−1</tspan></text>
<text class="t" transform="translate(1480.3 479.1) scale(1 1.01)">10<tspan class="su" dy="-12.7">0</tspan></text>
<text class="t" transform="translate(1480.3 265.9) scale(1 1.01)">10<tspan class="su" dy="-12.7">1</tspan></text>
<text class="ti" text-anchor="middle" transform="translate(1321.0 31.2) scale(1 1.01)">duty cycle=35%</text>
<text class="t" text-anchor="middle" transform="translate(1320.4 760.1) scale(1 1.01)"><tspan class="it">α</tspan> [<tspan class="deg" dx="5.2" dy="-13.2">∘</tspan><tspan dx="5.8" dy="13.2">]</tspan></text>
<text class="t" text-anchor="middle" transform="translate(1144.4 365.4) rotate(-90) scale(1 1.01)">|<tspan class="it">β</tspan>| [<tspan class="deg" dx="5.2" dy="-13.2">∘</tspan><tspan dx="5.8" dy="13.2">]</tspan></text>
<text class="t" text-anchor="middle" transform="translate(1596.0 367.4) rotate(-90) scale(1 1.01)"><tspan class="it">ρ</tspan> (degrees)</text>
<path class="cd" d="M1835.4 495.3L1835.3 492.1L1835.2 488.8L1835.3 485.6L1835.3 482.4L1835.4 479.1L1835.5 475.9L1835.7 472.7L1835.9 469.5L1836.1 466.3L1836.3 463.0L1836.6 459.8L1836.9 456.6L1837.2 453.4L1837.6 450.2L1837.9 447.0L1838.3 443.8L1838.7 440.6L1839.1 437.4L1839.5 434.2L1840.0 431.0L1840.4 427.8L1840.9 424.6L1841.4 421.4L1841.8 418.2L1842.3 415.0L1842.8 411.8L1843.2 408.6L1843.7 405.4L1844.2 402.1L1844.7 398.9L1845.1 395.7L1845.6 392.5L1846.0 389.3L1846.5 386.1L1846.9 382.9L1847.3 379.7L1847.7 376.5L1848.0 373.3L1848.4 370.0L1848.8 366.8L1849.1 363.6L1849.5 360.4L1849.9 357.2L1850.3 354.0L1850.7 350.8L1851.1 347.6L1851.5 344.4L1852.0 341.2L1852.5 338.0L1853.0 334.9L1853.5 331.7L1854.1 328.6L1854.8 325.4L1855.4 322.3L1856.2 319.1L1857.0 315.8L1858.0 312.3L1859.4 309.2L1861.3 307.8L1863.7 308.9L1865.2 311.6L1865.9 315.1L1866.2 318.7L1866.4 322.1L1866.5 325.3L1866.5 328.5L1866.5 331.6L1866.4 334.7L1866.4 337.8L1866.4 341.0L1866.3 344.3L1866.3 347.5L1866.3 350.8L1866.2 354.1L1866.1 357.3L1866.0 360.6L1865.8 363.9L1865.6 367.1L1865.3 370.3L1865.1 373.5L1864.8 376.8L1864.4 379.9L1864.1 383.1L1863.7 386.3L1863.3 389.5L1862.9 392.7L1862.4 395.9L1862.0 399.1L1861.6 402.2L1861.1 405.4L1860.7 408.6L1860.3 411.9L1859.8 415.1L1859.4 418.3L1859.0 421.5L1858.5 424.7L1858.0 428.0L1857.6 431.2L1857.1 434.4L1856.5 437.6L1856.0 440.8L1855.4 444.0L1854.8 447.2L1854.2 450.4L1853.5 453.5L1852.7 456.7L1851.9 459.8L1851.1 462.9L1850.2 466.0L1849.2 469.1L1848.2 472.1L1847.2 475.1L1846.0 478.1L1844.8 481.1L1843.5 484.0L1842.1 486.9L1840.7 489.8L1839.1 492.6L1837.5 495.4Z" clip-path="url(#clip3)"/>
<path class="cs" d="M1843.8 456.1L1843.5 453.8L1843.4 451.5L1843.3 449.1L1843.2 446.8L1843.2 444.4L1843.3 442.1L1843.4 439.7L1843.5 437.3L1843.7 434.9L1843.9 432.6L1844.2 430.2L1844.4 427.8L1844.7 425.4L1845.1 423.1L1845.4 420.7L1845.8 418.3L1846.2 415.9L1846.6 413.5L1847.0 411.2L1847.4 408.8L1847.8 406.4L1848.2 404.1L1848.6 401.7L1849.0 399.4L1849.4 397.1L1849.8 394.7L1850.1 392.4L1850.5 390.1L1850.8 387.8L1851.1 385.4L1851.4 383.1L1851.7 380.7L1852.0 378.3L1852.4 375.9L1852.8 373.4L1853.4 370.9L1854.1 368.5L1855.2 366.2L1856.5 364.5L1857.5 364.8L1857.9 366.9L1858.2 369.3L1858.3 371.8L1858.5 374.2L1858.5 376.6L1858.5 379.0L1858.5 381.4L1858.4 383.8L1858.3 386.2L1858.1 388.6L1857.9 391.0L1857.6 393.4L1857.3 395.7L1857.0 398.1L1856.7 400.4L1856.3 402.8L1855.9 405.2L1855.5 407.5L1855.1 409.9L1854.7 412.2L1854.3 414.6L1853.8 416.9L1853.4 419.3L1853.0 421.6L1852.6 424.0L1852.2 426.3L1851.8 428.7L1851.3 431.0L1850.9 433.4L1850.5 435.7L1850.0 438.1L1849.5 440.4L1848.9 442.7L1848.3 445.0L1847.6 447.3L1846.9 449.5L1846.1 451.8L1845.2 454.0L1844.3 456.2Z" clip-path="url(#clip3)"/>
<ellipse cx="1902.7" cy="680.4" rx="1.6" ry="1.3"/>
<rect class="sp" x="1778.40" y="50.40" width="203.40" height="630.00"/>
<rect class="sp" x="1994.30" y="50.40" width="31.60" height="630.00"/>
<path class="tk" d="M1778.40 680.40h-6.50M1778.40 610.40h-6.50M1778.40 540.40h-6.50M1778.40 470.40h-6.50M1778.40 400.40h-6.50M1778.40 330.40h-6.50M1778.40 260.40h-6.50M1778.40 190.40h-6.50M1778.40 120.40h-6.50M1778.40 50.40h-6.50M1778.40 680.40v6.50M1880.10 680.40v6.50M1981.80 680.40v6.50M2025.90 680.40h6.50M2025.90 467.15h6.50M2025.90 253.89h6.50"/>
<path class="mt" d="M2025.90 616.20h3.70M2025.90 578.65h3.70M2025.90 552.01h3.70M2025.90 531.34h3.70M2025.90 514.46h3.70M2025.90 500.18h3.70M2025.90 487.81h3.70M2025.90 476.91h3.70M2025.90 402.95h3.70M2025.90 365.40h3.70M2025.90 338.76h3.70M2025.90 318.09h3.70M2025.90 301.20h3.70M2025.90 286.93h3.70M2025.90 274.56h3.70M2025.90 263.65h3.70M2025.90 189.70h3.70M2025.90 152.15h3.70M2025.90 125.50h3.70M2025.90 104.84h3.70M2025.90 87.95h3.70M2025.90 73.68h3.70M2025.90 61.31h3.70M2025.90 50.40h3.70"/>
<text class="t" text-anchor="end" transform="translate(1764.8 693.9) scale(1 1.01)">0</text>
<text class="t" text-anchor="end" transform="translate(1764.8 623.9) scale(1 1.01)">10</text>
<text class="t" text-anchor="end" transform="translate(1764.8 553.9) scale(1 1.01)">20</text>
<text class="t" text-anchor="end" transform="translate(1764.8 483.8) scale(1 1.01)">30</text>
<text class="t" text-anchor="end" transform="translate(1764.8 413.8) scale(1 1.01)">40</text>
<text class="t" text-anchor="end" transform="translate(1764.8 343.8) scale(1 1.01)">50</text>
<text class="t" text-anchor="end" transform="translate(1764.8 273.8) scale(1 1.01)">60</text>
<text class="t" text-anchor="end" transform="translate(1764.8 203.8) scale(1 1.01)">70</text>
<text class="t" text-anchor="end" transform="translate(1764.8 133.8) scale(1 1.01)">80</text>
<text class="t" text-anchor="end" transform="translate(1764.8 63.8) scale(1 1.01)">90</text>
<text class="t" text-anchor="middle" transform="translate(1778.4 719.9) scale(1 1.01)">0</text>
<text class="t" text-anchor="middle" transform="translate(1880.1 719.9) scale(1 1.01)">90</text>
<text class="t" text-anchor="middle" transform="translate(1981.8 719.9) scale(1 1.01)">180</text>
<text class="t" transform="translate(2039.4 692.4) scale(1 1.01)">10<tspan class="su" dy="-12.7">−1</tspan></text>
<text class="t" transform="translate(2039.4 479.1) scale(1 1.01)">10<tspan class="su" dy="-12.7">0</tspan></text>
<text class="t" transform="translate(2039.4 265.9) scale(1 1.01)">10<tspan class="su" dy="-12.7">1</tspan></text>
<text class="ti" text-anchor="middle" transform="translate(1880.1 31.2) scale(1 1.01)">duty cycle=50%</text>
<text class="t" text-anchor="middle" transform="translate(1879.5 760.1) scale(1 1.01)"><tspan class="it">α</tspan> [<tspan class="deg" dx="5.2" dy="-13.2">∘</tspan><tspan dx="5.8" dy="13.2">]</tspan></text>
<text class="t" text-anchor="middle" transform="translate(1703.5 365.4) rotate(-90) scale(1 1.01)">|<tspan class="it">β</tspan>| [<tspan class="deg" dx="5.2" dy="-13.2">∘</tspan><tspan dx="5.8" dy="13.2">]</tspan></text>
<text class="t" text-anchor="middle" transform="translate(2155.1 367.4) rotate(-90) scale(1 1.01)"><tspan class="it">ρ</tspan> (degrees)</text>
<path class="cd" d="M167.2 1020.7L166.8 1024.4L166.4 1028.1L166.1 1031.8L165.8 1035.5L165.5 1039.2L165.2 1042.8L164.9 1046.5L164.7 1050.2L164.5 1053.9L164.2 1057.7L164.0 1061.3L163.8 1065.1L163.7 1068.8L163.5 1072.5L163.3 1076.2L163.2 1079.9L163.0 1083.6L162.9 1087.3L162.7 1091.1L162.6 1094.8L162.5 1098.5L162.4 1102.2L162.3 1105.9L162.2 1109.7L162.0 1113.4L161.9 1117.1L161.8 1120.8L161.7 1124.5L161.6 1128.2L161.5 1132.0L161.4 1135.7L161.3 1139.4L161.2 1143.1L161.1 1146.8L160.9 1150.5L160.8 1154.2L160.7 1157.9L160.6 1161.6L160.4 1165.3L160.3 1169.0L160.1 1172.7L160.0 1176.4L159.9 1180.1L159.8 1183.8L159.6 1187.5L159.5 1191.3L159.4 1195.0L159.3 1198.7L159.2 1202.4L159.2 1206.1L159.1 1209.9L159.1 1213.6L159.1 1217.3L159.1 1221.1L159.1 1224.8L159.1 1228.6L159.4 1232.5L160.0 1236.6L161.1 1239.4L162.6 1239.0L164.4 1235.8L165.7 1231.8L166.6 1228.0L167.2 1224.3L167.7 1220.6L168.2 1216.9L168.7 1213.2L169.1 1209.5L169.5 1205.8L169.9 1202.1L170.2 1198.4L170.6 1194.7L170.8 1191.0L171.1 1187.3L171.4 1183.6L171.6 1179.9L171.8 1176.2L172.0 1172.5L172.2 1168.8L172.3 1165.1L172.5 1161.4L172.6 1157.7L172.7 1154.0L172.8 1150.2L172.9 1146.5L173.0 1142.8L173.1 1139.1L173.2 1135.4L173.3 1131.7L173.4 1128.0L173.5 1124.2L173.5 1120.5L173.6 1116.8L173.7 1113.1L173.7 1109.3L173.8 1105.6L173.8 1101.9L173.8 1098.2L173.8 1094.5L173.8 1090.7L173.7 1087.0L173.7 1083.3L173.6 1079.6L173.5 1075.9L173.4 1072.2L173.2 1068.5L173.1 1064.7L172.9 1061.0L172.6 1057.3L172.4 1053.6L172.1 1050.0L171.7 1046.3L171.4 1042.6L171.0 1038.9L170.5 1035.2L170.1 1031.6L169.5 1027.9L169.0 1024.3L168.4 1020.6Z" clip-path="url(#clip4)"/>
<path class="cs" d="M167.6 1090.2L167.1 1092.9L166.6 1095.6L166.2 1098.4L165.8 1101.1L165.5 1103.8L165.2 1106.5L164.9 1109.3L164.7 1112.0L164.6 1114.7L164.4 1117.5L164.2 1120.2L164.1 1123.0L164.0 1125.7L163.9 1128.5L163.9 1131.2L163.8 1134.0L163.7 1136.7L163.6 1139.5L163.5 1142.3L163.4 1145.0L163.3 1147.8L163.2 1150.5L163.1 1153.3L163.0 1156.1L162.8 1158.8L162.8 1161.5L162.7 1164.2L162.6 1167.0L162.6 1169.6L162.6 1172.3L162.6 1175.1L162.6 1177.8L162.6 1180.6L162.7 1183.4L162.8 1186.4L163.0 1189.5L163.4 1192.7L163.9 1195.6L164.5 1197.3L165.2 1197.2L165.9 1195.4L166.6 1192.5L167.2 1189.3L167.7 1186.2L168.1 1183.4L168.4 1180.6L168.7 1177.8L168.9 1175.1L169.2 1172.4L169.3 1169.6L169.4 1166.9L169.6 1164.2L169.7 1161.5L169.7 1158.7L169.8 1156.0L169.9 1153.3L169.9 1150.5L170.0 1147.8L170.1 1145.0L170.2 1142.3L170.3 1139.5L170.4 1136.8L170.5 1134.0L170.6 1131.2L170.7 1128.5L170.7 1125.7L170.8 1123.0L170.8 1120.2L170.8 1117.4L170.7 1114.7L170.6 1111.9L170.5 1109.2L170.3 1106.5L170.0 1103.7L169.7 1101.0L169.3 1098.3L168.9 1095.6L168.4 1092.9L167.8 1090.2Z" clip-path="url(#clip4)"/>
<ellipse cx="235.5" cy="1499.4" rx="1.6" ry="1.3"/>
<rect class="sp" x="101.00" y="869.40" width="203.40" height="630.00"/>
<rect class="sp" x="316.90" y="869.40" width="31.60" height="630.00"/>
<path class="tk" d="M101.00 1499.40h-6.50M101.00 1429.40h-6.50M101.00 1359.40h-6.50M101.00 1289.40h-6.50M101.00 1219.40h-6.50M101.00 1149.40h-6.50M101.00 1079.40h-6.50M101.00 1009.40h-6.50M101.00 939.40h-6.50M101.00 869.40h-6.50M101.00 1499.40v6.50M202.70 1499.40v6.50M304.40 1499.40v6.50M348.50 1499.40h6.50M348.50 1286.15h6.50M348.50 1072.89h6.50"/>
<path class="mt" d="M348.50 1435.20h3.70M348.50 1397.65h3.70M348.50 1371.01h3.70M348.50 1350.34h3.70M348.50 1333.46h3.70M348.50 1319.18h3.70M348.50 1306.81h3.70M348.50 1295.91h3.70M348.50 1221.95h3.70M348.50 1184.40h3.70M348.50 1157.76h3.70M348.50 1137.09h3.70M348.50 1120.20h3.70M348.50 1105.93h3.70M348.50 1093.56h3.70M348.50 1082.65h3.70M348.50 1008.70h3.70M348.50 971.15h3.70M348.50 944.50h3.70M348.50 923.84h3.70M348.50 906.95h3.70M348.50 892.68h3.70M348.50 880.31h3.70M348.50 869.40h3.70"/>
<text class="t" text-anchor="end" transform="translate(87.4 1512.9) scale(1 1.01)">0</text>
<text class="t" text-anchor="end" transform="translate(87.4 1442.9) scale(1 1.01)">10</text>
<text class="t" text-anchor="end" transform="translate(87.4 1372.9) scale(1 1.01)">20</text>
<text class="t" text-anchor="end" transform="translate(87.4 1302.9) scale(1 1.01)">30</text>
<text class="t" text-anchor="end" transform="translate(87.4 1232.9) scale(1 1.01)">40</text>
<text class="t" text-anchor="end" transform="translate(87.4 1162.9) scale(1 1.01)">50</text>
<text class="t" text-anchor="end" transform="translate(87.4 1092.9) scale(1 1.01)">60</text>
<text class="t" text-anchor="end" transform="translate(87.4 1022.9) scale(1 1.01)">70</text>
<text class="t" text-anchor="end" transform="translate(87.4 952.9) scale(1 1.01)">80</text>
<text class="t" text-anchor="end" transform="translate(87.4 882.9) scale(1 1.01)">90</text>
<text class="t" text-anchor="middle" transform="translate(101.0 1538.9) scale(1 1.01)">0</text>
<text class="t" text-anchor="middle" transform="translate(202.7 1538.9) scale(1 1.01)">90</text>
<text class="t" text-anchor="middle" transform="translate(304.4 1538.9) scale(1 1.01)">180</text>
<text class="t" transform="translate(362.0 1511.4) scale(1 1.01)">10<tspan class="su" dy="-12.7">−1</tspan></text>
<text class="t" transform="translate(362.0 1298.1) scale(1 1.01)">10<tspan class="su" dy="-12.7">0</tspan></text>
<text class="t" transform="translate(362.0 1084.9) scale(1 1.01)">10<tspan class="su" dy="-12.7">1</tspan></text>
<text class="ti" text-anchor="middle" transform="translate(202.7 850.2) scale(1 1.01)">duty cycle=65%</text>
<text class="t" text-anchor="middle" transform="translate(202.1 1579.1) scale(1 1.01)"><tspan class="it">α</tspan> [<tspan class="deg" dx="5.2" dy="-13.2">∘</tspan><tspan dx="5.8" dy="13.2">]</tspan></text>
<text class="t" text-anchor="middle" transform="translate(26.1 1184.4) rotate(-90) scale(1 1.01)">|<tspan class="it">β</tspan>| [<tspan class="deg" dx="5.2" dy="-13.2">∘</tspan><tspan dx="5.8" dy="13.2">]</tspan></text>
<text class="t" text-anchor="middle" transform="translate(477.7 1186.4) rotate(-90) scale(1 1.01)"><tspan class="it">ρ</tspan> (degrees)</text>
<path class="cd" d="M713.1 905.6L713.0 908.8L713.0 912.0L713.0 915.2L712.9 918.5L712.9 921.7L712.9 924.9L712.9 928.1L712.9 931.4L712.9 934.6L712.9 937.8L712.9 941.0L712.9 944.2L713.0 947.5L713.0 950.7L713.0 953.9L713.1 957.1L713.1 960.3L713.2 963.6L713.2 966.8L713.3 970.0L713.3 973.2L713.4 976.4L713.5 979.7L713.5 982.9L713.6 986.1L713.7 989.3L713.7 992.5L713.8 995.8L713.9 999.0L713.9 1002.2L714.0 1005.4L714.1 1008.6L714.1 1011.9L714.2 1015.1L714.3 1018.3L714.4 1021.5L714.4 1024.7L714.5 1028.0L714.5 1031.2L714.6 1034.4L714.6 1037.6L714.7 1040.8L714.8 1044.1L714.8 1047.3L714.8 1050.5L714.9 1053.7L714.9 1057.0L715.0 1060.2L715.0 1063.4L715.1 1066.6L715.1 1069.8L715.2 1073.1L715.2 1076.3L715.3 1079.5L715.3 1082.7L715.4 1086.0L715.4 1089.2L715.5 1092.4L715.6 1095.6L715.6 1098.8L715.7 1102.1L715.8 1105.3L715.9 1108.5L716.0 1111.7L716.1 1114.9L716.2 1118.2L716.4 1121.4L716.5 1124.6L716.7 1127.8L716.9 1131.0L717.0 1134.2L717.3 1137.4L717.5 1140.6L717.8 1143.8L718.0 1147.0L718.3 1150.2L718.6 1153.4L719.0 1156.6L719.4 1159.8L721.4 1156.5L721.7 1153.2L722.0 1150.0L722.3 1146.8L722.5 1143.6L722.8 1140.4L723.0 1137.2L723.2 1134.0L723.4 1130.8L723.6 1127.6L723.8 1124.3L723.9 1121.1L724.0 1117.9L724.1 1114.7L724.2 1111.5L724.3 1108.3L724.4 1105.0L724.4 1101.8L724.5 1098.6L724.5 1095.4L724.5 1092.2L724.5 1088.9L724.5 1085.7L724.5 1082.5L724.5 1079.3L724.5 1076.0L724.4 1072.8L724.4 1069.6L724.3 1066.4L724.2 1063.1L724.1 1059.9L724.1 1056.7L724.0 1053.5L723.9 1050.2L723.8 1047.0L723.6 1043.8L723.5 1040.6L723.4 1037.3L723.3 1034.1L723.2 1030.9L723.0 1027.7L722.9 1024.5L722.8 1021.2L722.6 1018.0L722.5 1014.8L722.3 1011.6L722.1 1008.3L722.0 1005.1L721.8 1001.9L721.6 998.7L721.5 995.5L721.3 992.2L721.1 989.0L720.9 985.8L720.7 982.6L720.5 979.4L720.3 976.1L720.1 972.9L719.9 969.7L719.6 966.5L719.4 963.3L719.1 960.1L718.9 956.9L718.6 953.6L718.4 950.4L718.1 947.2L717.8 944.0L717.5 940.8L717.3 937.6L717.0 934.4L716.7 931.2L716.3 928.0L716.0 924.8L715.7 921.6L715.4 918.4L715.0 915.2L714.7 912.0L714.3 908.8L713.9 905.5Z" clip-path="url(#clip5)"/>
<path class="cs" d="M716.9 983.4L716.8 986.0L716.7 988.5L716.6 991.1L716.5 993.7L716.5 996.2L716.5 998.8L716.5 1001.4L716.5 1004.0L716.5 1006.5L716.5 1009.1L716.5 1011.7L716.5 1014.3L716.6 1016.8L716.6 1019.4L716.7 1022.0L716.7 1024.6L716.8 1027.2L716.9 1029.7L716.9 1032.3L717.0 1034.9L717.1 1037.5L717.2 1040.0L717.3 1042.6L717.4 1045.2L717.4 1047.8L717.5 1050.3L717.6 1052.9L717.7 1055.5L717.8 1058.1L717.9 1060.7L717.9 1063.2L718.0 1065.8L718.1 1068.4L718.2 1071.0L718.3 1073.5L718.4 1076.1L718.5 1078.7L718.6 1081.3L718.7 1083.9L718.8 1086.4L718.9 1089.0L719.0 1091.6L719.1 1094.2L719.3 1096.7L719.4 1099.3L719.5 1101.9L719.7 1104.5L719.8 1107.0L720.0 1109.6L720.7 1107.0L720.8 1104.5L720.9 1101.9L721.0 1099.3L721.1 1096.7L721.2 1094.2L721.2 1091.6L721.3 1089.0L721.3 1086.4L721.4 1083.9L721.4 1081.3L721.4 1078.7L721.4 1076.1L721.4 1073.5L721.4 1071.0L721.4 1068.4L721.3 1065.8L721.3 1063.2L721.3 1060.7L721.2 1058.1L721.2 1055.5L721.1 1052.9L721.0 1050.3L721.0 1047.8L720.9 1045.2L720.8 1042.6L720.7 1040.0L720.6 1037.4L720.5 1034.9L720.4 1032.3L720.3 1029.7L720.2 1027.1L720.0 1024.5L719.9 1022.0L719.8 1019.4L719.7 1016.8L719.5 1014.2L719.4 1011.7L719.2 1009.1L719.1 1006.5L718.9 1004.0L718.8 1001.4L718.6 998.8L718.5 996.2L718.3 993.7L718.1 991.1L718.0 988.5L717.8 986.0L717.6 983.4Z" clip-path="url(#clip5)"/>
<rect class="sp" x="660.10" y="869.40" width="203.40" height="630.00"/>
<rect class="sp" x="876.00" y="869.40" width="31.60" height="630.00"/>
<path class="tk" d="M660.10 1499.40h-6.50M660.10 1429.40h-6.50M660.10 1359.40h-6.50M660.10 1289.40h-6.50M660.10 1219.40h-6.50M660.10 1149.40h-6.50M660.10 1079.40h-6.50M660.10 1009.40h-6.50M660.10 939.40h-6.50M660.10 869.40h-6.50M660.10 1499.40v6.50M761.80 1499.40v6.50M863.50 1499.40v6.50M907.60 1499.40h6.50M907.60 1286.15h6.50M907.60 1072.89h6.50"/>
<path class="mt" d="M907.60 1435.20h3.70M907.60 1397.65h3.70M907.60 1371.01h3.70M907.60 1350.34h3.70M907.60 1333.46h3.70M907.60 1319.18h3.70M907.60 1306.81h3.70M907.60 1295.91h3.70M907.60 1221.95h3.70M907.60 1184.40h3.70M907.60 1157.76h3.70M907.60 1137.09h3.70M907.60 1120.20h3.70M907.60 1105.93h3.70M907.60 1093.56h3.70M907.60 1082.65h3.70M907.60 1008.70h3.70M907.60 971.15h3.70M907.60 944.50h3.70M907.60 923.84h3.70M907.60 906.95h3.70M907.60 892.68h3.70M907.60 880.31h3.70M907.60 869.40h3.70"/>
<text class="t" text-anchor="end" transform="translate(646.5 1512.9) scale(1 1.01)">0</text>
<text class="t" text-anchor="end" transform="translate(646.5 1442.9) scale(1 1.01)">10</text>
<text class="t" text-anchor="end" transform="translate(646.5 1372.9) scale(1 1.01)">20</text>
<text class="t" text-anchor="end" transform="translate(646.5 1302.9) scale(1 1.01)">30</text>
<text class="t" text-anchor="end" transform="translate(646.5 1232.9) scale(1 1.01)">40</text>
<text class="t" text-anchor="end" transform="translate(646.5 1162.9) scale(1 1.01)">50</text>
<text class="t" text-anchor="end" transform="translate(646.5 1092.9) scale(1 1.01)">60</text>
<text class="t" text-anchor="end" transform="translate(646.5 1022.9) scale(1 1.01)">70</text>
<text class="t" text-anchor="end" transform="translate(646.5 952.9) scale(1 1.01)">80</text>
<text class="t" text-anchor="end" transform="translate(646.5 882.9) scale(1 1.01)">90</text>
<text class="t" text-anchor="middle" transform="translate(660.1 1538.9) scale(1 1.01)">0</text>
<text class="t" text-anchor="middle" transform="translate(761.8 1538.9) scale(1 1.01)">90</text>
<text class="t" text-anchor="middle" transform="translate(863.5 1538.9) scale(1 1.01)">180</text>
<text class="t" transform="translate(921.1 1511.4) scale(1 1.01)">10<tspan class="su" dy="-12.7">−1</tspan></text>
<text class="t" transform="translate(921.1 1298.1) scale(1 1.01)">10<tspan class="su" dy="-12.7">0</tspan></text>
<text class="t" transform="translate(921.1 1084.9) scale(1 1.01)">10<tspan class="su" dy="-12.7">1</tspan></text>
<text class="ti" text-anchor="middle" transform="translate(761.8 850.2) scale(1 1.01)">duty cycle=80%</text>
<text class="t" text-anchor="middle" transform="translate(761.2 1579.1) scale(1 1.01)"><tspan class="it">α</tspan> [<tspan class="deg" dx="5.2" dy="-13.2">∘</tspan><tspan dx="5.8" dy="13.2">]</tspan></text>
<text class="t" text-anchor="middle" transform="translate(585.2 1184.4) rotate(-90) scale(1 1.01)">|<tspan class="it">β</tspan>| [<tspan class="deg" dx="5.2" dy="-13.2">∘</tspan><tspan dx="5.8" dy="13.2">]</tspan></text>
<text class="t" text-anchor="middle" transform="translate(1036.8 1186.4) rotate(-90) scale(1 1.01)"><tspan class="it">ρ</tspan> (degrees)</text>
<path class="cd" d="M1264.6 866.4L1264.6 868.7L1264.7 871.1L1264.8 873.4L1264.8 875.8L1264.9 878.1L1265.0 880.4L1265.1 882.8L1265.1 885.1L1265.2 887.4L1265.3 889.8L1265.4 892.1L1265.4 894.5L1265.5 896.8L1265.6 899.1L1265.7 901.5L1265.8 903.8L1265.8 906.1L1265.9 908.5L1266.0 910.8L1266.1 913.2L1266.2 915.5L1266.3 917.8L1266.4 920.2L1266.5 922.5L1266.6 924.9L1266.7 927.2L1266.8 929.5L1266.9 931.9L1267.0 934.2L1267.1 936.5L1267.2 938.9L1267.3 941.2L1267.4 943.5L1267.5 945.9L1267.6 948.2L1267.7 950.6L1267.8 952.9L1268.0 955.2L1268.1 957.6L1268.2 959.9L1268.3 962.2L1268.5 964.6L1268.6 966.9L1268.7 969.2L1268.8 971.6L1269.0 973.9L1269.1 976.2L1269.2 978.6L1269.4 980.9L1269.5 983.3L1269.7 985.6L1269.8 987.9L1270.0 990.3L1270.1 992.6L1270.3 994.9L1270.4 997.3L1270.6 999.6L1270.8 1001.9L1270.9 1004.3L1271.1 1006.6L1271.3 1008.9L1271.5 1011.2L1271.6 1013.6L1271.8 1015.9L1272.0 1018.2L1272.2 1020.6L1272.4 1022.9L1272.5 1025.2L1272.7 1027.6L1272.9 1029.9L1273.1 1032.2L1273.3 1034.6L1273.5 1036.9L1273.8 1039.2L1274.0 1041.5L1274.2 1043.9L1274.4 1046.2L1274.6 1048.5L1274.8 1050.8L1276.0 1048.5L1276.1 1046.2L1276.2 1043.9L1276.3 1041.5L1276.4 1039.2L1276.4 1036.9L1276.5 1034.5L1276.5 1032.2L1276.6 1029.9L1276.6 1027.5L1276.6 1025.2L1276.6 1022.9L1276.6 1020.5L1276.6 1018.2L1276.6 1015.9L1276.6 1013.5L1276.6 1011.2L1276.5 1008.9L1276.5 1006.5L1276.5 1004.2L1276.4 1001.9L1276.4 999.5L1276.3 997.2L1276.3 994.8L1276.2 992.5L1276.2 990.2L1276.1 987.8L1276.0 985.5L1275.9 983.2L1275.9 980.8L1275.8 978.5L1275.7 976.1L1275.6 973.8L1275.5 971.5L1275.4 969.1L1275.3 966.8L1275.2 964.5L1275.1 962.1L1275.0 959.8L1274.9 957.5L1274.8 955.1L1274.7 952.8L1274.6 950.4L1274.5 948.1L1274.3 945.8L1274.2 943.4L1274.1 941.1L1274.0 938.8L1273.8 936.4L1273.7 934.1L1273.6 931.8L1273.5 929.4L1273.3 927.1L1273.2 924.8L1273.0 922.4L1272.9 920.1L1272.8 917.7L1272.6 915.4L1272.5 913.1L1272.4 910.7L1272.2 908.4L1272.1 906.1L1272.0 903.7L1271.8 901.4L1271.7 899.1L1271.5 896.7L1271.4 894.4L1271.3 892.1L1271.1 889.7L1271.0 887.4L1270.9 885.1L1270.7 882.7L1270.6 880.4L1270.5 878.1L1270.3 875.7L1270.2 873.4L1270.1 871.1L1269.9 868.7L1269.8 866.4" clip-path="url(#clip6)"/>
<path class="cs" d="M1266.1 866.4L1266.2 869.5L1266.4 872.6L1266.6 875.7L1266.7 878.8L1266.9 881.9L1267.0 885.0L1267.1 888.1L1267.3 891.2L1267.4 894.3L1267.5 897.4L1267.6 900.5L1267.7 903.6L1267.9 906.8L1268.0 909.9L1268.1 913.0L1268.2 916.1L1268.3 919.2L1268.5 922.3L1268.6 925.4L1268.7 928.5L1268.8 931.6L1269.0 934.7L1269.1 937.8L1269.3 940.9L1269.4 944.0L1269.6 947.1L1269.8 950.2L1270.0 953.3L1270.2 956.4L1270.4 959.5L1270.6 962.6L1270.8 965.7L1271.1 968.8L1271.3 971.9L1271.6 975.0L1271.9 978.1L1272.2 981.2L1272.5 984.3L1272.8 987.4L1273.4 984.2L1273.3 981.1L1273.3 978.0L1273.2 974.9L1273.2 971.8L1273.1 968.8L1273.0 965.6L1272.9 962.5L1272.8 959.4L1272.7 956.3L1272.6 953.2L1272.5 950.1L1272.4 947.0L1272.2 943.9L1272.1 940.8L1271.9 937.7L1271.8 934.6L1271.6 931.5L1271.5 928.4L1271.3 925.3L1271.1 922.2L1271.0 919.1L1270.8 916.0L1270.6 912.9L1270.4 909.8L1270.2 906.7L1270.1 903.6L1269.9 900.5L1269.7 897.4L1269.5 894.3L1269.3 891.2L1269.2 888.1L1269.0 885.0L1268.8 881.9L1268.7 878.8L1268.5 875.7L1268.3 872.6L1268.2 869.5L1268.0 866.4" clip-path="url(#clip6)"/>
<path class="cd" d="M1372.7 866.4L1372.8 868.4L1372.9 870.4L1373.0 872.3L1373.1 874.3L1373.2 876.3L1373.3 878.2L1373.4 880.2L1373.5 882.2L1373.6 884.2L1373.7 886.1L1373.8 888.1L1374.0 890.1L1374.1 892.0L1374.2 894.0L1374.3 896.0L1374.5 898.0L1374.6 899.9L1374.8 901.9L1374.9 903.9L1375.0 905.9L1375.2 907.8L1375.3 909.8L1375.5 911.8L1375.6 913.7L1375.8 915.7L1375.9 917.7L1376.1 919.6L1376.2 921.6L1376.4 923.6L1376.5 925.6L1376.7 927.5L1376.8 929.5L1377.0 931.5L1377.2 933.4L1377.3 935.4L1377.5 937.4L1377.7 939.3L1377.8 941.3L1378.0 943.3L1378.2 945.2L1378.3 947.2L1378.5 949.2L1378.7 951.2L1378.8 953.1L1379.0 955.1L1379.2 957.1L1379.4 959.0L1379.5 961.0L1379.7 963.0L1379.9 964.9L1380.1 966.9L1380.2 968.9L1380.4 970.9L1380.6 972.8L1380.8 974.8L1380.9 976.8L1381.1 978.7L1381.3 980.7L1381.5 982.7L1381.7 984.6L1381.8 986.6L1382.0 988.6L1382.2 990.5L1382.4 992.5L1382.5 994.5L1382.7 996.4L1382.9 998.4L1383.1 1000.4L1383.2 1002.3L1383.4 1004.3L1383.6 1006.3L1383.8 1008.2L1383.9 1010.2L1384.1 1012.2L1384.3 1014.1L1384.4 1016.1L1384.6 1018.1L1384.8 1020.1L1384.9 1022.0L1385.1 1020.0L1385.0 1018.1L1385.0 1016.1L1384.9 1014.1L1384.8 1012.2L1384.7 1010.2L1384.6 1008.2L1384.5 1006.2L1384.5 1004.3L1384.4 1002.3L1384.3 1000.3L1384.2 998.4L1384.1 996.4L1384.0 994.4L1383.9 992.5L1383.8 990.5L1383.7 988.5L1383.6 986.5L1383.5 984.6L1383.4 982.6L1383.3 980.6L1383.2 978.7L1383.1 976.7L1383.0 974.7L1382.9 972.8L1382.8 970.8L1382.8 968.8L1382.7 966.9L1382.5 964.9L1382.5 962.9L1382.3 960.9L1382.2 959.0L1382.2 957.0L1382.0 955.0L1382.0 953.1L1381.8 951.1L1381.8 949.1L1381.7 947.1L1381.5 945.2L1381.5 943.2L1381.3 941.2L1381.2 939.3L1381.2 937.3L1381.0 935.3L1381.0 933.4L1380.8 931.4L1380.8 929.4L1380.7 927.5L1380.5 925.5L1380.5 923.5L1380.3 921.5L1380.2 919.6L1380.2 917.6L1380.0 915.6L1380.0 913.7L1379.9 911.7L1379.8 909.7L1379.7 907.8L1379.6 905.8L1379.5 903.8L1379.4 901.9L1379.3 899.9L1379.2 897.9L1379.1 895.9L1379.0 894.0L1378.9 892.0L1378.8 890.0L1378.7 888.1L1378.6 886.1L1378.5 884.1L1378.5 882.1L1378.4 880.2L1378.3 878.2L1378.2 876.2L1378.1 874.3L1378.0 872.3L1377.9 870.3L1377.8 868.4L1377.8 866.4" clip-path="url(#clip6)"/>
<path class="cs" d="M1374.1 866.4L1374.2 868.1L1374.3 869.7L1374.5 871.4L1374.5 873.1L1374.6 874.8L1374.7 876.4L1374.8 878.1L1374.9 879.8L1375.0 881.5L1375.0 883.1L1375.1 884.8L1375.2 886.5L1375.2 888.1L1375.3 889.8L1375.4 891.5L1375.5 893.2L1375.6 894.8L1375.7 896.5L1375.8 898.2L1375.9 899.9L1376.0 901.5L1376.2 903.2L1376.3 904.9L1376.5 906.5L1376.7 908.2L1376.9 909.8L1377.1 911.5L1377.3 913.2L1377.6 914.8L1377.8 913.1L1377.9 911.5L1378.0 909.8L1378.1 908.1L1378.1 906.5L1378.2 904.8L1378.2 903.1L1378.2 901.5L1378.1 899.8L1378.1 898.1L1378.0 896.5L1377.9 894.8L1377.8 893.1L1377.7 891.5L1377.6 889.8L1377.5 888.1L1377.3 886.4L1377.2 884.8L1377.1 883.1L1377.0 881.4L1376.9 879.8L1376.8 878.1L1376.6 876.4L1376.5 874.8L1376.5 873.1L1376.4 871.4L1376.3 869.7L1376.3 868.1L1376.3 866.4" clip-path="url(#clip6)"/>
<path d="M1422.7 1499.4L1414.8 1401.4" stroke="#e9a96a" stroke-width="0.8" opacity="0.7" fill="none" clip-path="url(#clip6)"/>
<path d="M1414.8 1401.4L1406.9 1303.4" stroke="#ecc47c" stroke-width="0.8" opacity="0.45" fill="none" clip-path="url(#clip6)"/>
<rect class="sp" x="1219.30" y="869.40" width="203.40" height="630.00"/>
<rect class="sp" x="1435.20" y="869.40" width="31.60" height="630.00"/>
<path class="tk" d="M1219.30 1499.40h-6.50M1219.30 1429.40h-6.50M1219.30 1359.40h-6.50M1219.30 1289.40h-6.50M1219.30 1219.40h-6.50M1219.30 1149.40h-6.50M1219.30 1079.40h-6.50M1219.30 1009.40h-6.50M1219.30 939.40h-6.50M1219.30 869.40h-6.50M1219.30 1499.40v6.50M1321.00 1499.40v6.50M1422.70 1499.40v6.50M1466.80 1499.40h6.50M1466.80 1286.15h6.50M1466.80 1072.89h6.50"/>
<path class="mt" d="M1466.80 1435.20h3.70M1466.80 1397.65h3.70M1466.80 1371.01h3.70M1466.80 1350.34h3.70M1466.80 1333.46h3.70M1466.80 1319.18h3.70M1466.80 1306.81h3.70M1466.80 1295.91h3.70M1466.80 1221.95h3.70M1466.80 1184.40h3.70M1466.80 1157.76h3.70M1466.80 1137.09h3.70M1466.80 1120.20h3.70M1466.80 1105.93h3.70M1466.80 1093.56h3.70M1466.80 1082.65h3.70M1466.80 1008.70h3.70M1466.80 971.15h3.70M1466.80 944.50h3.70M1466.80 923.84h3.70M1466.80 906.95h3.70M1466.80 892.68h3.70M1466.80 880.31h3.70M1466.80 869.40h3.70"/>
<text class="t" text-anchor="end" transform="translate(1205.7 1512.9) scale(1 1.01)">0</text>
<text class="t" text-anchor="end" transform="translate(1205.7 1442.9) scale(1 1.01)">10</text>
<text class="t" text-anchor="end" transform="translate(1205.7 1372.9) scale(1 1.01)">20</text>
<text class="t" text-anchor="end" transform="translate(1205.7 1302.9) scale(1 1.01)">30</text>
<text class="t" text-anchor="end" transform="translate(1205.7 1232.9) scale(1 1.01)">40</text>
<text class="t" text-anchor="end" transform="translate(1205.7 1162.9) scale(1 1.01)">50</text>
<text class="t" text-anchor="end" transform="translate(1205.7 1092.9) scale(1 1.01)">60</text>
<text class="t" text-anchor="end" transform="translate(1205.7 1022.9) scale(1 1.01)">70</text>
<text class="t" text-anchor="end" transform="translate(1205.7 952.9) scale(1 1.01)">80</text>
<text class="t" text-anchor="end" transform="translate(1205.7 882.9) scale(1 1.01)">90</text>
<text class="t" text-anchor="middle" transform="translate(1219.3 1538.9) scale(1 1.01)">0</text>
<text class="t" text-anchor="middle" transform="translate(1321.0 1538.9) scale(1 1.01)">90</text>
<text class="t" text-anchor="middle" transform="translate(1422.7 1538.9) scale(1 1.01)">180</text>
<text class="t" transform="translate(1480.3 1511.4) scale(1 1.01)">10<tspan class="su" dy="-12.7">−1</tspan></text>
<text class="t" transform="translate(1480.3 1298.1) scale(1 1.01)">10<tspan class="su" dy="-12.7">0</tspan></text>
<text class="t" transform="translate(1480.3 1084.9) scale(1 1.01)">10<tspan class="su" dy="-12.7">1</tspan></text>
<text class="ti" text-anchor="middle" transform="translate(1321.0 850.2) scale(1 1.01)">duty cycle=95%</text>
<text class="t" text-anchor="middle" transform="translate(1320.4 1579.1) scale(1 1.01)"><tspan class="it">α</tspan> [<tspan class="deg" dx="5.2" dy="-13.2">∘</tspan><tspan dx="5.8" dy="13.2">]</tspan></text>
<text class="t" text-anchor="middle" transform="translate(1144.4 1184.4) rotate(-90) scale(1 1.01)">|<tspan class="it">β</tspan>| [<tspan class="deg" dx="5.2" dy="-13.2">∘</tspan><tspan dx="5.8" dy="13.2">]</tspan></text>
<text class="t" text-anchor="middle" transform="translate(1596.0 1186.4) rotate(-90) scale(1 1.01)"><tspan class="it">ρ</tspan> (degrees)</text>
</svg></div></body></html>
